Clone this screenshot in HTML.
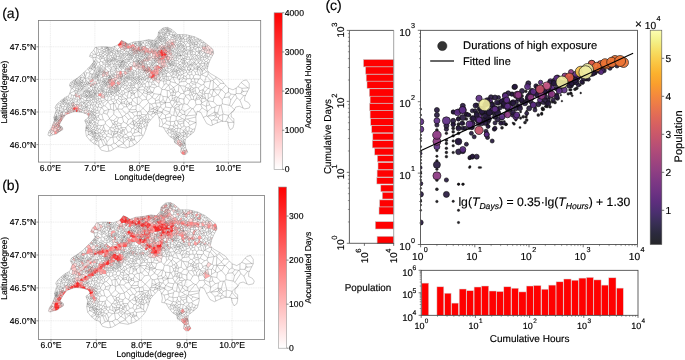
<!DOCTYPE html><html><head><meta charset="utf-8"><style>
html,body{margin:0;padding:0;background:#fff;width:685px;height:360px;overflow:hidden}
svg{display:block;will-change:transform} text{font-family:"Liberation Sans", sans-serif;text-rendering:geometricPrecision;stroke:#000;stroke-width:0.16px}
</style></head><body><svg width="685" height="360" viewBox="0 0 685 360">
<defs><path id="net" d="M118.2 146.8l-.1-.7-2.6-2.6-1.7-.4-3 2 2.8 4.1M118.1 146.1l5.4-2.5 3.7 4.1M110.8 145.1l-2.9 .4 1 5.6M115.5 143.5l3.1-2.9-2.5-3.7 1.4-.8 1.9 1.2 .9 1-.8 2.1-.9 .2M113.8 143.1l-.9-6-2 .4-3.9 4.3-1.6-4.1-2 1.9 2.8 5.5 .5-.1 .3-3.2M107.9 145.5l-1.2-.5M50 130.9l1.6-.8-.8-1.2M50 130.9l-.5-.3M50 130.9l.4 .8 1.7-1.2 1.4 .6-2 2.3-.2 0-1.1-.6 .2-1.1M51.6 130.1l.5 .4M105.4 137.7l0-.1 1.3-1.4 4.2 1.3M103.4 139.6l-2.1 .3 2.4 5.8 2.5-.6M243.7 95.6l1.8-.1M243.7 95.6l-3.7 4.7 3.1 7.8M243.7 95.6l-2.9-1.9-4.7-.2-.6 1 1.4 3.3 3.1 2.5M233.6 122.3l-5.2-5.7-2.7 4.8M233.6 122.3l-5.9 .2M233.6 122.3l.3 .1M228.4 116.6l0-1.2-5.2-1.3-2.1-9.1 1.3-1.1 7.1 1.4 1.7 1.1 3.1 3.3-5.9 5.7M213.1 50.8l-.4 1 .6 .1M212.7 51.8l-.3 .3-1.2-.3 .1 1.5 1.5-.5-.4-.7M123.5 143.6l0-.5 .3-.7 2.9-2.6 1-.3 1.7 1.7 1.1-.4 .2-1.5-2.6-1.1-.4 1.3M93.7 50.2l2.5 4.4-2.9-.5-1.6-1.9M96.2 54.6l.1 .1 .5-1.1-.3-5.8 1.2 .9 1 3.5-1.9 1.4M93.3 54.1l-.9 2 .8 1.4-.3 .4-3.5-1.4 1.4-3.4 2.8-2.8 1.4-2.8 5.6-.7 5.5 0 5.6 .7 5.5-2.1 2.8-2.8 1.4-2.2 3.6 1.5 3 2.2 5.8-2.2 7.3-.7 7.3-1.5 5.8 .7 3.7-4.3 .7-4.4 4.4-3.7 4.4-.7 4.4 2.2 5.8 5.1 8.2 0 8.8 2.2-.1 .3-3.3 .3-.1 0-1.3 0-1.2 .4 .3-1.6 0-.8M97.7 48.7l2.2 .9 1.3 1.3-.3 1.1-1.2 .7-1-.5M96.5 47.8l-.3-.4M100.9 52l1.2 1.5 .5-.2 .5-1.4-.6-1.1-.1-.1-1.2 .2M99.9 49.6l1.1-.7 1.6-.4 .6 1.2-.8 1M99.7 52.7l-.2 1.9-.6 .6-.5 .2-1.7 .2-.4-.9M58 123.5l.1-1.6 2.1 1.2M58 123.5l2 0M58 123.5l-.5 .7-1-.6 .1-1.4 1.5-.4 0 .1M53.5 131.1l.1 0 .4-3.1-2.3-.6M51.5 133.4l1 1.5M50.2 132.8l-1.7 .1M51.3 133.4l-1.8 2.5M53.6 131.1l.8 .5 .3 2.7M54 128l.3-.2 2.7 1 .1 .1-.5 1.6 1.8 .4 .4 .4-.6 .3-1.9-.1-.2-.3 .5-.7M54.4 131.6l1.7-.4M58.8 131.3l.8 .2M58.2 131.6l-.1 .9M58.4 130.9l.3-1.4 .8 0 .5 1.2 0 .6M56.3 131.5l.5 .7 1 .6M60 130.7l1.4-1-.5-.7-.9-.2-.1 .1-.4 .6M58.7 129.5l-1.6-.6M56.8 132.2l-.3 1.6M57 128.8l.7-1.3-1.1-.9-.1-1.1 .2-.3 .8-.5 .5 1.1-.1 1.5-.2 .2M54.3 127.8l.3-.9 0-1-.1-.1-1.9-.7M241.2 82.5l6.7 5.4-5.9 .4-4.1-1.6M247.9 87.9l1.3 .2-1.8 3.6-2.7 5.4 0 3.6 3.6 1.8 1.9 2.8-1 2.7-4.5 .9-5.4-2.7-3.6 .9-1.8 3.6-2.7 2.7 0 3.6 2.7 1.8 0 5.4-.9 3.7-2.7 1.8-1.8-3.6-1-4.6-6.2-.2-5.8 2.2-4.4 2.2-4.4-2.2-2.9-5.1-2.9-5.9-3.7-1.4-1.4 5.8 .4 7.3-1.9 7.3-5.1 4.4-3.7 2.9-.5 3.3 .7 5.9 2.2 4.3-2.2 2.2-2.9 0-2.2-2.2 .7-4.3-2.9-3-3.7-2.2-.7-3.6-4.4-2.9-3.5-4.4-2.8-4.8-4.1-.7 .7-4.2-1.4-6.2-2.1-2.4-4.2 4.5-4.1 4.8-2.1 6.3-2.1 5.5-2.8 4.2-4.2 4.2-4.1 2.7-6.7 2.3-8.3-1.4-7 4.1-4.1 .7-5.6-1.4-3.3-5.1-3.5-1.1-4.4-3.5-3.5-4.4-.9-5.2 .9-6.2-1.7-4.3 2.8-1.8 1.3-2.2-2.5-2.5-3.8-1.3-3.7-.6-3.8-.3-3 .6-6 2.4-3.5 4.4-2 3.5-1.3 2.5 3.3 2.3 .3 2.3-4.3 2.6-1.9 1.6-3.5 .9-3.5 1.3-1.7-.9 .9-3.5 2.6-3.5 3-7.8-.6-2.8 1.2-3.7 1.3-3.8-1.3-2.5 1.3-2.5 3.7-3.7 5-3.8 3.8-1.9 1.2-3.1 1.3-3.7-1.9-3.8 1.2-2.5 5.7-3.7 5-3.8 2.6-2.5 2.8-2.8 4.1-4.1 2.8-3.5-.7-4.2M242 88.3l0 2.2-.7 2.2 2.4-1.3-1.7-.9M249.2 88.1l0-4.5-2.7-3.7-3.6 .9-2.7 2.8-2.7 3.6-4.5 2.7-4.5-1.8-.1 4.1-2.8 1.5-3.9-4 4-4.3M240.8 93.7l.5-1M236.1 93.5l.1-5.5M235.5 94.5l-.7 .1-4 5.4-1.8-3 2.1-3 3.7 .6M236.9 97.8l-5.7 8.6M149.2 88.1l.1-1.1 .1 0 .9-.2 4.2 1-1.6 4.7 0-.1-1.9-1.2-1.8-3.1-1.8 2.8-.9-1.2-1.8-1.4 .2-1 .8-.6 2.1 .2-1.3 2.8M149.3 87l-1.5-.1M149.4 87l-.9-4.9-.9-.4-.7 0-1.8 2.2 .6 2.8M150.3 86.8l1.5-2.6 .1-1.9 1.1-.7 2.5 3.5-3.7-.9M152.9 92.5l1 1.2-1.7 3.5-.1 .3 3.1 1.7 4.1-4.8 1.3-.2-1.5 5.5-3.5 1.1-.4-1.6M152.9 92.4l-.6 .3-2.9 1.4 2.8 3.1M154.5 87.8l2.5-1.3-1.5-1.4M151 91.2l-3.7 1.1-.2-.4-2.9-1.4-.8 2.3 3.8 1 .1-1.4 0-.1M101 48.9l.5-2.1M103.2 49.7l1.8-.1 .1-.2 0-.2-1-2.4M102.6 48.5l0-1.7M105 49.6l.5 .9 1.8-.1 .3-.5-.2-.8-1-.4-1.3 .7M105.1 49.2l.6-1.6 .9 .7-.2 .4M106.6 48.3l0-.1-.1-1.3M105.7 47.6l.3-.8M114.6 46.9l-.1-.5M114.6 46.9l-.6 1.3-.5 .7-1.6-.1 0-1.4M114.6 46.9l2.7 2.6-.3 1.1 3.8 0 .1-1.1-.7-1.6-.6-.3-2.3 1.9M111.9 48.8l-.9 .4-.9-.4-.2-1.5M114 48.2l1.9 2.2-2.4-.8 0-.7M159.6 33.3l-1.1-.8M159.6 33.3l.6-.2-.3-.6-1.4-.1M159.6 33.3l-.3 .9-1-.3M160.2 33.1l.6 .4-.6 1.2-.9-.5M159.9 32.5l.3-.4 2.1 .1-.4-1.2-.8-1-.2-.2M160.2 34.7l.1 1-.9 .2-1.3-1M160.8 33.5l1.3-.6 .2-.7 1 0 1.3-1.8 1.1 1.3-.5 .5-1.4 .2 .5 .9 .5 .5 .9-.1-.5-1.5M161.9 31l2.3-1.3-.1-.2-1.3-.2 .1-1.2M161.1 30l1.7-.7M160.2 32.1l-.4-1.4M162.1 32.9l.4 1.1-.1 1.1 .5 .2 1.2-.6-.5-.6-1.1-.1M58.1 121.8l.1-.4-1.3-.5-.9 .8 .6 .5M57.5 124.2l0 .4 0 .1M56.5 123.6l-1.5 .1-.5-.5-1.9 1.7M54.5 123.2l-.5-1.1-.2-.2M54 122.1l1.6-.5 .4 .1M55 123.7l-.1 .7-.4 1.4M55.6 121.6l.2-1.1-.3-.1-1.3 .7-.2 .2M110.7 119.9l2.8 .7 3.7-3.5-3.5-2.9-4.2 4.1-.2 .7 1.4 .9 2.1 4.2 1.9-2 .4 2-.9 .4-1.3 .1-.1-.5M113.5 120.6l1.4 .9 2.3-.2 1.3-3.5-1.3-.7M113.7 114.2l.3-3.6 2.9-1.4 .7-.2 4.9 7.7-.2 .5-3.8 .6M109.3 119l-3.9 2.7-2.1-1.8-1.4-5.4 1.6-1.3 3.6 1 2.4 4.1M124.5 101.6l2.2-2.3 .5 2-.9 3.7-1.5-1.2-.3-2.2-3.3 .9 .3-2.5-3-1.6-1.2 1.2 3.8 3.3 .1-.4M126.7 99.3l.1-.4 .9-.9-.4-1.2-2.8-2.7-1.2 .3-.5 .4-.3 1.5 3.4 2.5 .9 .1M127.2 101.3l2.2 1.5-1.1 1.1-1.9 1.2-.1-.1M124.8 103.8l-3.9-.4 0 .1 3.5 3.5 2.2-.3-.2-1.6M129.4 102.8l.2 .1 0 1.2-1.3-.2M114 110.6l-.4-.2-2.7-1.2-.9-4.7 3.4-1.1 .1 0 .1 7M116.9 109.2l-2.4-5.6-1-.2M117.6 109l.1 0 4.1 .1 2.6-2.1M122.5 116.7l2.2-1.3 3.6 4.1 3-1.2-3.6-5.2-1.6 .8-1.4 1.5M122.3 117.2l1.3 4.8 3.1 1.7 1.6-4.2M144.9 87.3l-2.7-.8-2.9 1.2-1.1 .7-.5 .8 .1 .5-5 1.1 .1 1.5 1.8 .9 3-2.5 .6 6.3-1.2 .6-1.8 0-1-3.4 .2-.6 .2-.4M144.7 88.3l-.8 1.6-6-.1-.1-.1M147.4 90.9l-.3 1M137.1 97.6l.4 6.8 1.6 .1 3.3-4.5 4.1-.6-.2-1.6-3.9-3.7-2.9 3.2-1.2-.3M135.3 97.6l-3 1.6-2-1.3 .8-2.2 3.2-1.5M137.7 90.7l.2-.5 0-.4M134.5 93.6l-3.5-.2 .1 2.3M129.6 102.9l1.9-.7 .2 2.5-2.1-.1-2.5 2.5-.5-.4M129.6 104.1l0 .5M127.1 107.1l2.2 3-.2 1.3 3 1.3 2.6 3.4-2 2.8-1.4-.6M131.7 104.7l1 1.5-3 3.6-.4 .3M131.5 102.2l1-1.9 4.8 4.2-1.1 1-3.5 .7M84.9 75.9l-.6-3.8M84.9 75.9l-1.4-3M84.9 75.9l.3 1.6 1.6-4.7-1.9-1.3M85.2 77.5l-.1 .7-.2 0-.5-.4-2.7-3.2M86.8 72.8l2.9 .2 .1-.8-1.3-2.5-1.1-.7M206.3 48.7l-2.6 .8-.2-.1 2.1-2.7 .7 2 1.4 1.3-.3 .2-3.1 0-.6-.7M205.6 46.7l.1-.3-3.3 .4-.2-.7 .5-.8 1.7-.2 1.3 1 .1 .1-.1 .2M203.5 49.4l-1-.3-.2-2.1-3 .3 2.3 2.4 .9-.6M159.3 94.4l-5.4-.7M155.6 100.8l-.4 2.2 .4 .2 4.3-.5 .2-.6-1-2.4M164.1 29.5l-.1-1.7M164.2 29.7l.4 .3 0 .4M163.8 32.4l-.5-.2M164.3 33.3l-.7 .8M164.8 33.8l-.4 .9 .2 .4 1.6-.9-.1-.2 1-1.1-.5-.8-.9 1.6 .4 .3M165.7 31.7l.8-.1 .5-.4 .3 0 .4-.1 .1-.2 .1-.4-.4-.7-.7 .8 .2 .6M164.6 30l1-.4 .7 .2 .4-.3 .2-.9-.1-.3-1-.3-.2 1.6M167.7 31.1l1.5 .6-.3-1-1.1 .2M167.9 30.5l.6-.9-.2-.2-.3-.2-.4 .2-.1 .4M167.3 31.2l2.1 2.8-2.3-1.1M166.8 30.6l-.5-.8M166.6 32.1l-.1-.5M178.2 38l-1.2 2-.8-1.8 .3-.4 1.7 .2 .2-.1 1.4 1.1-.1 .3-1.8 1.4 .8 1.1 1.5-.4-.5-2.1M177 40l-.1 .3-1 .6-.3-.5 0-2.1 .6-.1M176.5 37.8l-.3-1.4-.6 .1-.7 1.7 .7 .1M176.2 36.4l.3-.3-.2-.8-1.3-.9-.3 1.1 0 .1-.8 .3-.4-.5 1.2 .1M175.6 36.5l-.7-.1-1 .5-.5 .6 .5 .8 1-.1M148.5 82.1l.4-.2 3 .4M145.1 83.9l-.5-.1-2.3 1.2-.1 1.5M146.9 81.7l-1.5-1.4-.3 0-2.2 1 0 1.3 1.7 1.2M147.6 81.7l.6-3.1 .5-.8 .2-.1 2.1 .3 .1 .2-2.2 3.7M243.7 91.4l4-.3M228.4 92.2l2.7 1.8M225.6 93.7l-1.5 3.8 4.9-.5M228.5 88.1l-3.7-3.6-2.7-3.7-5.4-3.6-7.2-4.2-2.5-3 1.5-6.2 2.2-5.1 2.9-5.1-.8-4.4-4.3-3.7-6.6-5.1-7.3-3.6M221.7 89.7l-.4 .1-.2 .1-3 5.1 4.1 4.7 1.9-2.2M230.8 100l-1.3 5.3M210.9 80.9l-3.9-4.7 1.2-2.4 5.6 5.7-.7 .9-2.2 .5-.3 .1-6 1.1 1.6-5.5 .8-.4M213.1 80.4l.3 1.1 4.6 4.6 2.5-2.8-4.9-5.2 .7-1.1M213.8 79.5l1.8-1.4M208.2 73.8l-.1-1.8-1.6-.2-4.5 2.5-.5 .5 4.7 1.8M210.6 81l-1.7 7.6-.9-.2-3.1-1.9-1.1-2.2 .6-2.1 .2-.1M220.5 83.3l3.5 .2M153 81.6l.3-.6-2.2-2.8M157 86.5l1.8-.1 2.7 2.4 .4 .7-1.3 4.7 2.3 2.1 4.5 .7-.2-6.6-2.6-.8-2.7-.1M152.1 97.5l-4.3 3-1.3-1.1M191.4 131.5l1.1-2.2 2.5-.4M191.4 131.5l2.1 .7M191.4 131.5l-.6 .2-1.8-.9 .4-3.2 3.1 1.7M116.2 128.6l-1-1.8 .2-.3 1.6-.7 .3 .3 1.4 3-2.5-.5-1.8 .8-1.8-1.5-1.7-.3-.9 .3-.1 .8 1 1.8 1.6 .7 2.5 .3 .2-.2-.8-1.9M115.2 126.8l-2.6 1.1M118.7 129.1l.2 .1-1.2 2.3-.1 .8 0 .6-4.4 2.6-.4 .9 .1 .7 3.2-.2M117 125.8l-.1-1.4 1-1.5-.7-1.6M117.3 126.1l3.7-1.1 .3-1.3-3.4-.8M115.4 126.5l-1.2-2M186.3 115.9l-.4 .2-1-1.5-.1-3.2 5.6-3.6 1.8 .8-5.9 7.3 10-1M185.9 116.1l-.5 2.9 1.9 .1 2.8 1.8-1.9 2.1-3.4-3.2 .6-.8M184.9 114.6l-2.1-.2-3.2-2.6 .3-1.3-.5-.3-.5-4.1 1.3-1.3 1.7-.8 1.2 .2-1.5 5.5-1.7 .8M192.2 108.6l1 .2 2.9-4-.9-4.3-1.6-1-2.2-.1-1.6 .9-2.4 4.3-3.3-.9-.2-4.5 1.5-2.9 4.4 4M190.4 107.8l-3-3.2M184.8 111.4l-3.2-1.7M73.7 95.5l-.6 2.7-1.1 .8-1.1-.4 .6-3.8 2.2 .7 1-.2 .2 .2 .7 .9-.5 2.6-2-.8M72 99l.2 .4 2 .8 1.1-1 2.2 1.2-.2 1-.2 .2-3.4 .8 .5-2.2M71.5 94.8l-1.6-1.5 4.8-2.3 .6 2.1 0 .6-.6 1.6M70.9 98.6l-.6 .2-1.8-1.9-1.1 3.5 2-.3 .9-1.3M72.8 102.7l-.6-2.4-2.2 .8 .3 .9 1.7 1 .8-.3 .2 0 .4 1.4 .6 1.5 .2 .2 1.3-1.4-2.1-1.8-.4 .1M72.2 100.3l0-.9M72 103l0 .1-.4 1.2 .3 1.3 .1 .1 .3 .5 1.9 0 0-.4M70.3 102l-1.5 .9-.7-.2-.5 1 .3 1 1-1.7-.1-.1M70 101.1l-.6-1M85.3 81.7l-.9 1.1 .5 1.6 .5 .2 .6-.1 .5-.5-1.2-2.3 .4-1.2 1.1 2.3-.3 1.2 .2 0 1.8-1.7 0-.2-.6-.3-1.1 1M84.9 84.4l-1.2 .2-.4-.1-.8-1.2 0-.4 0-.1 1.9 0-1.7-2.7-.2 1.3 0 1.4M86 84.5l.8 1.2-.9 1.1 1 .3 .7-.2-.1-.6-.7-.6M85.4 84.6l-.4 1.9 .3 .3 .1 1.7-.2 .2-.8-.1-.7-1.3 .1-.2 .9-.6 .3 0M105.5 50.5l-.1 1.2-.1 0-2.8-.9M107.3 50.4l.3 .4 .8 .2 .1-.6-.3-.8 .7-.4-1.1-.5 0-.5 0-.1 .5-.2 .6 1.3 .2 0-.6 1.2M107.4 49.1l.4-.4M107.6 49.9l.6-.3M106.6 48.2l.9-.1-.3-1.2M102.1 53.5l-.3 .7 1.6 1.8 1.5-1.1-1.3-1.4-1-.2M103.1 51.9l1.2 .3-.7 1.3M117 50.6l-.1 .1-.2 .2-.8-.5M119.6 47.6l-.8-1.8-.6-.6-.5-.3M120.8 50.6l0 .4 2.1 .9 1.3-1.3 .5 .1 1.2-2.1-1.8-.3-.3-.6 .9-.8 1.4 1.6-.2 .1M120.2 47.9l1.9-.8 .3-.7-.1-1.5-.8-.4-2.7 1.3M120.9 49.5l2 .2 .3-2.1-1.1-.5M118.2 45.2l2.4-2.1 .2-1.8M111 49.2l.3 .8-.8 1.1-.9-.6 .2-1.4 .3-.3M109.6 50.5l-.8 .8 .1 .7 1.7-.4-.1-.5M109.8 49.1l-.7 .1M111.3 50l.6 .5-.6 1.7 .2 .2 1 .5-.4-2.4-.2 0M120.6 43.1l.9 1 .2-.4 0-3.2M121.7 43.7l1.3-.6-.9-2.4M121.5 44.1l0 .4M123 43.1l.4 .5-.4 .9-.7 .4M122.4 46.4l.5-.2 .7-1.2-.6-.5M123.4 43.6l.9-.1 .1-.4-1.5-2.1M122.9 49.7l1.1 .6 .1-2M123.2 47.6l.6 .1M129.1 51l.3-1 0-.2-.2-1.3-1.9-.3-.2 .1-.5 3.1 .5 .2 1.2-.1 .8-.5 1.3 1.1 .3 0 1.4-1.1 .3-.1 .2-.2-.6-1.1-1.1 .3 1 1.1 .2 0M129.4 50l2.5 1M129.4 49.8l1.5 .1M129.2 48.5l.1-.2 .1 0 1.4 .1 1.3 1-.1 .2M127.3 48.2l-.1-.3-1.9-1.7-.3-.1-.3 .8M127.1 51.6l-.1 2.2-1.9-.6 .6-1.7 .9-.1M128.3 51.5l.1 .3 .9 1.9-.4 .2-.6-.9 .1-1.2M127.1 48.3l-1 .2M127 53.8l.4 1 .9-1.8M125.1 53.2l-.3 .4-1.2-.3-.2 .6 .6 1.5 1-1 1.6 1-.7 .8-2.2-.5 .3-.3M125.7 51.5l-1-.8M124 50.3l.2 .3M55.4 112.7l1.7-.5-.2-2-.7 .1M57.1 112.2l1.4 .1 .7-1.1 1.6 2-.3 .7-1.8-.2-.2-.1 0-1.3M56.9 110.2l.7-.2-.7-2.3-1.6 .5M56.9 107.7l.4-.4-.4-2.9M57.6 110l1.8 .4-.2 .8M54.9 124.4l1.8 .8M54.6 126.9l2-.3M54.6 125.9l1.9-.4M58 125.8l1.8-.1 .2-.1M57.9 127.3l.7 0 .8-.6 .4-1M57.5 124.6l1.8 .2M58.6 127.3l.7 .7 .6 .9M59.4 126.7l.2 .2 .8 0-.3 .4-.1 0-.4-.4M59.3 128l.7-.5 .4 .4-.4 .9M56.9 116l.4 1.1 1.7 .4-.1-1.6-.1 0-1.9 .1-.2-.1-.2-.2-.2-1.4 2.2-.7M57.3 117.1l-.1 .6-.6 0 0-1.8 .1 0M58.8 115.9l-.1-2.2M59 117.5l.1 .3 .9 .2 .1 .1-.2 .8-.3 .8-.7-.6-.5-.6 .7-.7M58.9 115.9l.7-.1 .3-.2 .8-1.3 1 .4 .4 0 .7 0-.2-1-.9-.9-.4-.1-.1-.9-1.4-1.4-.4 0 .2-2.3-.1-.2-2.2-.6M61.6 116.4l.1 .5 2.4-1.5-.6-.2-1.9 1.2 0-.1-.6-.1 0-.3 .5 .1 .1 .3M61.7 116.9l-.1 .2 .5 .9 2.2-2.5-.2-.1M63.5 115.2l-.7-.5M62.1 118l-.1 1 .2 .4M61.6 117.1l-.9-.1-.1-.4 .4-.4M64.3 115.5l.3 0 .5-3.3 .8 .1 1.3 .6-.2 1.3M60 127.5l0-.2M60.4 127.9l.6-.4 .2-.1 .7 .7-1 .9M114.9 121.5l-.2 .6M105.4 121.7l-.2 2 4.8 4.2M103.3 119.9l-2.8 0-2.2-2.9-1.9 .9 .2 1.2 .5 .9 1.4 .4 2-.5M101.9 114.5l-1.8-.6-.9-.9-3.2 .4-.4-.5 .2-2.7 2.2 .3-.5-3.3-.9-.1-1.7 1.9-1.1 .2-.6-.2-.1-1.6 2.8-1.5 .7 1.2M103.5 113.2l.6-2.3 4.8-1.4-4-3.7-1.5 .3-1 .8-.4 .6 2.1 3.4M107.1 114.2l2-4.7 1.8-.3M132.8 90.8l-1.5-.3-1.5 .6-.2 .2 1.2 1.5 2.1-.5M137.9 90.2l4.4 3.5 .1 .4M139.3 87.7l1.5-3.1 1-.4 0-.9-1.6-.7-.5 .7 1.1 1.3M138.2 88.4l-.1-3.7-.7-1-1.3 0-.7-1.2-.4 0-.5 .5 .2 1.5 1.4-.8M143.9 89.9l.3 .6M137.7 89.2l-2.6-1.6-.9-2.1 .5-1M127.7 113.1l1.4-1.7M126.1 113.9l-4.3-4.8M132.1 112.7l4.7-1.5-.8-1.7-6.3 .3M134.7 116.1l2.3-.6 .6-3.7 3-.9 1 3.5-.7 1-1.4 .2-2.3 0-.2-.1M132.7 118.9l.4 1.5-.3 .4 1.8 4.2-.3 .7-.5-.5-1-4.3 0-.1M117.7 109l1.3-4.2-2.2-2.2-2.3 1M142.3 85l-.5-.8M132.3 99.2l.2 1.1M130.3 97.9l-2.6 .1M131 93.4l-.2-.6M135.4 82.5l1.1-.8 .7 .8 .2 .9 0 .3M134.5 83l-1.1-.4-.3 1.7 .9 1.1 .2 .1M135 82.5l-.5-1.4 1.7-.6 .2 .1 1.4-.5 .9 .5 .4 .5 .6 .4-2.3 1.9M138.1 84.7l1.6-1.4M135.1 87.6l-.8 .1-1.5-.1-1.1 .2 0 2.1 2.6-2.2M129.6 91.3l-.2 0-.8 .3-1.3 5.2M131.3 90.5l.4-.6M129.8 91.1l.1-3.2 .4-.4 1.4 .3M89.7 73l.3 .5-1.2 3.2 2.8 .7-.4-3.6 1.3 .2-.2 4-.7-.6M88.5 69.7l1-.9-.2-1-.3-.4M89.8 72.2l2.2-2.8-.2-.4-.5-.8-.5-1.3 1.7-.3 1.3 .5 .2-.4 1.4-.5 .4 1.1-1.9 .2-.1-.4M105.4 137.6l-2.5-.8-1.9 2.8 .3 .3M106.7 136.2l0-1.4 1.4-1.4 3.4 1.3 1.3 1.7M108.1 133.4l.2-2.6-2.8 .4-.8 1.1 .3 1.2 1.7 1.3M111.5 134.7l-.6-4.2M105 133.5l-2.7 1.6-1.4-1.8 2.6-1.3 1.2 .3M108.3 130.8l1.6-2.1M105.5 131.2l-.2-.5-1.7-4.2 .3-1.5 1.3-1.3M61.4 129.7l.7 .3M61.9 128.1l.7 .2M103.7 145.7l-3.9 2.4M207.7 50l1.8-.2 .1-.1-2.5-3.7 .9-.9M207.4 50.2l-1.7 2.9 1.1 .4 .5 2.2-2.1-1.2 .2-1.3 .3-.1M204.3 50.2l.2 2.4-3.5-2.1 .6-.8M202.3 47l.1-.2M199.3 47.3l-.5-.2 1.1-2.3 2.3 1.3M204.5 52.6l.1 .2 .8 .4M201 50.5l-.2 .2 .5 1.8 1.3 1.2 2-.9M208.1 72l.3-.3M206.5 71.8l-2-2.3-.1-.3 .5-1.1 .3-1.1 2.6-.4M202 74.3l.2-2.2-1.1-3 .3 0 1.2 1.6-.4 1.4M201.5 74.8l-.6 .2-.6 .7-.1 2.4 4.2 4.1M167.4 97l.2 0-2.2 5.6-2.2-3.2-2.7 2.5 4.9 .8 0-.1M167.2 90.4l1.9 .1 1.5 2.5 .4 2.1-2.6 2.1-.8-.2M162.9 96.3l.3 3.1M164.6 89.6l4-4.7 .1 0 1.5 4.6-1.1 1M158.8 86.4l.2-2.9 1.2-2.8-.4-.6-3.3-.4-1 1.3 3.5 2.5M161.5 88.8l2.6-3.8 1.9-1.5 .3-2.4-2.2-.1-.7 .2 .7 3.8M168.5 29.6l.8 .2 1.3-.9M168.3 29.4l.9-1.2M167.6 29.4l-.9 .1M169.2 31.7l.4 .4 .1 1.2 2.1-1.2-.4-.9-1.7 .7-.1 .2M168.9 30.7l.4-.7 0-.2M172.5 35.2l.8 2.2-2.1 .3-.1-.3 1.4-2.2 0-.3 .1 0 .9 .5M173.3 37.4l.1 .1M171.1 37.4l-2-2.5-1.3 .9-.3 1.6 .8 1.4 1 .9 .6 .1 .6-.6 .7-1.5M167.5 37.4l-.9 .2-1.8-.1-.3 0-.7-1 0-.4 .9-.6 .5 .3-.4 1.7 .3 1.6 .8-.3 .7-1.2M167.8 35.8l-.3-.2-2.3 .2M169.1 34.9l.3-.5 2.9 .3 .2 .2M169.9 39.8l1.4 2.4 1.6 0 .3-.5 2.6-.6 .2 .8-.6 .9-2.5-.5 0-.1M169.3 39.7l-1.4 1.8-.7 0-.8-.8 0-.7 1.9-1.2M170.5 39.2l2.7 .3 .6-.6 .1-.6M174.9 36.4l-.2-.8M173.9 36.9l0-1M175 49.4l1.4-1.7-.7-.7-1.5 1 .7 1.4 .1 0 1.2 .8 .1 0 .7-1.5 .1-.6-.7-.4M174.9 49.4l-1.4 1.2-1-2.1-1.2 .5-.4 .6 .1 .5 2.3 1.3 .2-.1 .4 .4 .9 .4 .2 .3 2.2-.3 .5-.3 .7 1.3-1.4 .4 .2-1.4M174.2 48l-1.1-.1 0-1.5 .1-.1 1.6-1.4-.2-.3-.6-.4-1.1-1.9M175.7 47l-.2-1.7 1-.4 .3-.4 .4-1.4 1.3-.5 .2-.8M173.8 38.9l1.8 1.5M173.2 39.5l0 2.2M150.5 53.4l-.3 1.3-2.2-.7 0-.7 2.5 .1 .7-.7 .3 0 .9 1.2 0 2.4-1 .7-1.2-1.9 0-.4M148 53.3l-.1-.2-.1-.1-1.1-.9 .5-1.1 1.3-.8 1 .7-1.6 2.2M148 54l-.2 1-1.9-.8 1.9-1.2M159.8 80.1l-.1-.4 .1-.7-1.4-2.9-1.4 1.1 .1 .5 2.6 2M160.2 80.7l.4-.1 2.8 .6M155.5 81l-1.5-.4-.7 .4M156.5 79.7l-.2-.4-1.7-.1 .1-.8 2-.5-.4 1.4M222.2 99.7l.2 4.2M221.3 89.8l-3.3-3.2 0-.5M221.1 89.9l-7.7-.2-.1-.1-.3-.2-2.6 .3-1.3 3.3 2.8 2.4 1.6-5.5-.1-.2M218.1 95l-.7-.1-3.4 1.8-1.7-.5-.4-.8M212.5 125l-1.1-4.6-3.9-4.1-.8-.4-3.4 1.5M211.4 120.4l1.9-.5 3.9 .3 .2 2.6M206.7 115.9l.7-4.5-.1-.2-1.1-4.8-5.1-2.4-.4 .3 1.3 3.5 5.3 3.4M207.5 116.3l.3-.1 6.8-4.1 .3-5.1-3 .9-4.5 3.5M203.8 84.3l-2.3 .8-4.5-2.6-1 .6-.4 1.1 .4 3.1 2.3 .6 3.2-2.8M204.9 86.5l-1.7 3.2 1.5 2.7 3.3-4M208.9 88.6l1.5 1.1M207.1 46l-1.3 .2M209.6 49.7l.1 0 2-1.5M209.7 49.7l1.5 2.1M152.3 92.7l-5-.3M149.4 94.1l-2 .2-1.1 3.5M184.9 154.5l0-.2-.3-.9-1.8-1.8-1.6 1.3M184.9 154.3l2.4-3.2M182.8 151.6l0-.6 1.1-.6 .6 .1 .2 2.3-.1 .6M182.8 151l-1.7-1.7M183.9 150.4l-.4-1.7 1.4-.9-1.5-1.2-1.8 2.1 1.9 0M184.7 152.8l1.9-3M184.5 150.5l2-.9M189.4 127.6l-.4-1 .9-1.4 6-2.7 .2 0M189 126.6l-2.9 .4-2.1-1.1-2.3 1.6-1.8-3.4 3.8-1.3 .3 3.1M189.9 125.2l-1.7-2.2M195.9 122.5l-5.8-1.6M189 130.8l-1.1 .7 .1 1.6 .1 .5 2.7 1M190.8 131.7l.1 2.7M183.9 99.2l-4.9-1 .1 3.6 2.8 2.2M185.4 96.3l0-1.1 3.4-.5 .9 .5 1.7 4.2M184.1 103.7l-1 .5M130.5 140.8l1 0 2.8 4M130.7 139.3l.6-1.2-.2-1.7-2.7 .6 0 .1-.3 1.1M129.4 141.2l-.2 5.8M131.5 140.8l.4-.4-.1-1.5-.5-.8M123.5 143.1l-4-2.7M123.8 142.4l-1-5.3-2.5 1.2M126.7 139.8l-2-1.9 3.7-.8M124.7 137.9l-1.6-1.4-.3 .6M117.5 136.1l.6-1-.5-2.2M119.4 137.3l1.1-1.7 2.6 .9 .8-1.4 1.3-.6 1 0 2.2 2.5M118.1 135.1l1.5-.2 .9 .7M113.2 135.5l.4-1.1 4-2.1M113.6 134.4l.1-.2 1.3-2.7M115.2 131.3l2.5 .2 2.3 1.2 .8-1.3 .5 1.9-.4 .1-.9-.7M112.5 131.2l1.2 3M110.9 127.6l2-3M179.4 110.2l-4.6-2.2 4.1-1.9M180.2 104.8l-3.7-.2 .7-2.5 1.9-.3M174.8 108l-.1 0-1.1-.8 2.9-2.6M182.8 114.4l-3.4 2.1 3 2.1-5.5 2.3-.8-.6 .2-3.9 .9-.6 2.2 .7M179.6 111.8l-2.2 3.5-2.6-6.6-.1-.7M179 98.2l-.8-1.1-.7 0-.9 2.8 .2 2 .4 .2M69.7 85.7l.7-.2 2.2 2.8-.1 .3-1.3 .4M72.5 88.6l2.2 2.3 .4-.2 .8-2.2-.2-.4-2.4-.9-.7 1.1M73.3 87.2l.1-.5-3-1.2 1.2-1.4 0-.1-1.2-1.1M73.4 86.7l.4-.8 1.5 .5 .7 .6-.3 1.1M75.5 104.4l1.4 .1-.3 1.4 1.8 1.7 .7-1.3-.5-1.5-1.6-.4-.1 .1M73.4 102.6l.3-.2M74 105.6l-1.3-.2-.7 .3M73.4 104.1l-.7 1.3M72.3 106.2l-.2 .7-1.2 1-.8-.5 0-.9 1.8-.9M74.2 106.2l.5 1-1 .5-1.6-.8M72 103.1l-2.6 1-.5-1.1M71.6 104.3l-2 1.2-1.4 .7-.6 0-.3-1 .6-.5 1.3 .1 .4 .7 .5 1M93.1 107.4l-.6-2.3-1.5-.2 .1-1.6 1.8-1.2 .5 .2-.3 2.6-.6 .2M93.2 109l-.7 .2-1.2 1.6 1.3 .8 1.2-1.3 .2 1.8-1-.2-.4-.3M95.9 105.9l-.4-1 .8-1.5 2.4 1-.3 2.6-.9 .2M93.8 109.2l0 1.1M94.9 109l.9 1.2M75.6 96.4l1.1 .5 1.1 3.3-.3 .2M75.1 99l.2 .2M74.9 95.5l2-.3 .6-1.4-2.2-.1M75.3 93.1l2.4-.8 .6 1.1 0 .3-.8 .1M69.9 93.3l-.2 0M74.7 91l0-.1M75.9 88.5l2.4-.2 0-.1-.6-1.9-.5-.1-1.2 .8M75.1 90.7l.7 0 1.7 .9 .3 .2 1-.5 0-2.1-.5 .3-.8 2.1M77.3 101.4l2.3 1.7 .8-.2 .6 .1 .7 2.1-2.8-.5 .7-1.5M77.1 101.6l-.1 2.8M63.4 99.4l1.8 .3-.9-1.7M63.4 99.4l-.3-.5M63.4 99.4l0 .5 .1 .2 .1 1.1-.1 .4-.1 0-.7-.3-.1-.8 .8-.6M65.2 99.7l.4 .3 .8-.2-.1-.9-1.8-1M65.6 100l-.5 .5-1.6-.4M66.4 99.8l1 .6-.2 1.2 .9 1.1M66.3 98.9l.4-2.2M68.5 96.9l-.5-.9M60.8 103.7l-2.5-.7M60.8 103.7l.6-1.1-.7-1-.5-.4M60.8 103.7l-.2 1.6-.2 .3-.2 .1-2.8-1.8M61.4 102.6l.4 .3 1.1 1.2 .4 .1 0-2.4-1.5 1.1M60.7 101.6l2-.3M70.1 107.4l-.9 .4-.5 .4-1.1-.6-.4-.7 .4-.7M70.9 107.9l.1 .3-.5 1.6 1.6 .5 .3-.3 .4-1-1.8-.8M85.1 78.2l.4 .2 .3 1.2 2.1 2.2M84.9 78.2l-2.2 1.8 0 .1M84.4 77.8l-3.1-.1-.7 .9-.4-1.2 1 .3 .1 0M87 100.3l1.7 .9 1-1-2.7 .1-.6-.1-.1 .2 1 2.3 1.4-.3 .1-.1-.1-1.1M89.7 100.2l.8-.2 .4 .3-.4 1.1-1.7 .9M80.4 102.9l-1.2-3.4-1.4 .7M81 103l.8-.9 1 0 1.2-2 1.9 .4 .4-.1M78.9 104.6l-.3 .2M81.7 105.1l.2 .3 1.7-1.5 1.1 .3 .8 .5-.1 .3-1.1 1.2-.7 .2-1.7-.7 0-.3M86.4 100.2l.3-1.4-1.1-1.2-.1-.2 .5-1-.4-.9 .3-.8-2.2 .3 .2 1.2-1.4 .2-1 .7-.4 1.6 1.7 .1 1.5-1.7-.3-.8-.1-.1M88.7 102.4l2.2 2.6-.5 .3-2.3-.1-1.1-1 0-.1 .3-1.4M98 110.5l1.1 1.1 .1 1.4M83.7 84.6l0 1.3-.5 0-.5-.7 .6-.7M82.5 83.3l-1.1 1-.9-.7 .2-.4 1.4-.4-.6-.2-.3-.5-.6 .3 .1 .2 .8 0M82.5 82.9l-.4-.1M107.5 48.1l.3 .1M99.5 54.6l1.5 .1 .8-.5M96.7 55.6l-.5 1.5 3.8 2.3-.1-1.8-1.5-2.2M98.9 55.2l1.7 1.3-.7 1.1M100.6 56.5l.1 0 .6-.6 1.1 .3-1 1.1-.7-.8M104.3 52.2l1-.5M105.4 51.7l.3 .6 .4 1.1-.5 1.5-.7 0M113.5 49.6l-.1 1-1.3-.1M108.3 47.9l.7-.7M107.8 48.1l-.1-1.1M141.4 41.1l1.4 1.4 .7 .2 .8-2.2M142.8 42.5l-1.5 .5-.1 .2 .4 1.2-.1 .3 0 .1 0 .2 2 1.3 1.8-.2 .1-.3-.3-1.1-1.5-1.6-2 1.3M143.5 42.7l.1 .4M140 54.7l1 1.9-2.4-.5-.2-.3 1.6-1.1 .7-1 0-.2-2.3 .7-.1 1.5 .1 .1M141 56.6l.1 0-1.5 1.9-.1 0-.3 0-.5-.3-.3-.9 .2-1.2M166.2 34.2l1.3 1.4M164.4 34.7l-.3 0M164.6 35.1l.1 .4M123.6 45l1.2 .5 .1 .3-2 .4M143.5 46.3l-.3 .2-1.7 .3-.7-.6 0-.1 .7-1.1M145.3 46.1l.1 .5 .3 .5 .5 .7 1.9 .8 2-1.2-1.6-1.5-1.9-.4-1.2 .3M145.1 44.7l.8-1.4-.1-3.1M141.5 44.7l-1-1 0 1 1 .1M132.6 50.7l1.2-.3 .2-.4-1.5-1.2 .1-.7 .6-.3 .8 2.2 .6-.4 1 1 .2 0 .2-1.5-.9-.3-1.7-1.1 .2-.8 1.3-1 .8 .2 0 .1-.6 2.6-.5 .8M132.4 50.9l.4 1.2 .9 .1 .2-.2 .1-1.4-.2-.2M130.4 52.1l-.5 1.6-.6 0M130.7 52.1l1.1 1 .1 0 1.1 .5 .3-.4-.6-.9-.9 .8M129.3 48.3l.1-2 1.4-1.2 .6 0-.2 1.4 .2 .8 .5 0 .2-1.4-.5-.8-.2 0M129.4 48.3l1.1-.7 .9-.3M130.8 48.4l1.6-.4-.5-.7M132.1 49.4l.4-.6M60.8 113.2l.5-.5M60.5 113.9l.2 .4M56.3 114.3l-1.2-.9M56.5 115.7l-.2 .1-1.2 .3 .1 1.3 1.1-1.6M55.1 116.1l-.8-.1M55.2 117.4l0 .1-1.1 0-.3-.1M54.1 117.5l.8 1.1 .6-.7-.1-.3-.2-.1M56.6 115.9l-.6 1.4-.6 .3M56.6 117.7l-.1 0-.5-.4M57.2 117.7l.1 .2 .6 .9-.3 .4-.1 0-1.2 .5 .1 .6 .3 .1 .9-1.2 1 1.7 0 .1-.4 .4M55 119.9l.2-.2-1-.5 .7-.4 .5 .3 .1 .4-.3 .2M55 119.9l-.8-.5M55 119.9l0 .2-.8 1M55 120.1l.4 .2 .1-.8 .3 .1 .2 .8-.2 .1M55.4 120.3l.1 .1M56 120.4l.4-.1M55.8 119.6l.2-.1 .3 .2M56.9 120.9l-.2-.5M58.6 121l2.2 .9M115.1 124.1l1.8 .3M139.5 97.3l2.9 2.7M142.3 93.7l1.1-.9M147.8 100.5l.7 2.1-5.5 5.7-.1 0-3.8-3.8M147.4 94.3l-.2-.5M155.2 103l-3.7 1-1.6-.4-1.4-1M159.9 102.7l1 2.2 4.4-1.9 .1-.3 4.8-.3 .3-1.2-2.1-4M160.1 102.1l.4-.2M155.6 103.2l1.6 3.2-3.6 1.6-2.1-4M173.6 107.2l-1.3-.4-.1-.4-2-4M177.4 115.3l-.2 .5M174.8 108.7l-1.1 6.7 2.6 1M136.5 81.7l-.1-1.1M137.2 82.5l1.9-1.4M139.7 81.5l.2 .1 .3 1M137.8 80.1l.1-.9 .7-.6 .7 .4 .9 0-1.3 1.4 .4-1.4M138.7 80.6l.2-.2M141.8 83.3l1.1-.7M139.9 81.6l1.6-1.3 1.4 1M136 109.5l.2-4M136.8 111.2l.8 .6M143 108.3l4.7 4.3 0 .9-1.3 1.3-4.8-.4M142.9 108.3l-2.3 2.6M137.5 104.4l-.2 .1M110.5 100l.6-.6 3.5-.5 1 1-2.2 2.3-2.9-2.2-2.6 1.2-.5-.5 .8-3.4 1-1.3 2 1.4-.1 2M113.4 102.2l0 1.2M114.6 98.9l.1-2.6 1.9-1-2-2-.4 0-.9 2.1 1.4 .9M115.6 99.9l.6 .2 .6 2.5M125.9 98.8l-4 .8-.2-2.7 .8-.6M124.5 94.1l.3-1.2 3.8-1.3-3-2.4 2.2-.7 1.6 2.8M123.3 94.4l-1.6-2.7 .4-.9 1.6-.2 1.1 2.3M122.8 94.8l-1.1-.3-1.3 2.2-1.7-.3-.5-1.1 1.1-1.5 .4-.1 2 .8M121.9 99.6l-.4 .4M121.7 96.9l-1.3-.2M123.7 90.6l1.2-1.6-1.4-1.6-2.5-.5-.4 .6-.1 .9 .1 1.1 1.5 1.3M121.7 91.7l-2 2M134 85.4l-2.6 .3 1.4 1.9M133.1 84.3l-1.4-.5-.7-1.1-.9 3.1 .2 .2 .9-.4 .5-1.8M133.4 82.6l-1.1-1.6 1.1-.2 1.1 .3M131.4 85.7l-.2-.1M130.3 87.5l0-1.5M129.9 87.9l-1.7-.3-.4 .9M107.9 101.2l0 .7 2.1 2.6M107.4 100.7l-.7-.3-3.8 2.8 .5 2.9M111.2 97.4l1.2-2.1 .9 .1M109.2 96l0-1.1 2-.4 .2 0 .3 .1 .7 .7M108.2 97.3l-.8-1.1-2.8 1.1 .1 .9 .6 1.3 1.4 .9M86.7 84l.8 .3 .4 1.5 .9-.3-1-1.2-.3 0M88.5 82.3l.2 .3-.1 1 .7 .1 1.1-.2-1.7-.9M88.5 82.1l1.2-1-1.2-2.5 2.9 .5-.6 1.5-1 .5-.1 0M85.7 80.5l.1-.9M101 139.6l-.2-.1-.7-2.8-.1-.1-.6 .2-.8 1.5 1.6 1.3 .6-.1M102.9 136.8l-.4-.7-.2-1M103.9 125l-2.4 .5-2.1 3.5 2 1.1 1-.8 1.2-2.8M105.3 130.7l-2.3-.2 .5 1.5M103 130.5l-.6-1.2M101.5 125.5l-3.3-.2-.4-1.6-3.1-1.7 .3 1.8 1.6 1.5 .8 .5 .8-.5M99.4 129l-1 .3-.4-.7-.7-2.6-1.3 .8 .3 2.1 1.7-.3M101.4 130.1l-1.5 2.7 .3 .1 .7 .4M61 127.5l-.9-.2M61.2 127.4l0-.6 0-.4M202.7 45.3l.1-2.7 1-.4 .6 2.9M205.7 46.1l-.1-2.8M202.8 42.6l-1.1-.1-1.9 1.8 .1 .5M203.8 42.2l.2-.2M198.8 47.1l-.7 .3 .9 3.2 .6 .1-.4 2.6-.2-.1-.5-2.4 .5-.2M209.5 49.8l-.6 3.7-2.1 0M201.7 57.3l1.3-.6-.9-1.3-.9-.1-1 1.9 1.5 .1-1 1.6-.9-.9-1.5 .1 .1 .4 .8 1.4 1.7-.1-.2-.9M201.2 55.3l-1.3-.4-1 .6 1.3 1.7-.4 .8M202.1 55.4l.5-1.7M198.9 55.5l-1.6 .3 .6 1.8-1.8 1.5-.7-.4 .9-3.4 .2 .1 2.2-2.1-1.6-2-1 .2-.7 .8 0 1.9 .7 1 .2 .1M199.9 54.9l0-1 1.4-1.4M207.3 55.7l.6 1.3-3-1.4 .7 2 1.5 .7 .7-.2 .2-.9-.1-.2M205.2 54.5l-.3 1.1-1.9 1.1 .3 .9 .1 2-1.4 .7-.1 1.1 2.8 1.5 .6-1.2-1-1.7-.9-.4M208.9 53.5l1 1.3-.9 1.7 2.3 1.2M175.9 40.9l-.1 .2M176.9 40.3l1 .4M182.5 36.9l.2-1.3 2.5 .7-1.5 1.5-1.2-.9-.9 .3-.3 .3-.5 1 3-.1-.1-.6M182.7 35.6l-.1-1M185.2 36.3l1.1-.6 .2-.9M181.6 37.2l-.6-.6-1.2 .3-.3-.1 .3-1.9 .1-.3M181.3 37.5l-1.5-.6M180.8 38.5l0 .1-.1 .1 1.2 .8 .2 1.9-1-.1-.5-2.5 .1-.1M183.8 38.4l.1 .5 .6 .6-.5 2.3-.3 .3-.6 .1-1-.8M197 82.5l1.9-3.5 1.3-.9M196 83.1l-.8-.7-3.9-1.1-.6 1.1 2.8 1.7 2.1 .1M198.3 87.9l1.3 2.9-.2 1 2.9 1.8 .7-3.9-3.4 1.1M196 87.3l-1 .5-1.4 .3-2.2-1.2-.4-.4 2.5-2.4M200.8 50.7l-.2 0-1.3 2.6 .6 .6M196.1 51.5l-.3-1.5 .3-1-2.4-1.4-.2 1.3 2.3 1.1M195.4 52.3l-2.3-.9-.7 .3-.1 .2-.1 2.4 2.3 .1 .9-.2M197.1 51.3l1.4-.5M196.5 55.4l.8 .4M198.7 53.3l.3-.1M196.1 55.2l-2.8 2.7-.5-1.8 1.7-1.7M197.9 57.6l.4 .5M196.1 59.1l.4 .9-1.3 .9-1.2-1.8-1.1-.3-1 .4 2.7 3.8 .2 .1 .4-2.2M195.4 58.7l-1.4 .4M193.3 57.9l-.4 .9M192.8 56.1l-.7-.1-.9 3.3-1 .2-.1-.2-.7-1.6 1.6-3 1.2-.4M205.2 67l-.9-1.3-1.6 .6 0 .1 .5 2.3 1.2 .5M204.9 68.1l2.5 .2M204.5 69.5l-1.9 1.2M204.3 65.7l.2-.6-.1-1.4 .1-.2 2.5 .5-.1 1.2-2.4-.1M202.7 66.3l-1.8-1.4-.3-1.1 .6-.4 .7-2M203.2 68.7l-1.8 .4M202.7 66.4l-2.3 2 .1 .6 .6 .1M173 61.5l-1.8-.3 .2 1.3 1.6-1 .3 0 1-1 .3 2.6 .1 .1-.9 1.6-.9-1.8 .1-.1 1.6 .2M171.2 61.2l-.5-1.1-.1 0-1.1-.8 .1-1.8 2.4 .3-.7 2.1-.6 .2M171.4 62.5l-.1 .3 .7 .4 .9-.2M174.7 71.5l0-.4 1.6-.7 .2 .8-1.8 .3 0 .2 2.3 1.4 .1 0 .7 0 2.1-1.1 1.8 2.8-.4 .3-1.4-.1-1.5-.7-.6-1.2M174.7 71.1l-.8-1.8-.1-.1 .7-.4 .3-1.5 .9-.4 2.2 .2 0 .1 .2 .5-1.8 1.6-1.8-.5M176.3 70.4l.1-.8-.1-.3M174.8 67.3l-1.2-1.8 .1-.1 2.3-.4 .1-.1 1.8 2.2M175.7 66.9l.3-1.9M178.1 67.7l.2 .2 .2 2.5-.6 .1-1.5-.9M177.9 67.2l1.3-2.7 .2 0 1.1 2.5-1.5 1-.7-.1M173.8 69.2l-.1 0-1.6-2.2 1.5-1.5-.3-.2-2.9 .5-.2 .4 1.1 .9-.4 1.9-3-.6 0-.1 0-1-3-.5-.4 .6 .1 1.4 .8 .3 2.5-.8M173.9 69.3l-.6 2.9 .4 .4-.1 1.5-.8 .8-.9-3 .3-.2 .3-.1 .8 .6M176.1 64.9l.6-1 1.9-.3 .6 .9M173.7 65.4l.1-.6M165.3 103l.4 4.1 5.4 .7 1.2-1M160.9 104.9l-.3 2.1 2.4 2.4 2.7-2.3M170.5 101.2l1.2-.7 .6-1.9-.2-3.2 .3 .1 2.7 .1 .8 1-.5 .7-3.1 1.3M171 95.1l1.1 .3M170.6 93l2.6-1-1.5-3.2 1.9-1.4 .1 0 .5 1.4-.9 3.2-.1 0M165.8 28l-.3-.4M166.8 28.3l1.1-.7M166.9 28.6l1.1 .6 .1-1.5M176.5 36.1l.6 0 1-1.5M176.3 35.3l.8-1.1M175 34.4l0-.1 .2-1.8M177.1 36.1l.8 .4 1.9-1.6 1.2 1.7M176.2 50.2l-1.4 1.9M176.3 50.2l1.6 1 .4-.2 .1-.6-1.4-1.7M177.1 48.1l.3-.1 .3-.2 1-.1 1 1.5-.8 .4-1.5-1.6M177.9 51.2l-.2 .6M178.3 51l1.5 .5-.3 2.1 1.2 1.6 .4-3.2-1.3-.5 1.1-1.8-.1-.5 .5-1.1-1.7-1-.9 .6M178.4 50.4l.5-.8M148.5 45.9l1.4-1.3 .5 .8 .2 .6 .1 .3-.4 1.1-.2 0M148.1 48.6l.4 1.6M146.6 45.5l2.3-2-2.3-.6 1.2-1.3 .7 .3 .4 1.5 0 .1M146.2 47.8l-.3 1.8-1.2 1.6 1.8 .9 .2 0M145.7 47.1l-1.8 3.1 .2 .7 .3 .3 .3 0M145.4 46.6l-2.4 2.4-.8-1 1-1.5M138.3 55.7l-1.4-.2-.7 1.7-.8 .2 .5-2.2 .7 .1 .3 .2M138.4 54.2l-.1-.2-1.5-.2 0 .1-1.7-.4 .3-.7-1.3-.7-.2-.1M140.7 53.5l0-.1 0-1-2.4 1.1 0 .5M140.7 53.7l.8 1.3 .1 1.6 .3 .2 .4-.1 .4-2.2-1.2 .5M151.4 57l0 .2 .8 1.3 0 .2-.3 2.3-2.1-.8 .5-2.4 0-.1 1.1-.5M152.4 56.3l2.5-.2-.6 2.3 1.3 .3-.2-2.9-.5 .3M150.2 55.1l-2.2 .4-.2-.3 0-.2M152.4 53.9l1.8-.1-.8-2-1.9 .9M151.2 52.7l-.6-1.5-.1-.2-1-.1M154.2 53.8l1.3 .4 .2 1.4 .5 .3 2.1-.7 .2-.5 .8-.3 .3-.7-.3-.5-.6-.5-.3 1.5 .1 .5-2.2-1.6 .3-.4 1.8 1.5M153.4 51.8l.4-.4 .4 .2 1.6 1.9-.3 .7M159.6 53.7l1.3-.3-.9-.6-.7 .4M159.3 54.4l.1 0 .4 1-1.3 0-.2-.2M158.7 52.7l-.1-.1 .8-.7 .6 .9M156.6 52.7l.1-.1-.4-1-1.5-.2 1-1.1 .4 .1 .1 1.2M156.3 53.1l-.5 .4M156.3 65.7l-.4 3.5 1 .3 .2-.1 1.3-1.3-.9-2.6-.4 0-.8 .2-.4 0-.8 .3-1.3 1-1.1-.8 .9-1.6 1.5 1.4M155.9 69.2l-1.5 .4-.8-1.7-3.6-.9 .5-.9 .4-.2 1.4 .1 .4 .2M156.9 69.5l.2 2.3 1 .2 1.1-1-.5-.5-1.6-1.1M157.1 65.5l-1.6-2.9 1.3-.3 1.1 .4 1.1 1.4-1.2 1.2-.3 .2M158.7 70.5l-.3-2.4 1.3 .4 .4-.5 .2-.7-2.5-2M159 64.1l.3-.1-.2-3.5-1.4-.2 .2 2.4M155.5 62.6l-.2 0-.1-1 1.2-.3 .4 1M159.3 64l1.2-.1 .4-.4-.5-3.5-.4 0-.9 .5M155.7 55.6l-.3 .2M156.2 55.9l1 1.5 1.8-.6-.3 1.2-.9 0-.5-.2-.1-.4M154.3 58.4l-.2 .2 .4 1.5 1-.6 .1-.8 1.3-.2 .4-.7M159.2 71l.1 0 .8-1.7-.4-.8M158.1 72l.5 1.5 .1 .6-3.8-.3-.5 .8 .4 .7 1.1 .6 2.9-1.4 0-.2-.1-.2M157.1 71.8l-1.8 .6-.4 1.4M154 80.6l.6-1.4M213.4 81.5l-.4 7.9M218 86.6l-4.7 3M195.2 100.5l.2-.2 .5-1.4 1.7-4.4 .6 .6 1.4 1.8-3.7 2M196.1 104.8l4.6-.5M193.6 99.5l-.1-2.6-1.4-2-2.4 .3M193.2 108.8l3.2 5.8M217.2 120.2l1.4-1.2 4 2.2 .1 .1M222.6 121.2l.1-6.6-2.9 .8-1.4 2.3 .2 1.3M213.3 119.9l2.4-2.4 1.2-.4-1-1.9-.8-.2-1.2 .5 1.8 2M222.7 114.6l.5-.5M219.8 115.4l-1.8-1.4-.3-1 2.2-7.7 1.2-.3M218.4 117.7l-1.5-.6M203.2 89.7l-.2 0M204.7 92.4l.1 1 3.4 .3 0 4.8 4.1-2.3M209 56.5l-1 .7M209.9 54.8l.8-.1 1.9 .6M210.7 54.7l.6-1.4M176.1 125.5l-1.5-2.2-1.6 2.7 .5 .5 2.6-1 1.3 .3 .9-2.2-.4-1.7 6.2-1 .6-1.1-2.3-1.2M174.6 123.3l.1-2 1.4-1M173.5 126.5l.2 .4 2 1.6 2.3-.2 .2-.2-.8-2.3M173 126l-2.6-.6 0-3.7 4.3-.4M179.6 146.3l1.2-1.3 .6 .5-1.1 1.5M180.8 145l0-.6-.1-.1-1.7 .5-.1 .7M181.4 145.5l1.3-.3 .3 .4 0 .2-2.1 1.7M185.3 139.8l-1.1-.1-1.2-2.5 .3-.9 3.8 .8 .2 .3M184.2 139.7l-.6 .5-1.5-.2-.8 .9-1.5-1 1.3-1.5 .4 0 .6 1.6M187.1 137.1l-.1-1.5 .3-1 .8-1M183.3 136.3l-.1-.2-1.1-.3-1.6 .5-.7-.7 1.1-1.4 1.2 1.6M183 137.2l-1.5 1.2M183 145.8l.4 .8M182.7 145.2l0-.4 1.1-.7 0-.8 1.4 .4M183 145.6l2.4-.4M184.8 119.8l-.1 0M187.3 119.1l8.5-2.1M193.5 96.9l2.7-3.2 .1 0 1.1 .2 .2 .6M192.1 94.9l.1-.2-1.3-2.8 1.9 .1 .1 .1 .8 1.1-1.5 1.5M131.1 136.4l1.6-1.2 1.6 1.1 .3 3 .1 .5-2.8 .6M131.8 138.9l2.8 .4M134.7 139.8l2.4 3.1M126.7 123.7l1.1 1.3 2.2-1.4 3.8 1.6M123.6 122l-2.3 1.7M121 125l.2 2.5 4.8 .1 1.8-2.6 4 3.6 1.5-.4 1.8 1.1-1.1 3.8-1.4 1-1.7-2.3 .9-3.2M119.6 134.9l1.3-1.5M126.2 134.5l1.6-2.2-1.9-3.9-1.4 1.4-.6 1.1 1.3 3.6M123.9 135.1l-2-1.7 .4-2.2-1.4-.7-1.6-1.4 1.7-1.4 1.4 1.6 .2 1.7-.3 .2M134.3 125.7l.1 .4-1.1 2.1M134.6 125l1.6-2.8-1.9-1.3-1.2-.5M132.8 120.9l-2.8 2.7M132.7 135.2l-.1-1.1M134.3 136.3l8-1.1 .8 .7M134.3 120.9l3.8-2.9-.9-2.4M140.1 123.6l-3.1-.3-.8-1.1 2.1-1.3 1.7 2 .1 .7 .1 .1 .9 0 1.2-.4 .2-1.4-.5-.8-1.3-.2-.7 2M137 123.3l.3 1.8-.8 .8-2.1 .2M138.3 120.9l.9-1.1 1.5 1.1M172.4 95.5l1.1-3.4 2.1 .8-.5 2.7M175.9 96.6l1.6 .5M175.4 97.3l-1.2 2.5-.7 .4 1.2 2.3 1.3-.7-1-1.4-.8-.6M171.7 100.5l1.8-.3M178.2 97.1l2.8-3.4-2.7-2.2-2.3 .7-.4 .7M176.8 101.9l-.8-.1M176.6 99.9l-1.6 .5M176.9 120.9l1 1M184.1 120.9l-.4 1.9M173.7 115.4l-2-.2-1.9-2-.1-1.1 1.4-4.3M178.3 123.6l1.6 .5M92.4 56.1l-2.5-.9M93.2 57.5l2.8-.2-.1 1.9-1.8 1.9 .2 .3 3-.3-1.4-1.9M78.3 88.3l.5 .8 1.5-.6 .4-1.3-1-.4-.3-.7 .5-.4 1.6 .5 0 .4-.8 .6M78.3 88.2l1.4-1.4M77.7 86.3l.3-.4 1.4 .2M77.2 86.2l-1-1.1-.9 1.3M76.7 96.9l1.5-.4 1.8 2.5 .3 0-.4-3.8-1.1-.2-.2 .3-.4 1.2M79.2 99.5l.8-.5M79.1 106.3l2.6-.3-.2 1.1-1.3 1.7-1.8-.8 0-.4M76.6 105.9l-1.7 1.4-.2-.1M73.7 107.7l-.9 1.3 1.2 .7 .5 .2-.7 1.9-.5-1 .7-1.1M74.9 107.3l.2 .2 2.6 .8-.8 1-1.6-.1-.2-1.7M95.6 112.9l-1.2-.3-.4-.5M96 113.4l-.7 2-.5 0-1.8 .9 .2 1.1 .5 .3 2-.9 0-.4-.4-1M99.1 111.6l2.4-3.9-3.1-.7M93 111.9l-1.1 1.1-.1-.2-.7-1.9 .2-.1M92.5 109.2l-2.2-1.5-.8 .6-1.5-.3-1 1 1.4 1.8-1.2 .6-1.2-1.6 .7-.8 .3 0M94.4 112.6l-1.1 .8-1 .2-.4-.6M91.1 110.9l-.7 .1-1.1-.3-.5 .1-.2 2.3 .6 .4 .8-.4 .4-2.1M91.8 112.8l-1.3 .5-.5-.2M76.9 95.2l1.7 .1M77.7 92.3l.1-.5M78.3 93.4l1.6-1.4 .5 0-.2 1.4-1.8 .4-.1-.1M67.6 103.7l-1.4 .1 .5-1.8-1.6 .2-.5 .1-1.1-.7M67.2 101.6l-.5 .4M69.4 104.1l-.2 .7M60.6 105.3l2.3-1.2M60.4 105.6l.7 .4 .6 2.1 2.1 .6 .2-1.8-2.9-.9M60.2 105.7l-.7 2.2M59.6 108.1l2.1 0M59.8 110.4l4.2-.8 .2 .3 0 .5 .1 .4-1.1 1.4-1.3 .4 .3-1 2-1.2M61.2 111.8l1-.2M68.2 106.2l1 1.6M67.3 105.2l-1.8-.5-1 .6-.1 1.1 2.3 .5 .5 0M67.6 107.6l-1.5 1.6 .6-2.3M68.7 108.2l-.1 .6-2.7 .6 .2-.2M63.3 104.2l.5 .3 .8-2.2M63.3 101.8l.1-.2M81.2 82.1l.1-.1 1.2-.6M80.6 82.4l-.4-.4-.7 .2-.4-.2 .2-1.2 1.2 .4 0 .1-.3 .7M80.7 82.6l0 .6M81.4 84.3l0 .6 .3 .6 1-.3M80.5 83.6l-.5 .1 0 .7-.3 .7-.6-.3-.1-.9 .6-.3 .4 .1M81.3 82l-.8-.7M85.5 78.4l2.2-.4 1.1-1.3M82.7 80l-1.2 .1-1 1.1M76.3 82l1-.9-.4-2.7M76.3 82l-.5-1.6 .7-1.7M76.3 82l0 .1 .1 .2 1.6 1.4 .2 0 0-.9-1.8-.5 .1 1.7-.1 .1-.4 .4 .2 .6M77.3 81.1l.4 .1 1.4-.8 0-.1-2-2.1M75.8 80.4l-.3 .1-.2 1.6-.2 0-.1 0-.7-1 .7-.5 .5-.1M77.7 81.2l.8 .9 .6-.1M79.1 80.3l1.3-.8 0-.1-2.2-2M79.1 80.4l.2 .4M80.4 79.5l1.1 .6M80.4 79.4l.2-.8M86 109.8l-1.9 1-.2 .2-1.4-.6-.8 .7-.2 1.2M86.7 109l-.9-1 1.4-1-1.1-.1-.5 1 .2 .1M87.2 111.4l-1.1 1.3 1.6 .6 .9-.2M88.4 110.8l.4 0M82.5 96.4l-.7-1.8 .5-.4 .7-.1 .7 .9M84 96.3l1.6-.8M84.3 97.1l1.2 .3M82.8 98.8l1.2 1.3M81.5 97.1l-.2-2.2 .5-.3M81.1 98.7l-.7 .3 1.4 3.1M83 94.1l.3-.4 2.2-.3 .6 1-.2 .3 .7 1.2-.4 .4-.2 .1M82.3 94.2l-1.6-2.4-.3 .2M85.6 97.6l1.4-1.1-.8-.2M86.7 98.8l.4-.2 1-.6 .9 0 .7 .4 .4-.4 1.4-.4-.1-.6-.6-.4-.4 .7-.3 .7M85.9 100.5l-1.1 1.8 .1 .2 2.1 1.6M81.3 94.9l-.5-.1-.6-1.4M80.4 99l-.1 0M101.5 107.7l.5-.2M90.5 100l-.8-1.6M90.9 100.3l1-.2 .5-.5 .7 .1 .9-1.9-1.2-.3-.4 .6 0 1.5M90.5 101.4l.6 1.9M89.3 110.7l.2-2.4M89.2 113.5l.1 1.1-1.5-.1-.3 .5M88 108l-.3-1 .2-1.4 .2-.4M90.3 107.7l.1-2.4M87.7 113.3l.1 1.2M86.1 112.7l-1.7 .5-.5-2.2M90.5 113.3l.5 1.2 .7 .4 .6-1.3M88.1 91.2l-.1-.3-.1-.4 1.4 .3-.7 .8-.5-.4-.8 1.3 0-.9 .7-.7M87.9 90.5l-.1-.2-.9 .4-.8-.2 0-.4 .8-.8 1 .1-.1 .9M88.6 91.6l.4 1.4 0 .3 .1 .2 .4 .2 .2 0 .9-.1 1.5-1.2-.3-.6-2.6 .9-.2 .3M89.3 90.8l.2 0 0 .8 1.7-.6-1.8 1.5 .1-.9M86.1 94.4l.3 0 1.4-1.3-.5-.4-1.4-.4-.4 1.1M83.3 93.7l0-.4-.4-1.2-.5-1-.5 .1-.9 .1-.3 .5M86.9 90.7l-.1 .6 .5 .3M87.9 89.4l1.3-1.2-.4-.2-2.4 .2 .5-1.1M86.1 90.5l-.3 .3-1-.2-.3 .9 0 .1 .1 .2 1.2 .5 .1-.3-.1-1.2M86.1 90.1l-.9-.7-.5 .9 .1 .3M86.9 89.3l-.9-.8 .4-.3M81.4 84.9l-.8 0-.8 .5 .1 .3M81.7 85.5l-.2 .7M78.4 93.8l.4 1.2M79.9 92l-1.1-.7M80.8 94.8l-.9 .4M83.3 93.3l1.3-1.5M82.9 92.1l1.6-.5M82.4 91.1l.3-.3 1.8 .7M81.9 91.2l-.3-1.7-.5-.2-.2 1.8 .1 .2M81.6 89.5l1-.1-.1-1.2 1.6 .6-.7 1.2-.4 .1-.4-.7M81.1 89.3l-.3-.5-.5-.3M80.9 91.1l-2.1-1.9 0-.1M81.5 86.6l.2 .1 1.4-.3 .1-.5M78 85.9l.1 0 1-1.1M80.6 84.9l-.6-.5M79.8 85.4l-.1-.3M94.1 61.1l-.7-.1M94.3 61.4l0 .1 1.8 1.5-1.6 .7-.1 0-.7-.5 .6-1.7M97.3 61.1l1 1.2 1.2-.1 1-.8-.1-1.5-.4-.5M96 57.3l.2-.2M98.3 62.3l-1.5 .8-.4 1.9-.7 .3-.7-.2-.5-1.4M100.5 61.4l1.6 .4 2.6-1.5-.4-1.5-2.2-.4 1.4-2 1 1.7-.2 .7M99.5 62.2l.3 2.2-1.8 2.2 0 .5 .8 .1 1.6-.5 .3-1.3-.9-1M100.4 59.9l1-1.3 .7-.2M96.1 63l.7 .1M93.7 63.2l-.7 .2 .4 1.7-1.1 .3-.1 0 .2-1.9M94.4 63.7l-.9 1.4 .1 .1 1.4-.1M95.7 65.3l-.3 .9M96.4 65l1.6 1.6M93.5 65.1l-.1 0M93.6 65.2l.4 1.5M101 54.7l.3 1.2M105.6 54.9l1.1 1 0 .1 .2 .2 0 .8-2.4 1.1M105.7 52.3l1.6-.6 1.2 1.3-2.4 .4M139.2 58.5l-.2 1.9 .6 .2 1 .6-.3 1-.7 .6-.9-2.2 .3-.2M139.5 58.5l.6 1.2 .3 0 .5-.9-1.3-.3M138.7 58.2l-1 .7-.8-.2-.5 .2-.2 1.1 1.4-.3 .1-.8M138.4 57.3l-1.6 .3 .1 1.1M141.1 56.6l.5 0M144.6 58.4l-.9 .5-.4 .6 .3 .6 1.8 .4 .1-1.1-.9-1 0-.1 1.7-.4 .1 .1 1-.1 .4 .1-.1 .1-1.1 .6-.2-.7M143.7 58.9l-1.4-2.2 .6-.1 1.7 1.5 .2-.6-1.3-1.4-.6 .5M145.5 59.4l1.1-.5 1.2 1.3 .2 .8-1 .5-1.2-.4-.4-.6M143.6 60.1l-.1 .4-1.9 .4 1.1 .5 .7-.1 .1-.1 0-.7M143.3 59.5l-1.3-.2-.3-.4-.8-.1M137.2 61.6l-1.5-.6-.2 0-.6 .3 2.5 1.2 .2-.5-.4-.4 .7-1-2.2 .4M137.6 62l.2-.1 .2-1.3-.1 0M137.4 62.5l.1 .6-.4 .3-1.3-.2-1.8-1.6 .9-.3M135.5 61l.7-1M137.8 61.9l.2 0 .5-.4 .9 1.5-1.4-1.1M138 60.6l0-.1-.4-.8M134 61.6l-.4-.1-.1-.2 .2-1.4 1.1-2 1.6 1M135.8 63.2l.1 1.8-2.2 1.4-1-.3-.5 .4-1.7 0-1-.3-.7-.5-.3-1.4 1.3-.9 2.9 2.3 .5-3.6-2.6 .1-.8 1.2M137.5 63.1l1.6 .5 .2-.2 .5 .2 1.8 1.1 0 .1-2.5-1.1 0-.1M137.1 63.4l0 1.4-.7 .2-.5 0M136.8 57.6l-.6-.4M138 60.5l.6 .1-.1 .9M123.6 80.9l-.3 .8-2.1-1.4 .2-.6 .8-.4 1.6 .9-.2 .7 1.2 .1-.7 1.2-.1 .1-.7-.4 0-.2M121.2 80.3l-.3 .4-1.4 .4-.7 .4 1.7 1.9 .7-.7-.3-2M121.4 79.7l-.2-.3-.7-.4 0-1.8 .7 .1 0 1.8 0 .3M122.2 79.3l.9-1.1 1.2 .1 .1 1.7-.6 .2M133.7 59.9l-1-1.5-.2-1.1 .9-.8 1 .6 .4 .6 0 .2M133.5 61.3l-2-1.5-.1-1.5 1.3 .1M133.6 61.5l-.4 .6M108.8 51.3l-.4-.3M110.6 51.6l.6 .5 .1 .1M108.9 52l-.2 .9 .2 .2 .5 .9-.9 .6-.7-.4 .7-1.2 .2-.1M107.3 51.7l.3-.9M166.4 40l-.3-.1-1.3 .1 .9 1.1 .7-.4M167.9 41.5l.3 1 2.1 .6-.9 1.3-.8-.1-.6-1.3 .2-.5M167.2 41.5l-1.7 1.5 .1-1.6 .1-.3M162.4 35.1l-1.2 1 .2 .3 1.7 .4 .7-.3M162.9 35.3l.9 .8M164.5 37.5l-.6 .5-.2 .2-.2 .5 .9 1.4 .3-.2 .3-.6-1.1-1.3M161.2 36.1l-.4-.1-1.1 1.7 1.2 .5 .5-.2 .2-.3-.2-1.3M163.1 36.8l-.1 1-1.4-.1M163 37.8l.7 .4M165.6 41.4l-1.7-.6 0-.1-1.6-.8-.3 0-.4 .9 0 .6 2.1 .3 .2-.9M165.9 38.8l.2 1.1M165.1 39.1l-.1 .2M164.8 40l-.1-.1M140.8 46.1l-.4-.5-.7-.4 .1 1 .2 .3 .8-.3M141.5 46.8l-.4 1.1 .4 .3 0 .5-.4 .5-.8 .4-.3-.5 .4-1.3 .7 .1M141.3 43l-.7-.6-.4 .3-1.3-.6 1.8-.3-.1 .6M141.2 43.2l-.7 .4 0 .1M133.6 46.9l-1.5-1M133.4 47.7l-.2 .1M134.9 45.9l-.4-.5-.6-.6-1.3-.7 0-1.7M135.7 46.1l.9-.7 1.1-.1 .4-.5 1.6 .2 0 .2M135.7 46.2l1.8 2.2 .2-.2 .6-.8-.2-1.5-.4-.6M132.6 44.1l-1 1M133.9 44.8l.6-.9 .1-.9-1.5-.8M134.6 43l1 0 .3-.1 .1 .1-.7 1-.1 .1-.2-.3 .6-.8M134.5 43.9l.5-.1M140 46.5l-.2 .8-.2 .1-1.3 0M139.8 46.2l-1.7-.3M140.4 45.6l-.3-.9 .4 0M138.1 44.8l.3-1.3 1.3 .1 .4 1.1-.4 .3M140.5 43.6l-.7-.1-.1 .1M128.9 53.9l-1 1.2 .9-.1 .7 .2 .4 .6-1.4 1.3-.1 0-.9-1.8-.9 .1M129.9 53.7l.3 .5 .2 .1 .4 .1 .9-.9 .5 1.2-1 .4-.4-.7M127.4 54.8l.1 .5 .4-.2M131.2 46.5l-.7 1.1M132.4 48l.2 .1M134.5 45.4l.7-1.3M129.4 46.3l-1.5-1.1 .5-1 2.1 .5-.5-1.4M130.8 45.1l-.3-.4M132.8 52.1l-.1 .2M134 50.6l1.1 .6 .1 .4-1.1 .5M133.7 52.2l.1 .6-.5 .4M131.9 53.1l-.2 .4M133 53.6l.6 1.2 1.1-.4 .2-.6-1.1-1M133.6 54.8l-.2 .4-1.2-.5M134.7 54.4l1 .7-1.3 2M134.9 53.8l.2-.3M131.2 55.1l0 .1 2.1 .6 0 .2-1.5 .1-.6-.8 0-.1M133.4 55.2l-.1 .6M130.4 54.3l-.3 .6 .2 .8 .3 .2 .6-.6M130.2 54.2l-1.4 .8M128.4 44.2l0-.2M127.9 45.2l-.1 .1-1-.5-.1 0-.5 1.3 1 .2 .6-1M124.9 45.8l.1 .3M124.8 45.5l.4-.6-.3-.9-.6-.5M124.4 43.1l.9-1M62.6 113.7l.6-1.5M61.7 112.8l.2-.2M62.1 114.7l-.6 1.3M61.7 114.7l-.7 1-1.1-.1M56.5 117.7l-.3 .4-.7-.2 .2 .7-.2 .3-.1 .2M54.9 118.8l0-.2M56.2 118.1l.1 .2-.2 .2 0 .5 .1 .1 .8-.1-.6-.6-.1-.1M109.1 109.5l-.2 0M107.9 101.9l-3 3.9M102.4 106.9l-2.1-2.9 1.4-2-.1-.8-.2-.2-2.2 .6-.3 .4 .9 1.9 .5 .1M100.1 113.9l-1.3 1.6-3.1 .9M102.9 103.2l-1.2-1.2M170.4 121.7l-.4-.3-3.3-.5-1.1-2.6 .1-.3 5.1-1.1-.8 4.5M170.4 125.4l-.4 .5-5.4-2.5 2.1-2.5M140.2 79l.6-.2 .5 .1 .2 .6 0 .8M137.9 79.2l-.7-.9-.8 .3-.6 1 .4 .9M138.6 78.6l.4-1.2 .4-.1 1.4 1.5M132.3 81l-.3-.1-1.1 1.7 .1 .1M133.4 80.8l1-1.3 1-.2 .4 .3M125.6 89.2l-.6-.2 2-2.8 1.2 1.4M139.5 115.6l1 2.9-1.3 .7-1.1-1.2M140.9 115.4l.8 1.6-.8 1.3 1.4 1.3 .9-.7-.3-1.7-1.2-.2M116.2 100.1l1.1-.5M119 104.8l1.9-1.3M120.9 103.4l.2-.5M116.6 83.2l.7 1.6 1.3 0-2-1.6-.1-.2 1-1.3 .4 0 .9-.2M117.3 84.8l-.6 .4 .9 .6 .4 0 .7-1 .7-.2 .4 0 1.2 2.1 .6-.7 .5-1.8-1.9-.1-.4 .5M118.6 84.8l.1 0M118.7 96.4l-.2 2M118.2 95.3l-1-.2-.6 .2M119.3 93.8l-.5-1.2 .5-2 .4-.5 .9-.6M119.3 90.6l-.1 0-1.8-.5 .6-.8 1.7 .8M118.8 92.6l-1.5-.9-1.2 1.1 1.1 2.3M120.5 83.4l-.3 .7M119.5 81.1l-.9-2.8-.3-.2 .4-.6-.2-2.9-1.9 .1-.3 .2 .5 2.5 .6 .8 .9-.1M121.2 82.7l.8 .2 1.3-1M122 82.9l.5 1-.4 .3M124.8 81l.7-.6-1.1-.4M124.1 82.2l3.2-.9 0-.3-1.1-.6-.7 0M124 82.3l.4 1.3 .7-.1 2 2.1-.1 .3-2.7-.5-.4-.9 0-.2 .5-.7M130.1 85.8l-2-1.1 .2-1.6 2.6-.5M132 80.9l-.1-.3-.5-.5-2.2-.1-1.2 .1-.1-1.3-.2-.5 0-.1-1.2 .1-.7 1 .4 1.1M128.3 83.1l-.8-1.1-.2-.7M128.1 84.7l-1 .9M96.8 101l-.5-1.8 2.2-.8 .3 .3-.3 1.1-1.7 1.2-.5 1.4 2.6-.4M96.3 99.2l-.2-.1 .1-2.4-1.3 .4-.2 .6 .2 1.5 1.2-.1M98.5 99.8l.7 1.8M98.5 98.4l-.7-2.2-.9 0-.7 .5M98.8 98.7l1.5 .1 1.1 2.2M107.4 96.2l-.1-1.2 1.3-.5 .6 .4M105.3 99.5l-3.7 1.7M104.7 98.2l-3.6-.3-.8 .9M104.6 97.3l-.1-.9-3.3-.6-.3 .4 .2 1.7M91.8 91.8l-.3-1-.3 .2M92.1 92.4l.8 .5-.1 .9-.1 .8 .7 .4 .9-.1-.1-1.6-.4-.5-.1-.1-.1 0-.7 .2M89.2 92.7l.2-.2M89 93.3l-1.2-.2M89.1 93.5l-.4 .7 .5 1.4 .8-.2 .4 .5 .3 .1 .1 .6M89.5 93.7l.5 1.7M89.7 93.7l1 1.3 .5-.7 .5 .6-.8 1-.2 .1M90.6 93.6l.5 .5 .1 .2M85.9 86.8l-.6 0M87.5 86.3l.4-.5M87.6 86.9l1.2 1.1M89.2 88.2l.3 0 1 1.5-1 1.1M86 88.5l-.6 0M89.5 68.8l2.3 .2 .7-2.4-.2-1.2M89.3 67.8l2 .4M95.8 67.3l.7 .8-.5 .5-2.2-.9 .1-.2M93 63.4l-.3-.1M92.2 65.4l-1.1-.2M99.9 132.8l-1.2-.2-.9-1.5 .6-1.8M100.2 132.9l-.4 2.5 .2 1.2M102.5 136.1l-2.4 .6M97.3 126l.1-.2M96 126.8l-1.6 .4-.1 2.4 .9 .9 .8 0 .3-1.6M95.2 130.5l-.5 .9 1.7 1.8-.2 0-1.3-.6 .1 .8 1.2-.2M94.4 127.2l-.7-.4-.3-1.6 .6-.3 1-1.1M96 130.5l1.8 .6M98.7 132.6l-.3 .3-.4 .2-1.8 2.5 .9 1.1 1.2-.6 .1-.2 0-3M60.4 126.9l.8-.1M94.9 132.6l-.4-.7-.1-.2 .3-.3M95 133.4l-.4 .5-.7 .1 .6-2.1M94.4 131.7l-1.5 .3 0-.1-.3-.9 1.7-1.4-1.9-.3-.3 1.3 .5 .4M99.4 136.8l-1.1-.7M98.6 138.3l-1.5-.1 0-1.5M100.2 139.6l-1.5 1.5 .4 5.9M99.8 135.4l-1.4 .5M98.7 141.1l-.6-.3-.8-1.4-.4-1 .2-.2M96.2 135.6l-.3 0-.6-1.2 1.1-1.2 1.6-.1M201.7 42.5l-.2-.2-1-2.5-1 .7-.5 1 2.5 .8M199.8 44.3l-2.1-1.1-.2-.6-.4-.3-.8-.4-1.7 .5-.2 .4 .1 1 2.3 .5 .5-.5 .4-.6M202 60.3l-.8-.4-3 3-.2-1.3-.9-1.4-.6-.2M204.7 62.9l-.2 .6M205.3 61.7l1.5-.1 .5 .7 1.9-.1M204.3 60l2.8-1.7M207.3 62.3l.1 1.2 1.1 .4M206.8 61.6l1.5-2.3 1.7 1M208.3 59.3l-.5-1.2M207.4 63.5l-.4 .5M177.9 45.5l-.6-.1 .6 1.7 .6-.9-.6-.7 1.2-.6-.2-.6 .3-.9 1.1 .1 0 1.3-.4 .8-.1 0-.7-.7M177.3 45.4l-.8-.5M178.5 46.2l1 0 .3-.6M177.9 47.1l-.2 .7M180.2 41.4l.1 0 .3 1.9-.3 .2M178.4 37.9l0-.1-.5-1.3M179.8 39l.8-.2M176 41.9l1.2 1.2M175.4 42.8l-.8 1.8M178.5 42.6l.7 .8M171.3 42.2l-.3 .5-.7 .4M174 44.2l-1.7 .7-.6 .1-.7-2.3M176.8 44.5l2.1-.2M175.5 45.3l-.7-.4M192.3 51.9l-1.8 .6-.1 1.6 .6 .6 1.1 1.3M193.1 51.4l-.5-1.5 .9-1M192.4 51.7l-1.4-.9 .3-.5-.7-.4-.3 .8 .2 .2 .5-.1M190.5 52.5l-.3-.4-1.3-.3-1.4 .8-.2 .8 .2 .6 2.9 .1M180.3 44.8l1.6-.3-.1-1-1.2-.2M179.9 45.6l1.9 .5 .2 1.3-.1 .3-.6 .4M180.3 41.4l.8-.1M181.8 43.5l1.3-1.3M181.9 44.5l.2 .6-.2 .7 2.1 .2-.8-1.1-1.1 .2M179.5 46.2l.1 .9M181.9 39.5l2-.6M183.7 42.1l.9 1.5-1.4 1.3M184 41.8l2.9-.3 .5 .5 .2 .8 1.3 .6 .3 .3 .7 2 1.2-2.5-.5-.3-1.4 .8M184.5 39.5l1.9-.4 .8-1.1-.9-2.3M180.8 38.6l-1.3-1.8-1.1 1M191.2 59.3l.7-.1M190.2 59.5l-.1 .6-.8 1.2-1.9 1.4-.4-.1-1.5-1.9 .6-1.2 4-.2M189.4 57.7l-1.1-.8-.7-.8-.1-2.1-3.6 1.6 1 1.2-.1 1.1 1.1 1.1 .7-.9-.7-1.5-1 .2M187.6 56.1l-1.7 .5M188.3 56.9l-1.7 1.2M190.1 60.1l1.8 2.6 2.4 .4 .3-.1M189.3 61.3l1.3 3.5-.2 0-.4 .4-1.6-.1-1-.8 .1-1 2.9 1.5M186.1 59.5l-.2-.5M185.5 60.7l-1.1 .2-1.2-.3-1.1 2 .1 .2 2.1-.9 .1-1-.1-2.6 .5-.4M187 62.6l-1.1 .5-.9 .8-1-.6 .4-1.1 1.5 .9M187.4 62.7l.1 .6M191.4 86.9l-.6 1.1-.9 2.2-.6-1.2-.9-1.1-.4 .2-.3 2.2 2.2 .6 .1-.2-.1-.5M193.6 88.1l-.5 .9-.3 3M195 87.8l.3 2.7 1 3.2M191 86.5l-.7-.5-1-2.1 1.4-1.5M190.3 86l-1.9 1.9M189.3 83.9l-1.8-.3-2.2 2.7 .5 1-1.1 4.4-.6 .7-4-6.8 5.2 .7M195.2 82.4l-.9-3.7 4.6 .3M191.3 81.3l0-2.1 1.9-1.1 .5-2.3-1.8-1.4-2.2 .6 .3 3.5 1.3 .7M194.3 78.7l-1.1-.6M195.9 46.4l.6-1.7-1.9-.2-.3 1.7 0 .1 1.6 .1 1.1 1.1-.9 1.5M196.5 44.7l.3-.4M194.6 44.5l-.1-.3-2.3 .3-.1 .2 2.2 1.5M194.3 46.3l-.7 1-3.5-.2-.4-.6 .2-.6 2.2-1.2M194.5 44.2l0-.4M192.2 44.5l.2-.7-.5-.8-.8 .2M200.6 50.7l-1 0M199.3 53.3l-.1 0M194.8 63.1l.8 .7 .5 .2 .2 0 1.9-1 0-.1M198 61.6l1.2-1.7M197.1 60.2l1.3-1.7M198.2 63l1.7 .6 .7 .2M196.3 64l1 2 .2 .2 1.3 .1 1.1-2.7M196.1 64l-2.1 3.9-1.5-2-1.1-.2-.7-.9 .3-.3 1.7-.3 0 1.4-.2 .3M195.6 63.8l-2.9 1.8M201.2 63.4l3.2 .3M201.2 59.9l-.3-.1M206.9 65.2l.9 1.3M200.9 64.9l-.9 1.8-1.2-.4M178.4 53.1l.1 .1-1 1.1-.6-.7 .1-.1M175 52.4l.2 1.5 1.7-.3M178.5 53.2l1 .4M177.5 54.3l0 .2 3.3 .9 .1 .1-4.2 0 .8-1M175.2 53.9l-.2 .6-2.2-.6 1.1-2.2M172.8 53.9l-.9 .2-.3-1.3 .4-.7 1.3-.7M175 54.5l.1 .6-1 .7-2.5-1-.6 .4 1.6 2.3 .5 0 .6-.7 .4-1M169.5 59.3l-1.3 .6-1.6-2.3-.7-1.6-.1-.1-.2-.5 1.3-1.3 .6 .7 .6 1.7-.1 0-2.1-.5M169.6 57.5l-.3-.6-1.2-.4M170.6 60.1l-.8 1.6-1.3-.5-.3-1.3-.3 .1-.4 1.6 .9 0 .1-.4M171.3 59.9l2.7 .1 .3 .4 0 .1M172 57.8l.6-.3M173.5 51.3l0-.2-2.6-1.5-.5 .1-1.2-.6-.5 .9 1.2 .1 .5-.4M171.9 54.1l-.3 .7M171.6 52.8l-1.4 0-.4 1.3-.3 0-1.5-2.3 1.2-.1 .2 .1 .8 1M172 52.1l-1.1-.9 .1-1.1M177.9 70.5l-.1 0-.8 1.9-.5-1.2 1.3-.7M178.5 70.4l1.1 .9 .3 .6 2-1-.2-1-1.1-.4-.7 .4-.3 1.4M185 63.9l0 .2-1.7 1.2-.6-1.6 1.3-.4M184.4 62.2l-.1-.3M183.3 65.3l0 1.3-1 0-1.8-2 1.8-1.2 .4 .3M185 64.1l1.1 2 1.3-1.8M182.3 66.6l-.8 .5-1-.1M183.3 66.6l.3 .3-1.1 1.9-.6 .2-.7-.6 .3-1.3M180.5 64.6l-1.1-.1M182.3 63.4l-.1-.6M176.4 74.9l-3.4 2.4 4.5 .7 0-.7-1.1-2.4-.1-.9 .7-.9M173 77.3l-.2 0 2.8 5.7-5.2-1.4-.6 2.6-1.1 .7M177.5 77.3l.7-1.5 .2-1.5M177.5 78l1.5 1.7 4.3-2.6 0 1.1-2.4 3.7-1.4 .5-.5-2.7 2.3-4.6M179 68l.2 .1 1.6 .5 .4-.2M179.9 72l0-.1M181.7 74.8l1-.1 .6-1-.2-2.4-.4-.3 .3-1.6-.5-.6M179.9 75l-1.7 .8M176.3 74l-2.7 .1M177.1 73.1l-.1-.7M174.7 71.7l-1 .9M178.6 63.6l.3-1.4 1.6-.6 1.6 1M176.7 63.9l-.6-.5-1.4-.2M172.2 106.4l2.5-3.9M169.8 113.2l-4.4 1.9-3-1.9-.2-.8-4.6 1.1-.4 1M171.7 115.2l-.9 1.7M169.7 112.1l-6.7-2.6 0-.1M163 109.5l-.8 2.6 0 .3M160.6 107l-.9 .1-2.3-.4-.2-.3M181 93.7l2.9-.4 1.5 1.9M178.3 91.5l.7-6.5 1.1 .6M176 92.2l-1.8-3.4M173.5 92.1l-.2-.1M168.6 84.9l-2.6-1.4M170.2 89.5l1.5-.7M179.7 49.2l1.1 0M169.4 44.4l.3 .9 .1 0 .5 1.3 .5 .2 .4-.1 .5-.8-.1-.7-1.8 .1M168 43l-1.1 .5-1.4-.5-.2 .2-.2-.1-2.7 1.5-.6-.2 .2-.8 1.8-1.6 1.3 1.1M168.6 44.3l-.6 .3-.5 .3-.1 .1 .2 1.1 1.3-.3-.9-1.2M147.2 51l-1.3-1.4M146.5 52.1l-.9 1.3-1.3-2 .1-.2M145.9 54.2l-.4 0-.3 .5 1.9 .7 .7-.2M150.6 51.2l2.9-.7 .2 .3 1.4-.8-.2-.9-.8-.2-.9 .8 .3 .8M150.5 51l.8-2-.8-1.4-.2-.2M143.9 50.2l-.8-.8-.8 1.3-.1 0-.2-.9 .3-.5 .7-.1 .1 .2M144.1 50.9l-1.8-.2M148 55.5l0 .9-1.6 .6-.9-.6-.1-.2 1.7-.8M158.5 55.4l.8 1.2-.3 .2M159.4 54.4l1.7 .4 .4-.6-.6-.8 .3-1.6-.3-.4 .1-1.5 .8-.1 1 1.5-.8 .6-.8-.1M159.8 55.4l.2 .1 1.1-.6 .3 1.6 0 .1-1.7-.2 .3-.9M158.7 58l.6 .2 .7-.2 .1 0-.9 1.3-.4-.3 .5-.8M157.8 58l.7 1.1-.8 1.2-.5-.2-.3-1.6M157.2 60.1l-.3 .1-1.4-.7M158.5 59.1l.3-.1M160.1 58l.9 .3 0 1 2 .1-.5 1.7-1.5-1.6 0-.2M159.2 59.3l.8 .7M160 58l-.7-1.4 .4-.2M160.3 35.7l.2 .1 .3 .2M159.4 35.9l-.2 .1-.2 1.6 .1 0 1.4-1.8M162.3 39.9l.8-1 .4-.2M163.9 40.7l.5-.6M162 39.9l-.3-.3-.2-1.5 1.6 .8M161.6 40.8l-1.4-.7 .5 1.6 .7-.1 .2-.2M163.7 41.7l.1 .3M162.4 44.6l.8 1.1 .9 0 1.1-.4 .7 1.2-.6 1.1 0 .1-.3 .3 0 1 1.2 1.3-1 .3-1.1-.3 .4-1.2 .5-.1M161.8 44.4l-.3 .1-1.2 1.3-.4 0-.6-.2-.7-.4-.6 .1-.7-.2-.3-1.3 .5-.3 1.2 .1-.1 1.6M162 43.6l-.6-2M146.6 58.9l0-.2M145.8 61.1l-1 .5-1.3-.4M147 61.5l-.6 1.8-2 .1 .1 1.2 2.2-.7-.3-.6M147.8 60.2l.1-.1-.2-2M148 61l.2 .1 1 1.4 0 1.4-2.1 .9 .4 1.1 .2 .4 2.2 .8 0 .4-1.8 .6-.5-.2-.3-1.1 .4-.5M162.5 61.1l.3 .6 1.6-2.2 .2 .1 .5 .9 .5 1.2-.2 .9-1.4 .2-1.2-.3 0-.8M163 59.4l1-.6 .4 .7M161 59.5l-.6 .5M161 58.3l.6-.8 1.3 .2 .2-2 .5-.6 .7 .6 0 .3-.7 2 .4 .5 1.8-.9-.3-.5-1.2-1.1M160.9 63.5l1.9-1M160.5 63.9l.5 .9-.5 2.1-.2 .4M165.6 61.7l1.5-1.5-.6-.6-1.4 .9M165.4 62.6l.6 .4 .7-.1 1.1 .1 .4 1.1-.8 1.6-1.2-1.2-.2-1.5M164 62.8l0 2.8-1.4 .2-.8-.3-.8-.7M164.6 59.6l1.5-.4 .4 .4M164 58.8l0-.3M160.5 66.9l.5 .3 0 .7-.9 .1M156.9 60.2l-.2 .2-.3 .9M167.1 60.2l.8-.2M166.1 59.2l.4-1.5 .1-.1 1.4-1.1M165.6 55.4l-1.3 .3M166.9 54.1l-.1-.2 .2-1.2 .6-1-.2-.6 1.3-1.1M165.8 55.9l-.3 1.2M167.5 54.8l2-.7M169.3 56.9l1.5-1.6 .2-.1M161.1 54.8l0 .1M161.5 54.2l1.2-.1 .8 .5 .1 .5M138.6 71.9l.4 1.3 1.1-.4 .6-.7-.1-.8-1.2-1.6-.7-.4-.1 2.6-2.4 0 .8 2.1 .8 0 1.2-.8M140.1 72.8l.8 2.2 1.2 0-.1 2.2-2.2-.9-.1-.5 1.2-.8M138.7 69.3l-.8-.6-1.1 .4-.9 1.5 0 .5 .3 .8M139.4 69.7l1.5-.6 1.3 1.2-1.6 1M140.7 72.1l2.2 .9 .4-.4-.5-2.5 1.7 .8 0 1.1-1.2 .6M140.9 69.1l1.5-.7 .6 .8-.2 .9-.6 .2M144.5 72l.7 .2 .2 1.3 1 .4 .1 1.6 .1 0 2 1.4 .2-.8-.1-1.6 .5-.7 .8 2-1.2 .3M142.9 73l.2 1.3 .7 .4 1.6-1.2M142.4 68.4l-.1-.6 2.4-1-.7 2.1-.4 .2-.6 .1M148.1 69.4l-.3-.6-1-.1 .3 .8 1-.1 .4 .3-.7 1 .1 .2-.1 .8-.3 .8-1.3-.6 0-.8 0-.1 1.6-.4 0 .1M147.8 68.8l.3-.7M147.1 69.5l-.1 .6-.9 .1-.2-.5 .4-1.3 .3 .1 .2 .2M149.9 67.5l.1 .6-.3 .8 1 1.8 .7-1.6 0-.2-1.4-.8M149.9 67.1l.1-.1M147.6 67.9l-1 .6M147.3 66.8l-1.4 .9-.8-.8 2.4-1M145.9 67.7l0 .2-1.2 1-.7 0M145.1 66.9l-.3-.3-.1 .2M148.7 77.8l-1.7-.3-1.4-1.4-.6 .1-.1 .3 .7 2.7 .9-.5 .5-1.2M148.9 77.7l-.3-.8M148.2 78.6l-1.7 .1M156.7 77.9l.4-.2M154.7 78.4l-.3-.4-2.7 0 2.8-1.7-.1 1.7M151.7 78l-.7 0 .2-1 1.5-2.5-2.2-1.4-1.2 .5-.1 .2M154.5 76.3l.3-1M173.7 69.2l-1.1 .6-1.3-.2-.4-.6M172.1 67l-.8 .1M167.9 67.3l.1-.3 1.4-.7 .8-.1M165.4 69.1l.1 1.2 2.5 .6-.1-2.5M164.9 66.8l-.2-.8-.7-.4M164.5 67.4l-1.3 0-.9 1.1-.5-.7-.1-.2 1.1-.9 .4 .7M164.6 68.8l-.6 .4 .2 1-.2 1-1-.5-.7 .4-.5 1.3 .3 .5 1.9-1.7 .6 .4 .7-.8 .2-.5-1.3-.1M180.7 55.2l.1 .2M181.1 52l.8-.4 .1-.2 0-.8-1.1-.9M181.9 51.6l.9 1.5-.5 2-.9 .4-.5 0-.1 .2-.7 2.9 1.1 1.2 .2 0 .3 0 1.3-1.6-.5-.5-1.1 2.1M182 50.6l1.6-.6 .9 1.2 1.4-.7-1.3-2 1.9-.9 .3 2.3-.2 .3-.7 .3-1.8-1.8-.4 .2-.1 1.1M182 51.4l2.2 .2-.5 .8 1.2 1.3 1-.6-1.4-1.8-.3 .3M181.8 46.1l.1-.3M181.9 47.7l1.8 1.2M182 47.4l1.9-.7 .5-.5-.4-.2M209.1 93l-.9 .7M213.5 89.9l3.9 5M208.2 98.5l-.9 1.6-.4 0-5.1 2.8-.7 1.1M204.8 93.4l-.4 .4-1.4 .3-.8 1.2-.1 .5 3.5 2.6 .3 .7-2.9-.8-.9-2.4 0-.1M214 96.7l-.6 5 3.7 3.7 2.8-.1M198.2 95.1l4 .2M199.6 96.9l.6 .7 1.9-1.7M206.2 106.4l.1-.3 1.2-5.7 .9 .5 1.2 4-3.3 1.2M202 107.8l-3.1 3.9M234.3 109.7l.1 0M213.4 101.7l-5-.8M217.1 105.4l-2.2 1.6M207.8 116.2l6.1-.7M214.6 112.1l.1 .1 2.3 .7-1.8 1.3-.5-2M211.9 107.9l-2.3-3M207.5 100.4l-.2-.3M201.8 102.9l-.2-.6-2.2-3.4 .8-1.3 1.5 .9-.1 3.8M206.9 100.1l-1-1M218 114l-2.1 1.2M217.7 113l-.7-.1M215.1 115l.1-.8M205.6 98.4l-1.2-4.6M203 98.3l-1.3 .2M203 94.1l-.7-.5M199.4 91.8l-2 2.1M195.3 90.5l-2.4 1.6M195.4 100.3l4-1.4M196.2 93.7l-2.5-.5M212.8 52.8l.7 .4M179 144.8l-.5-1.8 .9-.5 1.2 .1 .1 1.7M180.8 144.4l1.7 .1-.2-.8 1-.9 .5 .5 1.3-.6M184.9 147.8l.8 0M181.6 148.7l-.4 .2M187 135.6l-2-1.2 .3-1.1 2 1.3M187.9 131.5l-.5-.1-2.4 1.1-1.2-.5 2.4-2.1 1.2 1.5M188 133.1l-2.7 .1 0 .1M188.8 94.7l1.4-2.9 .7 .1M183.9 93.3l.2-.9M118.9 129.2l.4-.1M121.2 127.5l-.2 .2M126 127.6l-.1 .8M127.8 132.3l3.1-.5M123.9 130.9l-1.3 .1M124.5 129.8l-2.1-.5M135.1 129.3l.9 .1 1.1-1.6-.6-1.9M134 133.1l4.4-1.3-2.4-2.4M139.2 119.8l0-.6M140.5 118.5l.4-.2M180.5 136.3l-.7 1-1 .1-.4 1.3 0 .3 .2 .6 .7 .3 .5 0M179.8 135.6l-.5-.1-.5-1.4 .7-1.2 .2 0 .7 .3 .5 1M181.7 127.5l-.8 .9-.5 .2-2.2-.5M186.1 127l-.3 1.6-2.7 2.1-2.2-2.3M180.4 128.6l-.7 4.3M71.5 81.9l.8 1-.7 1.1M72.3 82.9l.4-.2 .5-1.9M71.6 84.1l2.2 1.3 0 .5M72.7 82.7l.6 .2 1.7-.8M73.8 85.4l.2-.2-.1-1.5 .8-.5 .1 1.6-.8 .4M77.7 108.3l.6-.2 .1-.1M76.9 109.3l0 .1-1.1 1.4 .3 .9M75.3 109.2l-.2 .5 .7 1.1M78.3 108.1l-.1 1.8 .2 .3 1.1 .8 0 .9-.1 .1M67.2 112.9l.3-.1 .2-1.2 1 0 .9 1.6M65.9 112.3l1.5-.9 0-1-1.8-.8-1.4 .3M65.1 112.2l-.8-1.4M64.6 115.5l.4 .3M62 119l-1.9-.9M77 111.8l.1-.4 .2-1.1-.4-.9M77.1 111.4l1.3-1.2M77.3 110.3l.9-.4M79.5 111l.8-1.9-.1-.3M79.5 111.9l2.2-.8M75.1 109.7l-.6 .2M93.3 113.4l.2 .6 1.1 1.3-1.4-.4 .3-.9M91.7 114.9l.1 .2 1.4-.2M91 114.5l-1.7 .2-.1 1.3-.9 1.4-.2 0M86.8 91.3l-.9 .7M85.9 92.3l-.1 0M86.4 94.4l1.3 1 1-1.2M87.3 92.7l0-.2M62.6 100.5l-.8-.6M63.6 101.2l1.5-.7 0 1.7 .8 2 .3-.4M63.8 104.5l.7 .8M64 109.6l-.2-.9M65.5 104.7l.4-.5M64.4 106.4l-.4 .5M68.6 108.8l0 .1 1 1.1 .6 .1 .3-.3M65.9 109.4l-.3 .2M72.1 110.3l-.4 2M72.4 110l.9 .8M69.6 110l-.9 .8 0 .4 1.7-.2 .6 1.6M70.2 110.1l.2 .9M68.6 108.9l-.9 1.4 1 .5M79.5 82.2l.1 1.4M78.5 82.1l-.3 .7M80.2 77.4l-1.1-.7M81.2 77.7l-.5-2.2M91.4 97l.9-.7-1.4-.4-.2-.9M91.5 97.6l.9 .5M90.4 97.3l-.9-.9 .9-.5M99.8 103.9l-1.1 .5M96.3 103.4l0-1-1.1-.6-1-2 .7-.6M95.5 104.9l-2.4 0M94.7 97.7l-.7 .1M94.9 97.1l-.6-.6-1.1 0-.3 .2-.6-.4-.1-1.4-.5 0M95.2 101.8l-1.8 .5M94.2 99.8l-1.1-.1M92.8 97.5l.1-.8M91.9 100.1l1 2M91.5 90.8l0-.4-1-.7M84.7 90.3l-1.3-.3M85.2 89.4l0-.7M82.7 90.8l.3-.7M78.3 89.5l-2.5 1.2M80.8 88.8l1.7-.6 0-.3-.8-1.2M79 83.9l-.7-.2-.4 1.3 .2 .9M103.5 56.4l-.1-.4-1 .2M102.1 61.8l.5 .7 2.6 .6 .3 2-.1 .2-2.2-1.1-.6-1.7M104.7 60.3l.4 .2 .4-.2 .8-1 .9-1.4 .3 1.8-1.2-.4M101.4 58.6l0-1.3M106.7 55.9l1.1-1.7M106.9 56.2l3.1-.4-1 2.7-1.7-.8-.4-.7M106.7 56l1.8-1.4M111.5 52.4l-1.9 1.7-.2-.1M112.5 52.9l.1 .1 1.2-1.4-.4-1M111.2 52.1l-2.3 1M152.4 40.2l0 .2-1.7 2-.3-.5 1.3-1.8M152.4 40.4l.3 .7-1.6 1.5 1.7 .3 .5-1-.6-.8M150.4 41.9l-.3-.3-1.5 .2 .9-2M150.7 42.4l0 .3 0 .1-1 .9 .1 .2 .1 .7M145.9 43.3l.7-.4M150.1 41.6l.1-1.7M148.6 41.8l-.1 .1M146.1 40.2l.8 .5 2.2-.9M146.9 40.7l.9 .9M151.3 49l.7 0 1.2 .7M150.5 47.6l2-.7-.2-.9-1.6 .3M138.6 60.6l.1 0M140.4 59.7l.9 .9 .7-1.3M140.1 59.7l-.5 .9M141.7 58.9l.2-2.1M141.3 60.6l0 .2 .2 .1 .1 0M135.4 52.8l.6-.5-.8-.7M136.6 45.4l-.1-.5-.2-1.7 1.9-.3 .2 .6M137.7 48.2l1.5 .6 .4-1.4M137.5 48.4l-.3 .6 .2 .5 .2 .1 1.4-.2 .4-.4-.2-.2M135.1 51.2l.5-.6M136 52.3l.3-.1 .6 .5-.1 1.1M136.8 53.9l-.2 1.4M136.3 52.2l.1-.4-.5-1.2-.1 0M136.9 52.7l.8-.1 .6 .9M133.4 56.5l-.1-.5M132.5 57.3l-1.4 .1-.3-.2-1.7 .2 .6 2 0 .1 1.4-1.8 0-.3M134.8 57.7l.6-.3M131.8 56.1l-.9 1.1-.3-1.3M135.7 55.1l.2 .1M130.6 62.2l-1.2-.8-.9 .1-1.3 .6-.4 .5 .1 .2 1.6 1.5M132.7 65.7l0 .4M114.3 74.1l-1.8 .2 1-1.4 .4 .4 .4 .8 .2 .5-1.8 .8 1.4 1.3 1-1.8-.6-.3M112.5 74.3l-.9 .3-1-2.2-.2-1.5 .1-.1 1.3 .4 1.7 1.7M113.9 73.3l1.6-1.2 0-.3-1.1-1-2.6 .4M110.5 70.8l.2-1-3.5-3 .7-.6 1.3 0 .5-1.6-1.1 0-.3 .3-.4 1.3M110.4 70.9l-1.8 .6-.2 .7 0 3.4 .8 .2 .3-.1 1.1-3.3M111.6 74.6l.1 .6 .3 .4 .7-.2M125.1 70.8l.1 .1 1.5 2.2 .2 .6-.8 .8-1.1 .3-.8-1.2-.1-2.2 1-.6 0-1.3 2.8-.1 0 .1-.3 1.2 .7 .5 .1 0 .4-1-.3-.5-.6-.2M125.2 70.9l1.8-.1 .5 1.3-.8 1M124.1 71.4l-2.6 0 .3 1.5-.6 1.3-.1 .2-1.3 .4-.6-.4 .6-3.1 1.1-.2 .6 .3M124.2 73.6l-1.5 .3-.1 .6 .1 1.5-1.6-1.6M125 74.8l-.5 .7 1 1.7 .1 0 2.1 1M126.9 73.7l.5 0 .6-.2 .7-2-.3-.3M126.1 74.5l.7 1.4 0 .1-.8 1-.4 .2M129.5 66.2l-1.5 2.2 .1 .1 1.1 .4 1-1.7-.3 2.5-.6-.5-.1-.3M130.5 66.5l-.3 .7M132.2 66.5l-.2 2.9-.9 1-1.1-.6-.1-.1M128.8 65.7l-1.4 .5-1 0-.8 2 .1 .3 1.6-.4 .1-1.9M114.6 93.3l1.2-.6 .3 .1 0-1.6 1.1 .3 .1 .2M114.2 93.3l-.1-.2-.1-.9 1-.7 .8 1.2M109.2 66.2l2.1 1.8-.4 1.4-.2 .4M108.3 64.9l-1.6-.6-1.2 .8M109.7 64.6l.6-.2 1.1 3.5-.1 .1M108.6 64.6l-.4-1.3 1.2-.7 .7 .3 .4 1.2-.2 .3M107.2 66.8l-1.6 .1-.4 .5-2.5-.5-1.2 1.2 .6 .8 .9 .4 2.2-1.2 0-.7M110.9 69.4l4.9-.7-.5 1 .9 1.5 .7-.2-.8-2.6-.3 .3M111.4 67.9l1.6-1.3 .5-2.3-.7-.4-2.3 .2M116.9 50.7l.6 .5 .2 .1 2.6 .5 .5-.8M116.7 50.9l-1 .9-1.9-.2M160.9 51.4l-1.5 .4-.5-1 0-.2 .3-.5 1.6-.4-.2-1.1-1.5-.5-1.1 .2 1.2 1.8M161 49.9l-.2-.2M162 51.9l.4 .4 1.3-.1-1 1.7-.3-1.6M162.8 51.3l.6-.1 .2-.8 .5-.1M161.8 49.8l.8-.2 .7 .4 .3 .4M165.2 50.6l-.7 1.6 0 .1-.6-.2-.5-.9M164.5 49.1l-.4-.1-.8 1M170.9 51.2l-1.5 .6M172.3 44.9l.9 1.4M171.7 45l-.1 .2M173.1 47.9l-.5 .4-1.4-1.6M173.1 46.4l-1.4-.5M166.9 43.5l.6 1.4M165.3 43.2l0 1.9-.1 .2M161.7 39.6l-.6 0-.7-.7 .1-.4 .4-.3M161.5 38.1l-.1-.1M161.1 39.6l-1.1 .4 .2 .1M160.4 38.9l-.7 .7-.9-.6-.2 0-.3 .7 .5 1.2 .7-.5 .3-.5-.1-.3M160.5 38.5l-1.3-.2 0-.4 .5-.2M142.2 48l-.7 .2M143 49l0 .2M139.8 47.3l.6 .5M137.4 49.5l-.3 .6 .3 1.1-.7 .3 .2-1.2 .2-.2M137.6 49.6l.6 .8-.6 .8 .1 1.4 1.1-.7 1.2-.5-.8-.5-.8-.4-.2-.1M137.2 49l-1.2 .1M139.4 49l.6 .1M136.5 44.9l-1.2-.9M136.3 43.2l-.3-.2M138.2 42.9l.1-1 0-.4M139.8 43.5l.4-.8M136.4 51.8l.3-.3M135.9 50.6l1-.3M135.9 42.9l0-1.2M138.3 41.9l.6 .2M125.2 44.9l.7-.2 .8 .1M124.9 44l.5-.4 .2-.8 .6 .7-.1 0-.7 .1M127.2 47.9l0-1.6M125.3 46.2l.9-.1M126.8 44.8l.1-1.5-.7 .2M125.9 44.7l.2-1.2M61 115.7l0 .2M59.6 115.8l1 .8M55.5 118.9l.6 .1M55.7 118.6l.4-.1M149.9 103.6l-.3 4.1-.3 2.6 4.2-1.5-3.9-1.1M153.6 108l0 .8-.1 0M159.7 107.1l-2.2 3.5-.6-2.6 .5-1.3M146.4 114.8l-.3 .7-3.2 1.7M147.7 112.6l.6-.6 1-1.7M162.4 113.2l-3 4.5-.5 .2M159.4 117.7l2.1 1.4 1.5 5.3 1.6-1M157.6 113.5l-.5-1.1 .4-1.6 4.7 1.3M165.4 115.1l.3 2.9M165.6 118.3l-4.1 .8M170 125.9l-.9 1.8-.9 .8-.1 .1-4.5-1M163 124.4l-1.4 2.4M137 74l-.2 .1-.8 2.3 1.2 .9 .2-.1 .8-1.2 .4 1.4-1.2-.2M137.8 74l.9 1 1 .8M143.6 69.1l1 .9 0 .7 .4-.1 .2-1 0-.1-.6 .5M142.3 67.8l-.4-.5 .3-1.6-.6-.5-.9 .1-1.4 1.9 2.6 .1M135.9 71.1l-1.5 1.1-.6 1.6 .1 .4 2.9-.1M135.9 70.6l-2.3-.4-1.6-.8M136.8 69.1l-2.6-2.3-.5-.4M137.9 68.7l.3-.6-1.4-2.2-2.6 .9M142.2 65.7l.9-.2 1.4 .2 .2 .2 .1 .7M139.3 67.2l-.6 .3-.5 .6M141.6 65.2l0-.4M140.7 65.3l-1.6-1.4-1.7 .9 1.2 2.3 .5-3.2 0-.2M127.5 72.1l.8-.9M127 70.8l.6-.1M127 86.2l0-.3M125 89l-.1 0M120.5 88.4l-2.4 .4-.1 .5M120.6 87.5l-1.9-.4-.6 1.6 0 .1M121 86.9l0-.2M123.5 87.4l.8-2M119.2 90.6l-2 .6 .1-1.1 .1 0M117.2 91.2l0 .3M117.3 90.1l-.3-.1-.8 .1-.5 .9 .4 .2M118.7 87.1l-.3-.1-.4-1.2M118.1 88.7l-1.1-.8-.4 .6-.1 .1-2.3-.8 2.2-.4 .5 .4 .1 .1M121.6 86l2.3-1.5M122.5 83.9l1.4 .4M118.4 87l-1.1 .5-.1-1.3 .4-.4M119.4 84.6l-1.5-2.9M100.9 96.2l-2.6-.4-.5 .4M101.2 95.8l.3-2 .7-.1 2.4 1.5 .3-1.9-2-.8-.7 1.2M104.5 96.4l.2-.9-.1-.3M104.9 93.3l.7-1.2-.7-.3-1.7 .1 .3-1.9 .3-.2 1.1 2M102.9 92.5l.1-.4 .2-.2M104.7 95.5l.8-.3 1.3-3.1 0-.1-.3-.2-.1-2.4-2.1-.4-.3-.6 .4-1.6 1-.3 1.9 1 .4 .6-.8 .8-.5 .5M101.5 93.8l-.9-.5-1.9 .4-.4 2.1M89.5 96.4l-.2 0-.3 1.6M92.2 94.9l.5-.3M91.1 94.1l1.7-.3M91.5 90.4l.8-.4 .8 .3 .5 .1 1.2-.5 .1-.4 1.9 1-.2 1-1.2-.5-.6-1.1M89.5 88.2l1.1-1.6 .2 0 .5 .1 1.2 .7-.1 2.5 2.7-2-.2 1.6M90.8 66.9l-.5-.8M93.8 67.7l-1.1 1.7-.7 0M92.7 69.4l1.3 1 1.7-1.3 .3-.5M94.6 133.9l.7 .5M93.9 134l-.8 .4-.7-.1-.3-1.4 .8-.4 .2 1.9 .1 .7-.4 1.3 2.3 .2 .4-.8-2.3-.7M95.9 135.6l-.4 .2M92.4 129.3l-.8-.9 .9-1.2 1.2-.4M92.1 130.6l-.4 .1-.7-.6-.3 1 .6 .2-.4 .5 .5 .8 .5-.5-.6-.8 .4-.6M94 139l.1-1.1-1.4-.7-3 2.9M94 139l-3.5 1.8M94 139l1.2 1 1.2-1.4 .2-.1-1.6-1.8-.8 1.2 2.2 .7M94.1 137.9l.1 0M92.7 137.2l0-.6-4.4-2.1-.1 0 .1-2.6 2.6-.1M96.6 138.5l.3-.1M95 136.7l.1-.1M95.2 140l0 .5 1.3 .2 .6 .4-2 3.1M98.1 140.8l-1 .3M97.3 139.4l-.8 1.3M95.2 140.5l-1.5 2.9M200.5 39.8l.1-.1M199.5 40.5l-1.4-.8-1 2.6M199 41.5l-1.5 1.1M203.3 57.6l2.3 0M193.7 47.6l-.1-.3M189.7 46.5l-2.9 .3-.8-.9-1.6 .3M189.9 45.9l0-.2M190.1 47.1l.1 .5 .4 .6 2 1.7-1.3 .4M197 47.5l.9-.1 .2 0M184.6 43.6l1.1 .9 .3 1.4M183.9 46.7l.3 2 .4-.2M185.7 44.5l1.9-1.7M183.9 55.6l-.5-.3-1.1-.2M176.7 55.5l-.5 .3 .2 .3 .1 2.1-.1 .2-1.2-.6 0-.1 .9-1.9 .1 0M181.4 55.5l1.1 2.2M182.8 53.1l.9-.7M194.3 63.1l-1.6 1.1M191.9 62.7l-.9 1.8M185.8 87.3l2.2 .8M184.7 91.7l3-1.4M179 85l-.5-.7-.5 .1-4.3 3M200.9 75l-1.2-5.2-2-.1-.3 1 1.2 4.3-2.8-.6-.7-2.1 2.3-1.6M200.3 75.7l-1.7-.7M190.6 42.9l.3-1-.3-.3-1 .4-.7 1.4M186.8 46.8l-.3 .8M186.9 41.5l-.4-2.4-.1 0M187.4 42l1.1-1.2 0-.2 .4-.9 .6 0 1.1 .8-.1 .1-1.7 .4-.3-.2M197.9 47.4l-.6-3.6M173.7 56.8l1.5 .9M173.1 57.5l.8 1.8 .1 .7M175.1 55.1l1 .7M170.8 55.3l-1-1.2M181.7 59.8l1.3 .5 .7-1.8-.7-.3M180.8 55.7l-2.8 1.2 0 1 .9 1.1 1.2-.4M181.2 59.8l-.7 1.8M183 60.3l.2 .3M183.7 58.5l.6-.2M183.4 55.3l1.5-1.6M178.9 62.2l-1.1-1.6-1.5-.3-.3 .1 .1 3M188.4 65.1l-.4 2 .9 .1 1.1-2M190.6 64.8l.1 0M186.1 66.1l-.1 .4 1.6 .7 .4-.1M188.9 67.2l1.8 1.6 .7-3.1M183.6 66.9l1.2 .3 1.2-.7M181.9 69l-.2 .9M179.2 68.1l.7 1.8M180.8 68.6l-.2 .9M173 62.9l.3-1.4M174.3 60.4l1.7 0M173.9 59.3l1.3-1.5M173.6 87.4l-3.8-3.2M178.5 84.3l1-1.9M178 84.4l-2.4-1.4M170.4 81.6l-.4-1 2.1-3.6 .7 .3M166.3 81.1l.7-.7 2.4 .1 .6 .1M164.1 81l-.1-2.6-1-.1-2.4 2.3M163 78.3l-.4-2.1 2.5 .5-.7 1.6-.4 .1M175 34.3l-2.4 .6M169.3 30l.7 1.1 1.1-.8 .3-1M171.1 30.3l.3 .9M170 31.1l-.3 .8M170.3 46.6l-.8 .5 0 .5 1 .4 .3-1.2M169.7 45.3l-.7 .5 .2 1.1 .3 .2M172.6 48.3l-.1 .2M169.5 47.6l-.5 .8-.7-1.3-.8-.3-.1-.1-1.5-.2M170.5 48l.2 .4-1.7 .2 .2 .5M145.6 53.4l-.2 .5-1-.7-.4-1.2 .2-.4-2.7-.2-.8 .7 0 .2 2.1 .4 1.2-.7M144.3 51.4l-.1 .2M141.5 51.4l.7-.7M140.7 52.1l-.6-.6 .2-.9 1.4-.8 .3 0M140.7 52.3l0 .1M142.8 52.7l.3 1.3 .7-.2 1.3 1-.3 .6-.8 .2-1-1.3 .1-.3M140.7 53.4l2.3 .9-.3 .2M148 56.4l.3 .5-.5 1.1 .7 .7-.6 1.4M145.4 56.2l-.6-.8M146.4 57l0 .2-.1 .7M145.5 56.4l-.7 1.1M147.4 57.9l-1-.7M144.6 58.3l0-.2M148.3 56.9l2 .8M148.5 58.7l1.8-.9M156.3 41l.2-.1 .1 0 2 .4 .6 1.2-2.1-.2-.7-.5-.3-.5 .2-.3-1.2-1.7M156.5 40.9l.6-2.1-.7-.9M156.6 40.9l1.7-1.2M158.6 41.3l.2-.4M156.1 41.3l-.2 .1-1.6-1.1M156.4 41.8l0 1.1 .3 .8 .3 .1M157.1 42.3l.4 1.2M159.2 42.5l.1 .2-.6 .9M154.7 45.3l-.3-.6 .9-.7-.6 1.3 .3 .7 .2-.1 .3-1.8 .5 .1 .3-.3-.5-.5-.6 .1-.1 .1 .2 .4 .2 .1M154.4 44.7l-.5-.5-1.1-.7-.4 1.5 .3 .4 .6-.2 .6-1 .7-.7-.6-1.5-.7-.1M155.9 41.4l-.2 .1-.5 .1-1.2-1.2M157.3 45.1l-1 .3-.3-1.2M158 45.3l-.7 1.9 .2 1 .1 0 1.7-2.6M156.4 42.9l-.6 .5M156.7 43.7l-.4 .2M160.3 45.8l.9 1.5-.3 .9-.3 .4M161.5 44.5l-2.2-1.8 1-.8 .4-.2M159.9 45.8l-.8 2.3M160.3 41.9l-.8-1.5M160 40l-.2-.1M153.8 51.4l-.1-.6M154.2 51.6l.6-.2M153.8 67l-.2 .9-2.2 1M153.6 64.6l-.3-.2-.6 .5-.4 1.1M161.8 65.5l-.1 1.8-.7-.1M162.6 65.8l.2 .9M168 67l-.6-1.3M169.4 66.3l-.3-1.9-.9-.3M169.2 64.4l-.2-.9 1 .1-.3 .4-.5 .4-.1 0M169 63.5l-.7-.7-.5 .2M169.7 64l.8 1.6-.1 .2M170 63.6l.1 0 .6 1.7 .4-.4 0-.1-.3-1.8-.4 .1-.3 .5M166.7 62.9l.8-1.3M166.2 64.5l-1.5 1.5M168.3 62.8l.2-.1-.1-1.1M166.5 57.7l-.7-.1M169.8 61.7l-.1 .8-1.2 .2M169.7 62.5l.7 .6M163.6 58l-.7-.3M163.1 55.7l-1.7 .8M161.6 57.5l-.2-.9M163.5 54.6l.8-.8 1.6 .1-1.5-1.5-.1 1.4M162.7 54.1l0-.2M163.7 52.2l.2-.1M164.5 52.2l2.5 .5M164.5 52.3l-.1 .1M148.7 74.5l-2.1 1M150 75.8l1.2 1.2M149.3 73.6l-1.8-1.1-1.1 1.4M150.5 73.1l.2-1.2-.9-.7-2 .5M152.7 74.5l.2 0 1.5 .1M144.7 68.9l.5 .6M145.9 67.9l.4 .5M147 70.1l.8 .5M146.1 70.2l0 .1 .1 .7M145.9 69.7l-.7-.1M144.7 65.9l2.4-1.2 0 .1M147.1 64.7l-.4-.8M143.1 65.5l0-2.3-.8-.1 0-.4-.8-1.8M144.5 65.7l0-1.1M147.9 70.9l1.7 0 .2 .3M146.2 71.9l-1 .3M146.2 71.1l-1.7-.2 .1-.2M146.1 70.3l-1.1 .3M148.5 69.7l.6-.2 .5 1.4M146.5 75.5l-.9 .6M149.1 69.5l.6-.6M150.7 71.9l.2-.2-.2-1M150.5 66.1l-.8-1.8 1.5-.7 .2 .8 .6-.4 0 .5-.5 .4-.1-.5M150.9 65.9l.6-1M155.9 65.7l-1.3-2.2-1.3 .4 0 .5M154.4 69.6l-.1 .1 .2 1.3 .8 1.4M158.4 76.1l.7-1.3 1.3 2.7-.6 1.5M157 77.2l-1.1-1.3M160.4 77.5l1.9-1.6 0-1-3.2-.1-.3-.3M158.8 74.3l1.7-1-.4-.6-.3 0-1.2 .8M152.9 74.5l0-2.7 1.6-.8M159.8 72.7l.1-1.4 .9 .4 .1 .1-.8 .9M160.5 73.3l1.6-.3 .3 .7 .1 .7-.1 .2-.1 .3M143.8 74.7l1.2 1.5M143.1 74.3l-1 .7M141.3 78.9l.8-1.3 1.7 1.3 .1 .4-2.4 .2M145.4 80.3l.2-1.1M145.1 80.3l-1.2-1M142.1 77.6l.1-.1 2.1-.6-.5 2M142.2 77.5l-.2-.3M144.3 76.9l.6-.4M172.6 69.8l-.1 1.8M171.3 69.6l-.7 .9-1.8 1.9 .8 .6 2.1 3.1-3.9 .3-1.3-.2-.1-.1-.1-.7 .4-2 1.5-1 .2-.1 .4 .1M188.9 51.8l.1-1.6-.1-.2-2.1-.1M187.5 52.6l-.9-2.4M190.2 52.1l.3-1.2M187.3 53.4l-1.4-.3M184.2 48.7l-.1 0M193.1 89l-3.1 1.7M190.2 91.8l-.3-.9M180.4 133.2l2.8-.9 .1 3.7-.1 .1M179.5 132.9l-2-.8-.5-.8 1-3M179.3 135.5l-.7 1.1-1-1.9 1.2-.6M178.5 143l-1.2-.3-.8 1.2M180.6 142.6l.1 0 .7-1.1 1.5 .3-1.1 1.4-1.1-.6M179.4 142.5l-.1-2.6M142.3 135.2l-.9-1.7-2.7-1.5-.3-3.9 2.8 .6 .6 .3-.4 4.5M167.6 133.8l.8-1-.4-3.1-2 2M168.4 132.8l2.4 .2 .9 1.5-1 2.5M168 129.7l.1-1.1M181.3 140.9l.1 .6M181.1 138.4l-1.3-1.1M183.6 140.2l-.3 1.6 .1 .2 1.6 .2M178.4 139l-1.5-.1-.4-1.2-.3-.4-.4 1.5 .1 .1 .4 .4 .6-.4M178.6 139.6l-1.6 1.5-.7-.8-.6 0-1.3 .9M178.4 138.7l-1.9-1M178.8 137.4l-.1-.1-2.5 0 0-.1-.6-.6-.4 .3-.6 1.1 .2 .6 1 .2M185.8 128.6l.4 1.3M183.1 130.7l.4 1.2-.3 .4M185 134.4l-1.7 1.6M185.3 133.2l-.3-.7M183.5 131.9l.3 .1M189.3 89l1.5-1M187.5 83.6l-1.8-2.4 .7-1.9 .4-.6 3.2-.2M142.3 123.3l1.5 1.3 1.5-2.1-.3-1.2-2.5 .6M141.1 123.7l.5 3.3-2.2-1.5 .8-1.8M142 121.1l.3-.7 2.8-.5 0-.5-1.9-.5M137.3 125.1l1.4 .7-.1 1-.6 .8-.9 .2M138.4 131.8l.3 .2M142.3 119.6l0 .8M145.1 119.4l.3-.3 .6-2 .1-1.6M145.1 119.9l.1 1-.2 .4M76 84.5l-.3 0-.7-1.5 .1-.9M77.9 85l-1.5-.9M78.3 83.7l-.1 0M68.7 111.2l0 .4M67.7 110.3l-.3 .1M67.4 111.4l.3 .2M94.6 115.3l.2 .1M91.8 115.1l0 .5-.1 .2-2.5 .2M85.2 121.5l.9-1.5 1.4 .7-.5 1-1.7 .1M86.1 120l-.3-.4M87 121.7l.1 .2 2.3 .3 .1-1-.2-.6-.6-.6 .2-1.5 2.9 .7 .8 .9 0 .1-3.3 .4M87.5 120.7l1.2-.7M89.3 114.7l0-.1M88.3 117.4l.5 .8 2.5-1 .4-1.4M91.8 115.6l1.2 .7M88.8 118.2l.1 .3M91.3 117.2l.7 .7-.2 1.3M102.7 66.9l-.6-1.1 1.1-1.6M101.5 68.1l-.3 .1-.1 0-.6 1.1 .1 1 1.1-.2 .4-1.2M105.2 68.1l.2 .5 .4 .6-1.1 2.1 1.3 1 2.5-.9-2.7-2.2M103 69.3l.1 1.5 .4 .1 1.9-2.3M96.5 68.1l1.1-.3 .4 .8 .9 .4 .1 .2 1.5 .1M95.7 69.1l1.1 1.3 .9-.5 .3-1.3M101.7 70.1l.8 .8-1.3 1-.4-.6-.3-.9 .1-.1M101.2 68.2l-.8-1.5M101.1 68.2l-1-.1-1.2 .9M99 69.2l.2 1 .3 .3 1-.1M100.1 68.1l-1.3-.9M84.7 102.3l-1.9-.2 .7 1.5 1.2-1.3 .1 0M83.5 103.6l.1 .3M84.9 102.5l-.2 1.7M82.5 110.4l-.3-.3 .6-1.8-.5-.4-.6 1.9 .5 .3M84.1 110.8l.1-2.3-.3-.4-1.1 .2M81.7 106l.2-.3M81.5 107.1l.8 .8M80.3 109.1l1.4 .7M90.9 105l.1-.1M87 104.2l-1.5 .5M94.3 96.5l.3-1.4 1.9 .6 .4 .5M93.2 96.5l.2-1.5M83.1 86.4l.7 .7M83.7 85.9l1 .6M110 55.8l.5-.4 .8 .2 .2 1.7-1 1.5-.5 .2-.6 0-.4-.5M107.3 57.7l-.1 .2M109.4 59l-.3 .8 .7 1.3-.9 .8 .5 .7M110 59l.6 1.4 0 1 .1 .3 .6-1.1-.1-.1-.6-.1M110.5 55.4l-.9-1.3M111.3 55.6l1-.5 .4-1.5-.1-.6M111.5 57.3l.4 .2 1.9-.6 .2 .3 0 .7-1.7-.1-.4-.3M110.5 58.8l.6 .3 .3 1.2 1.5 .3 .1-.3-.2-.7 0-.1-1.7-.4M113.5 64.3l.6-.2 1.4 2.1-2.2 .5-.3-.1M112.8 63.9l-.7-2.1-1.3 0-.7 1.1M105.2 63.1l.7-.9 1.3 .6 .3-.6-.2-.8 1.1-.6 0-.5-.7 0-.5 .1 .1 1-1.7-.2 .3 1M105.4 65.3l.2 1.6M102.1 65.8l-1.4-.4M106.7 64.3l.6-1.3 .9 .3M98 67.1l-.4 .7M150.4 45.4l.8-.7 .5 .4 .3-.1-.5-.9-.3 .1 0 .5M150.6 46l1.1-.9M148.9 43.4l.8 .3M149.8 43.9l1.4 .3M152.3 46l.3-.5 .1-.1M152.5 46.9l.5 .2 .4-.9 1.2-.2 .3 0-.1 .5-1.4 1.1-1.4 1.4M142.7 61.4l-.4 1.3M143.4 61.3l0 1.8-.3 .1M141.3 60.8l-.7 .4M142.3 63.1l-.1 .1-1.9-1M143.4 63.1l.8 .1 .6-1.6M144.2 63.2l.2 .2M139.6 62.8l-.2 .2-.1 .4M142.2 63.2l-.3 .5-2.1-.1M137.4 51.2l.2 0 1.2 .7M129.3 69.2l-.8 .5M128 68.4l-.7-.3M128.1 68.5l-.2 .9M131.1 70.4l-.2 .8-.5 .5-1.7-.2M130 69.8l-1.2 .4M127.3 81l.7-.9M127.2 62.1l-.1-2.6-.2-.5-1.3 .5 .2 2.9 1 .2M126.9 62.8l-1 2.7-.1 .2-1.7 .4-.3-.5 1.1-1.2 1 1.1M129.4 61.4l.5-1.7 1.6 .1M128.5 61.5l-.1-1.8-1.3-.2M125.6 59.5l-.8-.2-.8-1.3 .1-.2-.8-1.7 .4-.4M126.9 59l.1-.4 .5-.5 1.6 1.4-.7 .2M125.8 62.4l-.7 0-.9 .3-1 2.5 .3 .2 1.4-2.1 .2-.9-.4-.6-.6-1.3 .7-1.2M114.4 70.8l.9-1.1M115.5 72.1l1.1 1.1 0 1.5M115.5 71.8l.7-.6M116.3 74.9l-1.2 0M116.8 77.4l-2.5 .3-.2-.9 0-.1M118.7 77.5l.9-.5 .7 .1 .5-.7-1-.1-.2 .7M118.5 74.6l.7-.2M117.4 78.2l-.8 1.8 .9 1.7M112 75.6l.1 .9 2 .3M111.7 75.2l-1.1 .4-1 .1 .9 1.3 .4 .1-.3-1.5M116.6 73.2l1.3-1.6-1-.6M112.1 76.5l-.4 1.2-.8-.6M114.3 77.7l-.4 .6-2.2 .2 0-.8M127.7 78.3l.2-.5-.1-.5-1.8-.3M127.9 78.8l1.7-.7 .1 .2-.5 1.7M125.8 79.3l-.8-1.2-.7 .2-.2-2.6-1.4 .3-.1 .3 .5 1.9M126.5 78.3l-1.2-.6-.3 .4M118.3 68.9l1.3-1.2 0-.3-.5-.9 0-.1-2 2 1.2 .5 1.3 2.3-1.7 .4M119.6 67.7l1.6 1.3 .2 .4-.5 1.7M117.1 68.4l-.8-.2-.2 .2-2.8-1.7M119.1 66.5l1.7-.3 .3 .6-1.5 .6M119.1 66.4l-.1 0 1.5-.8 .1 .1 .2 .5M125.8 65.7l.6 .5M124.9 64.4l0-1.1M123.8 65.6l-.3-.2M124.1 66.1l0 .1 1.5 2M115 91.5l0-.2 .7-.3M114 92.2l-1.4-.7 1.8-1.2 .6 1M114.1 93.1l-1.8-.2-.6 1.7M115.5 66.2l1 .8-.7-2.8 2.4 .5 0 .6-1.7 1.8 0-.1M114.1 64.1l.3-.2-.3-2.2 1.1-.7 1.5 .9-1.6 1.9-.7 .1M115.7 51.8l0 .6 1.5 1.6-.7 1.8-1.1-.6 0-1.9 .3-.9M112.7 53.6l1.3 .2 1.3 1.4-2 .4-1-.5M158 48.3l-.4-.1M157.3 47.2l-.1-.1-1.1-1.5 .2-.2M157.5 48.2l-.2 .1-.1 0-1.3-1.7 1.3 .5M155.8 50.3l-.7-.3M156.2 50.4l.3-.3 .6-.7 .9 1-.3 .7-1.2-1M156.7 52.6l.7-.3 .3-.8 1-.6-.8 1.5-.5-.1M159.4 51.9l0-.1M158.6 52.6l-.7-.2M158.9 50.6l-.9-.2M158.9 50.8l-.2 .1M164.1 49l-.4-.7-.9 .5-.1-.2-.2-.6 .5-.4 .3 .1 .5 .5 0 .1-.1 0M162.6 49.6l.2-.8M169.9 50.1l-.7 1.6M168 51.8l-.4-.1M167.4 51.1l-.5-.7-.7-.1-.3-2.3-.6-.4M166.8 53.9l-.9 0M173.5 51.1l0-.5M171.3 49l-.6-.6M169 48.6l-.1-.1-1.3 .2-.1-1.9-1.2 1.2-.4 0M165 48l-1.2 .3M165.3 47.7l-.8-.6-.4-1.4M166.9 50.4l.6-1.5-1.2-.9M164.5 47.1l-.6 .2-.3-.2-.5-1 .1-.4M165.3 45.1l2.1-.1M142.3 49.3l-.8-.6M140.1 51.5l-.1-.1M140.3 50.6l0-1M141.7 49.8l-.6-.6M140.7 41.8l.1-.6M125.6 42.8l-.1-.6M60.7 117l-.7 1M57.5 119.2l-.5-.2M58.6 120.9l.1-.1 .9-.9 1.7 .4 .4 .1M56 119.5l.2-.4M56.4 118.4l.9-.5M57.9 118.8l.5-.3M58.7 120.8l.2-1.7M61.3 120.3l-1.4-1.4M59.6 119.9l0-.2M148.3 112l5.1-.7-1.6 2.9-1.1 .8-3-1.5 1.6 6-.7 .3-.4 .4-.6 1.1 .4 1.3 .2 .2M153.6 108.8l.4 .5 1.2 .3 1.2 .9-1.7 2.3-1.2-1.5 .5-2M156.9 108l-1.7 1.6M157.5 110.6l0 .2-1.1-.3M157.1 112.4l-2.4 .4 0 .2 .7 1.7M153.4 111.3l.1 0M150.7 115l2.1 2.4M151.8 114.2l2.9-1.2M145.4 119.1l2.8 1.1M146 117.1l2.6 2.7M145.2 120.9l2.4 .4M143.8 124.6l.6 1.6 2.7-.3M145.3 122.5l.3 .2 1.6 3M144.4 126.2l-.1 .2-2 1.4-.7-.8M145.6 122.7l2.4-.1M139 77.4l-.4 0M139.4 77.3l.4-1M133.6 70.2l-.8 1.8-1.1-.2 .4 1.6 .8-.1 0-1.2-.1-.1M141.6 64.7l.3-1M136.8 65.9l-.4-.9M138.7 67.5l-.1-.4M137.1 64.8l.3 0M131.9 80.6l1.4-1.8 .5-.3 .3-.6-.1-.1-1.2 .3 .5 .7M127.5 82l-2.4 1.5M131.4 80.1l0-.6-1.7-1.2M134.4 79.5l-.6-1M135.4 79.3l-.6-1.7 .4-.5 1.2 1.5M137.2 78.3l0-1M134.8 77.6l-.7 .3M135.2 77.1l.2-.4 .6-.3M117 90l-.4-1.5M116.2 90.1l-.1-.1-1.7-.1-.2-.6 .2-.5 1.3 .2 .4 1M100.6 93.3l.1-1.2-.6-.9-2.2 1 0 .1-1.2-.5-.1-.3M98.7 93.7l-.2-.2-.6-1.2M98.5 91l-.6-1.5 1.1 1.1-.5 .4-.6 1.2M97.9 89.5l-.5-.8-.6 1.8M99 90.6l.9-.4 .2 1M89.3 96.4l-.3-.3 .2-.5M88.8 85.5l1 .1-.9-1.3-.5-.3-.6 .3M95.4 91l-1.2 .5-.6-1.1M93.1 90.3l.5 2.4M92.3 90l.1-.1M95.1 87.9l0-.1-.2-.3-.2-.1-2.2 0M94.2 91.5l-.5 1.2M96.7 91.8l-.4 .4-.1 .3 .1 .9-.3 .9 .2 .2 .5-.6-.4-.5M97.4 88.7l.1-.6 .6-.3 1.6 .8 .4 1.1-.2 .5M91.9 132.1l1-.2M91.4 132.6l-.1 .1-.8 1.2-2.2 .6M92.9 132l0 .5M88.2 134.5l-1.5 1.8M88.3 131.9l0-.1 2.4-.7M91.3 132.7l.8 .2M90.5 133.9l1.9 .4M92.7 136.6l.1-.2M91 130.1l-.3-.3 .7-1.4 .2 0M88.3 131.8l-.1-.4 .6-1 1.9-.6M188.9 36.2l.8 .7-.1-1.4M189.7 36.9l.1 .5M188.6 37.8l-.1 .1-.6 .2-.7-.1M194 67.9l-.1 1.1 .2 0 2.8-2.2 .4-.8M193.7 75.8l2.1-1.4M189.7 75l-2-1-1.7 2.4 .8 2.3M191.9 74.4l-.2-2.8 1-1.6 .4-.1 2 2.4M199.7 69.8l.8-.8M197.7 69.7l-.1-.1 .9-2.1-.5-.4-.9 2.1 0 .1 .5 .3M200.4 68.4l-.4-.7 0-1M191.9 43l0-.9-1-.2M192.4 43.8l1.8-1 .2 0M191.1 37.4l.2 .9-1.3 .6-.1 0-1.4-1M191.2 37.4l.1-1.4M187.9 38.1l1 1.6M186.5 39.1l2 1.5M193.1 69.9l.8-.9M192.7 70l-1.8-1-.1-.1-.1-.1-2.5 1-.8 .1-1.1 .9 .4 1.3 .9 1.2 1.6-1 0-1.1-.2-.3-.8-1.1M191.7 71.6l-2.5 .7M187.6 67.2l-.2 2.7M184.8 67.2l.3 2.1-2.1 .1M185.1 69.3l.4 1-2.4 1M182.7 71l-.8-.1M185.5 70.3l.8 .5M183.3 73.7l3.4-1.6M182.7 74.7l1.2 1.1-.6 1.3M176.3 60.3l.1-1.9M177.8 60.6l1.1-1.6M178 56.9l-1.6-.8M178 57.9l-1.5 .3M162.1 73l0-.1M162.4 73.7l2.7-1.2-.5-.9M162.5 74.4l4.2-1-1.6-.9M162.4 74.6l3.9 .8M162.3 75.9l.3 .3M164.4 78.3l2.6 2 0 .1M165.1 76.7l1.3-.6M172.1 77l-.3-.8-.1-.1M168 70.9l.4 1.4M174.3 31.7l-1.1 .6-.9 2.4M173.2 32.3l-1.4-.2M169.4 34.4l0-.4 .3-.7M169 45.8l-.1 0M169.2 46.9l-.9 .2M144.4 53.2l-.6 .6M145.4 53.9l.1 .3M145.2 54.7l-.1 .1M143.5 56.1l.5-.5M159.2 38.3l-.4 .7M159.2 37.9l-.1-.3M159.2 36l-1.7 .8-.2 0M159 37.6l-1.2-.5 .6 1.8-1.3-.1M158.6 39l-.2-.1M152.8 43.5l0-.1 0-.5M152.4 45l-.4 0M153.3 45.2l1.3 .8M150.7 42.7l.4-.1M150.7 42.8l1.2 .9 .9-.3M151.9 43.7l-.4 .4M155.2 41.6l-1.2 .4M155.7 41.5l-.5 2M154.6 43.5l.5 .1M156.1 45.6l-.9 .3 .7 .7M157.3 48.3l-.2 1.1M157.2 48.3l-1.5-.1-.4-.6-1.4 .6-.5-.6-.4-.5M155 46l-.1 0M154.1 48.9l-.2-.7M154.9 49.1l.8-.9M155.3 47.6l-.5-1.1M152.7 64.9l-.7-.4M154.6 63.5l.2-.6 .5-.3M153.3 63.9l-1-1.1-.3 1.2M156.7 60.4l-2.1 .4 .6 .8M160.1 69.3l.4 .1 1.9-.7 .4 .5-.1 .1-.9 1-.5 .1-.8-1M159.3 71l.6 .3M160.9 71.8l.9 .6M160.8 71.7l.5-1.3M162.4 68.7l-.1-.2M162.8 69.2l1.2 0M162.7 69.3l.3 1.4M161.8 70.3l.5 .8M161 67.9l.8-.1M161.7 67.3l0 .3M151.4 69.1l.5 .6 1.5 .3-1.5 1.3-.5 .1 .5-1.7M150.9 71.7l.5-.3M152.9 71.8l-1-.5M154.3 69.7l-.9 .3M138.7 75l-.5 1M170.5 65.6l.2-.3M173.3 65.3l-.6-.4-.7-1.3 0-.4M171.3 62.8l-.5 .2M172.7 64.9l-1.6 0M172 63.6l-.9 1.2M165.3 70.8l2.9 1.6M184.5 51.2l0 .1M177.6 134.7l-.6 .1-.8 .4-.4 .1 .6-2.2 .6-.3 0 2M176.3 139.3l0 1M175.9 138.9l-.9 .8-.7-.2 .5-.9M178.7 137.3l0-.1-.1-.6-1.6-.7 .4 .6 1.3 .7M177.3 142.7l-.4-.8 .1-.8M170.8 133l.4-1.1 1.9-.6 .1 .2 0 2.6-1.5 .4M176.2 137.2l1.2-.7M175.6 136.6l.1-1.3-1-.8-1.5 2.2-2.4 .4M174.6 138l-.6 .1-.4-1.3 1.6 .1M174 138.1l-1.1 .3M173.6 136.8l-.4-.1M173.7 126.9l-.7 1.6 .9 1.3-.7 .8-1.1-.7-.2-1 1.1-.4M175.7 128.5l-1 1.2 .8 1.8 1.5-.2M174.7 129.7l-.8 .1M175.5 131.5l-.5 .5 0 .8-.5 1.5-1.3-.2M177.5 132.1l-.5 .7M183.3 141.8l-.4 0M183.4 142l-.1 .8M181.8 143.2l.5 .5M120.9 130.5l-.1 .9M121.9 133.4l-.6-.1M138 127.6l.4 .5M138.6 126.8l2.6 1.9M138.7 125.8l.7-.3M144.3 126.4l1.6 3.1M142.3 127.8l-.5 1.2M78 83.7l-1.5 .3M76.3 82.1l-1 0M74.3 81.1l-.8-.5M75 80.6l.2-1.1M73.3 82.9l.6 .8M75.7 84.5l-.9 .3M75 83l-.3 .2M67.5 112.8l2 .4M92.7 120.2l.5 .4 1.9-1.5-.7-.4-.7-.2-1 1.7-.1-.1M93.2 120.6l.9 1.2-1.7 1.9 0 .3 1 1.2M93.7 118.5l0-.8M94.4 118.7l1.4-1.6-.1-.3M95.1 119.1l1.5 0M96.6 125.3l-2.6-.4M94.7 122l0-.1-.6-.1M97.8 123.7l.7-3.3M92.4 123.7l-.9-.6-.2-.4-1.9-.5-.1 .3 1.5 .8 .7-.2M92.4 124l-1.7 1.5 1.8 1.7M94.7 121.9l2.4-1.9M92.6 120.2l-1.3 1.4-1.8-.4M92 117.9l1.2-.5M87.1 121.9l.1 .8 1.6 .9 .5-1.1M91.3 121.6l0 1.1M95.8 117.1l.6 .8M98.8 115.5l-.5 1.5M104 88.4l-.6-.1-1.2 .1-.3 .2 0 .3 1 1.2 .6-.1M104.4 86.8l-.4-.4 .3-1.5-1.9 0 1.1-1.2-.1-.5-1-1-.4 .5-.2 1.9 .6 .3 .4 1 1.2 .5M104.3 89l-.5 .8M107.3 87.5l0-1.9-1.8 .2-.1 .7M107.7 88.1l.9-.1 .4 .5 .3 .8 0 1-.9 .3-.4 1.7 .3 .2 1.2-1.8-.2-.4M106.9 88.9l1.5 1.7M84.3 106.2l.7 .7 .5 1-1.3 .6M83.6 106.4l.3 1.7M85.4 105l.5 1.5-.9 .4M85.5 107.9l.1 0M85.9 106.5l.2 .1 1.8-1M96.5 95.7l-.3-1.2M84.1 88.8l.3-.2M82.5 87.9l1.2-.6M107.5 59.7l.2 .6M152.6 45.5l.8 .7M139.2 50.9l-.2-1.5-.6 1.1M125.3 77.7l.2-.5M127 58.6l-1.5-1.3-1.4 .5M127.5 58.1l.9-1M129.1 59.5l.6-.1M125 54.4l-.2-.8M125.9 56.2l-.4 1.1M123.6 53.3l-.7-.5 0-.9M123.4 53.9l-.7 1.1-.8-1.5 1-.7M123.3 56.1l-.5-.1-.1-1M120.3 77.1l.2 .1M119.8 76.3l.1-1.4 1.3 1.1-.4 .4M119.9 74.9l-.1-.1M121.2 76l1.3 .3 .1 0M116.3 68.2l.2-1.1M119.6 71.2l.2 .1M121.2 74.2l1.4 .3M121.8 72.9l.9 1M109.6 75.7l-.1 0M110.5 77l-.7 .2 0 .1 1.9 1.2-.1 .2 1.8 2.5 1.6-1.3-1.1-1.6M127.9 77.8l2-.6-.3 .9M127.8 77.3l0-.1-1-1.2M121.4 69.4l1.9-1.1 1.8 1.2 .6-1M121.2 69l.2-2.1-.3-.1M123.3 68.3l0-.1 .6-1.6-2.1 .2 1.5 1.4M124.1 66.2l-.2 .4M112.3 92.9l-.1-.7 0-.7-.5 .1-.9 .9 .2 .3 1.2-.6M118.6 78.3l1.9 .7M116.6 80l-1.1 0-.4 3.3-.3-.4 .5-2.9 .2 0M116.5 83l-1.2 .6-.4 .7 .4 .8 .3 0 1.1 .1M114.4 90.3l0-.4M112.6 91.5l-.4 0-.1-1.1-.9-.5-.1-1.1 1-.3 .5 1.1-.5 .8M111.4 94.5l-.4-1.7M111.2 94.5l-1.2-1.9-.2-.1 .7-1.1 1.2 .2M109.8 77.2l-.6-1.4-.1 1.2-.8 .6 .1 .1 0 .1 .9-.4-.2-.4M109.8 77.3l-.2 .3 0 .6-.7 .1-.4 .7-.2 .6 2.6-.5-1.3-.9M124 58l-.7 .4-1 .7 0 .1-.8 .7-1.4 .3-.2-1.3-.9-1.1-1.1 1.5 .9 .9-.3 .3-1.6 .6-.1-1.6 .1-.2 1 0M117.5 51.2l.4 2.5 .4 0 .7-.6-1.3-1.8M120.3 51.8l0 1-1.3 .3M157.7 51.1l0 .4M160.9 48.2l1.8 .4M161.2 47.3l.2 0 1.3-.7 .4-.5M162.7 46.6l.3 1M161.4 47.3l1.1 .7M167.5 48.9l.1-.2M167.4 46.7l.2-.6M149.3 119.5l1.4 .3M131.4 79.5l.1-1.7-1.6-.6-.1-.2-.7-.6-.8 .1-.2-.9 .2-.5 1 .1-.2 1.2M127.4 73.7l.9 1.4M128 73.5l1.2 0 1-.8 .2-1M129.2 73.5l.5 1.5 .6 .1 .7-1.2-.8-1.2M130.9 71.2l.8 .6M135.4 76.7l-1.7-1.1-.8 1.6 1.1 .6M96 94.3l-.3-.3-.2-.5-1.2-.1 1 .8 .4-.2M96.7 93.9l1.8-.4M96.3 92.2l-2.5 .6M96.2 92.5l-.7 1M100.7 92.1l1-.8 0-.7 .6-.3 .1-.1 .2 1.6-.9-.5M97.5 88.1l-1.8-.4-.6 .1M99.7 88.6l.7-.3 1.5 .3M100.1 89.7l.5 .2 1.1-.5 .2-.5M98.1 87.8l.3-.9-1.7-3.1-1 3.9M105.6 92.1l.9-.3M103 92.1l-.4-.3M102.2 88.4l-.5-1.5 .6-.1 1.1 1.5M102.9 90.1l-.5 .1M100.4 88.3l.5-.8-1.1-1.9-1.4 1.3M100.6 89.9l1.1 .7M101.7 89.4l.6 .9M87.1 98.6l-.1-2.1 .2-.1 .9 1 0-1.4-.4-.5-.5 .9M88.1 98l0-.6M89 96.1l-.9-.1M87.7 95.4l0 .1-1.1 .4M90.8 86.6l1.6-2.1 1 .8-2.1 1.4M93.4 85.3l.1 0 1.2 2.1M92.4 84.5l-.1-.3-.9 .3-.8 2.1-.7-1-.1 0M93.5 85.3l1-1.3 .9 .1-.5 3.4M88.4 84l.2-.4M88.9 84.3l.2-.2 1.2-.5-.4 2M92.3 84.2l0-.5-.2-.4-1.5 .1 .8 1.1M92.1 83.3l.3-.7-.4-.7 0-.4 .3-.2 1.7 .4-.2 .7-1.4 .2M90.6 83.4l-.1 0-.1 .1-.1 .1M92.3 83.7l2.1 .2 .1 .1M89.1 84.1l.2-.4M88.5 78.6l-.8-.6M89.8 81.1l.8 1.1-.1 1.2M90.8 80.6l.9 .5 1.2-2.2-.3-.4-1.2 .6M92.5 74l.2 0 .2-.2 1.1-2 0-1.4 2.7 .9 .1-.9M92.3 78l.3 .3 0 .2M91.2 73.8l-1.2-.3M190.2 47.6l-1.3 2.4M190.6 48.2l0 1.7M189 50.2l1.3 .5M187.7 74l-.1-.7M186 76.4l-2.1-.6M185.7 81.2l-4.8 .7M186.4 79.3l-3.1-1.1M194.6 42.4l-1-1.4 .9-.9 1.7 1.4 .1 .4M194.2 42.8l-2.2-.8-.1 .1M198.1 39.7l-.1-.2 .8-.6M196.2 41.5l0-1.9-1.5-.6-.2 1.1M193.6 41l-.9-.4-.7 1.4M169.4 80.5l-1.6-4.1M167 80.3l-.5-4.1M157.8 37.1l-.3-.3M154.5 60.1l-.1 .4-2.2-1.8M154.1 58.6l-1.9-.1M154.6 60.8l-.2-.2-.4 1.9-1.8 .2 0-.1-.2-.6 0-.8 2.3-.6 .1 0M154.8 62.9l-.8-.4M174.3 139.5l-.2 .2M175 139.7l.7 .6M177 135.9l-.8-.7M173.2 131.5l1.8 .5M171.2 131.9l-.4-.9 1.1-1-3-.9 1.9 1.9M173.1 131.3l.1-.7M174.7 134.5l-.2-.2M175.7 135.3l.1 0M175 132.8l1.4 .3M183.8 144.1l1.5 .2M182.7 144.8l-.2-.3M90.7 125.5l-.1 0-1.6-.6 0-.6-.2-.7M90.8 123.3l-1.8 1M87.2 122.7l-1.1 1.1M89 124.9l-.1 .1-1.4 .2-1.1-.3M90.6 125.5l-.4 2.3 1.2 .6M95.4 84.1l1.2-.4 .1 .1M94.4 83.9l-.6-1.5M92.6 78.3l.6-.6 .8-1.9-1.3-1.8M105.5 85.8l0-.4 1.3-.8-2.1-.1 0 .1 .8 .8M107.3 85.6l.2-.9-.4-.3-.3 .2M104.7 71.3l-.8 .1-.4-.5M106 72.3l-.2 .2-1.9 0 .2 .9 1.3 0 .4-.9M108.5 71.4l.1 .1M108.4 75.6l-1.2 .6-.4 0-.5-1.4-.7-.5-1.1 .5-.4 1.5-1.5 .8-.7-2.4 .3-.5 1.5-.2 .8 .8M108.4 72.2l-2.1 2.6M99.2 70.2l-.9 .3-.6-.6M99.5 70.5l-.2 .5 .4 .6-.1 0-1.1 .4-.4-.1 .1-.2 1.1-.7M102.5 70.9l.4 0 .2-.1M101.2 71.9l0 .1 .3 .3 .7 1.5 1-1.2-.5-.4-1.2 .1M100.8 71.3l-1.1 .3M98.3 70.5l-.1 1.2M96.7 71.3l.3 .8 .6 .1 .5-.3M86.1 106.6l0 .3M87.7 107l-.5 0M94.3 94.9l.3 .2 .7-.9M94.2 93.3l.1 .1M112.1 61.8l.3-.6 .5-.5 1.2 1M110.8 61.8l-.1-.1M105.1 60.5l.5 .7M105.5 60.3l1.7 .1M124.1 75.7l.4-.2M122.5 76.3l-.3 .2-1 .8M131.4 58.3l-.3-.6M129.9 59.7l-.2-.2M121.2 79.1l1-2.6M127.8 77.2l.5-.7M126.8 75.9l1.3-.3M121.4 66.9l.4-.1 .4-.9 1-.7-.9-1 1-1.4 .9-.1M110.8 92.5l-.8 .1M109.8 92.5l-1.4 .1 .2 1.9M110.5 91.4l-.3-.5-.7-.2M115.3 83.6l-.2-.3M114.9 84.3l-.7 .1-2.4-2.1-.6 .2-.3-.5-.2-1.5 .2-1 .1-.4 .6-.4M115.3 85.1l0 .1 1 1.5 .8-.5-1.5-1.1M115.3 85.2l-1.1 2.5 0 .1 .2 1M116.3 86.7l.1 .7M117.1 86.2l.1 0M117.3 87.5l-.4 .3M115 79.9l.3 .1M116.5 88.6l-.8 .4M114.2 87.7l-.6-.2-1.3 .6-.9-.8 1.2-.6 .5 .1 .5 .7M114.2 89.3l-1.6 .3M108.4 92.6l-.1-.1M105.5 95.2l1.2-.3 .1-2.8M106.8 92l1.2 .3M106.7 94.9l.6 .1M115.2 61l0-.6-1.5-.2-.7 .1M116.7 61.9l.2-.8M116.7 61.9l1.1-.1 .7-1.3M116.7 61.9l1.7 2.2-.1 .5-.1 .1M115.1 63.8l.7 .4M112.9 60.7l0-.1M112.4 61.2l-1.1-.6M118.8 60.2l.9 .3 .3-.2 .1-.1M116.8 59.5l-1.3 .2-.1-.1 .1-1.6 .9-.5 .5 1.8M111.4 60.3l-.2 .2M112.8 59.5l-.5-1.7M112.8 59.6l.7-.7 1.1 .6 .3-.2-.5-1.1-.4-.2-.5 .9M115.2 60.4l.3-.7M113.7 60.2l.9-.7M113.3 55.6l.5 1.3M114 53.8l1.4-.5M115.3 55.2l.1 0M117.9 53.7l-.7 .3M118.3 53.7l.9 1.5 1.4-1.7-.3-.7M163.9 47.3l-.1 .9M163.6 47.1l-.3 .6M169 48.4l-.1 .1M129.7 75l-.4 .2M131 73.9l.7 0 .4-.5M130.3 75.1l.3 .4-.8 1.5M134.4 72.2l-1.5-.1M133.8 73.8l-.9-.5M133.9 74.2l-.3 .5 .1 .9-2 .4-.2-.2 .6-1.3 1.5 .2M131.5 77.8l.2-.2 .1-.2 1.1-.2M132.8 78.1l-1.1-.5M131.8 77.4l-.1-1.4M96.6 83.7l.1 0 1.9-.4 .8 0 .9 1.6 1.5-.3M100.9 87.5l.7-.6-1.3-2-.5 .7M102 82.7l-2.6 .4 0 .2M102.4 82.2l.1-.7 1.5-.7 .4-.4 .1 0 .2-.3 1.5 .1 .4-.8-.3-.7-.1-.1-1.4 .1-.1 1.4M103.5 83.7l1.2 .3 0 .5M103.4 83.2l.3-.2 .5-.9 .2 .1 .3 .7-1 .1M99.4 83.1l.3-.8-1.4-1.9 2.5 .3 .1 .2-1.2 1.4M98.6 83.3l-1-3.1-1.4 1.5 .5 2M101.6 86.9l.1 0M102.3 86.8l.5-.9M90.6 82.2l1.4-.3M197.5 66.2l.5 .9M200 67.7l-1.5-.2M194.1 69l3 .3M196.9 66.8l.2 2.4M189.6 42l-.8-1M190.6 41.6l-.1-1M192.7 40.6l-.5-1-.1-.1-1.4 .9-.7-1.5M189.9 38.9l-.4 .8M191.3 38.3l.8 1.2M190.7 40.4l-.1 .1M192.2 39.6l2-1.2 .3-1.3M194.2 38.4l.5 .6M196.2 39.6l.7-.7 0-.9M190.9 69l-1.7 2.2M190.8 68.9l-1.8 2M169.6 73l2.3-1.1M171.8 76.2l1-1.3M170.6 70.5l1.6 1.2M152.3 62.8l-.1-.1M176.9 141.9l-1.3 0-1.2-.5M175.6 141.9l-.6 1.1M169.1 127.7l2.8 1.2M168.2 128.5l.7 .6M172.1 129.9l-.2 .1M88.9 125l-.3 2.4 .7 .6 .9-.2M87.5 125.2l-.4 1.8-.7-.1-.3-.2M88.6 127.4l-.3 0-.6 1-.3 .1-.5 .2-.1-.5 0-.1 .5-.9 1 .2M89.3 128l-.4 1.3-.1 .4 0 .7M88.2 131.4l-1.1-.7-1.6-.2M87.1 130.7l-.2-1.9-1.1-.1M86.9 128.8l0-.1M87.1 127l.2 .2M86.4 126.9l-.1 .6-.4 .2M91.7 81.1l.3 .4M92.9 78.9l.1 0 .4 1.2-1.1 1.2M94 81.7l.3-.4-.9-1.2M93 78.9l1.9 0 .4 .6-.1 1.7-.9 .1M95.2 81.2l1 .5M97.6 80.2l.2-.3 .5 .5M94 71.8l2.4 .8 .6-.5M92.9 73.8l1.6 .1 .7-.1 .7-.6 .5-.6 .5 1.4-.5 .6-.5-1.4M104.7 84.6l-.4 .3M107.5 84.7l1.9-.4-.4 3.3 1.9-.7 .2-.8-.5-1.9-.2-.2-.9 .2-.1 .1M107.1 84.4l-.2-.2-.2-.1-1.3-.6-.2 0-.1-.2 .6-2 .1 0 .7 .6 .1 .2-.2 .4-1 1M103.9 71.4l-.1 1-.6 .2M102.9 70.9l-.2 1.3M102.2 73.8l0 .4M101.2 72l-1.2 .9-.1-.1-1.4-.8M103.8 72.4l.1 .1M103.7 74l.4-.6M101.9 74.7l-1-.2-.5-.3-.5-.9 .1-.4M102.6 77.1l0 .1 .5 1 1.7 .5M104.1 76.3l2.4 .2 .3-.3M106.5 76.5l-.3 2.1M105.6 74.3l-.2-.9M107.2 76.2l1.1 1.4M106.2 80.2l-.4 1.1M106.6 79.4l1.4 .6 .3-.4M106.3 78.7l1.5-.5 .7 .8M102.6 77.2l-1.3 .4-1 1.5 .5 1.6M103.1 78.2l-.1 1.1 1.4 1.1M104.5 80.4l.8 .9 .4 0M103 79.3l-.8 1.7 .3 .5 1 .2 .7 .4M104 80.8l.1 .1 .2 .4-.3 .1 .1-.5M102.2 81l-1.3-.1M99.6 71.6l.3 1.2M97.6 72.2l.7 1.5-.6 .5-.8-.2M107.3 63l-.1-.2M110.6 61.4l-.8-.3M108.9 61.9l-.4-.3-.1-.8M109.1 59.8l-.7 .5M108.5 61.6l-1 .6M130.1 54.9l-.6 .3M130.3 55.7l-.4 .1M130.9 57.2l-.1 0M129.1 57.4l-.6-.3M122.2 65.9l-.7-.6-.1-.7 .4-.4 .2-.1 .3 .1M123.3 62.8l-.2-.2-.3-.5-.2-.8 .2 0 1.9 .5M124.1 60.5l-.2-.1-1.1 .9M123.9 60.4l-.6-.2-.8 1-.1 0 .6-1.3 .3 .3M123.1 62.6l-1.5 0-.2 .1 .3-1.3 .3-.3 .1 .8-.5 .7M122.8 62.1l-.7-.2M122.6 61.3l-.1-.1M111 79.1l-.1 0M110.9 79.5l-2.3 .9-.6-.4-.5 1.5-1 .4M110.7 80.5l-1.9 .2-.2-.3M111.8 82.3l1.6-1.1 1.4 1.7M111.2 82.5l-.8 1.5M110.9 82l-1.6-.4-.3-.2-.5 .3 0 .6 .3 .3 .5-1M114.2 84.4l-1 .6-.1 .4 0 1.4M112.3 88.1l-.2 .4M111.4 87.3l-.2-.1-.3 1.5-1.9-.2M112.6 86.7l-.8-.6 1.3-.7M113.2 85l-2.6-.8M111.8 86.1l-.7 0M110.2 90.9l.6-.9-1.5-.7M108.6 88l.4-.4M110.8 90l.4-.1M108.9 78.3l-.5-.5M109.6 77.6l-.3-.2M107.8 78.2l.6-.5M108.8 80.7l.2 .7M119.9 58.9l.5-.4 1.1-.5 .8 1.1M120 60.3l1.2 1.1-.6 1.2 .8 .1 .6 1.4M119.7 60.5l-.1 1.8-1.8-.5M119 57.8l-.1-1.3-2.2-.2-.3 1.2M122.3 59.2l.7 .7M121.5 59.9l.5 1.2 .4 .1M121.5 58l-.2-1.2 .2-.2 .6-.5-.9-1.1-2 .7-.2 .8 1.3 .2 1 .1M120.4 58.5l-.1-1.8M115.4 59.6l-.5-.3M115.5 58l-1.1 .2M118.9 56.5l.1 0M116.5 55.8l.2 .5-2.7 .9M119.2 55.2l0 .5M120.6 53.5l.4 .1 .9-.1M130.6 75.5l.9 .3M131.7 73.9l.4 .6M97.8 79.9l0-.1-2.5-.3M104.7 84l.5-.5M196.9 38.9l1.1 .6M151.2 63.6l1-1M149.7 64.3l-.5-.4M148.2 61.1l1.6-.9M149.2 62.5l2.8-.5M151.9 61l.1 .2M154.4 60.5l-.1 .1M88.9 129.3l-1.2-.9M88.8 129.7l-1.4-1.2M86.3 127.5l.5 .6M93.2 77.7l1.6-.4 .3-1.2-1.1-.3M100.9 74.5l-1.4 1.6-.4-.4 .1-.9 1.2-.6M99.9 73.3l-1.6 .4 .2 .4 .7 .7M105.1 83.3l-.4-.4M106.4 82.5l.3 1.6M106.6 82.1l.7 .8-.4 1.3M107.3 82.9l.5-.2 1.7 1.5-.7-1.6M107.5 81.5l.1 .1 .3 .8-.1 .3M104.4 82.2l.9-.9-1 0M103.5 81.7l.5-.3M121.5 65.3l-.9 .4M121.8 64.2l-1.3-.5-.1 .5 .6 .5 .4-.1M119 66.4l-.8-1.1M120.5 65.6l-.1-.2-1.1-.6 1-.4 .2 .8-.1 .2M119.6 62.3l.1 .2-1.3 1.6M121.7 61.4l-.5 0M120.6 62.6l-.6 .1 .5 1M123.3 58.4l-1.8-1.8M111.1 88.8l-.2-.1M111.2 87.2l-.3-.3M107.9 82.4l.6-.1M107.6 81.6l.9 .1M114 58l0-.1M121 53.6l.2 1.4M122.8 56l-.7 .1M86.8 128.2l-.9-.2M97.8 79.8l.1-.3 .3-.3 2.1-.1M94.9 78.9l.2-.2 0-.8-.3-.6M101.3 77.6l-1.5-.8-.3-.7M121 64.7l-.5 .5M120.4 64.2l-.1 .2M120 62.7l-.3-.2M118.3 64.6l1 .2M95.1 76.1l.2 0 .3-.5-1.1-1.7M95.1 78.7l1.5-.5-.7-1.1-.8 .8M97.9 79.5l-1.1-1.3 .1-.4 1.3-.6 .5 .3-.5 1.7M99.1 75.7l-.1 0-.6-1.1 .1-.5M99.8 76.8l-1.1 .7M96.4 74.6l-.1 .4-.2 0-.9-1.2M96.1 75l-.5 .6M95.3 76.1l.6 .5 0 .5M96.3 75l1 .5 .4-1.3M99 75.7l-1.1 0 .5-1.1M97.9 75.7l-.3 .1 .5 1.2 .1 .2M97.3 75.5l.2 .2 .1 .1M98.1 77l-.9 .1 .3-1.3-.9 .7 .4 .7 .2-.1M97.5 75.7l0 .1M95.9 76.6l.7-.1M96.6 78.2l.2 0M96.9 77.8l.1-.6" fill="none"/></defs>
<line x1="50.40" y1="20.40" x2="50.40" y2="162.10" stroke="#e3e3e3" stroke-width="0.6" stroke-dasharray="1.2 0.6"/>
<line x1="94.90" y1="20.40" x2="94.90" y2="162.10" stroke="#e3e3e3" stroke-width="0.6" stroke-dasharray="1.2 0.6"/>
<line x1="139.40" y1="20.40" x2="139.40" y2="162.10" stroke="#e3e3e3" stroke-width="0.6" stroke-dasharray="1.2 0.6"/>
<line x1="183.90" y1="20.40" x2="183.90" y2="162.10" stroke="#e3e3e3" stroke-width="0.6" stroke-dasharray="1.2 0.6"/>
<line x1="228.40" y1="20.40" x2="228.40" y2="162.10" stroke="#e3e3e3" stroke-width="0.6" stroke-dasharray="1.2 0.6"/>
<line x1="38.40" y1="144.60" x2="260.70" y2="144.60" stroke="#e3e3e3" stroke-width="0.6" stroke-dasharray="1.2 0.6"/>
<line x1="38.40" y1="112.00" x2="260.70" y2="112.00" stroke="#e3e3e3" stroke-width="0.6" stroke-dasharray="1.2 0.6"/>
<line x1="38.40" y1="79.40" x2="260.70" y2="79.40" stroke="#e3e3e3" stroke-width="0.6" stroke-dasharray="1.2 0.6"/>
<line x1="38.40" y1="46.80" x2="260.70" y2="46.80" stroke="#e3e3e3" stroke-width="0.6" stroke-dasharray="1.2 0.6"/>
<g transform="translate(0 0)">
<path fill="#fff0f0" d="M50 130.9l1.6-.8-.8-1.2-1.3 1.7zM134.1 52.1l-.2-.1-.2 .2 .1 .6 1.1 1 .2-.3 .3-.7zM173.1 57.5l-.5 0-.6 .3-.7 2.1 2.7 .1-.1-.7zM89.2 113.5l.8-.4 .4-2.1-1.1-.3-.5 .1-.2 2.3zM58.4 118.5l-.5 .3-.3 .4 1 1.7 .1-.1 .2-1.7zM100.7 92.1l-.1 1.2 .9 .5 .7-.1 .7-1.2 .1-.4-.4-.3-.9-.5zM62.1 114.7l.7 0-.2-1-.9-.9-.4-.1-.5 .5-.3 .7 .2 .4 1 .4zM86.1 112.7l1.1-1.3-1.2-1.6-1.9 1-.2 .2 .5 2.2zM59.6 119.7l.3-.8 .2-.8-.1-.1-.9-.2-.7 .7 .5 .6zM54.4 131.6l-.8-.5-.1 0-2 2.3 1 1.5 .6-.2 1.6-.4zM141.9 63.7l-2.1-.1 1.8 1.1zM144.5 70.9l0 1.1 .7 .2 1-.3 0-.8zM61.7 112.8l.9 .9 .6-1.5-1.3 .4zM112.7 75.4l1.4 1.3 1-1.8-.6-.3zM205.7 46.1l.1 .1 1.3-.2 .9-.9-2.4-1.8zM149.8 60.2l2.1 .8 .3-2.3 0-.2-.8-1.3-1.1 .5 0 .1zM89.7 81.1l.1 0 1-.5 .6-1.5-2.9-.5zM141.5 51.4l2.7 .2 .1-.2 .1-.2-.3-.3-1.8-.2-.1 0zM168.3 47.1l-.8-.3 .1 1.9 1.3-.2 .1-.1zM163 47.6l-.3-1-1.3 .7 1.1 .7zM158.9 50.8l0-.2-.9-.2-.3 .7 0 .4 1-.6zM163.3 47.7l-.3-.1-.5 .4 .2 .6 .1 .2 .9-.5 .1 0 0-.1zM153.8 67l-1.1-.8-.4-.2-1.4-.1-.4 .2-.5 .9 3.6 .9 0 0zM170.3 43.1l-2.1-.6-.2 .5 .6 1.3 .8 .1zM175.8 41.1l.1-.2-.3-.5-1.8-1.5-.6 .6 0 2.2zM159.3 71l-.1 0-1.1 1 .5 1.5 1.2-.8 .1-1.4zM119.8 76.3l-.2 .7 .7 .1 .5-.7zM89.3 83.7l-.2 .4 1.2-.5 .1-.1zM168.9 45.8l-.9-1.2-.5 .3-.1 .1 .2 1.1zM60 118l.7-1-.1-.4-1-.8-.7 .1 .1 1.6 .1 .3zM144.5 64.6l0 1.1 .2 .2 2.4-1.2-.4-.8zM117.3 87.5l-.1-1.3-.1 0-.8 .5 .1 .7 .5 .4zM213.5 53.2l-.2-1.3-.6-.1-.3 .3 .4 .7zM71 108.2l-.1-.3-.8-.5-.9 .4-.5 .4-.1 .6 0 .1 1 1.1 .6 .1 .3-.3zM166.9 43.5l-1.4-.5-.2 .2 0 1.9 2.1-.1 .1-.1zM123.8 47.7l-.6-.1-.3 2.1 1.1 .6 .1-2zM92.3 81.3l-.3 .2 0 .4 .4 .7 1.4-.2 .2-.7zM115.6 85.1l-.3 0 0 .1 1 1.5 .8-.5zM91 114.5l-.5-1.2-.5-.2-.8 .4 .1 1.1 0 .1zM155.9 75.9l1.1 1.3 1.4-1.1 .7-1.3 0 0-.3-.3zM116.8 77.4l-.5-2.5-1.2 0-1 1.8 0 .1 .2 .9zM102.7 72.2l-1.2 .1 .7 1.5 1-1.2zM110.9 77.1l-.3-1.5-1 .1 .9 1.3z"/><path fill="#ffeded" d="M212.4 52.1l-1.2-.3 .1 1.5 1.5-.5zM173.2 41.7l0-2.2-2.7-.3-.6 .6 1.4 2.4 1.6 0zM111.4 87.3l.9 .8 1.3-.6-.5-.7-.5-.1zM201 50.5l3.5 2.1-.2-2.4-.6-.7-.2-.1-1-.3-.9 .6zM56.7 125.2l-1.8-.8-.4 1.4 .1 .1 1.9-.4zM81.9 105.4l-.2-.3-2.8-.5-.3 .2 .5 1.5 2.6-.3 .2-.3zM169.8 61.7l.8-1.6-1.1-.8-1.3 .6 0 0 .3 1.3zM70.4 111l-.2-.9-.6-.1-.9 .8 0 .4zM134 50l-.2 .4 .2 .2 1.1 .6 .5-.6-1-1zM146.6 68.5l.2 .2 1 .1 .3-.7-.5-.2zM58.2 131.6l.6-.3-.4-.4-1.8-.4-.5 .7 .2 .3zM137.1 64.8l0-1.4-1.3-.2 .1 1.8 .5 0zM172.6 48.3l.5-.4 0-1.5-1.4-.5-.5 .8zM52.1 130.5l-.5-.4-1.6 .8 .4 .8zM212.8 52.8l-1.5 .5-.6 1.4 1.9 .6 1-1.7-.1-.4zM205.7 53.1l1.7-2.9-3.1 0 .2 2.4 .1 .2 .8 .4zM86 109.8l1.2 1.6 1.2-.6-1.4-1.8-.3 0zM160.1 58l-.1 0-.7 .2-.5 .8 .4 .3zM159 83.5l1.2-2.8-.4-.6-3.3-.4-1 1.3zM143.6 60.1l-.3-.6-1.3-.2-.7 1.3 0 .2 .2 .1 .1 0 1.9-.4zM159.8 72.7l.3 0 .8-.9-.1-.1-.9-.4zM158.9 50.6l.3-.5-1.2-1.8-.4-.1-.1 0-.2 .1-.2 1.1 .9 1zM140 49.1l.3 .5 .8-.4 .4-.5 0-.5-.4-.3-.7-.1zM161 64.8l-.5-.9-1.2 .1-.3 .1-1.2 1.2 2.5 2 .2-.4zM109 87.6l-.4 .4 .4 .5 1.9 .2 .3-1.5-.3-.3zM172.6 48.3l-1.4-1.6-.4 .1-.3 1.2 .2 .4 .6 .6 1.2-.5zM127 70.8l-1.8 .1 1.5 2.2 .8-1zM171 55.2l-.2 .1-1.5 1.6 .3 .6 2.4 .3 .6-.3zM108.3 77.6l.1 .1 0 .1 .9-.4-.2-.4zM138.6 60.6l-.6-.1 0 .1-.2 1.3 .2 0 .5-.4zM126.9 43.3l-1.4-1.1 .1 .6 .6 .7zM150.5 53.4l-2.5-.1 0 .7 2.2 .7zM212.7 51.8l.6 .1-.2-1.1zM143.3 72.6l1.2-.6 0-1.1 0 0-1.7-.8zM106.3 74.8l-.7-.5-1.1 .5-.4 1.5 2.4 .2 .3-.3zM165.1 60.5l.5 1.2 1.5-1.5-.6-.6zM170.7 48.4l-1.7 .2 .2 .5 1.2 .6 .5-.1 0 0 .4-.6zM175.4 42.8l.6-.9-.2-.8-2.6 .6-.3 .5 0 .1zM173.7 56.8l.4-1-2.5-1-.6 .4 1.6 2.3 .5 0zM174 44.2l.6 .4 .8-1.8-2.5-.5zM146.3 68.4l.3 .1 1-.6-.3-1.1-1.4 .9 0 .2zM156.9 58.5l.3 1.6 .5 .2 0 0 .8-1.2-.7-1.1-.5-.2zM144.4 63.4l-.2-.2-.8-.1-.3 .1 0 2.3 1.4 .2 0-1.1z"/><path fill="#ffeaea" d="M103.9 71.4l.8-.1 1.1-2.1-.4-.6-1.9 2.3zM148.7 74.5l-2.1 1 2 1.4 .2-.8zM147.9 60.1l.6-1.4-.7-.7 0 0-.1 .1zM53.5 131.1l-1.4-.6-1.7 1.2-.2 1.1 1.1 .6 .2 0zM167.6 48.7l-.1 .2-.6 1.5 .5 .7 1.3-1.1 .5-.9-.2-.5-.1-.1zM92.4 84.5l-1.6 2.1 .5 .1 2.1-1.4zM154 80.6l1.5 .4 1-1.3-.2-.4-1.7-.1zM87.8 114.5l-.1-1.2-1.6-.6-1.7 .5 0 0 1.9 .6 1.2 1.2zM169.6 57.5l-.1 1.8 1.1 .8 .1 0 .6-.2 .7-2.1zM180.8 144.4l0 .6 .6 .5 1.3-.3 0-.4-.2-.3zM59.6 126.9l-.2-.2-.8 .6 .7 .7 .7-.5 0-.2zM113.6 87.5l.6 .2 1.1-2.5 0-.1-.4-.8-.7 .1-1 .6-.1 .4 0 1.4zM159.2 50.1l1.6-.4-.2-1.1-1.5-.5-1.1 .2zM162.3 71.1l-.5-.8-.5 .1-.5 1.3 .1 .1 .9 .6zM139.8 46.2l.2 .3 .8-.3 0-.1-.4-.5-.7-.4zM137.7 48.2l.6-.8-.2-1.5-.4-.6-1.1 .1-.9 .7 0 .1 1.8 2.2zM129.9 69.7l.3-2.5-1 1.7 .1 .3zM78.4 93.8l-.1-.1-.8 .1-.6 1.4 1.7 .1 .2-.3zM144.1 50.9l-.2-.7-.8-.8-.8 1.3zM90.3 83.6l-1.2 .5-.2 .2 .9 1.3 .1 0zM127.2 46.3l.6-1-1-.5-.1 0-.5 1.3zM161.8 70.3l.9-1 .1-.1-.4-.5-1.9 .7 .8 1zM128 73.5l.7-2-.3-.3-.1 0-.8 .9-.8 1 .2 .6 .5 0zM164.6 59.6l.5 .9 1.4-.9-.4-.4zM156.4 61.3l.4 1 1.1 .4-.2-2.4-.5-.2-.3 .1-.2 .2zM170.4 49.7l-1.2-.6-.5 .9 1.2 .1zM80.3 109.1l-.8 1.9 0 .9 2.2-.8 .8-.7-.3-.3-.5-.3zM117.9 81.7l.9-.2 .7-.4-.9-2.8-.3-.2-.9 .1-.8 1.8 .9 1.7zM142.4 68.4l-1.5 .7 1.3 1.2 .6-.2 .2-.9zM105.8 72.5l-1.9 0 .2 .9 1.3 0zM54 122.1l.5 1.1 .5 .5 1.5-.1 .1-1.4-.6-.5-.4-.1zM167.9 60l-.8 .2-1.5 1.5-.2 .9 .6 .4 .7-.1 .8-1.3zM72.8 109l-1.8-.8-.5 1.6 1.6 .5 .3-.3zM158 50.4l-.9-1-.6 .7 1.2 1zM72.1 110.3l-1.6-.5-.3 .3 .2 .9 .6 1.6 .7-.3zM137.6 51.2l1.2 .7 1.2-.5-.8-.5-.8-.4-.2-.1zM133.9 52l.1-1.4-.2-.2-1.2 .3-.2 .2 .4 1.2 .9 .1zM168.5 61.2l-.3-1.3-.3 .1-.4 1.6 .9 0zM54.5 123.2l-.5-1.1-.2-.2-1.2 3z"/><path fill="#ffe7e7" d="M162.7 46.6l.4-.5 .1-.4-.8-1.1-.6-.2-.3 .1-1.2 1.3 .9 1.5 .2 0zM120.5 77.2l-.2-.1-.7-.1-.9 .5-.4 .6 .3 .2 1.9 .7zM173.1 46.4l.1-.1-.9-1.4-.6 .1-.1 .2 .1 .7zM61 127.5l-.6 .4-.4 .9 .9 .2 1-.9-.7-.7zM110.9 86.9l.3 .3 .2 .1 1.2-.6-.8-.6-.7 0zM139.3 63.4l.1-.4-1.4-1.1-.2 0-.2 .1-.2 .5 .1 .6 1.6 .5zM153.9 48.2l-.5-.6-1.4 1.4 1.2 .7 .9-.8zM107.5 84.7l-.2 .9 0 1.9 .4 .6 .9-.1 .4-.4 .4-3.3zM106.4 82.5l.3 1.6 .2 .1 .4-1.3-.7-.8zM170.2 52.8l1.4 0 .4-.7-1.1-.9-1.5 .6zM130.9 49.9l-1.5-.1 0 .2 2.5 1zM61.2 126.8l0-.4-1.2-.8-.2 .1-.4 1 .2 .2 .8 0zM61.6 116.3l0 .1 1.9-1.2-.7-.5-.7 0-.6 1.3zM116.6 83.2l.7 1.6 1.3 0zM119.6 71.2l-1.7 .4-1.3 1.6 0 1.5 1.9-.1 .7-.2 .6-3.1zM92.4 82.6l-.3 .7 .2 .4 2.1 .2-.6-1.5zM157.7 51.5l0-.4-1.2-1-.3 .3 .1 1.2 .4 1 .7-.3zM121.2 74.2l1.4 .3 .1-.6-.9-1zM169.5 54.1l-2 .7 .6 1.7 1.2 .4 1.5-1.6-1-1.2zM153.4 70l-1.5-.3-.5 1.7 .5-.1zM135.1 51.2l.1 .4 .8 .7 .3-.1 .1-.4-.5-1.2-.1 0-.2 0zM160.4 77.5l-1.3-2.7-.7 1.3 1.4 2.9zM103.9 72.5l-.1-.1-.6 .2-1 1.2 0 .4 1.5-.2 .4-.6zM170.3 43.1l.7-.4 .3-.5-1.4-2.4-.6-.1-1.4 1.8 .3 1zM167.4 45l-2.1 .1-.1 .2 .7 1.2 1.5 .2 .2-.6zM160.1 69.3l-.4-.8-1.3-.4 .3 2.4 .5 .5 .1 0zM139.2 50.9l-.2-1.5 0 0-.6 1.1zM92.9 78.9l-.3-.4-1.2 .6-.6 1.5 .9 .5zM130.5 44.7l-.5-1.4-1.6 .7 0 .2zM108.8 80.7l-.2-.3-.6-.4-.5 1.5 .1 .1 .9 .1 .5-.3zM160.5 73.3l-.4-.6-.3 0-1.2 .8 .1 .6 .1 .2zM207.1 46l2.5 3.7 .1 0 2-1.5-3.2-2.7-.5-.4zM167.5 61.6l-.8 1.3 1.1 .1 .5-.2 .2-.1-.1-1.1zM168.5 62.7l1.2-.2 .1-.8-1.3-.5-.1 .4zM72.7 105.4l-.7 .3 .3 .5 1.9 0 0-.4-.2-.2zM160 58l-.7-1.4 0 0-.3 .2-.3 1.2 .6 .2zM164 58.8l.4 .7 .2 .1 1.5-.4 .4-1.5-.7-.1-1.8 .9zM112.6 89.6l1.6-.3 .2-.5-.2-1 0 0 0-.1-.6-.2-1.3 .6-.2 .4zM167.5 46.8l0 0-1.2 1.2 1.2 .9 .1-.2z"/><path fill="#ffe4e4" d="M146.4 58l-.1-.1-1.7 .4 0 .1 .9 1 1.1-.5 0-.2zM168 44.6l.6-.3-.6-1.3-1.1 .5 .6 1.4zM157.1 49.4l.2-1.1-.1 0-1.5-.1-.8 .9 .2 .9 .7 .3 .4 .1 .3-.3zM147.8 58l.5-1.1-.3-.5-1.6 .6 0 .2 1 .7 .4 .1zM111.7 77.7l-.8-.6-.4-.1-.7 .2 0 .1 1.9 1.2zM145.9 69.7l.4-1.3-.4-.5-1.2 1 .5 .6 0 .1zM122.7 76l-1.6-1.6-1.3 .4 .1 .1 1.3 1.1 1.3 .3 .1 0 .1-.3zM166.2 64.5l-1.5 1.5 .2 .8 3 .5 .1-.3-.6-1.3zM76.6 105.9l.3-1.4-1.4-.1-1.3 1.4 0 .4 .5 1 .2 .1zM138.2 68.1l-.3 .6 .8 .6 .7 .4 1.5-.6 1.5-.7-.1-.6-.4-.5-2.6-.1-.6 .3zM132.4 48l-1.6 .4 1.3 1 .4-.6 .1-.7zM138.6 60.6l-.1 .9 .9 1.5 .2-.2-.9-2.2zM94.3 81.3l-.3 .4-.2 .7 .6 1.5 .1 .1 .9 .1 1.2-.4 .1 0-.5-2-1-.5zM62.1 114.7l-.4 0-.7 1 0 .2 .5 .1zM173.1 47.9l1.1 .1 1.5-1-.2-1.7-.7-.4-1.6 1.4-.1 .1zM156.9 60.2l.3-.1-.3-1.6-1.3 .2 0 0-.1 .8zM212.7 51.8l.4-1-.3-1.6-1.1-1-2 1.5 1.5 2.1 1.2 .3zM90.4 83.5l-1.7-.9-.1 1 .7 .1 1.1-.2zM178.5 143l.5 1.8 1.7-.5-.1-1.7-1.2-.1zM61 127.5l.2-.1 0-.6-.8 .1-.3 .4zM139.8 47.3l-.2 .1-.4 1.4 .2 .2 .6 .1 .4-1.3zM104.1 73.4l-.4 .6 .8 .8 1.1-.5-.2-.9zM133.8 52.8l-.1-.6-.9-.1-.1 .2 .6 .9zM134.2 66.8l2.6 2.3 1.1-.4 .3-.6-1.4-2.2zM56.9 120.9l1.3 .5 .4-.4 0-.1-1-1.7 0 0-.9 1.2zM205.7 46.4l-.1 .3 .7 2 1.4 1.3 1.8-.2 .1-.1-2.5-3.7-1.3 .2zM117.2 86.2l.4-.4-.9-.6-1.1-.1 1.5 1.1zM154.9 49.1l-.8-.2-.9 .8 .3 .8 .2 .3 1.4-.8zM130.2 67.2l.3-.7-1-.3-1.5 2.2 .1 .1 1.1 .4zM158.7 50.9l-1 .6-.3 .8 .5 .1zM61.4 129.7l-1.4 1 0 .6 2.1-1.3zM143 54.3l1 1.3 .8-.2 .3-.6-1.3-1-.7 .2-.1 .3z"/><path fill="#ffe1e1" d="M136 52.3l-.6 .5-.3 .7 1.7 .4 0-.1 .1-1.1-.6-.5zM101.5 93.8l-.3 2 3.3 .6 .2-.9-.1-.3-2.4-1.5zM118.5 74.6l.2 2.9 .9-.5 .2-.7 .1-1.4-.1-.1-.6-.4zM206.8 53.5l2.1 0 .6-3.7-1.8 .2-.3 .2-1.7 2.9zM60 130.7l-.5-1.2-.8 0-.3 1.4 .4 .4 .8 .2 .4-.2zM151.4 57.2l0-.2-1.2-1.9-2.2 .4 0 .9 .3 .5 2 .8zM116.3 86.7l-1-1.5-1.1 2.5 0 .1 2.2-.4zM124.7 46.9l-.9 .8 .3 .6 1.8 .3 .2-.1zM121.2 82.7l-.3-2-1.4 .4-.7 .4 1.7 1.9zM160.5 69.4l-.4-.1-.8 1.7 .6 .3 .9 .4 .5-1.3zM75.8 110.8l-.7-1.1-.6 .2-.7 1.9 1.2-.2 1.1 .1zM61.7 116.9l-.1 .2 .5 .9 2.2-2.5-.2-.1zM115.5 71.8l0 .3 1.1 1.1 1.3-1.6-1-.6-.7 .2zM73 102.7l.4 1.4 .6 1.5 .2 .2 1.3-1.4-2.1-1.8zM160.9 63.5l-.5-3.5-.4 0-.9 .5 .2 3.5 1.2-.1zM149.2 73.8l-.5 .7 .1 1.6 1.2-.3zM76.9 104.5l-.3 1.4 1.8 1.7 .7-1.3-.5-1.5-1.6-.4zM121.2 77.3l-.7-.1 0 1.8 .7 .4 0-.3zM167.4 46.7l-1.5-.2-.6 1.1 .6 .4 .4 0 1.2-1.2zM138.6 67.1l.1 .4 .6-.3 1.4-1.9-1.6-1.4zM169 45.8l.7-.5-.3-.9-.8-.1-.6 .3 .9 1.2zM133.2 47.8l.2-.1 .2-.8-1.5-1-.2 1.4 .5 .7 .2 .1zM145.2 69.6l0-.1-.6 .5 0 .7 .4-.1zM149.8 71.2l-2 .5-.3 .8 1.8 1.1 1.2-.5 .2-1.2zM123.2 47.6l-1.1-.5-1.9 .8 .7 1.6 2 .2zM72.7 105.4l1.3 .2-.6-1.5zM211.2 51.8l-1.5-2.1-.1 0-.1 .1-.6 3.7 1 1.3 .8-.1 .6-1.4zM90.6 86.6l.2 0 1.6-2.1-.1-.3-.9 .3-.8 2.1zM182.8 151.6l0-.6-1.7-1.7-.5 3 .6 .6zM137.4 49.5l-.2-.5-1.2 .1-.2 1.5 .1 0 1-.3 .2-.2zM72.8 102.7l-.8 .3 0 .1-.4 1.2 .3 1.3 .1 .1 .7-.3 .7-1.3-.4-1.4z"/><path fill="#ffdede" d="M145.2 72.2l.2 1.3 1 .4 1.1-1.4-1.3-.6zM68.7 111.6l-1 0-.2 1.2 2 .4 .1 0zM148.5 69.7l-.4-.3-1 .1-.1 .6 .8 .5 0 .1zM76.9 109.3l-1.6-.1-.2 .5 .7 1.1 1.1-1.4zM154.1 58.6l.2-.2 .6-2.3-2.5 .2-1 .7 0 .2 .8 1.3zM158 48.3l1.1-.2 .8-2.3-.6-.2-1.7 2.6zM139.1 63.7l0-.1-1.6-.5-.4 .3 0 1.4 .3 0 1.7-.9zM60 127.3l0 .2 .4 .4 .6-.4-.9-.2zM61.9 128.1l-1 .9 .5 .7 .7 .3 .7-.4-.2-1.3zM168 51.8l-.4-.1-.6 1-.2 1.2 .1 .2 .6 .7 2-.7zM166.9 43.5l1.1-.5 .2-.5-.3-1-.7 0-1.7 1.5 0 0zM150.1 47.4l-2 1.2 .4 1.6 1 .7 1 .1 .8-2-.8-1.4-.2-.2zM207.4 50.2l.3-.2-1.4-1.3-2.6 .8 .6 .7zM144.7 68.9l-.7 0-.4 .2 1 .9 .6-.5zM154.5 60.1l1-.6 .1-.8-1.3-.3-.2 .2zM157.8 58l.9 0 .3-1.2-1.8 .6 .1 .4zM161.1 54.9l-1.1 .6-.3 .9 1.7 .2 0-.1zM181.4 141.5l-.1-.6-1.5-1-.5 0 .1 2.6 1.2 .1 .1 0zM184.5 150.5l.2 2.3 1.9-3-.1-.2zM125.1 69.5l0 0 2.8-.1 .2-.9-.1-.1-.7-.3-1.6 .4zM138.5 61.5l-.5 .4 1.4 1.1 0 0zM136.9 52.7l-.1 1.1 1.5 .2 0-.5-.6-.9 0 0zM169.5 47.1l.8-.5-.5-1.3-.1 0-.7 .5 .2 1.1z"/><path fill="#ffdbdb" d="M108.4 75.6l0-3.4-2.1 2.6 .5 1.4 .4 0zM59.6 119.9l1.7 .4-1.4-1.4-.3 .8zM131.1 70.4l-1.1-.6-1.2 .4-.4 1 .3 .3 1.7 .2 .5-.5zM150.3 57.7l-2-.8-.5 1.1 .7 .7 1.8-.9zM165.9 48l-.6-.4 0 .1-.3 .3 0 1 1.2 1.3 0 0zM142.8 52.7l1.2-.7 .2-.4-2.7-.2-.8 .7 0 .2zM107.9 82.4l-.1 .3 1.7 1.5-.7-1.6-.3-.3zM123 44.5l-.7 .4 .1 1.5 .5-.2 .7-1.2zM94.3 81.3l-.9-1.2-1.1 1.2 1.7 .4zM55 123.7l-.5-.5-1.9 1.7 0 .2 1.9 .7 .4-1.4zM124.4 43.1l.9-1-.3-.2-2.1-.9zM60 128.8l-.1 .1-.4 .6 .5 1.2 1.4-1-.5-.7zM135.8 63.2l-1.8-1.6-.4-.1-.4 .6-.5 3.6 0 .4 1 .3 2.2-1.4zM128.8 70.2l1.2-.4-.1-.1-.6-.5-.8 .5zM139.1 63.9l-1.7 .9 1.2 2.3 .5-3.2zM74.2 106.2l-1.9 0-.2 .7 1.6 .8 1-.5zM72.4 110l-.3 .3-.4 2 .3-.1 1.8-.4-.5-1zM162.6 65.8l-.8-.3-.1 1.8 0 .3 1.1-.9zM136.9 50.3l-.2 1.2 .7-.3-.3-1.1zM143.6 60.1l1.8 .4 .1-1.1-.9-1-.9 .5-.4 .6zM161.8 65.5l-.8-.7-.5 2.1 .5 .3 .7 .1zM143.5 61.2l0-.7-1.9 .4 1.1 .5 .7-.1zM67.7 111.6l-.3-.2-1.5 .9 1.3 .6 .3-.1z"/><path fill="#ffd8d8" d="M129.3 69.2l-.1-.3-1.1-.4-.2 .9 0 .1 .6 .2zM151.4 68.9l-1.4-.8-.3 .8 1 1.8 .7-1.6zM141.6 64.8l0-.1-1.8-1.1-.5-.2-.2 .2 0 .1zM108.5 81.7l-.9-.1 .3 .8 .6-.1zM165.8 57.6l.7 .1 .1-.1 0 0-.7-1.6-.1-.1-.3 1.2zM109.4 84.3l-.4 3.3 1.9-.7 .2-.8-.5-1.9-.2-.2-.9 .2zM68.7 111.6l0-.4 0-.4-1-.5-.3 .1 0 1 .3 .2zM141.9 67.3l.3-1.6-.6-.5-.9 .1-1.4 1.9zM171.7 45l-.7-2.3-.7 .4-.9 1.3 .3 .9 .1 0 1.8-.1zM115.1 83.3l.4-3.3-.2 0-.5 2.9zM64.6 115.5l-.3 0-2.2 2.5-.1 1 .2 .4 .3-.4 2.5-3.2zM171.7 45.9l-.1-.7-1.8 .1 .5 1.3 .5 .2 .4-.1zM56.8 132.2l1 .6 .3-.3 .1-.9-1.9-.1zM61 115.7l.7-1-1-.4-.8 1.3zM166 63l-.6-.4-1.4 .2 0 2.8 .7 .4 1.5-1.5zM156.2 50.4l-.4-.1-1 1.1 1.5 .2zM160.3 45.8l-.4 0-.8 2.3 1.5 .5 .3-.4 .3-.9zM155.2 61.6l1.2-.3 .3-.9-2.1 .4zM57.7 127.5l-.7 1.3 .1 .1 1.6 .6 .8 0 .4-.6-.6-.9-.7-.7-.7 0zM169.4 51.8l1.5-.6 .1-1.1-.1-.5-.5 .1-.5 .4-.7 1.6zM79.5 111.9l0-.9-1.1-.8-1.3 1.2-.1 .4 1.8 .1 .6 .1zM103.8 72.4l.1-1-.4-.5-.4-.1-.2 .1-.2 1.3 .5 .4zM147.1 69.5l1-.1-.3-.6-1-.1z"/><path fill="#ffd5d5" d="M142.7 61.4l-.4 1.3 0 .4 .8 .1 .3-.1 0-1.8zM155.7 55.6l-.2-1.4-1.3-.4-1.8 .1 0 2.4 2.5-.2 .5-.3zM70.4 111l-1.7 .2 0 .4 .9 1.6 1.4-.6zM158.6 52.6l.1 .1 .6 .5 .7-.4-.6-.9zM157.2 57.4l-1-1.5-.5-.3-.3 .2 .2 2.9 1.3-.2 .4-.7zM137.4 64.8l-.3 0-.7 .2 .4 .9 1.4 2.2 .5-.6-.1-.4zM129.4 46.3l1.4-1.2-.3-.4-2.1-.5-.5 1zM166.3 48l-.4 0 .3 2.3 .7 .1 .6-1.5zM145.2 54.7l.3-.5-.1-.3-1-.7-.6 .6 1.3 1zM140 46.5l-.2-.3-1.7-.3 .2 1.5 1.3 0 .2-.1zM115.5 80l1.1 0 .8-1.8-.6-.8-2.5 .3-.4 .6 1.1 1.6 .3 .1zM174.8 44.9l-.2-.3-.6-.4-1.7 .7 .9 1.4zM133 53.6l.6 1.2 1.1-.4 .2-.6-1.1-1-.5 .4zM56.6 130.5l.5-1.6-.1-.1-2.7-1-.3 .2-.4 3.1 .8 .5 1.7-.4zM164.1 45.7l.4 1.4 .8 .6 0-.1 .6-1.1-.7-1.2zM136.7 51.5l-.3 .3-.1 .4 .6 .5 .8-.1-.1-1.4-.2 0zM140.3 50.6l-.2 .9 .6 .6 .8-.7 .7-.7-.2-.9-.3 0zM109.3 81.6l1.6 .4-.2-1.5-1.9 .2 .2 .7zM142.2 63.2l.1-.1 0-.4-.8-1.8-.2-.1-.7 .4-.3 1zM61 115.9l0 .3 .6 .1-.1-.3zM115 79.9l-1.1-1.6-2.2 .2-.1 .2 1.8 2.5z"/><path fill="#ffd2d2" d="M159.7 56.4l-.4 .2 .7 1.4 .1 0 .9 .3 .6-.8-.2-.9zM100.9 96.2l.2 1.7 3.6 .3-.1-.9-.1-.9-3.3-.6zM122.9 46.2l-.5 .2-.3 .7 1.1 .5 .6 .1 .9-.8 .3-.8-.1-.3zM148.5 58.7l-.6 1.4-.1 .1 .2 .8 .2 .1 1.6-.9 .5-2.4zM58.7 120.8l.9-.9 0-.2-.7-.6zM75.3 93.7l-.6 1.6 .2 .2 2-.3 .6-1.4zM58 125.8l-.5-1.1-.8 .5-.2 .3 .1 1.1 1.1 .9 .2-.2zM141.6 64.8l0 .4 .6 .5 .9-.2 0-2.3-.8-.1-.1 .1-.3 .5-.3 1zM151.7 78l-.7 0 .1 .2 2.2 2.8 .7-.4 .6-1.4 .1-.8-.3-.4zM164.4 59.5l-.4-.7-1 .6-.5 1.7 .3 .6zM56.5 123.6l1 .6 .5-.7 .1-1.6 0-.1-1.5 .4zM177.3 142.7l1.2 .3 .9-.5-.1-2.6-.7-.3-1.6 1.5-.1 .8zM108.8 82.6l.5-1-.3-.2-.5 .3 0 .6zM169.5 47.6l0-.5-.3-.2-.9 .2 .7 1.3z"/><path fill="#ffcfcf" d="M148 61l-.2-.8-1.2-1.3-1.1 .5-.1 1.1 .4 .6 1.2 .4zM61 116.2l-.4 .4 .1 .4 .9 .1 .1-.2-.1-.5 0-.1zM117.6 85.8l.4 0 .7-1-.1 0-1.3 0-.6 .4zM67.2 112.9l-1.3-.6-.8-.1-.5 3.3 .4 .3 1-1.2 1-.4zM59.3 128l.6 .9 .1-.1 .4-.9-.4-.4zM142.3 49.3l.7-.1 0-.2-.8-1-.7 .2 0 .5zM105.6 74.3l.7 .5 2.1-2.6 .2-.7-.1-.1-2.5 .9-.2 .2-.4 .9zM72.8 109l.9-1.3-1.6-.8-1.2 1 .1 .3 1.8 .8zM168.9 48.5l.1 .1 1.7-.2-.2-.4-1-.4-.5 .8zM125.9 44.7l.8 .1 .1 0 .1-1.5 0 0-.7 .2-.1 0zM160 55.5l-.2-.1-1.3 0 .8 1.2 0 0 .4-.2zM162.8 48.8l-.2 .8 .7 .4 .8-1-.4-.7zM103.7 74l-1.5 .2-.3 .5 .7 2.4 1.5-.8 .4-1.5zM124.1 48.3l-.1 2 .2 .3 .5 .1 1.2-2.1z"/><path fill="#ffcccc" d="M144.6 70.7l-.1 .2 0 0 1.7 .2 0-.1-.1-.7-1.1 .3zM154.5 76.3l-.1 1.7 .3 .4 2-.5 .4-.2-.1-.5-1.1-1.3-1.1-.6zM162.6 65.8l1.4-.2 0-2.8-1.2-.3-1.9 1-.4 .4 .5 .9 .8 .7zM116.3 74.9l.5 2.5 .6 .8 .9-.1 .4-.6-.2-2.9-1.9 .1zM169.9 50.1l-1.2-.1-1.3 1.1 .2 .6 .4 .1 1.2-.1zM163.2 67.4l1.3 0 .4-.6-.2-.8-.7-.4-1.4 .2 .2 .9zM109.5 84.2l0 0 .9-.2 .8-1.5-.3-.5-1.6-.4-.5 1zM157.7 60.3l0 0 .2 2.4 1.1 1.4 .3-.1-.2-3.5zM136 49.1l1.2-.1 .3-.6-1.8-2.2-.6 2.6 0 0zM94.4 83.9l-2.1-.2 0 .5 .1 .3 1 .8 .1 0 1-1.3zM74 109.7l-1.2-.7 0 0-.4 1 .9 .8zM179 144.8l-.5-1.8-1.2-.3-.8 1.2 1.9 1.1 .5 .5zM180.8 145l0-.6-.1-.1-1.7 .5-.1 .7 .7 .8zM58.6 121l-.4 .4-.1 .4 0 .1 2.1 1.2 .3-.6 .3-.6zM144.4 51.2l.3 0 1.2-1.6 .3-1.8-.5-.7-1.8 3.1 .2 .7zM78.4 108l-.1 .1-.1 1.8 .2 .3 1.1 .8 .8-1.9-.1-.3zM147.8 58l-.4-.1-1 .1 .2 .7 1.1-.6zM180.8 145l-1.2 1.3 .7 .7 1.1-1.5zM146.1 70.3l0-.1-.2-.5-.7-.1-.2 1zM146.2 71.9l1.3 .6 0 0 .3-.8 .1-.8-.1-.2 0-.1-1.6 .4 0 .1zM77.1 111.4l1.3-1.2-.2-.3-.9 .4zM202.4 46.8l-.1 .2 .2 2.1 1 .3 2.1-2.7 .1-.3z"/><path fill="#ffc9c9" d="M151.9 69.7l-.5-.6-.7 1.6 .2 1 .5-.3zM145.4 46.6l-.1-.5-1.8 .2-.3 .2-1 1.5 .8 1zM135.2 51.6l-1.1 .5 1.3 .7 .6-.5zM162.5 48l-1.1-.7-.2 0-.3 .9 1.8 .4zM135.1 51.2l-1.1-.6-.1 1.4 .2 .1 1.1-.5zM78.6 95.3l-.4 1.2 1.8 2.5 .3 0-.4-3.8-1.1-.2zM51.6 130.1l.5 .4 1.4 .6 .1 0 .4-3.1-2.3-.6-.3 .7-.6 .8zM60.4 126.9l-.8 0 .4 .4 .1 0zM203.5 49.4l.2 .1 2.6-.8-.7-2zM170.8 55.3l.2-.1 .6-.4 .3-.7-.3-1.3-1.4 0-.4 1.3zM137.6 49.6l-.2-.1-.3 .6 .3 1.1 .2 0 0 0 .6-.8zM76.9 95.2l-2 .3 .7 .9 1.1 .5 1.5-.4 .4-1.2zM161.7 67.6l.1 .2 .5 .7 .9-1.1-.4-.7zM158.8 59l-.3 .1-.8 1.2 1.4 .2 .9-.5-.8-.7zM106 72.3l-1.3-1-.8 .1-.1 1 .1 .1 1.9 0zM163.3 50l.3 .4 .5-.1 .4-1.2-.4-.1zM62 119l.1-1-.5-.9-.9-.1-.7 1 .1 .1z"/><path fill="#ffc6c6" d="M58.1 132.5l.4-.3 1.1-.7-.8-.2-.6 .3zM124.3 43.5l-.9 .1-.4 .9 .6 .5 1.2 .5 .4-.6-.3-.9zM160.9 48.2l-.3 .4 .2 1.1 .2 .2 .8-.1 .8-.2 .2-.8-.1-.2zM122.2 76.5l.3-.2-1.3-.3-.4 .4-.5 .7 .2 .1 .7 .1zM144.8 61.6l1-.5-.4-.6-1.8-.4-.1 .4 0 .7zM162.8 61.7l-.3-.6-1.5-1.6-.6 .5 .5 3.5 1.9-1z"/><path fill="#ffc3c3" d="M166.6 57.6l0 0 1.6 2.3 1.3-.6 .1-1.8-.3-.6-1.2-.4-.1 0zM115.3 80l-.3-.1-1.6 1.3 0 0 1.4 1.7zM110.7 80.5l.2-1-2.3 .9 .2 .3zM182.3 143.7l-.5-.5-1.1-.6-.1 0 .1 1.7 .1 .1 1.7 .1zM155.9 69.2l.4-3.5-.4 0-.8 .3-1.3 1-.2 .9 .8 1.7zM57.5 124.7l0-.1 0-.4-1-.6-1.5 .1-.1 .7 1.8 .8zM74.5 109.9l-.5-.2-.7 1.1 .5 1 0 0zM135.9 65l-2.2 1.4 .5 .4 2.6-.9-.4-.9zM54 128l.3-.2 .3-.9 0-1-.1-.1-1.9-.7-.9 2.3zM126.1 74.5l.8-.8-.2-.6-1.5-2.2-.1-.1-1 .6 .1 2.2 .8 1.2zM63.5 115.2l-1.9 1.2 .1 .5 2.4-1.5zM56.8 132.2l-.3 1.6 .1 0 1.2-1zM168.3 47.1l.9-.2-.2-1.1-.1 0-1.3 .3-.2 .6 .1 .1 0 0zM161 59.5l1.5 1.6 .5-1.7-2-.1zM170.2 52.8l-.8-1-.2-.1-1.2 .1 1.5 2.3 .3 0zM144.6 70l-1-.9-.6 .1-.2 .9 0 0 1.7 .8 .1-.2zM58 123.5l-.5 .7 0 .4 1.8 .2 .7-1.3z"/><path fill="#ffc0c0" d="M163.7 48.3l.4 .7 .4 .1 .5-.1 0-1-1.2 .3zM152 49l-.7 0-.8 2 .1 .2 2.9-.7-.3-.8zM120.5 83.4l-1.7-1.9-.9 .2 1.5 2.9 .4 0 .4-.5zM142.3 67.8l.1 .6 .6 .8 .6-.1 .4-.2 .7-2.1zM147.6 67.9l.5 .2 1.8-.6 0-.4-2.2-.8-.4 .5zM153.8 51.4l-.4 .4 .8 2 1.3 .4 .3-.7-1.6-1.9zM163.8 48.3l1.2-.3 .3-.3-.8-.6-.6 .2-.1 .9zM132.5 48.8l1.5 1.2-.8-2.2-.6 .3zM165.9 53.9l.9 0 .2-1.2-2.5-.5 0 .1-.1 .1zM56.6 126.6l-2 .3-.3 .9 2.7 1 .7-1.3z"/><path fill="#ffbdbd" d="M135.7 46.1l-.8-.2-1.3 1-.2 .8 1.7 1.1 .6-2.6zM89.2 116l.1-1.3 0-.1-1.5-.1-.3 .5 1.3 1.3-.7 1.1 .2 0zM148.5 69.7l-.7 1 .1 .2 1.7 0-.5-1.4zM131.4 47.3l-.9 .3-1.1 .7 1.4 .1 1.6-.4-.5-.7zM113.1 86.8l0-1.4-1.3 .7 .8 .6zM159.4 54.4l-.1 0-.8 .3 0 0-.2 .5 .2 .2 1.3 0zM122.7 76l-.1-1.5-1.4-.3-.1 .2zM170.3 46.6l-.8 .5 0 .5 1 .4 .3-1.2zM161.8 67.8l-.8 .1-.9 .1-.4 .5 .4 .8 .4 .1 1.9-.7-.1-.2zM127.9 45.2l.5-1 0-.2-.4 .1-1.1-.8-.1 1.5 1 .5zM184.7 152.8l-.1 .6 .3 .9 2.4-3.2-.7-1.3zM124.4 43.1l-.1 .4 .6 .5 .5-.4 .2-.8-.1-.6-.2-.1zM147.9 53.1l.1 .2 2.5 .1 .7-.7-.6-1.5-.1-.2-1-.1z"/><path fill="#ffbaba" d="M91.4 84.5l.9-.3 0-.5-.2-.4-1.5 .1zM148.8 76.1l-.2 .8 .3 .8 2.1 .3 .2-1-1.2-1.2zM158.8 74.3l-.1-.2-3.8-.3-.5 .8 .4 .7 1.1 .6 2.9-1.4zM145.6 53.4l-1.3-2-.1 .2-.2 .4 .4 1.2 1 .7zM151.2 77l1.5-2.5-2.2-1.4-1.2 .5-.1 .2 .8 2zM154.6 79.2l1.7 .1 .4-1.4-2 .5zM154.9 56.1l-.6 2.3 1.3 .3 0 0-.2-2.9zM125 46.1l-.3 .8 1.4 1.6 1-.2 .2-.1-.1-.3-1.9-1.7zM168.1 56.5l-.6-1.7-.6-.7-1.3 1.3 .2 .5 .1 .1 2.1 .5zM145.9 67.7l-.8-.8-.3-.3-.1 .2-.7 2.1 .7 0 1.2-1z"/><path fill="#ffb7b7" d="M164 62.8l1.4-.2 .2-.9-.5-1.2-.5-.9-.2-.1-1.6 2.2 0 .8zM56.5 125.5l-1.9 .4 0 1 2-.3zM151.5 52.7l.9 1.2 1.8-.1-.8-2zM111.2 82.5l.6-.2 1.6-1.1 0 0-1.8-2.5-.6 .4-.1 .4-.2 1 .2 1.5zM110.9 79.5l.1-.4-.1 0-2.6 .5-.3 .4 0 0 .6 .4zM148.1 48.6l-1.9-.8-.3 1.8 1.3 1.4 1.3-.8zM168.2 59.9l0 0-1.6-2.3-.1 .1-.4 1.5 .4 .4 .6 .6 .8-.2zM90.3 83.6l-.4 2 .7 1 .8-2.1-.8-1.1-.1 0-.1 .1 0 0z"/><path fill="#ffb4b4" d="M123 43.1l.4 .5 .9-.1 .1-.4-1.5-2.1-.8-.3zM135.1 48.8l-1.7-1.1-.2 .1 .8 2.2 0 0 .6-.4 .5-.8zM58.6 127.3l.8-.6 .4-1-1.8 .1-.1 1.5zM160.5 66.9l-.2 .4-.2 .7 .9-.1 0-.7zM154.5 76.3l-2.8 1.7 2.7 0zM183.9 150.4l-1.1 .6 0 .6 1.8 1.8 .1-.6-.2-2.3z"/><path fill="#ffb1b1" d="M150 68.1l-.1-.6-1.8 .6-.3 .7 .3 .6 .4 .3 .6-.2 .6-.6zM125.3 46.2l1.9 1.7 0-1.6-1-.2z"/><path fill="#ffaeae" d="M135.9 50.6l.5 1.2 .3-.3 .2-1.2zM161.8 49.8l1 1.5 .6-.1 .2-.8-.3-.4-.7-.4zM141.5 48.2l.7-.2 1-1.5-1.7 .3-.4 1.1zM153.7 50.8l.1 .6 .4 .2 .6-.2 1-1.1-.7-.3zM146.5 52.1l-1.8-.9-.3 0-.1 .2 1.3 2zM132.1 49.4l-.1 .2 .6 1.1 1.2-.3 .2-.4 0 0-1.5-1.2zM153.5 50.5l-2.9 .7 .6 1.5 .3 0 1.9-.9 .4-.4-.1-.6zM130 69.8l1.1 .6 .9-1 .2-2.9-1.7 0-.3 .7-.3 2.5z"/><path fill="#ffabab" d="M126.7 44.8l-.8-.1-.7 .2-.4 .6 .1 .3 .1 .3 .3 .1 .9-.1zM161.7 67.6l0-.3-.7-.1 0 .7 .8-.1zM159.3 58.2l-.6-.2-.9 0 .7 1.1 .3-.1zM123.4 43.6l-.4-.5-1.3 .6-.2 .4 0 .4 .8 .4 .7-.4zM61.3 120.3l-1.7-.4-.9 .9-.1 .1 0 .1 2.2 .9 .9-1.5zM157.4 52.3l-.7 .3-.1 .1 1.8 1.5 .3-1.5-.1-.1-.7-.2zM62 119l-1.9-.9-.2 .8 1.4 1.4 .4 .1 .5-1zM141.1 49.2l.6 .6 .3 0 .3-.5-.8-.6z"/><path fill="#ffa8a8" d="M159 56.8l.3-.2-.8-1.2-.2-.2-2.1 .7 1 1.5zM154.5 71l.8 1.4 1.8-.6-.2-2.3-1-.3-1.5 .4-.1 .1zM147.8 70.6l-.8-.5-.9 .1 0 .1 .1 .7zM172.3 44.9l1.7-.7-1.1-1.9 0-.1-1.6 0-.3 .5 .7 2.3zM140.3 50.6l1.4-.8-.6-.6-.8 .4zM58 123.5l2 0 .2-.4-2.1-1.2z"/><path fill="#ffa5a5" d="M124.8 45.5l-1.2-.5-.7 1.2 2-.4zM149.6 70.9l-1.7 0-.1 .8 2-.5zM161.4 56.6l.2 .9 1.3 .2 .2-2-1.7 .8z"/><path fill="#ffa2a2" d="M140 49.1l-.6-.1-.4 .4 .2 1.5 .8 .5 .1 .1 .2-.9 0-1zM163.9 47.3l-.3-.2-.3 .6 .5 .5zM165.8 55.9l-.2-.5-1.3 .3 0 .3 1.2 1.1zM157.5 65.5l-.4 0-.8 .2-.4 3.5 1 .3 .2-.1 1.3-1.3zM160.9 51.4l.1-1.5-.2-.2-1.6 .4-.3 .5 0 .2 .5 1zM158.4 54.2l-1.8-1.5-.3 .4 2.2 1.6 0 0zM147.2 51l-.5 1.1 1.1 .9 .1 .1 1.6-2.2-1-.7z"/><path fill="#ff9f9f" d="M166.2 50.3l-1 .3-.7 1.6 2.5 .5 .6-1-.2-.6-.5-.7-.7-.1z"/><path fill="#ff9c9c" d="M58.4 130.9l.3-1.4-1.6-.6-.5 1.6zM59.8 125.7l.2-.1-.8-.6 .1-.2-1.8-.2 0 .1 .5 1.1zM143.1 65.5l-.9 .2-.3 1.6 .4 .5 2.4-1 .1-.2-.1-.7-.2-.2zM165.9 56l.7 1.6 1.4-1.1z"/><path fill="#ff9999" d="M152.9 71.8l0 2.7 1.5 .1 .5-.8 .4-1.4-.8-1.4zM161 58.3l-.9-.3-.9 1.3 .8 .7 .4 0 .6-.5 0-.2z"/>
<use href="#net" stroke="#000" stroke-width="0.2"/>
<g fill-opacity="0.8"><path fill="#ff9696" d="M91.7 81.1l-.9-.5-1 .5 .8 1.1 1.4-.3 0-.4zM137.7 48.2l-.2 .2-.3 .6 .2 .5 .2 .1 1.4-.2 0 0 .4-.4-.2-.2zM130.8 45.1l-1.4 1.2-.1 2 .1 0 1.1-.7 .7-1.1 .2-1.4z"/><path fill="#ff9393" d="M119.9 74.9l-.1 1.4 1 .1 .4-.4z"/><path fill="#ff9090" d="M116.6 83.2l2 1.6 .1 0 .7-.2-1.5-2.9-.4 0-1 1.3zM89.2 113.5l-.6-.4-.9 .2 .1 1.2 1.5 .1zM158.1 72l1.1-1-.5-.5-1.6-1.1-.2 .1 .2 2.3zM156.3 51.6l-1.5-.2-.6 .2 1.6 1.9 .5-.4 .3-.4 .1-.1zM78.4 108l0-.4-1.8-1.7-1.7 1.4 .2 .2 2.6 .8 .6-.2z"/><path fill="#ff8d8d" d="M93.4 80.1l-.4-1.2-.1 0-1.2 2.2 .3 .4 .3-.2zM145.9 49.6l-1.2 1.6 1.8 .9 .2 0 .5-1.1zM122.3 44.9l-.8-.4-2.7 1.3 .8 1.8 .6 .3 1.9-.8 .3-.7z"/><path fill="#ff8a8a" d="M159.3 54.4l.3-.7-.3-.5-.6-.5-.3 1.5 .1 .5zM145.9 69.7l.2 .5 .9-.1 .1-.6-.3-.8-.2-.2-.3-.1zM134.6 49.6l1 1 .2 0 .2-1.5-.9-.3z"/><path fill="#ff8787" d="M156.2 55.9l2.1-.7 .2-.5-2.2-1.6-.5 .4-.3 .7 .2 1.4zM158.7 74.1l-.1-.6-.5-1.5-1-.2-1.8 .6-.4 1.4zM164.5 52.3l0-.1 .7-1.6-1.1-.3-.5 .1-.2 .8 .5 .9zM143.1 49.4l.8 .8 1.8-3.1-.3-.5-2.4 2.4 0 .2z"/><path fill="#ff8484" d="M78.2 109.9l.1-1.8-.6 .2-.8 1 0 .1 .4 .9zM152.9 71.8l1.6-.8-.2-1.3-.9 .3-1.5 1.3zM158.4 68.1l-1.3 1.3 1.6 1.1-.3-2.4zM163.6 47.1l-.5-1-.4 .5 .3 1 .3 .1z"/><path fill="#ff8181" d="M160 52.8l-.7 .4 .3 .5 1.3-.3z"/><path fill="#ff7e7e" d="M132.1 45.9l1.5 1 1.3-1-.4-.5-.6-.6-1.3-.7-1 1z"/><path fill="#ff7b7b" d="M98.3 95.8l2.6 .4 .3-.4 .3-2-.9-.5-1.9 .4zM56.8 132.2l-.5-.7-.2-.3-1.7 .4 .3 2.7 1.8-.5zM113.4 81.2l-1.6 1.1 2.4 2.1 .7-.1 .4-.7-.2-.3-.3-.4zM119.8 71.3l-.6 3.1 .6 .4 1.3-.4 .1-.2 .6-1.3-.3-1.5-.6-.3z"/><path fill="#ff7878" d="M131.2 46.5l.2 .8 .5 0 .2-1.4-.5-.8-.2 0zM111.1 86.1l.7 0 1.3-.7 .1-.4-2.6-.8z"/><path fill="#ff7575" d="M121.7 43.7l1.3-.6-.9-2.4-.4-.2zM110.6 84.2l2.6 .8 1-.6-2.4-2.1-.6 .2-.8 1.5z"/><path fill="#ff6f6f" d="M67.2 112.9l-.2 1.3 2.5-1-2-.4z"/><path fill="#ff6c6c" d="M127.2 47.9l.1 .3 1.9 .3 .1-.2 .1-2-1.5-1.1-.1 .1-.6 1zM164.5 49.1l-.4 1.2 1.1 .3 1-.3-1.2-1.3z"/><path fill="#ff6969" d="M164 58.5l1.8-.9-.3-.5-1.2-1.1-.7 2zM164.3 56l0-.3-.7-.6-.5 .6-.2 2 .7 .3z"/><path fill="#ff6666" d="M149.7 68.9l-.6 .6 .5 1.4 .2 .3 .9 .7 .2-.2-.2-1zM160.9 53.4l0 0-1.3 .3-.3 .7 .1 0 1.7 .4 .4-.6z"/><path fill="#ff6060" d="M160.3 67.3l-2.5-2-.3 .2 .9 2.6 0 0 1.3 .4 .4-.5zM138.4 50.5l.6-1.1-1.4 .2 .6 .8zM182.8 151.6l-1.6 1.3 1.6 1.6 2.1 0 0-.2-.3-.9z"/><path fill="#ff5d5d" d="M158.6 52.6l.8-.7 0-.1-.5-1-.2 .1-.8 1.5z"/><path fill="#ff5757" d="M162.9 57.7l-1.3-.2-.6 .8 0 1 2 .1 1-.6 0-.3-.4-.5zM142.3 50.7l.8-1.3-.1-.2-.7 .1-.3 .5 .2 .9z"/><path fill="#ff5454" d="M151.4 71.4l-.5 .3-.2 .2-.2 1.2 2.2 1.4 .2 0 0-2.7-1-.5z"/><path fill="#ff5151" d="M164.5 52.3l-.6-.2-.2 .1-1 1.7 0 .2 .8 .5 .8-.8 .1-1.4zM125.4 43.6l-.5 .4 .3 .9 .7-.2 .2-1.2z"/><path fill="#ff4e4e" d="M163.4 51.2l-.6 .1-.8 .6 .4 .4 1.3-.1 .2-.1z"/><path fill="#ff4b4b" d="M139.6 47.4l-1.3 0-.6 .8 1.5 .6zM120.6 43.1l.9 1 .2-.4 0-3.2-.3-.1-.6 .9z"/><path fill="#ff4545" d="M76.9 109.3l.8-1-2.6-.8 .2 1.7z"/><path fill="#ff2a2a" d="M126.2 43.5l-.6-.7-.2 .8 .7-.1z"/><path fill="#ff2727" d="M130.5 47.6l.9-.3-.2-.8z"/><path fill="#ff2121" d="M161.1 54.9l0-.1-1.7-.4 .4 1 .2 .1z"/><path fill="#ff1b1b" d="M152.9 74.5l-.2 0-1.5 2.5-.2 1 0 0 .7 0 2.8-1.7 .3-1-.4-.7zM74.5 109.9l.6-.2 .2-.5-.2-1.7-.2-.2-.2-.1-1 .5-.9 1.3 1.2 .7z"/><path fill="#ff1818" d="M159.4 51.9l.6 .9 .9 .6 0 0 .3-1.6-.3-.4-1.5 .4z"/><path fill="#ff1212" d="M160.9 51.4l.3 .4 .8 .1 .8-.6-1-1.5-.8 .1z"/><path fill="#ff0f0f" d="M118.2 45.2l2.4-2.1 .2-1.8-.8 1.3-2.3 2.3z"/><path fill="#ff0c0c" d="M162.4 52.3l.3 1.6 1-1.7z"/><path fill="#ff0909" d="M77.1 111.4l.2-1.1-.4-.9-1.1 1.4 .3 .9 .9 .1z"/><path fill="#ff0000" d="M163.5 54.6l.1 .5 .7 .6 1.3-.3 1.3-1.3-.1-.2-.9 0-1.6-.1zM120.6 43.1l-2.4 2.1 .6 .6 2.7-1.3 0-.4zM161.5 54.2l-.4 .6 0 .1 .3 1.6 1.7-.8 .5-.6-.1-.5-.8-.5zM164.3 53.8l1.6 .1-1.5-1.5zM162.7 53.9l-.3-1.6-.4-.4-.8-.1-.3 1.6 .6 .8 1.2-.1z"/></g>
<path d="M77.5 95.2L84 89.6L90 84.6L96.2 79.6" stroke="#fff" stroke-width="1.8" stroke-opacity="0.55" fill="none" stroke-linecap="round"/>
</g>
<rect x="38.40" y="20.40" width="222.30" height="141.70" fill="none" stroke="#7a7a7a" stroke-width="0.8"/>
<line x1="50.40" y1="162.10" x2="50.40" y2="164.10" stroke="#555" stroke-width="0.6"/>
<text x="50.40" y="171.40" font-size="8.6" text-anchor="middle" fill="#000">6.0°E</text>
<line x1="94.90" y1="162.10" x2="94.90" y2="164.10" stroke="#555" stroke-width="0.6"/>
<text x="94.90" y="171.40" font-size="8.6" text-anchor="middle" fill="#000">7.0°E</text>
<line x1="139.40" y1="162.10" x2="139.40" y2="164.10" stroke="#555" stroke-width="0.6"/>
<text x="139.40" y="171.40" font-size="8.6" text-anchor="middle" fill="#000">8.0°E</text>
<line x1="183.90" y1="162.10" x2="183.90" y2="164.10" stroke="#555" stroke-width="0.6"/>
<text x="183.90" y="171.40" font-size="8.6" text-anchor="middle" fill="#000">9.0°E</text>
<line x1="228.40" y1="162.10" x2="228.40" y2="164.10" stroke="#555" stroke-width="0.6"/>
<text x="228.40" y="171.40" font-size="8.6" text-anchor="middle" fill="#000">10.0°E</text>
<line x1="36.40" y1="144.60" x2="38.40" y2="144.60" stroke="#555" stroke-width="0.6"/>
<text x="36.10" y="147.60" font-size="8.6" text-anchor="end" fill="#000">46.0°N</text>
<line x1="36.40" y1="112.00" x2="38.40" y2="112.00" stroke="#555" stroke-width="0.6"/>
<text x="36.10" y="115.00" font-size="8.6" text-anchor="end" fill="#000">46.5°N</text>
<line x1="36.40" y1="79.40" x2="38.40" y2="79.40" stroke="#555" stroke-width="0.6"/>
<text x="36.10" y="82.40" font-size="8.6" text-anchor="end" fill="#000">47.0°N</text>
<line x1="36.40" y1="46.80" x2="38.40" y2="46.80" stroke="#555" stroke-width="0.6"/>
<text x="36.10" y="49.80" font-size="8.6" text-anchor="end" fill="#000">47.5°N</text>
<text x="149.55" y="180.40" font-size="8.6" text-anchor="middle" fill="#000">Longitude(degree)</text>
<text x="6.60" y="92.05" font-size="8.6" text-anchor="middle" transform="rotate(-90 6.60 92.05)" fill="#000">Latitude(degree)</text>
<text x="2.20" y="17.70" font-size="14" fill="#000">(a)</text>
<line x1="51.00" y1="195.60" x2="51.00" y2="339.40" stroke="#e3e3e3" stroke-width="0.6" stroke-dasharray="1.2 0.6"/>
<line x1="96.27" y1="195.60" x2="96.27" y2="339.40" stroke="#e3e3e3" stroke-width="0.6" stroke-dasharray="1.2 0.6"/>
<line x1="141.54" y1="195.60" x2="141.54" y2="339.40" stroke="#e3e3e3" stroke-width="0.6" stroke-dasharray="1.2 0.6"/>
<line x1="186.81" y1="195.60" x2="186.81" y2="339.40" stroke="#e3e3e3" stroke-width="0.6" stroke-dasharray="1.2 0.6"/>
<line x1="232.08" y1="195.60" x2="232.08" y2="339.40" stroke="#e3e3e3" stroke-width="0.6" stroke-dasharray="1.2 0.6"/>
<line x1="38.40" y1="320.80" x2="264.60" y2="320.80" stroke="#e3e3e3" stroke-width="0.6" stroke-dasharray="1.2 0.6"/>
<line x1="38.40" y1="287.90" x2="264.60" y2="287.90" stroke="#e3e3e3" stroke-width="0.6" stroke-dasharray="1.2 0.6"/>
<line x1="38.40" y1="255.00" x2="264.60" y2="255.00" stroke="#e3e3e3" stroke-width="0.6" stroke-dasharray="1.2 0.6"/>
<line x1="38.40" y1="222.10" x2="264.60" y2="222.10" stroke="#e3e3e3" stroke-width="0.6" stroke-dasharray="1.2 0.6"/>
<g transform="matrix(1.01730 0 0 1.00920 -0.272 174.869)">
<path fill="#fff0f0" d="M152.5 46.9l-2 .7 .8 1.4 .7 0 1.4-1.4 0 0-.4-.5zM135.2 51.6l-1.1 .5 1.3 .7 .6-.5zM118.5 74.6l.2 2.9 .9-.5 .2-.7 .1-1.4-.1-.1-.6-.4zM110.9 86.9l.3 .3 .2 .1 1.2-.6-.8-.6-.7 0zM89.2 88.2l-1.3 1.2-.1 .9 .1 .2 1.4 .3 .2 0 1-1.1-1-1.5zM108.4 77.8l.5 .5 .7-.1 0-.6-.3-.2zM61.9 112.6l1.3-.4 1.1-1.4-.1-.4-2 1.2zM96.1 99.1l.1-2.4-1.3 .4-.2 .6 .2 1.5zM89.7 81.1l.1 0 1-.5 .6-1.5-2.9-.5zM113.6 87.5l.6 .2 1.1-2.5 0-.1-.4-.8-.7 .1-1 .6-.1 .4 0 1.4zM168.2 64.1l-.4-1.1-1.1-.1-.7 .1 .2 1.5 1.2 1.2zM120.5 88.4l.1-.9-1.9-.4-.6 1.6 0 .1zM93.2 114.9l1.4 .4-1.1-1.3zM183 60.3l-1.3-.5-.3 0-.2 0-.7 1.8 1.6 1 1.1-2zM88 90.9l-.1-.4-.1-.2-.9 .4-.1 .6 .5 .3zM119.8 76.3l-.2 .7 .7 .1 .5-.7zM153.3 81l-.3 .6 2.5 3.5 1.5 1.4 1.8-.1 .2-2.9-3.5-2.5-1.5-.4zM56.3 119.7l-.3-.2-.2 .1 .2 .8 .4-.1zM140.7 53.5l-2.3 .7-.1 1.5 .1 .1 1.6-1.1 .7-1zM117.3 87.5l-.1-1.3-.1 0-.8 .5 .1 .7 .5 .4zM194.6 63l-2.7-3.8-.7 .1-1 .2-.1 .6 1.8 2.6 2.4 .4zM132.5 57.3l.9-.8-.1-.5-1.5 .1-.9 1.1-.1 0 .3 .2zM109 87.6l-.4 .4 .4 .5 1.9 .2 .3-1.5-.3-.3zM160.4 77.5l-1.3-2.7-.7 1.3 1.4 2.9zM114.1 76.7l-1.4-1.3-.7 .2 .1 .9 2 .3zM194.5 37.1l-.3 1.3 .5 .6 1.5 .6 .7-.7 0-.9-2.3-1.2zM173 61.5l-1.8-.3 .2 1.3zM185.5 60.7l.6-1.2-.2-.5-1.1-1.1-.5 .4 .1 2.6 0 0zM155.2 61.6l1.2-.3 .3-.9-2.1 .4zM152.2 62.7l.1 .1 1 1.1 1.3-.4 .2-.6-.8-.4zM103.2 91.9l1.7-.1-1.1-2-.3 .2zM79.1 80.3l1.3-.8 0-.1-2.2-2-1.1 .8zM133.8 52.8l-.1-.6-.9-.1-.1 .2 .6 .9zM105.8 72.5l-1.9 0 .2 .9 1.3 0zM109.2 75.8l.6 1.4 .7-.2-.9-1.3-.1 0-.3 .1zM179 144.8l-.5-1.8-1.2-.3-.8 1.2 1.9 1.1 .5 .5zM94.4 63.7l-.9 1.4 .1 .1 1.4-.1-.5-1.4zM92.3 78l.2-4-1.3-.2 .4 3.6zM104.2 82.1l-.5 .9 1-.1-.3-.7zM85.5 107.9l-1.3 .6-.1 2.3 1.9-1 .7-.8-.9-1-.2-.1zM72.7 105.4l1.3 .2-.6-1.5zM104.6 95.2l.3-1.9-2-.8-.7 1.2zM90.5 101.4l-1.7 .9-.1 .1 2.2 2.6 .1-.1 .1-1.6zM177 40l1.2-2-1.7-.2-.3 .4zM178.4 37.8l0 .1 1.4 1.1 .8-.2 .1-.1 .1-.1-1.3-1.8 0 0zM72.8 102.7l-.8 .3 0 .1-.4 1.2 .3 1.3 .1 .1 .7-.3 .7-1.3-.4-1.4z"/><path fill="#ffeded" d="M194.3 46.3l0-.1-2.2-1.5-2.2 1.2-.2 .6 .4 .6 3.5 .2zM169.4 34l-2.3-1.1-1 1.1 .1 .2 1.3 1.4 .3 .2 1.3-.9 .3-.5 0-.4zM173.5 50.6l-1-2.1-1.2 .5-.4 .6 2.6 1.5zM109.3 77.4l.3 .2 .2-.3 0-.1-.6-1.4-.1 1.2zM122.7 76l-1.6-1.6-1.3 .4 .1 .1 1.3 1.1 1.3 .3 .1 0 .1-.3zM130.9 49.9l-1.5-.1 0 .2 2.5 1zM88.1 97.4l0 .6 .9 0 .3-1.6-.3-.3-.9-.1zM137.6 51.2l.1 1.4 0 0 1.1-.7-1.2-.7zM151.2 63.6l.2 .8 .6-.4 .3-1.2-.1-.1 0-.1zM201.6 49.7l.9-.6-.2-2.1-3 .3zM171.3 59.9l-.6 .2 .5 1.1 1.8 .3 .3 0 1-1 0-.1-.3-.4zM61 115.7l-1.1-.1-.3 .2 1 .8 .4-.4 0-.3zM121.2 74.2l1.4 .3 .1-.6-.9-1zM107.5 81.5l-1 .4 .1 .2 .7 .8 .5-.2 .1-.3-.3-.8zM96.2 54.6l.1 .1 .5-1.1-.3-5.8-.3-.4-1.2 .1-1.3 2.7zM87.6 86.9l-.7 .2-.5 1.1 2.4-.2zM83.8 87.1l-.1 .2 .7 1.3 .8 .1 .2-.2-.1-1.7-.3-.3-.3 0zM73 102.7l.4 1.4 .6 1.5 .2 .2 1.3-1.4-2.1-1.8zM88.4 84l-.6 .3 1 1.2 1 .1-.9-1.3zM112.8 59.6l.2 .7 .7-.1 .9-.7-1.1-.6zM100.3 84.9l-.5 .7 1.1 1.9 .7-.6zM150.1 41.6l.3 .3 1.3-1.8-1.5-.2zM166.9 43.5l1.1-.5 .2-.5-.3-1-.7 0-1.7 1.5 0 0zM55 123.7l-.5-.5-1.9 1.7 0 .2 1.9 .7 .4-1.4zM184.2 139.7l-.6 .5-.3 1.6 .1 .2 1.6 .2 0-.1 .3-2.3zM165.7 33.7l-.5-1.5-1.4 .2 .5 .9 .5 .5zM199 50.6l-.9-3.2-.2 0-.9 .1-.9 1.5-.3 1 .3 1.5 1-.2 1.4-.5zM77.1 101.6l.2-.2 .2-1-2.2-1.2-1.1 1-.5 2.2zM166.9 43.5l-1.4-.5-.2 .2 0 1.9 2.1-.1 .1-.1zM96.9 96.2l-.7 .5-.1 2.4 .2 .1 2.2-.8-.7-2.2zM128.4 51.8l-.1-.3-1.2 .1-.1 2.2 .4 1 .9-1.8zM131.9 51l-2.5-1-.3 1 1.3 1.1 .3 0 1.4-1.1zM133.4 56.5l1 .6 1.3-2-1-.7-1.1 .4-.2 .4-.1 .6 0 .2zM163.3 32.2l.5 .2 1.4-.2 .5-.5-1.1-1.3zM80.3 99l.1 0 .7-.3 .4-1.6-.2-2.2-.5-.1-.9 .4zM183.2 44.9l-1.1 .2-.2 .7 2.1 .2zM90.5 83.4l.1-1.2-.8-1.1-.1 0-1.2 1 0 .2 .2 .3 1.7 .9zM90.9 95.9l.8-1-.5-.6-.5 .7zM110.6 61.4l-.8-.3-.9 .8 .5 .7 .7 .3 .7-1.1-.1-.1zM72.7 105.4l-.7 .3 .3 .5 1.9 0 0-.4-.2-.2zM136.6 55.3l.2-1.4-1.7-.4-.2 .3-.2 .6 1 .7 .2 .1zM204.9 68.1l-.5 1.1 .1 .3 2 2.3 1.6 .2 .3-.3-1.4-1.7 .4-1.7z"/><path fill="#ffeaea" d="M136 52.3l-.6 .5-.3 .7 1.7 .4 0-.1 .1-1.1-.6-.5zM160.2 32.1l2.1 .1-.4-1.2-.8-1-.2-.2-1.1 .9zM86.1 112.7l1.1-1.3-1.2-1.6-1.9 1-.2 .2 .5 2.2zM151.5 64.9l.5-.4 0-.5-.6 .4zM97.7 74.2l-.8-.2-.5 .6-.1 .4 1 .5zM112.1 88.5l.2-.4-.9-.8-.2-.1-.3 1.5 .2 .1zM129.9 55.8l.4-.1-.2-.8-.6 .3zM78.6 95.3l-.4 1.2 1.8 2.5 .3 0-.4-3.8-1.1-.2zM61.7 112.8l.9 .9 .6-1.5-1.3 .4zM161.7 39.6l.3 .3 .3 0 .8-1-1.6-.8zM196.1 59.1l1.8-1.5-.6-1.8-.8-.4-.2-.1-.9 3.4zM60 127.3l0 .2 .4 .4 .6-.4-.9-.2zM84.6 91.8l-1.3 1.5 0 .4 2.2-.3 .4-1.1-.1 0zM183.7 58.5l.6-.2 .5-.4 .1-1.1-1-1.2-.5-.3-1.1-.2-.9 .4 1.1 2.2 .5 .5zM77.8 100.2l-.3 .2-.2 1 2.3 1.7 .8-.2-1.2-3.4zM156.9 60.2l.3-.1-.3-1.6-1.3 .2 0 0-.1 .8zM174.9 49.4l-.7-1.4-1.1-.1-.5 .4-.1 .2 1 2.1zM189.3 61.3l.8-1.2 .1-.6-.1-.2-4 .2-.6 1.2 1.5 1.9 .4 .1zM156.1 45.6l.2-.2-.3-1.2-.5-.1-.3 1.8zM95.2 81.2l1 .5 1.4-1.5 .2-.3 0-.1-2.5-.3zM201.7 57.3l-1.5-.1-.4 .8 .9 .9zM199.6 50.7l-.6-.1-.5 .2 .5 2.4 .2 .1zM120.8 66.2l-1.7 .3 .5 .9 1.5-.6zM182.1 45.1l-.2-.6-1.6 .3-.4 .8 1.9 .5 .1-.3zM187.6 56.1l-.1-2.1 0 0-3.6 1.6 1 1.2 1-.2zM86.2 96.3l-.2 .1-.5 1 .1 .2 1.4-1.1zM75.3 82.1l1 0 0-.1-.5-1.6-.3 .1zM154 62.5l.8 .4 .5-.3-.1-1-.6-.8-.2-.2zM96.3 75l.1-.4-.5-1.4-.7 .6 .9 1.2zM103 92.1l-.1 .4 2 .8 .7-1.2-.7-.3-1.7 .1zM176.9 40.3l.1-.3-.8-1.8-.6 .1 0 2.1 .3 .5zM125 78.1l.8 1.2 .7-1-1.2-.6zM172.5 34.9l0 .3 .8 2.2 .1 .1 .5-.6 0-1-.4-.5-.9-.5zM93.3 113.4l1.1-.8-.4-.5-1-.2-1.1 1.1 .4 .6zM146.4 63.3l-2 .1 .1 1.2 2.2-.7zM151.5 44.1l.4-.4-1.2-.9-1 .9 .1 .2 1.4 .3zM151.9 61l-2.1-.8-1.6 .9 1 1.4 2.8-.5 0-.8zM161.8 67.8l-.8 .1-.9 .1-.4 .5 .4 .8 .4 .1 1.9-.7-.1-.2zM120.4 64.2l.6 .5 .4-.1 .4-.4-1.3-.5zM115.4 53.3l0 1.9 1.1 .6 .7-1.8-1.5-1.6zM69.7 85.7l1.6 3.1-.1 .2 1.3-.4 .1-.3-2.2-2.8zM87.2 96.4l.9 1 0-1.4-.4-.5 0 0zM93.5 85.3l1.2 2.1 .2 .1 .5-3.4-.9-.1zM51.3 133.4l-1.1-.6-1.7 .1-.6 2.2 1.6 .8zM125.1 69.5l0 0 2.8-.1 .2-.9-.1-.1-.7-.3-1.6 .4zM90.6 86.6l-1.1 1.6 1 1.5 1 .7 .8-.4 .1-.1 .1-2.5-1.2-.7-.5-.1zM173.9 36.9l1-.5-.2-.8-.8 .3zM118.8 45.8l-.6-.6-.5-.3-.5 .5-2.7 1 .1 .5 2.7 2.6 2.3-1.9z"/><path fill="#ffe7e7" d="M161.5 38.1l1.6 .8 .4-.2 .2-.5-.7-.4-1.4-.1-.2 .3zM79.2 99.5l1.2 3.4 .6 .1 .8-.9-1.4-3.1-.1 0-.3 0zM149.9 44.6l-1.4 1.3 1.6 1.5 .2 0 .4-1.1-.1-.3-.2-.6zM53.5 131.1l-1.4-.6-1.7 1.2-.2 1.1 1.1 .6 .2 0zM84 100.1l1.9 .4 .4-.1 .1-.2 .3-1.4-1.1-1.2-.1-.2-1.2-.3-1.5 1.7zM200.2 97.6l-.8 1.3 2.2 3.4 .1-3.8zM103.5 81.7l.7 .4 .2 .1 .9-.9 0 0-1 0-.3 .1zM184.2 51.6l-2.2-.2-.1 .2 .9 1.5 .9-.7zM165 39.3l-1.1-1.3-.2 .2-.2 .5 .9 1.4 .3-.2zM90.5 113.3l1.3-.5-.7-1.9-.7 .1-.4 2.1zM196.3 55.3l.2 .1 2.2-2.1-1.6-2-1 .2-.7 .8 0 1.9 .7 1zM51.6 130.1l.5 .4 1.4 .6 .1 0 .4-3.1-2.3-.6-.3 .7-.6 .8zM108.7 52.9l.2-.9-.1-.7-.4-.3-.8-.2-.3 .9 1.2 1.3 0 0zM176.4 56.1l1.6 .8 2.8-1.2 .1-.2 0 0-4.2 0-.5 .3zM145.4 80.3l1.5 1.4 .7 0 .6-3.1-1.7 .1-.9 .5zM116.3 86.7l-1-1.5-1.1 2.5 0 .1 2.2-.4zM61.9 128.1l-1 .9 .5 .7 .7 .3 .7-.4-.2-1.3zM139 77.4l-.4 1.2 .7 .4 .9 0 .6-.2-1.4-1.5zM178 57.9l0-1-1.6-.8 .1 2.1zM160.4 38.9l.1-.4-1.3-.2-.4 .7 .9 .6zM159 83.5l1.2-2.8-.4-.6-3.3-.4-1 1.3zM135.5 61l-.6 .3 2.5 1.2 .2-.5-.4-.4-1.5-.6zM93.4 80.1l-.4-1.2-.1 0-1.2 2.2 .3 .4 .3-.2zM148.9 77.7l-.2 .1-.5 .8-.6 3.1 .9 .4 .4-.2 2.2-3.7-.1-.2 0 0zM122.9 51.9l1.3-1.3-.2-.3-1.1-.6-2-.2-.1 1.1 0 .4zM129.5 55.2l.6-.3 .3-.6-.2-.1-1.4 .8zM177.4 48l-.3 .1-.1 .6 1.4 1.7 .5-.8zM183.3 141.8l.3-1.6-1.5-.2-.8 .9 .1 .6 1.5 .3zM171.1 64.8l.9-1.2 0-.4-.7-.4-.5 .2zM158.7 43.6l.6-.9 0 0-.1-.2-2.1-.2 .4 1.2zM142.4 68.4l-1.5 .7 1.3 1.2 .6-.2 .2-.9zM91.8 115.6l-.1 .2-.4 1.4 .7 .7 1.2-.5-.2-1.1zM71 108.2l-.1-.3-.8-.5-.9 .4-.5 .4-.1 .6 0 .1 1 1.1 .6 .1 .3-.3zM169 45.8l.7-.5-.3-.9-.8-.1-.6 .3 .9 1.2zM60.7 114.3l-.2-.4-1.8-.2 .1 2.2 .1 0 .7-.1 .3-.2zM83.3 84.5l-.8-1.2-1.1 1 0 .6 .3 .6 1-.3zM162.4 74.6l.1-.2-.1-.7-.3-.7-1.6 .3-1.7 1 0 .2 .3 .3 3.2 .1zM103.7 83l-.3 .2 .1 .5 1.2 .3 .5-.5-.1-.2-.4-.4zM161.8 44.4l.6 .2 2.7-1.5-1.3-1.1-1.8 1.6zM116.8 77.4l-.5-2.5-1.2 0-1 1.8 0 .1 .2 .9zM136.9 52.7l-.1 1.1 1.5 .2 0-.5-.6-.9 0 0zM174 44.2l.6 .4 .8-1.8-2.5-.5zM156.3 41l.2-.1 .6-2.1-.7-.9-1.3 1.4z"/><path fill="#ffe4e4" d="M68.7 111.6l-1 0-.2 1.2 2 .4 .1 0zM170.4 63.1l-.3 .5 .6 1.7 .4-.4 0-.1-.3-1.8zM192.7 64.2l1.6-1.1-2.4-.4-.9 1.8zM127.9 69.4l-2.8 .1 0 1.3 .1 .1 1.8-.1 .6-.1 .3-1.2zM107.6 50.8l-.3-.4-1.8 .1-.1 1.2 .3 .6 1.6-.6zM161.7 67.6l0-.3-.7-.1 0 .7 .8-.1zM83.4 90l.7-1.2-1.6-.6 0 0 .1 1.2 .4 .7zM99.5 54.6l.2-1.9-1-.5-1.9 1.4-.5 1.1 .4 .9 1.7-.2 .5-.2zM146.9 40.7l2.2-.9-.7-.1-2.3 .5zM148.9 43.5l-2.3 2 1.9 .4 1.4-1.3-.1-.7-.1-.2-.8-.3zM169.7 62.5l-1.2 .2-.2 .1 .7 .7 1 .1 .1 0 .3-.5zM122.1 56.1l.7-.1-.1-1-.8-1.5-.9 .1 .2 1.4zM154.4 60.5l-2.2-1.8-.3 2.3 .1 .2 2.3-.6zM160 40l1.1-.4-.7-.7-.7 .7 .1 .3zM86 109.8l1.2 1.6 1.2-.6-1.4-1.8-.3 0zM96.1 63l.7 .1 1.5-.8-1-1.2-3 .3 0 .1zM155.2 45.9l.3-1.8-.2-.1 0 0-.6 1.3 .3 .7 .2-.1zM125.9 65.5l-1-1.1-1.1 1.2 .3 .5 1.7-.4zM59.8 125.7l.2-.1-.8-.6 .1-.2-1.8-.2 0 .1 .5 1.1zM164.3 33.3l-.5-.9-.5-.2-1 0-.2 .7 .4 1.1 1.1 .1zM132.7 58.4l1 1.5 1.1-2 0-.2-.4-.6-1-.6-.9 .8zM91.3 121.6l-1.8-.4-.1 1 0 0 1.9 .5zM117.6 85.8l.4 0 .7-1-.1 0-1.3 0-.6 .4zM135.4 57.4l.8-.2 .7-1.7-.3-.2-.7-.1zM154.3 60.6l-2.3 .6 0 .8 .2 .6 0 .1 1.8-.2 .4-1.9zM145.9 67.7l1.4-.9 .4-.5-.2-.4-2.4 1zM154.6 46l-1.3-.8-.6 .2-.1 .1 .8 .7zM131.8 56.1l-.6-.8-.6 .6 .3 1.3zM95.4 84.1l-.5 3.4 .2 .3 .6-.1 1-3.9-.1-.1zM204.4 93.8l-1.4 .3-.8 1.2-.1 .5 3.5 2.6zM123.5 65.4l.3 .2 1.1-1.2 0-1.1zM142.8 70.1l-.6 .2-1.6 1 .1 .8 2.2 .9 .4-.4-.5-2.5zM93.4 65.1l.1 0 .9-1.4-.7-.5-.7 .2zM155 46l-.3-.7-.3-.6-.5-.5 0 0-.6 1 1.3 .8 .3 0zM137.7 52.6l.6 .9 2.4-1.1 0-.1 0-.2-.6-.6-.1-.1-1.2 .5zM130.2 67.2l.3-.7-1-.3-1.5 2.2 .1 .1 1.1 .4zM202.4 46.8l-.1 .2 .2 2.1 1 .3 2.1-2.7 .1-.3zM103.5 81.7l-1-.2-.1 .7 1 1 .3-.2 .5-.9zM131.8 77.4l1.1-.2 .8-1.6 0 0-2 .4zM86.6 95.9l-.7-1.2 0 0-.3 .8 .4 .9 .2-.1z"/><path fill="#ffe1e1" d="M94 71.8l0-1.4 0 0-1.3-1-.7 0-2.2 2.8-.1 .8 .3 .5 1.2 .3 1.3 .2 .2 0 .2-.2zM181.9 45.8l-.1 .3 .2 1.3 1.9-.7 .5-.5-.4-.2zM100.7 92.1l-.1 1.2 .9 .5 .7-.1 .7-1.2 .1-.4-.4-.3-.9-.5zM61 127.5l-.6 .4-.4 .9 .9 .2 1-.9-.7-.7zM184 63.3l1 .6 .9-.8-1.5-.9zM130.5 44.7l.3 .4 .6 0 .2 0 1-1 0-1.7-2.6 .9zM136.9 55.5l1.4 .2 .1-1.5-.1-.2-1.5-.2 0 .1-.2 1.4zM184.2 48.7l-.3-2-1.9 .7-.1 .3 1.8 1.2 .4-.2zM148.5 58.7l-.6 1.4-.1 .1 .2 .8 .2 .1 1.6-.9 .5-2.4zM140.5 43.7l1 1 .1-.3-.4-1.2-.7 .4zM148.6 41.8l1.5-.2 .1-1.7-.7-.1zM92.5 127.2l1.2-.4-.3-1.6-1-1.2-1.7 1.5zM149.8 60.2l2.1 .8 .3-2.3 0-.2-.8-1.3-1.1 .5 0 .1zM98.4 86.9l-.3 .9 1.6 .8 .7-.3 .5-.8-1.1-1.9zM104.3 84.9l.4-.3 0-.1 0-.5-1.2-.3-1.1 1.2 0 0zM138.6 60.6l-.1 .9 .9 1.5 .2-.2-.9-2.2zM124.4 83.6l-.4-1.3-.7-.4-1.3 1 .5 1 1.4 .4zM141.6 60.9l-.1 0 .8 1.8 .4-1.3zM178.5 46.2l-.6-.7-.6-.1 .6 1.7zM142.3 67.8l.1 .6 .6 .8 .6-.1 .4-.2 .7-2.1zM86.1 90.1l0 .4 .8 .2 .9-.4 .1-.9-1-.1zM151.2 44.7l-.8 .7 .2 .6 1.1-.9zM98.1 77l-.5-1.2-.1-.1 0 .1-.3 1.3zM93 78.9l.4 1.2 .9 1.2 .9-.1 .1-1.7-.4-.6zM207.3 62.3l.1 1.2 1.1 .4 0-.1 .7-1.6zM117 87.9l1.1 .8 .6-1.6-.3-.1-1.1 .5-.4 .3zM103.9 72.5l-.1-.1-.6 .2-1 1.2 0 .4 1.5-.2 .4-.6zM50 130.9l-.5-.3-.7 1-.3 1.3 1.7-.1 .2-1.1zM192 42l2.2 .8 .2 0 .2-.4-1-1.4-.9-.4zM169 63.5l.2 .9 .5-.4 .3-.4zM141.1 56.6l-1.5 1.9 1.3 .3 .8 .1 .2-2.1-.3-.2zM74.2 106.2l-1.9 0-.2 .7 1.6 .8 1-.5zM119.8 84.6l1.2 2.1 .6-.7 .5-1.8-1.9-.1zM199.9 44.8l-1.1 2.3 .5 .2 3-.3 .1-.2-.2-.7zM154.5 60.1l1-.6 .1-.8-1.3-.3-.2 .2zM121.8 72.9l.9 1 1.5-.3-.1-2.2-2.6 0zM127.1 59.5l.1 2.6 1.3-.6-.1-1.8zM157.1 38.8l-.6 2.1 .1 0 1.7-1.2 .3-.7-.2-.1zM92.4 56.1l.9-2-1.6-1.9-.9 .9-.9 2.1zM152.7 64.9l-.4 1.1 .4 .2 .9-1.6-.3-.2zM164.4 34.7l.4-.9-.5-.5-.7 .8 .5 .6zM167.1 32.9l-.5-.8-.9 1.6 .4 .3zM154 42l-.7-.1-.5 1 0 .5 0 .1 1.1 .7 0 0 .7-.7zM182.8 151.6l0-.6-1.7-1.7-.5 3 .6 .6z"/><path fill="#ffdede" d="M120.3 64.4l.1-.2 .1-.5-.5-1-.3-.2-1.3 1.6-.1 .5 1 .2zM79.9 92l-1.6 1.4 0 .3 .1 .1 1.8-.4 .2-1.4zM110.9 69.4l-.2 .4-.2 1 1.3 .4 2.6-.4 .9-1.1 .5-1zM185.2 143.7l-.1-1-1.3 .6zM106.4 82.5l.3 1.6 .2 .1 .4-1.3-.7-.8zM93.8 92.8l2.5-.6 .4-.4-.1-.3-1.2-.5-1.2 .5-.5 1.2zM85.9 92.3l1.4 .4 0-.2 0-.9-.5-.3-.9 .7-.1 .3zM160.5 66.9l-.2 .4-.2 .7 .9-.1 0-.7zM94.6 115.3l-1.4-.4-1.4 .2 0 .5 1.2 .7 1.8-.9zM100.8 80.7l.1 .2 1.3 .1 .8-1.7 .1-1.1-.5-1-1.3 .4-1 1.5zM61 127.5l.2-.1 0-.6-.8 .1-.3 .4zM94.4 83.9l-2.1-.2 0 .5 .1 .3 1 .8 .1 0 1-1.3zM127.2 62.1l-.4 .5 .1 .2 1.6 1.5 1.3-.9 .8-1.2-1.2-.8-.9 .1zM183 145.6l0 .2 .4 .8 1.5 1.2 .8 0-.3-2.6zM119.8 71.3l-.6 3.1 .6 .4 1.3-.4 .1-.2 .6-1.3-.3-1.5-.6-.3zM110.9 79.5l.1-.4-.1 0-2.6 .5-.3 .4 0 0 .6 .4zM202.1 95.8l0 .1 .9 2.4 2.9 .8-.3-.7zM170.3 43.1l.7-.4 .3-.5-1.4-2.4-.6-.1-1.4 1.8 .3 1zM119.4 84.6l-.7 .2-.7 1 .4 1.2 .3 .1 1.9 .4 .4-.6 0-.2-1.2-2.1zM164.8 37.5l1.8 .1 .9-.2 .3-1.6-.3-.2-2.3 .2zM182.2 62.8l.1 .6 .4 .3 1.3-.4 .4-1.1-.1-.3zM80.4 92l-.2 1.4 .6 1.4 .5 .1 .5-.3 .5-.4-1.6-2.4zM160.5 73.3l-.4-.6-.3 0-1.2 .8 .1 .6 .1 .2zM149.8 43.9l.1 .7 .5 .8 .8-.7 0-.5zM128.9 53.9l.4-.2-.9-1.9-.1 1.2zM202.6 53.7l2-.9-.1-.2-3.5-2.1-.2 .2 .5 1.8zM152 64.5l.7 .4 .6-.5 0-.5-1-1.1-.3 1.2z"/><path fill="#ffdbdb" d="M89.2 95.6l.8-.2-.5-1.7-.4-.2-.4 .7zM75.1 90.7l.8-2.2-.2-.4-2.4-.9-.7 1.1-.1 .3 2.2 2.3zM89.2 113.5l.8-.4 .4-2.1-1.1-.3-.5 .1-.2 2.3zM72.3 82.9l.4-.2 .5-1.9-1.7 1.1zM204.7 92.4l3.3-4-3.1-1.9-1.7 3.2zM149.7 68.9l-.6 .6 .5 1.4 .2 .3 .9 .7 .2-.2-.2-1zM155.7 48.2l-.4-.6-1.4 .6 .2 .7 .8 .2zM59.6 126.9l-.2-.2-.8 .6 .7 .7 .7-.5 0-.2zM168.9 30.7l-1.1 .2-.1 .2 1.5 .6zM143.8 53.8l.6-.6-.4-1.2-1.2 .7 .3 1.3zM102.8 85.9l1.2 .5 .3-1.5-1.9 0zM91.2 94.3l-.1-.2-.5-.5-.9 .1 1 1.3zM187.6 42.8l-1.9 1.7 .3 1.4 .8 .9 2.9-.3 .2-.6 0-.2-.7-2-.3-.3zM160.7 41.7l.7-.1 .2-.2 0-.6-1.4-.7zM84.4 88.6l-.3 .2-.7 1.2 1.3 .3 .5-.9 0-.7zM137.4 77.2l-.2 .1 0 1 .7 .9 .7-.6 .4-1.2-.4 0zM153.3 45.2l.6-1-1.1-.7-.4 1.5 .3 .4zM186.3 35.7l.9 2.3 .7 .1 .6-.2 .1-.1 .3-1.6 0-.8-2.4-.6zM148.2 78.6l.5-.8-1.7-.3-.5 1.2zM51.5 133.4l-.2 0-1.8 2.5 .1 .1 2.9-1.1zM165.3 70.8l-.7 .8 .5 .9 1.6 .9 1.5-1zM175 34.3l0 .1 1.3 .9 .8-1.1-1.9-1.7zM75.6 96.4l-.5 2.6 .2 .2 2.2 1.2 .3-.2-1.1-3.3zM164.3 56l0-.3-.7-.6-.5 .6-.2 2 .7 .3zM104.9 91.8l.7 .3 .9-.3-.1-2.4-2.1-.4-.5 .8zM108.3 77.6l.1 .1 0 .1 .9-.4-.2-.4zM105.6 74.3l.7 .5 2.1-2.6 .2-.7-.1-.1-2.5 .9-.2 .2-.4 .9zM86.4 88.2l-.4 .3 .9 .8 1 .1 1.3-1.2-.4-.2zM187.3 53.4l.2-.8-.9-2.4-.7 .3 0 0-1.4 .7 0 .1 1.4 1.8zM128.7 71.5l-.7 2 1.2 0 1-.8 .2-1zM92.9 78.9l-.3-.4-1.2 .6-.6 1.5 .9 .5zM190.9 41.9l-.3 1 .5 .3 .8-.2 0-.9zM95.6 75.6l-1.1-1.7-1.6-.1-.2 .2 1.3 1.8 1.1 .3 .2 0zM62 119l.1-1-.5-.9-.9-.1-.7 1 .1 .1zM110.9 77.1l-.3-1.5-1 .1 .9 1.3zM184.3 58.3l-.6 .2-.7 1.8 .2 .3 1.2 .3zM146.3 68.4l.3 .1 1-.6-.3-1.1-1.4 .9 0 .2z"/><path fill="#ffd8d8" d="M159 56.8l.3-.2-.8-1.2-.2-.2-2.1 .7 1 1.5zM148.7 74.5l-2.1 1 2 1.4 .2-.8zM98.4 74.6l.6 1.1 .1 0 .1-.9-.7-.7zM163.9 38l.6-.5-.7-1-.7 .3-.1 1 .7 .4zM148.7 77.8l.2-.1-.3-.8-2-1.4-.1 0-.9 .6 1.4 1.4zM164 62.8l1.4-.2 .2-.9-.5-1.2-.5-.9-.2-.1-1.6 2.2 0 .8zM92.1 92.4l-1.5 1.2 .5 .5 1.7-.3 .1-.9zM166.2 50.3l-1 .3-.7 1.6 2.5 .5 .6-1-.2-.6-.5-.7-.7-.1zM82.5 110.4l1.4 .6 .2-.2 .1-2.3-.3-.4-1.1 .2-.6 1.8zM155.1 43.6l.2 .4 .2 .1 .5 .1 .3-.3-.5-.5-.6 .1zM157.2 57.4l-1-1.5-.5-.3-.3 .2 .2 2.9 1.3-.2 .4-.7zM75.3 93.7l-.6 1.6 .2 .2 2-.3 .6-1.4zM170.3 43.1l-2.1-.6-.2 .5 .6 1.3 .8 .1zM96.6 78.2l-1.5 .5-.2 .2 .4 .6 2.5 .3 .1-.3-1.1-1.3zM184.5 51.2l-.9-1.2-1.6 .6 0 .8 2.2 .2 .3-.3zM192.4 51.7l.7-.3-.5-1.5-1.3 .4-.3 .5zM213.5 53.2l-.2-1.3-.6-.1-.3 .3 .4 .7zM110.5 64.1l-.2 .3 1.1 3.5 1.6-1.3 .5-2.3-.7-.4zM169.1 64.4l.1 0-.2-.9-.7-.7-.5 .2 .4 1.1zM164.7 35.5l-.1-.4-.2-.4-.3 0-1.2 .6 .9 .8zM169.1 34.9l2 2.5 1.4-2.2 0-.3-.2-.2-2.9-.3zM189 50.2l-.1 1.6 1.3 .3 .3-1.2-.2-.2zM130.5 44.7l-.5-1.4-1.6 .7 0 .2zM122.1 84.2l.4-.3-.5-1-.8-.2-.7 .7-.3 .7zM80.4 99l1.4 3.1 1 0 1.2-2-1.2-1.3-1.7-.1zM146.4 73.9l.1 1.6 .1 0 2.1-1 .5-.7 .1-.2-1.8-1.1 0 0zM91 114.5l-.5-1.2-.5-.2-.8 .4 .1 1.1 0 .1zM68.7 110.8l.9-.8-1-1.1-.9 1.4zM141.1 47.9l.4-1.1-.7-.6-.8 .3-.2 .8 .6 .5zM92 117.9l-.2 1.3 .8 .9 .1 .1 1-1.7 0-.8-.5-.3zM161.8 65.5l-.8-.7-.5 2.1 .5 .3 .7 .1zM198.5 67.5l1.5 .2 0-1-1.2-.4-1.3-.1 .5 .9zM89.3 120.6l.2 .6 1.8 .4 1.3-1.4zM122.4 61.2l-.4-.1 0 0 .1 .8 .7 .2-.2-.8-.1-.1z"/><path fill="#ffd5d5" d="M144.6 70.7l-.1 .2 0 0 1.7 .2 0-.1-.1-.7-1.1 .3zM86.8 91.3l.1-.6-.8-.2-.3 .3 .1 1.2zM173.2 32.3l1.1-.6-2.5-2.2-.4-.2-.3 1 .3 .9 .4 .9zM142.7 61.4l-.4 1.3 0 .4 .8 .1 .3-.1 0-1.8zM147.1 64.8l.4 1.1 .2 .4 2.2 .8 .1-.1 .5-.9-.8-1.8-.5-.4zM82.9 92.1l.4 1.2 1.3-1.5-.1-.2zM121.9 53.5l1-.7 0-.9-2.1-.9-.5 .8 0 1 .3 .7 .4 .1zM156 44.2l.3 1.2 1-.3-.3-1.3-.3-.1-.4 .2zM58.1 132.5l.4-.3 1.1-.7-.8-.2-.6 .3zM81 91.3l.9-.1-.3-1.7-.5-.2-.2 1.8zM201 50.5l3.5 2.1-.2-2.4-.6-.7-.2-.1-1-.3-.9 .6zM142.8 42.5l.7 .2 .8-2.2-2.9 .6zM132.4 48l-1.6 .4 1.3 1 .4-.6 .1-.7zM170.8 55.3l.2-.1 .6-.4 .3-.7-.3-1.3-1.4 0-.4 1.3zM154.9 56.1l-.6 2.3 1.3 .3 0 0-.2-2.9zM144.8 66.6l.3 .3 2.4-1-.4-1.1 0-.1-2.4 1.2zM105.2 83.5l-.5 .5 0 .5 2.1 .1 .3-.2-.2-.2-.2-.1-1.3-.6zM115.5 80l1.1 0 .8-1.8-.6-.8-2.5 .3-.4 .6 1.1 1.6 .3 .1zM86.6 95.9l-.4 .4 .8 .2 0 0 .2-.1 .5-.9zM120.5 65.2l-.2-.8-1 .4 1.1 .6zM76.9 104.5l-.3 1.4 1.8 1.7 .7-1.3-.5-1.5-1.6-.4zM110.6 84.2l2.6 .8 1-.6-2.4-2.1-.6 .2-.8 1.5zM180.9 49.7l-.1-.5-1.1 0-.8 .4-.5 .8-.1 .6 1.5 .5zM164.1 45.7l.4 1.4 .8 .6 0-.1 .6-1.1-.7-1.2zM136.3 43.2l1.9-.3 .1-1 0-.4-2.4 .2 0 1.2 .1 .1zM205.7 46.4l-.1 .3 .7 2 1.4 1.3 1.8-.2 .1-.1-2.5-3.7-1.3 .2zM111.7 77.7l.4-1.2-.1-.9-.3-.4-1.1 .4 .3 1.5zM179.1 44.9l-1.2 .6 .6 .7 1 0 .3-.6zM148.6 41.8l.9-2-.4 0-2.2 .9 .9 .9 .7 .3zM156.7 77.9l-.4 1.4 .2 .4 3.3 .4-.1-.4-2.6-2zM177.7 51.8l.2-.6-1.6-1-.1 0-1.4 1.9 .2 .3 2.2-.3zM90.3 83.6l-.4 2 .7 1 .8-2.1-.8-1.1-.1 0-.1 .1 0 0z"/><path fill="#ffd2d2" d="M151.4 68.9l-1.4-.8-.3 .8 1 1.8 .7-1.6zM168 44.6l.6-.3-.6-1.3-1.1 .5 .6 1.4zM190.2 52.1l.3 .4 1.8-.6 .1-.2-1.4-.9-.5 .1zM206.8 53.5l2.1 0 .6-3.7-1.8 .2-.3 .2-1.7 2.9zM75.8 90.7l1.7 .9 .8-2.1zM170.2 52.8l1.4 0 .4-.7-1.1-.9-1.5 .6zM61.2 126.8l0-.4-1.2-.8-.2 .1-.4 1 .2 .2 .8 0zM178.9 44.3l-2.1 .2-.3 .4 .8 .5 .6 .1 1.2-.6zM61.6 116.3l0 .1 1.9-1.2-.7-.5-.7 0-.6 1.3zM60.4 126.9l-.8 0 .4 .4 .1 0zM138.2 68.1l-.3 .6 .8 .6 .7 .4 1.5-.6 1.5-.7-.1-.6-.4-.5-2.6-.1-.6 .3zM150.3 57.7l-2-.8-.5 1.1 .7 .7 1.8-.9zM157.1 77.7l2.6 2 .1-.7-1.4-2.9-1.4 1.1zM107.9 82.4l-.1 .3 1.7 1.5-.7-1.6-.3-.3zM135.7 55.1l-1.3 2 .4 .6 .6-.3 .5-2.2zM135.5 61l.2 0 2.2-.4 .1 0 0-.1-.4-.8-1.4 .3zM90.4 83.5l-1.7-.9-.1 1 .7 .1 1.1-.2zM171 55.2l-.2 .1-1.5 1.6 .3 .6 2.4 .3 .6-.3zM175.2 57.8l-1.3 1.5 .1 .7 .3 .4 1.7 0 .3-.1 .1-1.9zM184.7 152.8l-.1 .6 .3 .9 2.4-3.2-.7-1.3zM181.4 55.5l-.5 0-.1 .2-.7 2.9 1.1 1.2 .2 0 1.1-2.1zM72 99l1.1-.8 .6-2.7-2.2-.7-.6 3.8zM170.9 51.2l1.1 .9 1.3-.7-2.3-1.3zM163.3 50l.3 .4 .5-.1 .4-1.2-.4-.1zM174.6 63.1l-.3-2.6-1 1-.3 1.4zM87 96.5l.1 2.1 1-.6 0-.6-.9-1z"/><path fill="#ffcfcf" d="M50 130.9l1.6-.8-.8-1.2-1.3 1.7zM147.9 60.1l.6-1.4-.7-.7 0 0-.1 .1zM56.7 125.2l-1.8-.8-.4 1.4 .1 .1 1.9-.4zM81.9 105.4l-.2-.3-2.8-.5-.3 .2 .5 1.5 2.6-.3 .2-.3zM134.4 79.5l1-.2-.6-1.7-.7 .3-.3 .6zM152 45l-.5-.9-.3 .1 0 .5 .5 .4zM162.3 71.1l-.5-.8-.5 .1-.5 1.3 .1 .1 .9 .6zM164.5 37.5l.3 0 0 0 .4-1.7-.5-.3-.9 .6 0 .4zM150.4 41.9l.3 .5 1.7-2 0-.2-.7-.1zM134.6 43l1 0 .3-.1 0-1.2-2.1 .2-.7 .3zM96.4 74.6l.5-.6-.5-1.4 0 0-.5 .6zM153.4 46.2l-.8-.7-.3 .5 .2 .9 .5 .2zM144.6 58.1l0 .2 1.7-.4 .1-.7 0-.2-.9-.6-.7 1.1zM98.5 74.1l.7 .7 1.2-.6-.5-.9-1.6 .4zM123.7 55.7l-.4 .4 .8 1.7 1.4-.5 .4-1.1zM104.7 84.6l.8 .8 1.3-.8-2.1-.1zM54 122.1l.5 1.1 .5 .5 1.5-.1 .1-1.4-.6-.5-.4-.1zM78.6 104.8l.3-.2 .7-1.5-2.3-1.7-.2 .2-.1 2.8zM72.8 109l-1.8-.8-.5 1.6 1.6 .5 .3-.3zM141.5 46.8l1.7-.3 .3-.2-2-1.3-.7 1.1 0 .1zM154.7 45.3l.6-1.3-.9 .7zM129.6 78.1l.1 .2 1.7 1.2 .1-1.7-1.6-.6z"/><path fill="#ffcccc" d="M77.1 101.6l-3.4 .8-.3 .2 2.1 1.8 1.4 .1 .1-.1zM192.8 56.1l1.7-1.7-2.3-.1-1.2 .4 0 0 1.1 1.3zM92.4 84.5l-1.6 2.1 .5 .1 2.1-1.4zM130.6 75.5l-.8 1.5 .1 .2 0 0 1.6 .6 .2-.2 .1-.2-.1-1.4-.2-.2zM135.1 51.2l-1.1-.6-.1 1.4 .2 .1 1.1-.5zM158.6 41.3l-2-.4-.1 0-.2 .1-.2 .3 .3 .5 .7 .5 2.1 .2zM146.2 47.8l1.9 .8 2-1.2-1.6-1.5-1.9-.4-1.2 .3-.1 .3 .1 .5 .3 .5zM100.9 52l.3-1.1-1.3-1.3-2.2-.9 1 3.5 1 .5zM78.4 93.8l-.1-.1-.8 .1-.6 1.4 1.7 .1 .2-.3zM181.7 59.8l1.3 .5 .7-1.8-.7-.3zM156.4 61.3l.4 1 1.1 .4-.2-2.4-.5-.2-.3 .1-.2 .2zM87.5 86.3l-.7-.6-.9 1.1 1 .3 .7-.2zM137.5 63.1l-.1-.6-2.5-1.2-.9 .3 1.8 1.6 1.3 .2zM134.8 57.7l0 .2 1.6 1 .5-.2-.1-1.1-.6-.4-.8 .2zM60 128.8l-.1 .1-.4 .6 .5 1.2 1.4-1-.5-.7zM87.5 84.3l.4 1.5 .9-.3-1-1.2zM123.3 81.9l0-.2-2.1-1.4-.3 .4 .3 2 .8 .2zM164.1 34.7l-.5-.6-1.1-.1-.1 1.1 .5 .2zM140.4 45.6l.4 .5 .7-1.1 0-.2-1-.1-.4 0zM92.6 78.3l-.3-.3-.7-.6-2.8-.7-1.1 1.3 .8 .6 2.9 .5 1.2-.6zM145.5 54.2l.4 0 1.9-1.2-1.1-.9-.2 0-.9 1.3-.2 .5zM176.1 55.8l-.9 1.9 0 .1 1.2 .6 .1-.2-.1-2.1-.2-.3zM161.1 39.6l.6 0-.2-1.5-.1-.1-.5 .2-.4 .3-.1 .4zM118.4 87l-.4-1.2-.4 0-.4 .4 .1 1.3zM141 56.6l-1-1.9-1.6 1.1 .2 .3z"/><path fill="#ffc9c9" d="M107.5 81.5l.5-1.5 0 0-1.4-.6-.4 .8-.4 1.1 .7 .6zM101.6 86.9l-.7 .6-.5 .8 1.5 .3 .3-.2-.5-1.5zM92.7 74l-.2 0-.2 4 .3 .3 .6-.6 .8-1.9zM88.8 110.8l-.4 0-1.2 .6-1.1 1.3 1.6 .6 .9-.2zM97.6 75.8l.3-.1 .5-1.1 .1-.5-.2-.4 0 0-.6 .5-.4 1.3 .2 .2zM135.9 50.6l.5 1.2 .3-.3 .2-1.2zM180.9 55.5l-.1-.1-3.3-.9-.8 1zM155.5 62.6l1.6 2.9 .4 0 .3-.2 1.2-1.2-1.1-1.4-1.1-.4zM169.3 39.7l-1-.9-1.9 1.2 0 .7 .8 .8 .7 0zM134 50l-.2 .4 .2 .2 1.1 .6 .5-.6-1-1zM165.6 41.4l-.1 1.6 1.7-1.5-.8-.8-.7 .4zM131.4 58.3l1.3 .1-.2-1.1-1.4 .1 0 .3zM203.5 49.4l.2 .1 2.6-.8-.7-2zM155.9 41.4l-1.6-1.1-.1 .1-.2 0 1.2 1.2 .5-.1zM85.3 86.8l.6 0 .9-1.1-.8-1.2-.6 .1-.4 1.9zM139.8 46.2l.2 .3 .8-.3 0-.1-.4-.5-.7-.4zM117.2 54l.7-.3-.4-2.5-.6-.5-.2 .2-1 .9 0 .6zM74.7 95.3l-1 .2-.6 2.7 2 .8 .5-2.6-.7-.9zM73.9 83.7l-.6-.8-.6-.2-.4 .2-.7 1.1 0 .1 2.2 1.3 .2-.2zM63.5 115.2l-1.9 1.2 .1 .5 2.4-1.5zM150.9 65.9l1.4 .1 .4-1.1-.7-.4-.5 .4zM174.8 44.9l-.2-.3-.6-.4-1.7 .7 .9 1.4zM135.1 51.2l.1 .4 .8 .7 .3-.1 .1-.4-.5-1.2-.1 0-.2 0zM141.3 43l1.5-.5-1.4-1.4-.3 .1-.3 0-.1 .6-.1 .6zM170.3 46.6l-.8 .5 0 .5 1 .4 .3-1.2zM182.9 141.8l-1.5-.3-.7 1.1 1.1 .6zM152 62l-2.8 .5 0 1.4 .5 .4 1.5-.7 1-1zM142.3 56.7l1.4 2.2 .9-.5 0-.1 0-.2-1.7-1.5zM69.9 93.3l1.6 1.5 2.2 .7 1-.2 .6-1.6 0-.6-.6-2.1zM83.6 106.4l.7-.2 1.1-1.2 .1-.3-.8-.5-1.1-.3-1.7 1.5 0 .3zM140.7 41.8l-1.8 .3 1.3 .6 .4-.3zM123.8 47.7l-.6-.1-.3 2.1 1.1 .6 .1-2zM187.4 69.9l.2-2.7-1.6-.7-1.2 .7 .3 2.1 .4 1 .8 .5zM184.3 61.9l.1 .3 1.5 .9 1.1-.5-1.5-1.9-1.1 .2zM92.1 92.4l-.3-.6-2.6 .9-.2 .3 0 .3 .1 .2 .4 .2 .2 0 .9-.1zM120.2 47.9l-.6-.3-2.3 1.9-.3 1.1 3.8 0 .1-1.1zM106.5 81.9l-.7-.6-.1 0-.6 2 .1 .2 .2 0 1-1 .2-.4zM151.1 78.2l-2.2 3.7 3 .4 1.1-.7 .3-.6zM61.4 129.7l-1.4 1 0 .6 2.1-1.3zM173.7 56.8l.4-1-2.5-1-.6 .4 1.6 2.3 .5 0z"/><path fill="#ffc6c6" d="M89.3 96.4l.2 0 .9-.5-.4-.5-.8 .2-.2 .5zM95.7 94l-.2-.5-1.2-.1 1 .8zM189.9 38.9l-1.4-1-.6 .2 1 1.6 .6 0zM126.4 66.2l-.6-.5-1.7 .4 0 .1 1.5 2zM163.5 54.6l.1 .5 .7 .6 1.3-.3 1.3-1.3-.1-.2-.9 0-1.6-.1zM182.3 143.7l-.5-.5-1.1-.6-.1 0 .1 1.7 .1 .1 1.7 .1zM196.1 49l.9-1.5-1.1-1.1-1.6-.1-.7 1 .1 .3zM139.4 77.3l1.4 1.5 .5 .1 .8-1.3 .1-.1-.2-.3-2.2-.9zM89.3 83.7l-.2 .4 1.2-.5 .1-.1zM149.2 73.8l-.5 .7 .1 1.6 1.2-.3zM181.6 148.7l1.8-2.1-.4-.8-2.1 1.7 .4 .5-.1 .9zM136.2 57.2l.6 .4 1.6-.3 .2-1.2-.2-.3-.1-.1-1.4-.2zM124.9 63.3l0 1.1 1 1.1 1-2.7-.1-.2-1-.2-.7 0zM77.7 92.3l.6 1.1 1.6-1.4-1.1-.7-1 .5zM136.7 51.5l-.3 .3-.1 .4 .6 .5 .8-.1-.1-1.4-.2 0zM200.5 69l.6 .1 .3 0 1.8-.4-.5-2.3-2.3 2zM125.9 44.7l.8 .1 .1 0 .1-1.5 0 0-.7 .2-.1 0zM149.2 62.5l-1-1.4-.2-.1-1 .5-.6 1.8 .3 .6 .4 .8 0 .1 2.1-.9zM191.9 62.7l-1.8-2.6-.8 1.2 1.3 3.5 .1 0 .3-.3zM90.3 66.1l-1.3 1.3 .3 .4 2 .4-.5-1.3zM144.6 70l-1-.9-.6 .1-.2 .9 0 0 1.7 .8 .1-.2zM67.7 111.6l-.3-.2-1.5 .9 1.3 .6 .3-.1zM137.4 49.5l-.2-.5-1.2 .1-.2 1.5 .1 0 1-.3 .2-.2zM153.6 67.9l-3.6-.9-.1 .1 0 .4 .1 .6 1.4 .8z"/><path fill="#ffc3c3" d="M145.2 72.2l.2 1.3 1 .4 1.1-1.4-1.3-.6zM135.7 46.1l-.8-.2-1.3 1-.2 .8 1.7 1.1 .6-2.6zM140.8 41.2l-2.5 .3 0 .4 .6 .2 1.8-.3zM65.6 109.6l-1.4 .3 0 .5 .1 .4 .8 1.4 .8 .1 1.5-.9 0-1zM111.7 77.7l-.8-.6-.4-.1-.7 .2 0 .1 1.9 1.2zM62.1 114.7l-.4 0-.7 1 0 .2 .5 .1zM153.4 47.6l1.4-1.1 .1-.5-.3 0-1.2 .2-.4 .9zM155.9 69.2l.4-3.5-.4 0-.8 .3-1.3 1-.2 .9 .8 1.7zM171.7 45.9l-.1-.7-1.8 .1 .5 1.3 .5 .2 .4-.1zM92.8 97.5l-.4 .6 0 1.5 .7 .1 .9-1.9zM85.4 88.5l.6 0 .4-.3 .5-1.1-1-.3-.6 0zM128.3 75.1l-.2 .5 .2 .9 .8-.1 .2-1.2zM76.9 95.2l-2 .3 .7 .9 1.1 .5 1.5-.4 .4-1.2zM54 128l.3-.2 .3-.9 0-1-.1-.1-1.9-.7-.9 2.3zM107.8 54.2l.7 .4 .9-.6-.5-.9-.2-.2-.2 .1zM61.3 120.3l-1.7-.4-.9 .9-.1 .1 0 .1 2.2 .9 .9-1.5zM160.9 63.5l-.5-3.5-.4 0-.9 .5 .2 3.5 1.2-.1zM89.2 92.7l2.6-.9-.3-1-.3 .2-1.8 1.5zM105.8 81.3l.4-1.1-1.5-.1-.2 .3 .8 .9 0 0 .4 0zM166 63l-.6-.4-1.4 .2 0 2.8 .7 .4 1.5-1.5zM104.1 80.9l-.1-.1-1.5 .7 0 0 1 .2 .5-.3zM167.4 46.7l-1.5-.2-.6 1.1 .6 .4 .4 0 1.2-1.2zM169.4 34l-2.1-2.8-.3 0-.5 .4 .1 .5 .5 .8zM162.8 61.7l-.3-.6-1.5-1.6-.6 .5 .5 3.5 1.9-1zM163.9 47.3l.6-.2-.4-1.4-.9 0-.1 .4 .5 1zM108.8 80.7l-.2-.3-.6-.4-.5 1.5 .1 .1 .9 .1 .5-.3zM179.5 53.6l1.2 1.6 .4-3.2-1.3-.5zM163 37.8l.1-1-1.7-.4 .2 1.3zM184.5 150.5l.2 2.3 1.9-3-.1-.2zM147.1 69.5l1-.1-.3-.6-1-.1zM155.7 41.5l-.5 .1-1.2 .4 .6 1.5 .5 .1 .1-.1zM107.5 48.1l.3 .1 0-.1-.1-1.1-.5-.1z"/><path fill="#ffc0c0" d="M134.1 52.1l-.2-.1-.2 .2 .1 .6 1.1 1 .2-.3 .3-.7zM165.1 39.1l-.3-1.6-.3 0-.6 .5 1.1 1.3zM59.6 119.7l.3-.8 .2-.8-.1-.1-.9-.2-.7 .7 .5 .6zM90.4 97.3l.4-.7-.1-.6-.3-.1-.9 .5zM122.3 59.2l-.8 .7 .5 1.2 .4 .1 .6-1.3zM176.4 47.7l-1.4 1.7 1.2 .8 .1 0 .7-1.5 .1-.6zM182.1 41.4l1 .8 .6-.1 .3-.3 .5-2.3-.6-.6-2 .6zM57.5 124.7l0-.1 0-.4-1-.6-1.5 .1-.1 .7 1.8 .8zM142.8 52.7l1.2-.7 .2-.4-2.7-.2-.8 .7 0 .2zM144.5 64.6l0 1.1 .2 .2 2.4-1.2-.4-.8zM150.5 66.1l.4-.2 .6-1-.1-.5-.2-.8-1.5 .7zM88.7 102.4l.1-.1-.1-1.1-1.7-.9-.6-.1-.1 .2 1 2.3zM167.9 60l-.8 .2-1.5 1.5-.2 .9 .6 .4 .7-.1 .8-1.3zM109.3 89.3l-.3-.8-.4-.5-.9 .1-.8 .8 1.5 1.7 .9-.3zM93.2 57.5l-.8-1.4-2.5-.9-.5 1.3 3.5 1.4zM211.2 51.8l-1.5-2.1-.1 0-.1 .1-.6 3.7 1 1.3 .8-.1 .6-1.4zM143.1 54l-.3-1.3-2.1-.4 0 .1 0 1 2.3 .9zM182.7 145.2l.3 .4 2.4-.4-.1-.9-1.5-.2-1.1 .7zM161 59.5l1.5 1.6 .5-1.7-2-.1zM120.8 51l0-.4-3.8 0-.1 .1 .6 .5 .2 .1 2.6 .5zM137.8 61.9l.2-1.3-.1 0-.7 1 .4 .4zM163.6 47.1l-.5-1-.4 .5 .3 1 .3 .1z"/><path fill="#ffbdbd" d="M105.7 47.6l.9 .7 0-.1-.1-1.3-.4-.1-.1 0zM140.9 69.1l-1.5 .6 1.2 1.6 1.6-1zM173.1 57.5l-.5 0-.6 .3-.7 2.1 2.7 .1-.1-.7zM161.8 72.4l-.9-.6-.8 .9 .4 .6 1.6-.3 0-.1zM76.6 105.9l.3-1.4-1.4-.1-1.3 1.4 0 .4 .5 1 .2 .1zM58.7 120.8l.9-.9 0-.2-.7-.6zM68.7 111.6l0-.4 0-.4-1-.5-.3 .1 0 1 .3 .2zM121.1 66.8l-1.5 .6 0 .3 1.6 1.3 .2-2.1zM171.7 45l-.7-2.3-.7 .4-.9 1.3 .3 .9 .1 0 1.8-.1zM56 121.7l.6 .5 1.5-.4 .1-.4-1.3-.5zM156.1 41.3l.2-.3-1.2-1.7-.8 1 1.6 1.1zM163.8 36.1l-.9-.8-.5-.2-1.2 1 .2 .3 1.7 .4 .7-.3zM135.2 44.1l-.7 1.3 .4 .5 .8 .2 .9-.7-.1-.5-1.2-.9zM96.8 70.4l-1.1-1.3-1.7 1.3 0 0 2.7 .9zM140.5 44.7l1 .1 0-.1-1-1zM125.6 59.5l1.3-.5 .1-.4-1.5-1.3-1.4 .5-.1 .2 .8 1.3zM134.6 49.6l1 1 .2 0 .2-1.5-.9-.3zM167.4 45l-2.1 .1-.1 .2 .7 1.2 1.5 .2 .2-.6zM138.1 44.8l-.4 .5 .4 .6 1.7 .3-.1-1 0-.2zM165.2 35.8l2.3-.2-1.3-1.4-1.6 .9 .1 .4zM103.5 70.9l1.9-2.3-.2-.5-2.2 1.2 .1 1.5zM162.8 29.3l-1.7 .7 .8 1 2.3-1.3-.1-.2zM154.6 43.5l-.7 .7 .5 .5 .9-.7 0 0-.2-.4zM142.2 63.2l.1-.1 0-.4-.8-1.8-.2-.1-.7 .4-.3 1z"/><path fill="#ffbaba" d="M88.1 96l.9 .1 .2-.5-.5-1.4-1 1.2 0 .1zM187.2 38l-.9-2.3-1.1 .6-1.5 1.5 .1 .6 .1 .5 .6 .6 1.9-.4zM163.9 47.3l-.3-.2-.3 .6 .5 .5zM152.3 46l-1.6 .3-.4 1.1 .2 .2 2-.7zM114.3 74.1l-1.8 .2-.9 .3 .1 .6 .3 .4 .7-.2 1.8-.8zM165.9 48l-.6-.4 0 .1-.3 .3 0 1 1.2 1.3 0 0zM189.2 43.7l.7 2 1.2-2.5-.5-.3zM89.7 100.2l-2.7 .1 1.7 .9zM113.9 78.3l.4-.6-.2-.9-2-.3-.4 1.2 0 .8 0 0zM90.3 83.6l-1.2 .5-.2 .2 .9 1.3 .1 0zM72.5 88.6l-1.3 .4-1.2 3.5-.3 .8 .2 0 4.8-2.3 0-.1zM82.3 107.9l-.8-.8-1.3 1.7 .1 .3 1.4 .7zM140.7 53.4l0 .1 0 .2 .8 1.3 1.2-.5 .3-.2 0 0zM183.4 142l-.1 .8 .5 .5 0 0 1.3-.6-.1-.5zM59.3 128l.6 .9 .1-.1 .4-.9-.4-.4zM128.5 57.1l.6 .3 1.7-.2 .1 0-.3-1.3-.3-.2-.4 .1zM183.9 150.4l-1.1 .6 0 .6 1.8 1.8 .1-.6-.2-2.3zM56.9 120.9l1.3 .5 .4-.4 0-.1-1-1.7 0 0-.9 1.2zM168.3 47.1l.9-.2-.2-1.1-.1 0-1.3 .3-.2 .6 .1 .1 0 0zM165.5 43l0 0 .1-1.6-1.7-.6-.2 .9 .1 .3 1.3 1.1 .2 .1zM98.5 91l.5-.4-1.1-1.1zM61 115.9l0 .3 .6 .1-.1-.3zM188.9 50l-2.1-.1-.2 .3 .9 2.4 1.4-.8 .1-1.6zM109.5 84.2l-1.7-1.5-.5 .2-.4 1.3 .2 .2 .4 .3 1.9-.4 .1-.1z"/><path fill="#ffb7b7" d="M80.7 91.8l1.6 2.4 .7-.1 .3-.4 0-.4-.4-1.2-.5-1-.5 .1-.9 .1zM178.9 59l1.2-.4 .7-2.9-2.8 1.2 0 1zM128.4 57.1l.1 0 1.4-1.3-.4-.6-.7-.2-.9 .1-.4 .2zM97.8 96.2l.7 2.2 .3 .3 1.5 .1 .8-.9-.2-1.7-2.6-.4zM169.6 57.5l-.1 1.8 1.1 .8 .1 0 .6-.2 .7-2.1zM152.7 41.1l-.3-.7-1.7 2 0 .3 .4-.1zM184.4 60.9l-1.2-.3-1.1 2 .1 .2 2.1-.9 .1-1zM94.7 121.9l-.6-.1-1.7 1.9 0 .3 1 1.2 .6-.3 1-1.1-.3-1.8zM86.1 90.5l0-.4-.9-.7-.5 .9 .1 .3 1 .2zM61 115.7l.7-1-1-.4-.8 1.3zM159.8 72.7l.3 0 .8-.9-.1-.1-.9-.4zM178.5 53.2l-.1-.1-1.4 .4-.1 .1 .6 .7zM60 118l.7-1-.1-.4-1-.8-.7 .1 .1 1.6 .1 .3zM125.4 43.6l-.5 .4 .3 .9 .7-.2 .2-1.2zM203 98.3l-.9-2.4-1.9 1.7 0 0 1.5 .9zM112.5 74.3l1.8-.2-.4-.8-.4-.4zM82.2 110.1l.6-1.8-.5-.4-.6 1.9zM128 68.4l1.5-2.2-.7-.5-1.4 .5-.1 1.9zM136.9 50.3l-.2 1.2 .7-.3-.3-1.1zM107.8 78.2l-1.5 .5 .3 .7 1.4 .6 .3-.4 .2-.6zM139.7 45l0 .2 .7 .4-.3-.9 0 0zM151.1 42.6l-.4 .1 0 .1 1.2 .9 .9-.3 0-.5zM182.5 57.7l-1.1 2.1 .3 0 1.3-1.6zM164.6 35.1l1.6-.9-.1-.2-.4-.3 0 0-.9 .1-.4 .9z"/><path fill="#ffb4b4" d="M151.9 69.7l-.5-.6-.7 1.6 .2 1 .5-.3zM184.9 147.8l-1.5-1.2-1.8 2.1 1.9 0zM144 55.6l-.5 .5 1.3 1.4 .7-1.1-.1-.2-.6-.8zM178.7 137.3l.1 .1 1-.1 .7-1-.7-.7-.5-.1-.7 1.1 0 0 .1 .6zM91.7 114.9l.6-1.3-.4-.6-.1-.2-1.3 .5 .5 1.2zM121 64.7l-.6-.5-.1 .2 .2 .8zM166.6 37.6l-1.8-.1 0 0 .3 1.6 .8-.3zM159.9 32.5l.3 .6 .6 .4 1.3-.6 .2-.7 0 0-2.1-.1zM107.8 78.2l.7 .8 .4-.7-.5-.5 0-.1zM87.4 69l-.7 .7-1.8 1.8 1.9 1.3 2.9 .2 .1-.8-1.3-2.5zM161.6 40.8l.4-.9-.3-.3-.6 0-1.1 .4 .2 .1zM192.6 49.9l.5 1.5 2.3 .9 .7-.8-.3-1.5-2.3-1.1-.9 1zM196.2 39.6l0 1.9 .1 .4 .8 .4 1-2.6-.1-.2-1.1-.6z"/><path fill="#ffb1b1" d="M138.3 53.5l0 .5 .1 .2 2.3-.7 0-.1 0-1zM141.9 63.7l-2.1-.1 1.8 1.1zM91.1 94.1l.1 .2 .5 .6 .5 0 .5-.3 .1-.8zM163.5 38.7l-.4 .2-.8 1 1.6 .8 .5-.6zM157 43.8l.3 1.3 .7 .2 .6-.1 .1-1.6-1.2-.1zM159.4 35.9l.9-.2-.1-1-.9-.5-1-.3-.2 1zM150.1 47.4l-2 1.2 .4 1.6 1 .7 1 .1 .8-2-.8-1.4-.2-.2zM140.2 42.7l-.4 .8 .7 .1 .7-.4 .1-.2-.7-.6zM187.5 63.3l-.1-.6-.4-.1-1.1 .5-.9 .8 0 .2 1.1 2 1.3-1.8zM139.6 58.5l1.5-1.9-.1 0-2.4-.5-.2 1.2 .3 .9 .5 .3 .3 0zM82.6 89.4l-1 .1 .3 1.7 .5-.1 .3-.3 .3-.7zM175.2 53.9l-.2-1.5-.2-.3-.9-.4-1.1 2.2 2.2 .6zM168 29.2l0 0 .3 .2 .9-1.2-1.1-.5zM141.5 45l2 1.3 1.8-.2 .1-.3-.3-1.1-1.5-1.6-2 1.3-.1 .3 0 .1z"/><path fill="#ffaeae" d="M212.4 52.1l-1.2-.3 .1 1.5 1.5-.5zM183.3 142.8l.1-.8-.1-.2-.4 0-1.1 1.4 .5 .5zM78 83.7l.2 0 0-.9-1.8-.5 0 0zM177.7 47.8l.2-.7-.6-1.7-.8-.5-1 .4 .2 1.7 .7 .7 .7 .4 .3-.1zM139.3 63.4l.1-.4-1.4-1.1-.2 0-.2 .1-.2 .5 .1 .6 1.6 .5zM154 80.6l1.5 .4 1-1.3-.2-.4-1.7-.1zM89.4 92.5l1.8-1.5-1.7 .6zM188.6 37.8l1.2-.4-.1-.5-.8-.7zM159.8 39.9l-.1-.3-.9-.6-.2 0-.3 .7 .5 1.2 .7-.5zM191 54.7l-1.6 3 .7 1.6 .1 .2 1-.2 .9-3.3zM132.1 49.4l-.1 .2 .6 1.1 1.2-.3 .2-.4 0 0-1.5-1.2zM85.6 95.5l.3-.8-2.2 .3 .2 1.2 .1 .1zM159.3 71l-.1 0-1.1 1 .5 1.5 1.2-.8 .1-1.4zM145.2 54.7l.3-.5-.1-.3-1-.7-.6 .6 1.3 1zM164.4 59.5l-.4-.7-1 .6-.5 1.7 .3 .6zM79.9 85.7l-.5 .4 .3 .7 1 .4 .8-.6 0-.4zM160.3 41.9l.4-.2-.5-1.6-.2-.1-.2-.1-.3 .5zM185.3 144.3l-.1-.6-1.4-.4 0 0 0 .8z"/><path fill="#ffabab" d="M110 59l-.6 0-.3 .8 .7 1.3 .8 .3 0-1zM54.4 131.6l-.8-.5-.1 0-2 2.3 1 1.5 .6-.2 1.6-.4zM113.1 86.8l0-1.4-1.3 .7 .8 .6zM163.7 41.7l.2-.9 0-.1-1.6-.8-.3 0-.4 .9 0 .6zM159.3 58.2l-.6-.2-.9 0 .7 1.1 .3-.1zM52.1 130.5l-.5-.4-1.6 .8 .4 .8zM163.2 67.4l1.3 0 .4-.6-.2-.8-.7-.4-1.4 .2 .2 .9zM153.8 67l-1.1-.8-.4-.2-1.4-.1-.4 .2-.5 .9 3.6 .9 0 0zM108.3 79.6l2.6-.5-1.3-.9-.7 .1-.4 .7zM107.2 76.2l-.4 0-.3 .3-.3 2.1 .1 .1 1.5-.5 .6-.5-.1-.1zM166.8 30.6l.2 .6 .3 0 .4-.1 .1-.2 .1-.4-.4-.7zM186.5 47.6l.3-.8-.8-.9-1.6 .3-.5 .5 .3 2 .4-.2zM175.1 55.1l-.1-.6-2.2-.6-.9 .2-.3 .7 2.5 1zM153.4 47.6l.5 .6 1.4-.6-.5-1.1-1.4 1.1zM197.3 66l-1-2-.2 0-2.1 3.9-.1 1.1 .2 0 2.8-2.2zM163.8 48.3l1.2-.3 .3-.3-.8-.6-.6 .2-.1 .9zM150.7 42.4l-.3-.5-.3-.3-1.5 .2-.1 .1 .4 1.5 .8 .3 1-.9 0-.1zM156.3 43.9l.4-.2-.3-.8-.6 .5zM123.3 68.2l.6-1.6-2.1 .2 0 0z"/><path fill="#ffa8a8" d="M93.7 50.2l-.1 .1-1.9 1.9 1.6 1.9 2.9 .5zM108.5 81.7l-.9-.1 .3 .8 .6-.1zM173.1 47.9l1.1 .1 1.5-1-.2-1.7-.7-.4-1.6 1.4-.1 .1zM159.9 45.8l.4 0 1.2-1.3-2.2-1.8-.6 .9-.1 1.6 .7 .4zM212.8 52.8l-1.5 .5-.6 1.4 1.9 .6 1-1.7-.1-.4zM154.4 60.5l.1-.4-.4-1.5-1.9-.1 0 .2zM143.6 60.1l-.3-.6-1.3-.2-.7 1.3 0 .2 .2 .1 .1 0 1.9-.4zM144.8 61.6l1-.5-.4-.6-1.8-.4-.1 .4 0 .7zM80.6 78.6l-.2 .8 0 .1 1.1 .6 1.2-.1 2.2-1.8-.5-.4-3.1-.1zM115.5 66.2l-2.2 .5 2.8 1.7 .2-.2 .2-1.1 0-.1zM99.3 71l.2-.5-.3-.3-.9 .3-.1 1.2zM124.1 48.3l-.1 2 .2 .3 .5 .1 1.2-2.1zM176.9 53.6l.1-.1 .2-1.4-2.2 .3 .2 1.5z"/><path fill="#ffa5a5" d="M182.7 144.8l1.1-.7 0-.8-.5-.5-1 .9 .2 .8zM162.7 46.6l.4-.5 .1-.4-.8-1.1-.6-.2-.3 .1-1.2 1.3 .9 1.5 .2 0zM191.3 50.3l1.3-.4 0 0-2-1.7 0 1.7zM110.7 80.5l.2-1-2.3 .9 .2 .3zM190.5 50.9l.5-.1 .3-.5-.7-.4-.3 .8zM148.5 41.9l-.7-.3-1.2 1.3 2.3 .6 0-.1zM152.9 71.8l1.6-.8-.2-1.3-.9 .3-1.5 1.3zM180.5 136.3l1.6-.5-1.2-1.6-1.1 1.4zM197.3 43.8l.4-.6-.2-.6-.4-.3-.8-.4-1.7 .5-.2 .4 .1 1 2.3 .5zM159.6 33.3l.6-.2-.3-.6-1.4-.1 0 .1zM143.5 42.7l.1 .4 1.5 1.6 .8-1.4-.1-3.1-1.5 .3zM100.9 74.5l1 .2 .3-.5 0-.4-.7-1.5-.3-.3-1.2 .9-.1 .4 .5 .9zM160 55.5l-.2-.1-1.3 0 .8 1.2 0 0 .4-.2zM182.3 66.6l-1.8-2-1.1-.1 1.1 2.5 1 .1zM86.7 84l-.2 0 0 0-.5 .5 .8 1.2 .7 .6 .4-.5-.4-1.5z"/><path fill="#ffa2a2" d="M114.1 61.7l-1.2-1-.5 .5-.3 .6 .7 2.1 .7 .4 .6-.2 .3-.2zM107.5 84.7l-.2 .9 0 1.9 .4 .6 .9-.1 .4-.4 .4-3.3zM136.3 43.2l.2 1.7 .1 .5 1.1-.1 .4-.5 .3-1.3-.2-.6zM79.9 95.2l.9-.4-.6-1.4-1.8 .4 .4 1.2zM141.5 51.4l2.7 .2 .1-.2 .1-.2-.3-.3-1.8-.2-.1 0zM165.5 70.3l-.1-1.2-.8-.3-.6 .4 .2 1 1.3 .1zM89.7 93.7l-.2 0 .5 1.7 .4 .5 .3 .1 .2-.1 0 0-.2-.9zM95.3 76.1l-.2 0-.3 1.2 .3 .6 .8-.8 0-.5zM157.8 58l.9 0 .3-1.2-1.8 .6 .1 .4zM117.2 86.2l.4-.4-.9-.6-1.1-.1 1.5 1.1z"/><path fill="#ff9f9f" d="M88.7 94.2l.4-.7-.1-.2-1.2-.2-1.4 1.3 1.3 1zM162 43.6l1.8-1.6-.1-.3-2.1-.3-.2 .2zM153.9 48.2l-.5-.6-1.4 1.4 1.2 .7 .9-.8zM148 61l-.2-.8-1.2-1.3-1.1 .5-.1 1.1 .4 .6 1.2 .4zM119.6 71.2l-1.7 .4-1.3 1.6 0 1.5 1.9-.1 .7-.2 .6-3.1zM135.9 65l-2.2 1.4 .5 .4 2.6-.9-.4-.9zM168.1 56.5l-.6-1.7-.6-.7-1.3 1.3 .2 .5 .1 .1 2.1 .5zM161 64.8l-.5-.9-1.2 .1-.3 .1-1.2 1.2 2.5 2 .2-.4zM125.7 68.5l1.6-.4 .1-1.9-1 0-.8 2zM182.1 62.6l-1.6-1-1.6 .6-.3 1.4 .6 .9 .2 0 1.1 .1 1.8-1.2-.1-.6zM181.9 39.5l2-.6-.1-.5-3 .1 0 .1-.1 .1zM76.7 96.9l1.1 3.3 1.4-.7 .8-.5-1.8-2.5zM164.2 29.7l-2.3 1.3 .4 1.2 0 0 1 0 1.3-1.8 0-.4zM108.8 82.6l.5-1-.3-.2-.5 .3 0 .6zM115.6 85.1l-.3 0 0 .1 1 1.5 .8-.5zM157.1 42.3l-.7-.5 0 1.1 .3 .8 .3 .1 .5-.3zM144.8 55.4l.6 .8 1.7-.8-1.9-.7-.1 .1zM119.6 67.4l-.5-.9 0-.1-2 2 1.2 .5 1.3-1.2z"/><path fill="#ff9c9c" d="M133.6 61.5l.4 .1 .9-.3 .6-.3 .7-1 .2-1.1-1.6-1-1.1 2-.2 1.4zM91.6 77.4l-.4-3.6-1.2-.3-1.2 3.2zM163 47.6l-.3-1-1.3 .7 1.1 .7zM137.6 49.6l-.2-.1-.3 .6 .3 1.1 .2 0 0 0 .6-.8zM181.9 47.7l-.6 .4-.5 1.1 .1 .5 1.1 .9 1.6-.6 .1-1.1zM150.5 53.4l-2.5-.1 0 .7 2.2 .7zM180.8 145l-1.2 1.3 .7 .7 1.1-1.5zM124.4 43.1l-.1 .4 .6 .5 .5-.4 .2-.8-.1-.6-.2-.1z"/><path fill="#ff9999" d="M141.5 48.2l.7-.2 1-1.5-1.7 .3-.4 1.1zM105.8 69.2l-1.1 2.1 1.3 1 2.5-.9zM166.3 48l-.4 0 .3 2.3 .7 .1 .6-1.5zM61 116.2l-.4 .4 .1 .4 .9 .1 .1-.2-.1-.5 0-.1zM170.4 49.7l-1.2-.6-.5 .9 1.2 .1zM190.4 64.8l.2 0-1.3-3.5-1.9 1.4 .1 .6zM175.2 57.7l-1.5-.9-.6 .7 .8 1.8 1.3-1.5zM58 123.5l2 0 .2-.4-2.1-1.2z"/>
<use href="#net" stroke="#000" stroke-width="0.2"/>
<g fill-opacity="0.8"><path fill="#ff9696" d="M164.8 40l.9 1.1 .7-.4 0-.7-.3-.1zM201.6 102.3l.2 .6 5.1-2.8-1-1-2.9-.8-1.3 .2zM175.1 55.1l-1 .7-.4 1 1.5 .9 .9-1.9zM129.4 46.3l1.4-1.2-.3-.4-2.1-.5-.5 1zM120.5 79l-1.9-.7 .9 2.8 1.4-.4 .3-.4 .2-.6-.2-.3zM113.3 55.6l-1-.5-1 .5 .2 1.7 .4 .2 1.9-.6zM91.3 86.7l1.2 .7 2.2 0-1.2-2.1-.1 0zM166.1 39.9l.3 .1 1.9-1.2-.8-1.4-.9 .2-.7 1.2zM180.8 145l0-.6-.1-.1-1.7 .5-.1 .7 .7 .8zM172.3 44.9l1.7-.7-1.1-1.9 0-.1-1.6 0-.3 .5 .7 2.3zM168.5 62.7l1.2-.2 .1-.8-1.3-.5-.1 .4z"/><path fill="#ff9393" d="M153.3 41.9l-.6-.8-1.6 1.5 1.7 .3zM182 47.4l-.2-1.3-1.9-.5-.1 0-.3 .6 .1 .9 1.7 1 .6-.4zM157.5 65.5l-.4 0-.8 .2-.4 3.5 1 .3 .2-.1 1.3-1.3zM140 46.5l-.2-.3-1.7-.3 .2 1.5 1.3 0 .2-.1zM155.8 43.4l.6-.5 0-1.1-.3-.5-.2 .1-.2 .1-.5 2zM94 75.8l-.8 1.9 1.6-.4 .3-1.2z"/><path fill="#ff9090" d="M181.3 37.5l.3-.3-.6-.6-1.2 .3zM175.6 40.4l0-2.1-.7-.1-1 .1-.1 .6zM186.6 50.2l.2-.3-.3-2.3-1.9 .9 1.3 2zM154.3 69.7l.1-.1-.8-1.7 0 0-2.2 1 0 .2 .5 .6 1.5 .3zM179.2 43.4l-.7-.8-1.3 .5-.4 1.4 2.1-.2zM126.9 43.3l-1.4-1.1 .1 .6 .6 .7zM161 58.3l-.9-.3-.9 1.3 .8 .7 .4 0 .6-.5 0-.2zM182.8 151.6l-1.6 1.3 1.6 1.6 2.1 0 0-.2-.3-.9zM179.3 135.5l-.5-1.4-1.2 .6 1 1.9zM145.9 54.2l1.9 .8 .2-1 0-.7-.1-.2-.1-.1z"/><path fill="#ff8d8d" d="M164.8 40l1.3-.1-.2-1.1-.8 .3-.1 .2-.3 .6zM142.9 56.6l1.7 1.5 .2-.6-1.3-1.4zM110.9 88.7l-1.9-.2 .3 .8 1.5 .7 .4-.1-.1-1.1zM150 68.1l-.1-.6-1.8 .6-.3 .7 .3 .6 .4 .3 .6-.2 .6-.6zM70.4 111l-.2-.9-.6-.1-.9 .8 0 .4zM119.6 67.7l-1.3 1.2 1.3 2.3 .2 .1 1.1-.2 .5-1.7-.2-.4zM200.6 50.7l.2 0 .2-.2 .6-.8-2.3-2.4-.5-.2-.7 .3 .9 3.2 .6 .1zM57.7 127.5l-.7 1.3 .1 .1 1.6 .6 .8 0 .4-.6-.6-.9-.7-.7-.7 0zM110.5 58.8l1-1.5-.2-1.7-.8-.2-.5 .4-1 2.7 .4 .5 .6 0zM95.9 77.1l-.8 .8 0 .8 1.5-.5zM137.6 51.2l1.2 .7 1.2-.5-.8-.5-.8-.4-.2-.1zM170.5 65.6l-.8-1.6-.5 .4-.1 0 .3 1.9 .8-.1 .2-.4zM155.9 75.9l1.1 1.3 1.4-1.1 .7-1.3 0 0-.3-.3zM82.5 87.9l-.8-1.2-.2-.1-.8 .6-.4 1.3 .5 .3 1.7-.6 0 0zM138.5 61.5l-.5 .4 1.4 1.1 0 0zM92 117.9l-.7-.7-2.5 1 .1 .3 2.9 .7zM62 119l-1.9-.9-.2 .8 1.4 1.4 .4 .1 .5-1z"/><path fill="#ff8a8a" d="M60 130.7l-.5-1.2-.8 0-.3 1.4 .4 .4 .8 .2 .4-.2zM146.4 57.2l-.1 .7 .1 .1 1-.1zM169.8 61.7l.8-1.6-1.1-.8-1.3 .6 0 0 .3 1.3zM135 43.8l-.5 .1-.6 .9 .6 .6 .7-1.3zM151.4 57.2l0-.2-1.2-1.9-2.2 .4 0 .9 .3 .5 2 .8zM172.6 48.3l.5-.4 0-1.5-1.4-.5-.5 .8zM195.6 63.8l.5 .2 .2 0 1.9-1 0-.1-.2-1.3-.9-1.4-.6-.2-1.3 .9-.4 2.2zM190.9 69l1.8 1 .4-.1 .8-.9 .1-1.1-1.5-2-1.1-.2-.7 3.1 0 0 .1 .1zM67.2 112.9l-1.3-.6-.8-.1-.5 3.3 .4 .3 1-1.2 1-.4zM160.3 45.8l-.4 0-.8 2.3 1.5 .5 .3-.4 .3-.9zM111.8 71.2l-1.3-.4-.1 .1 .2 1.5 1 2.2 .9-.3 1-1.4zM207.4 50.2l.3-.2-1.4-1.3-2.6 .8 .6 .7zM155.5 62.6l1.3-.3-.4-1-1.2 .3 .1 1zM85.9 92l-.1-1.2-1-.2-.3 .9 0 .1 .1 .2 1.2 .5zM129.4 48.3l-.1 0-.1 .2 .2 1.3 1.5 .1 1.1-.3 .1-.2-1.3-1zM104.8 78.7l-.1 1.4 1.5 .1 .4-.8-.3-.7-.1-.1z"/><path fill="#ff8787" d="M58.4 118.5l-.5 .3-.3 .4 1 1.7 .1-.1 .2-1.7zM102.3 86.8l1.1 1.5 .6 .1 .4-1.6-.4-.4-1.2-.5zM158 48.3l1.1-.2 .8-2.3-.6-.2-1.7 2.6zM146.6 68.5l.2 .2 1 .1 .3-.7-.5-.2zM81.5 107.1l.2-1.1-2.6 .3-.7 1.3 0 .4 1.8 .8zM168.9 45.8l-.9-1.2-.5 .3-.1 .1 .2 1.1zM90.9 100.3l-.4-.3-.8 .2-1 1 .1 1.1 1.7-.9zM190.6 49.9l0-1.7-.4-.6-1.3 2.4 .1 .2 1.3 .5zM176.3 60.3l1.5 .3 1.1-1.6-.9-1.1-1.5 .3-.1 .2zM114.4 70.8l1.1 1 .7-.6-.9-1.5zM168.5 61.2l-.3-1.3-.3 .1-.4 1.6 .9 0zM110.6 75.6l1.1-.4-.1-.6-1-2.2-1.1 3.3 .1 0z"/><path fill="#ff8484" d="M104 86.4l.4 .4 1-.3 .1-.7 0-.4-.8-.8-.4 .3zM98.3 95.8l2.6 .4 .3-.4 .3-2-.9-.5-1.9 .4zM97.5 75.8l0-.1-.2-.2-1-.5-.2 0-.5 .6-.3 .5 .6 .5 .7-.1zM139.6 60.6l.5-.9-.6-1.2-.3 0-.2 1.9zM122.7 76l-.1-1.5-1.4-.3-.1 .2zM92.3 96.3l-1.4-.4-.2 .1 .1 .6 .6 .4 .9-.7zM132.7 65.7l.5-3.6-2.6 .1-.8 1.2zM140.6 61.2l.7-.4 0-.2-.9-.9-.3 0-.5 .9zM102.6 91.8l-.2-1.6-.1 .1-.6 .3 0 .7zM178.5 143l.5 1.8 1.7-.5-.1-1.7-1.2-.1zM151.2 52.7l-.7 .7-.3 1.3 0 .4 1.2 1.9 1-.7 0-2.4-.9-1.2zM129.7 59.5l.2 .2 1.6 .1-.1-1.5-.3-.6zM143.3 72.6l1.2-.6 0-1.1 0 0-1.7-.8z"/><path fill="#ff8181" d="M140.7 53.7l-.7 1 1 1.9 .1 0 .5 0-.1-1.6zM138.9 42.1l-.6-.2-.1 1 .2 .6 1.3 .1 .1-.1 .4-.8zM175.7 47l-1.5 1 .7 1.4 .1 0 1.4-1.7zM167.5 61.6l-.8 1.3 1.1 .1 .5-.2 .2-.1-.1-1.1zM165.1 60.5l.5 1.2 1.5-1.5-.6-.6zM170.9 49.6l0 0 .1 .5 2.3 1.3 .2-.1 0-.2zM194.2 38.4l-2 1.2 .5 1 .9 .4 .9-.9 .2-1.1zM143 54.3l1 1.3 .8-.2 .3-.6-1.3-1-.7 .2-.1 .3z"/><path fill="#ff7e7e" d="M127.5 58.1l-.5 .5-.1 .4 .2 .5 1.3 .2 .7-.2zM99.5 76.1l1.4-1.6-.5-.3-1.2 .6-.1 .9zM157.1 49.4l.2-1.1-.1 0-1.5-.1-.8 .9 .2 .9 .7 .3 .4 .1 .3-.3zM96.9 77.8l1.3-.6-.1-.2-.9 .1-.2 .1zM153.4 70l-1.5-.3-.5 1.7 .5-.1zM192.6 49.9l.9-1 .2-1.3-.1-.3-3.5-.2 .1 .5 .4 .6zM147.2 51l-.5 1.1 1.1 .9 .1 .1 1.6-2.2-1-.7zM154.9 49.1l-.8-.2-.9 .8 .3 .8 .2 .3 1.4-.8zM139.2 58.5l-.5-.3-1 .7-.1 .8 .4 .8 .6 .1 .1 0 .3-.2zM96.6 91.5l.1 .3 1.2 .5 0-.1 .6-1.2-.6-1.5-.5-.8-.6 1.8z"/><path fill="#ff7b7b" d="M167.6 48.7l-.1 .2-.6 1.5 .5 .7 1.3-1.1 .5-.9-.2-.5-.1-.1zM100.9 96.2l.2 1.7 3.6 .3-.1-.9-.1-.9-3.3-.6zM91.8 119.2l-2.9-.7-.2 1.5 .6 .6 3.3-.4 0-.1zM137.1 64.8l0-1.4-1.3-.2 .1 1.8 .5 0zM96.5 95.7l.4 .5 .9 0 .5-.4 .4-2.1-.2-.2-1.8 .4-.5 .6zM115.5 71.8l0 .3 1.1 1.1 1.3-1.6-1-.6-.7 .2zM104.1 73.4l-.4 .6 .8 .8 1.1-.5-.2-.9zM135.6 43l-1 0-.1 .9 .5-.1zM85.2 88.7l0 .7 .9 .7 .8-.8-.9-.8-.6 0zM156.9 58.5l.3 1.6 .5 .2 0 0 .8-1.2-.7-1.1-.5-.2z"/><path fill="#ff7878" d="M101.5 93.8l-.3 2 3.3 .6 .2-.9-.1-.3-2.4-1.5zM162.5 48l-1.1-.7-.2 0-.3 .9 1.8 .4zM121.2 82.7l-.3-2-1.4 .4-.7 .4 1.7 1.9zM157.7 60.3l0 0 .2 2.4 1.1 1.4 .3-.1-.2-3.5zM138.4 50.5l.6-1.1-1.4 .2 .6 .8zM79.5 111.9l0-.9-1.1-.8-1.3 1.2-.1 .4 1.8 .1 .6 .1zM167.5 46.8l0 0-1.2 1.2 1.2 .9 .1-.2z"/><path fill="#ff7575" d="M173.1 46.4l.1-.1-.9-1.4-.6 .1-.1 .2 .1 .7zM183 145.8l0-.2-.3-.4-1.3 .3-1.1 1.5 .6 .5zM160.9 51.4l.3 .4 .8 .1 .8-.6-1-1.5-.8 .1zM95.5 93.5l.7-1 .1-.3-2.5 .6 .4 .5 .1 .1zM90.9 95.9l1.4 .4-.1-1.4-.5 0-.8 1zM143.1 49.4l.8 .8 1.8-3.1-.3-.5-2.4 2.4 0 .2zM134.6 43l-1.5-.8-.5 .2 0 1.7 1.3 .7 .6-.9zM137.2 61.6l.7-1-2.2 .4zM88.8 76.7l1.2-3.2-.3-.5-2.9-.2-1.6 4.7-.1 .7 .4 .2 2.2-.4zM145.9 67.7l-.8-.8-.3-.3-.1 .2-.7 2.1 .7 0 1.2-1z"/><path fill="#ff7272" d="M115.3 69.7l.9 1.5 .7-.2-.8-2.6-.3 .3zM104.3 81.3l-.2-.4-.1 .5zM161.5 54.2l-.4 .6 0 .1 .3 1.6 1.7-.8 .5-.6-.1-.5-.8-.5zM58 125.8l-.5-1.1-.8 .5-.2 .3 .1 1.1 1.1 .9 .2-.2zM205.7 53.1l1.7-2.9-3.1 0 .2 2.4 .1 .2 .8 .4zM179.7 49.2l-1-1.5-1 .1-.3 .2 1.5 1.6zM178.8 134.1l.5 1.4 .5 .1 1.1-1.4-.5-1-.7-.3-.2 0z"/><path fill="#ff6f6f" d="M190.2 47.6l-.1-.5-.4-.6-2.9 .3-.3 .8 .3 2.3 2.1 .1zM148.5 69.7l-.7 1 .1 .2 1.7 0-.5-1.4zM84.9 102.5l2.1 1.6 .3-1.4-1-2.3-.4 .1-1.1 1.8zM56.5 125.5l-1.9 .4 0 1 2-.3zM136.2 60l1.4-.3 .1-.8-.8-.2-.5 .2zM74.5 109.9l.6-.2 .2-.5-.2-1.7-.2-.2-.2-.1-1 .5-.9 1.3 1.2 .7zM93.6 92.7l-.7 .2-.1 .9-.1 .8 .7 .4 .9-.1-.1-1.6-.4-.5-.1-.1zM162.8 48.8l-.2 .8 .7 .4 .8-1-.4-.7zM172 52.1l-.4 .7 .3 1.3 .9-.2 1.1-2.2-.4-.4-.2 .1zM143.5 61.2l0-.7-1.9 .4 1.1 .5 .7-.1z"/><path fill="#ff6c6c" d="M133.5 61.3l.2-1.4-1-1.5-1.3-.1 .1 1.5zM108.4 75.6l0-3.4-2.1 2.6 .5 1.4 .4 0zM109.4 84.3l-.4 3.3 1.9-.7 .2-.8-.5-1.9-.2-.2-.9 .2zM160.3 41.9l-1 .8 0 0 2.2 1.8 .3-.1 .2-.8-.6-2-.7 .1zM61.7 116.9l-.1 .2 .5 .9 2.2-2.5-.2-.1zM58.6 127.3l.8-.6 .4-1-1.8 .1-.1 1.5zM83.6 103.9l-.1-.3-.7-1.5 0 0-1 0-.8 .9 .7 2.1 .2 .3zM126.2 43.5l-.6-.7-.2 .8 .7-.1zM145.5 56.4l.9 .6 1.6-.6 0-.9-.2-.3-.7 .2-1.7 .8zM147.9 53.1l.1 .2 2.5 .1 .7-.7-.6-1.5-.1-.2-1-.1zM158.8 40.9l-.2 .4 .6 1.2 .1 .2 1-.8-.8-1.5zM127.4 66.2l1.4-.5-.3-1.4-1.6-1.5-1 2.7-.1 .2 .6 .5z"/><path fill="#ff6969" d="M98.2 79.2l2.1-.1 1-1.5-1.5-.8-1.1 .7zM139.6 47.4l-1.3 0-.6 .8 1.5 .6zM151.7 78l-.7 0 .1 .2 2.2 2.8 .7-.4 .6-1.4 .1-.8-.3-.4zM138.6 67.1l.1 .4 .6-.3 1.4-1.9-1.6-1.4zM158.3 39.7l-1.7 1.2 2 .4 .2-.4zM87 104.2l0-.1-2.1-1.6-.2 1.7 .8 .5zM92.4 123.7l1.7-1.9-.9-1.2-.5-.4-.1-.1 0 .1-1.3 1.4 0 1.1 .2 .4zM160.1 69.3l-.4-.8-1.3-.4 .3 2.4 .5 .5 .1 0zM109.3 81.6l1.6 .4-.2-1.5-1.9 .2 .2 .7zM177.8 60.6l1.1 1.6 1.6-.6 .7-1.8-1.1-1.2-1.2 .4zM99.7 88.6l-1.6-.8-.6 .3-.1 .6 .5 .8 1.1 1.1 .9-.4 .2-.5zM103.7 74l-1.5 .2-.3 .5 .7 2.4 1.5-.8 .4-1.5zM152.4 40.4l.3 .7 .6 .8 .7 .1 1.2-.4-1.2-1.2-1.6-.2z"/><path fill="#ff6666" d="M144.5 70.9l0 1.1 .7 .2 1-.3 0-.8zM166.6 57.6l0 0 1.6 2.3 1.3-.6 .1-1.8-.3-.6-1.2-.4-.1 0zM153.7 50.8l.1 .6 .4 .2 .6-.2 1-1.1-.7-.3zM212.7 51.8l.4-1-.3-1.6-1.1-1-2 1.5 1.5 2.1 1.2 .3zM146.6 58.7l0 .2 1.2 1.3 .1-.1-.2-2zM123.4 43.6l-.4-.5-1.3 .6-.2 .4 0 .4 .8 .4 .7-.4zM123.3 68.3l1.8 1.2 .6-1-.1-.3-1.5-2-.2 .4-.6 1.6zM157.4 52.3l-.7 .3-.1 .1 1.8 1.5 .3-1.5-.1-.1-.7-.2zM179.6 47.1l-.1-.9-1 0-.6 .9-.2 .7 1-.1zM91.8 115.6l0-.5-.1-.2-.7-.4-1.7 .2-.1 1.3 2.5-.2zM152.4 45l.4-1.5 0-.1-.9 .3-.4 .4 .5 .9z"/><path fill="#ff6363" d="M152.9 71.8l0 2.7 1.5 .1 .5-.8 .4-1.4-.8-1.4zM108.4 72.2l0 3.4 .8 .2 .3-.1 1.1-3.3-.2-1.5-1.8 .6zM104.8 78.7l1.4-.1 .3-2.1-2.4-.2-1.5 .8 0 .1 .5 1zM168.3 47.1l-.8-.3 .1 1.9 1.3-.2 .1-.1zM89.8 85.6l-1-.1-.9 .3-.4 .5 .1 .6 1.2 1.1 .4 .2 .3 0 1.1-1.6 0 0-.7-1zM124.7 46.9l-.9 .8 .3 .6 1.8 .3 .2-.1zM131.2 46.5l.2 .8 .5 0 .2-1.4-.5-.8-.2 0zM98.5 93.5l-.6-1.2-1.2-.5-.4 .4-.1 .3 .1 .9 .4 .5z"/><path fill="#ff6060" d="M154.5 76.3l-.1 1.7 .3 .4 2-.5 .4-.2-.1-.5-1.1-1.3-1.1-.6zM162.9 57.7l-1.3-.2-.6 .8 0 1 2 .1 1-.6 0-.3-.4-.5zM145.6 53.4l-1.3-2-.1 .2-.2 .4 .4 1.2 1 .7zM104.3 81.3l1 0-.8-.9-.1 0-.4 .4 .1 .1zM172.6 48.3l-1.4-1.6-.4 .1-.3 1.2 .2 .4 .6 .6 1.2-.5zM135.8 63.2l-1.8-1.6-.4-.1-.4 .6-.5 3.6 0 .4 1 .3 2.2-1.4zM132.1 45.9l1.5 1 1.3-1-.4-.5-.6-.6-1.3-.7-1 1z"/><path fill="#ff5d5d" d="M185.9 50.5l0 0-1.3-2-.4 .2-.1 0zM103 92.1l.2-.2 .3-1.9-.6 .1-.5 .1 .2 1.6zM145.9 69.7l.2 .5 .9-.1 .1-.6-.3-.8-.2-.2-.3-.1zM94.6 95.1l-.3 1.4 .6 .6 1.3-.4 .7-.5-.4-.5-1.9-.6zM146.6 42.9l-.7 .4-.8 1.4 .3 1.1 1.2-.3 2.3-2zM102.9 90.1l-1-1.2-.2 .5 .6 .9 .1-.1zM143.1 65.5l-.9 .2-.3 1.6 .4 .5 2.4-1 .1-.2-.1-.7-.2-.2zM134.2 66.8l2.6 2.3 1.1-.4 .3-.6-1.4-2.2zM169.5 47.6l0-.5-.3-.2-.9 .2 .7 1.3z"/><path fill="#ff5a5a" d="M138.7 60.6l.9 2.2 .7-.6 .3-1-1-.6-.6-.2zM163.7 48.3l.4 .7 .4 .1 .5-.1 0-1-1.2 .3zM125.3 46.2l1.9 1.7 0-1.6-1-.2zM155.9 46.6l1.3 .5-1.1-1.5-.9 .3 0 0zM120.6 43.1l.9 1 .2-.4 0-3.2-.3-.1-.6 .9zM140.7 65.3l.9-.1 0-.4-2.5-1.1 0 .2 0 0zM169.5 47.1l.8-.5-.5-1.3-.1 0-.7 .5 .2 1.1z"/><path fill="#ff5757" d="M152 49l-.7 0-.8 2 .1 .2 2.9-.7-.3-.8zM121.4 66.9l-.2 2.1 .2 .4 1.9-1.1 0-.1-1.5-1.4zM157.3 47.2l.7-1.9-.7-.2-1 .3-.2 .2 1.1 1.5zM183.7 48.9l-.1 1.1 .9 1.2 1.4-.7-1.8-1.8zM92.9 96.7l-.6-.4-.9 .7 .1 .6 .9 .5 .4-.6zM111.1 86.1l.7 0 1.3-.7 .1-.4-2.6-.8zM138.4 43.5l-.3 1.3 1.6 .2 .4-.3-.4-1.1zM149.8 71.2l-2 .5-.3 .8 1.8 1.1 1.2-.5 .2-1.2z"/><path fill="#ff5454" d="M164.4 40.1l-.5 .6 0 .1 1.7 .6 .1-.3-.9-1.1-.1-.1zM158.9 50.6l.3-.5-1.2-1.8-.4-.1-.1 0-.2 .1-.2 1.1 .9 1zM89.7 98.4l.4-.4 .3-.7-.9-.9-.2 0-.3 1.6zM164 58.8l.4 .7 .2 .1 1.5-.4 .4-1.5-.7-.1-1.8 .9z"/><path fill="#ff5151" d="M142.7 54.5l-.4 2.2 0 0 .6-.1 .6-.5 .5-.5-1-1.3zM158.8 74.3l-.1-.2-3.8-.3-.5 .8 .4 .7 1.1 .6 2.9-1.4zM141.5 55l.1 1.6 .3 .2 .4-.1 .4-2.2zM115.1 74.9l1.2 0 .3-.2 0-1.5-1.1-1.1-1.6 1.2 .4 .8 .2 .5zM212.7 51.8l.6 .1-.2-1.1zM72.4 110l-.3 .3-.4 2 .3-.1 1.8-.4-.5-1zM170.7 48.4l-1.7 .2 .2 .5 1.2 .6 .5-.1 0 0 .4-.6z"/><path fill="#ff4e4e" d="M141.6 64.8l0-.1-1.8-1.1-.5-.2-.2 .2 0 .1zM82.7 90.8l-.3 .3 .5 1 1.6-.5 0-.1zM142 59.3l-.3-.4-.8-.1-.5 .9 .9 .9zM180.8 144.4l0 .6 .6 .5 1.3-.3 0-.4-.2-.3zM97.9 79.5l.3-.3 .5-1.7-.5-.3-1.3 .6-.1 .4zM129.5 66.2l1 .3 1.7 0 .5-.4 0-.4-2.9-2.3-1.3 .9 .3 1.4zM80.3 109.1l-.8 1.9 0 .9 2.2-.8 .8-.7-.3-.3-.5-.3zM117.9 81.7l.9-.2 .7-.4-.9-2.8-.3-.2-.9 .1-.8 1.8 .9 1.7z"/><path fill="#ff4b4b" d="M143.4 63.1l.8 .1 .6-1.6-1.3-.4-.1 .1zM128.4 57.1l-.9 1 1.6 1.4 .6-.1-.6-2-.6-.3zM104.4 80.4l.1 0 .2-.3 .1-1.4-1.7-.5-.1 1.1zM120.5 83.4l-1.7-1.9-.9 .2 1.5 2.9 .4 0 .4-.5zM127.1 51.6l1.2-.1 .8-.5 .3-1 0-.2-.2-1.3-1.9-.3-.2 .1-.5 3.1zM84.9 102.5l-.1-.2-.1 0-1.2 1.3 .1 .3 1.1 .3zM168 51.8l-.4-.1-.6 1-.2 1.2 .1 .2 .6 .7 2-.7zM96.7 93.9l-.4-.5-.3 .9 .2 .2zM147.8 58l-.4-.1-1 .1 .2 .7 1.1-.6zM96 94.3l.3-.9-.1-.9-.7 1 .2 .5z"/><path fill="#ff4848" d="M184.9 154.3l0 .2 .8 0 2.2-2.2-.6-1.2zM180.8 49.2l.5-1.1-1.7-1-.9 .6 1 1.5zM82.7 90.8l1.8 .7 .3-.9-.1-.3-1.3-.3-.4 .1zM160 58l-.7-1.4 0 0-.3 .2-.3 1.2 .6 .2z"/><path fill="#ff4545" d="M145.2 54.7l1.9 .7 .7-.2 0-.2-1.9-.8-.4 0zM102.5 81.5l1.5-.7 .4-.4-1.4-1.1-.8 1.7zM145.9 69.7l.4-1.3-.4-.5-1.2 1 .5 .6 0 .1zM159.4 54.4l-.1 0-.8 .3 0 0-.2 .5 .2 .2 1.3 0zM160 52.8l-.7 .4 .3 .5 1.3-.3zM109.5 84.2l0 0 .9-.2 .8-1.5-.3-.5-1.6-.4-.5 1zM157.2 48.3l.1 0 .2-.1-.2-1-.1-.1-1.3-.5zM193.5 48.9l2.3 1.1 .3-1-2.4-1.4z"/><path fill="#ff4242" d="M82.8 102.1l.7 1.5 1.2-1.3zM158.7 74.1l-.1-.6-.5-1.5-1-.2-1.8 .6-.4 1.4zM168.2 59.9l0 0-1.6-2.3-.1 .1-.4 1.5 .4 .4 .6 .6 .8-.2z"/><path fill="#ff3f3f" d="M115.3 80l-.3-.1-1.6 1.3 0 0 1.4 1.7zM137.7 48.2l-.2 .2-.3 .6 .2 .5 .2 .1 1.4-.2 0 0 .4-.4-.2-.2zM148 55.5l2.2-.4 0-.4-2.2-.7-.2 1 0 .2z"/><path fill="#ff3c3c" d="M87.8 114.5l-.1-1.2-1.6-.6-1.7 .5 0 0 1.9 .6 1.2 1.2zM137.4 64.8l-.3 0-.7 .2 .4 .9 1.4 2.2 .5-.6-.1-.4zM87.1 98.6l-.4 .2-.3 1.4 .6 .1 2.7-.1 .8-.2-.8-1.6-.7-.4-.9 0zM138.6 60.6l-.6-.1 0 .1-.2 1.3 .2 0 .5-.4z"/><path fill="#ff3939" d="M160.3 67.3l-2.5-2-.3 .2 .9 2.6 0 0 1.3 .4 .4-.5zM147 61.5l-1.2-.4-1 .5-.6 1.6 .2 .2 2-.1zM143.6 60.1l1.8 .4 .1-1.1-.9-1-.9 .5-.4 .6z"/><path fill="#ff3636" d="M141.6 44.4l2-1.3-.1-.4-.7-.2-1.5 .5-.1 .2zM123.3 68.3l-1.9 1.1-.5 1.7 .6 .3 2.6 0 1-.6 0-1.3 0 0zM139.8 47.3l-.2 .1-.4 1.4 .2 .2 .6 .1 .4-1.3z"/><path fill="#ff3333" d="M148.8 76.1l-.2 .8 .3 .8 2.1 .3 .2-1-1.2-1.2zM157.7 51.5l0-.4-1.2-1-.3 .3 .1 1.2 .4 1 .7-.3zM127.2 47.9l.1 .3 1.9 .3 .1-.2 .1-2-1.5-1.1-.1 .1-.6 1zM116.9 71l1 .6 1.7-.4-1.3-2.3-1.2-.5-.8-.2-.2 .2 0 0zM133.2 47.8l.2-.1 .2-.8-1.5-1-.2 1.4 .5 .7 .2 .1zM99 75.7l-.6-1.1-.5 1.1zM144.4 63.4l-.2-.2-.8-.1-.3 .1 0 2.3 1.4 .2 0-1.1z"/><path fill="#ff3030" d="M97.9 92.2l0 .1 .6 1.2 .2 .2 1.9-.4 .1-1.2-.6-.9zM121.7 43.7l1.3-.6-.9-2.4-.4-.2zM151.2 77l1.5-2.5-2.2-1.4-1.2 .5-.1 .2 .8 2zM163.3 47.7l-.3-.1-.5 .4 .2 .6 .1 .2 .9-.5 .1 0 0-.1zM92.7 94.6l-.5 .3 .1 1.4 0 0 .6 .4 .3-.2 .2-1.5zM142.3 50.7l.8-1.3-.1-.2-.7 .1-.3 .5 .2 .9zM56.8 132.2l-.3 1.6 .1 0 1.2-1zM159.3 45.6l-.7-.4-.6 .1-.7 1.9 .2 1 .1 0zM101.7 90.6l-1.1-.7-.5-.2-.2 .5 .2 1 .6 .9 1-.8z"/><path fill="#ff2d2d" d="M145.4 46.6l-.1-.5-1.8 .2-.3 .2-1 1.5 .8 1zM70.4 111l-1.7 .2 0 .4 .9 1.6 1.4-.6zM94.3 93.4l-.1-.1 .1 1.6 .3 .2 0 0 .7-.9zM102.9 90.1l.6-.1 .3-.2 .5-.8-.3-.6-.6-.1-1.2 .1-.3 .2 0 .3z"/><path fill="#ff2a2a" d="M146.4 58l-.1-.1-1.7 .4 0 .1 .9 1 1.1-.5 0-.2zM89.2 113.5l-.6-.4-.9 .2 .1 1.2 1.5 .1zM78.4 108l-.1 .1-.1 1.8 .2 .3 1.1 .8 .8-1.9-.1-.3z"/><path fill="#ff2727" d="M101.9 88.9l0-.3-1.5-.3-.7 .3 .4 1.1 .5 .2 1.1-.5zM168.9 48.5l.1 .1 1.7-.2-.2-.4-1-.4-.5 .8zM163.4 51.2l-.6 .1-.8 .6 .4 .4 1.3-.1 .2-.1z"/><path fill="#ff2424" d="M64.6 115.5l-.3 0-2.2 2.5-.1 1 .2 .4 .3-.4 2.5-3.2zM56.5 123.6l1 .6 .5-.7 .1-1.6 0-.1-1.5 .4zM164.5 49.1l-.4 1.2 1.1 .3 1-.3-1.2-1.3zM141.9 56.8l-.2 2.1 .3 .4 1.3 .2 .4-.6-1.4-2.2 0 0zM130.5 47.6l.9-.3-.2-.8z"/><path fill="#ff2121" d="M147.8 58l.5-1.1-.3-.5-1.6 .6 0 .2 1 .7 .4 .1zM136 43l-.1-.1-.3 .1-.6 .8 .2 .3 .1-.1zM160.9 48.2l-.3 .4 .2 1.1 .2 .2 .8-.1 .8-.2 .2-.8-.1-.2zM131.1 57.4l-.3-.2-1.7 .2 .6 2 0 .1 1.4-1.8z"/><path fill="#ff1e1e" d="M93.4 95l-.2 1.5 1.1 0 .3-1.4-.3-.2zM161.8 49.8l1 1.5 .6-.1 .2-.8-.3-.4-.7-.4zM160.9 53.4l0 0-1.3 .3-.3 .7 .1 0 1.7 .4 .4-.6zM136.5 44.9l-.2-1.7-.3-.2-.7 1zM98.1 77l.1 .2 .5 .3 1.1-.7-.3-.7-.4-.4-.1 0-1.1 0-.3 .1zM145.9 49.6l-1.2 1.6 1.8 .9 .2 0 .5-1.1zM106.3 74.8l-.7-.5-1.1 .5-.4 1.5 2.4 .2 .3-.3zM158.7 50.9l-1 .6-.3 .8 .5 .1z"/><path fill="#ff1b1b" d="M145.4 73.5l-.2-1.3-.7-.2-1.2 .6-.4 .4 .2 1.3 .7 .4zM102.2 88.4l1.2-.1-1.1-1.5-.6 .1zM146.9 40.7l-.8-.5-.3 0 .1 3.1 .7-.4 1.2-1.3zM161.4 56.6l.2 .9 1.3 .2 .2-2-1.7 .8z"/><path fill="#ff1818" d="M169.9 50.1l-1.2-.1-1.3 1.1 .2 .6 .4 .1 1.2-.1zM105.5 85.4l0 .4 1.8-.2 .2-.9-.4-.3-.3 .2zM140.4 59.7l.5-.9-1.3-.3-.1 0 .6 1.2z"/><path fill="#ff1515" d="M126.7 44.8l-.8-.1-.7 .2-.4 .6 .1 .3 .1 .3 .3 .1 .9-.1zM116.6 83.2l2 1.6 .1 0 .7-.2-1.5-2.9-.4 0-1 1.3zM125 46.1l-.3 .8 1.4 1.6 1-.2 .2-.1-.1-.3-1.9-1.7zM101.7 89.4l-1.1 .5 1.1 .7 .6-.3zM101.3 77.6l1.3-.4 0-.1-.7-2.4-1-.2-1.4 1.6 .3 .7zM140.3 50.6l-.2 .9 .6 .6 .8-.7 .7-.7-.2-.9-.3 0z"/><path fill="#ff1212" d="M78.2 109.9l.1-1.8-.6 .2-.8 1 0 .1 .4 .9zM91.5 97.6l-1.4 .4-.4 .4 .8 1.6 .4 .3 1-.2 .5-.5 0-1.5zM160.9 51.4l.1-1.5-.2-.2-1.6 .4-.3 .5 0 .2 .5 1zM122.3 44.9l-.8-.4-2.7 1.3 .8 1.8 .6 .3 1.9-.8 .3-.7z"/><path fill="#ff0f0f" d="M139.7 43.6l.4 1.1 0 0 .4 0 0-1 0-.1-.7-.1zM123 43.1l.4 .5 .9-.1 .1-.4-1.5-2.1-.8-.3zM58.4 130.9l.3-1.4-1.6-.6-.5 1.6zM111.2 82.5l.6-.2 1.6-1.1 0 0-1.8-2.5-.6 .4-.1 .4-.2 1 .2 1.5z"/><path fill="#ff0c0c" d="M162.7 53.9l-.3-1.6-.4-.4-.8-.1-.3 1.6 .6 .8 1.2-.1zM81.7 111.1l-2.2 .8-.1 .1 2.1 .3zM129.4 61.4l1.2 .8 2.6-.1 .4-.6-.1-.2-2-1.5-1.6-.1z"/><path fill="#ff0909" d="M147.8 70.6l-.8-.5-.9 .1 0 .1 .1 .7zM116.7 85.2l.6-.4-.7-1.6-.1-.2-1.2 .6-.4 .7 .4 .8 .3 0z"/><path fill="#ff0606" d="M92.9 96.7l-.1 .8 1.2 .3 .7-.1 .2-.6-.6-.6-1.1 0zM165.8 57.6l.7 .1 .1-.1 0 0-.7-1.6-.1-.1-.3 1.2zM160.1 58l-.1 0-.7 .2-.5 .8 .4 .3zM118.2 45.2l2.4-2.1 .2-1.8-.8 1.3-2.3 2.3zM142.3 49.3l.7-.1 0-.2-.8-1-.7 .2 0 .5zM127.9 45.2l.5-1 0-.2-.4 .1-1.1-.8-.1 1.5 1 .5z"/><path fill="#ff0303" d="M127.2 46.3l.6-1-1-.5-.1 0-.5 1.3zM164.6 59.6l.5 .9 1.4-.9-.4-.4zM144.4 51.2l.3 0 1.2-1.6 .3-1.8-.5-.7-1.8 3.1 .2 .7zM97.2 77.1l.3-1.3-.9 .7 .4 .7z"/><path fill="#ff0000" d="M159.4 51.9l.6 .9 .9 .6 0 0 .3-1.6-.3-.4-1.5 .4zM140 49.1l-.6-.1-.4 .4 .2 1.5 .8 .5 .1 .1 .2-.9 0-1zM159.7 56.4l-.4 .2 .7 1.4 .1 0 .9 .3 .6-.8-.2-.9zM127.5 55.3l-.9 .1-.7 .8-.4 1.1 1.5 1.3 .5-.5 .9-1-.9-1.8zM129.7 59.4l-.6 .1-.7 .2 .1 1.8 .9-.1 .5-1.7-.2-.2zM156.2 55.9l2.1-.7 .2-.5-2.2-1.6-.5 .4-.3 .7 .2 1.4zM77.1 111.4l.2-1.1-.4-.9-1.1 1.4 .3 .9 .9 .1zM159.3 54.4l.3-.7-.3-.5-.6-.5-.3 1.5 .1 .5zM59.6 119.9l1.7 .4-1.4-1.4-.3 .8zM154.5 71l.8 1.4 1.8-.6-.2-2.3-1-.3-1.5 .4-.1 .1zM158.6 52.6l.8-.7 0-.1-.5-1-.2 .1-.8 1.5zM89.2 116l.1-1.3 0-.1-1.5-.1-.3 .5 1.3 1.3-.7 1.1 .2 0zM76.9 109.3l.8-1-2.6-.8 .2 1.7zM135.1 48.8l-1.7-1.1-.2 .1 .8 2.2 0 0 .6-.4 .5-.8zM164 58.5l1.8-.9-.3-.5-1.2-1.1-.7 2zM152.9 74.5l-.2 0-1.5 2.5-.2 1 0 0 .7 0 2.8-1.7 .3-1-.4-.7zM155.7 55.6l-.2-1.4-1.3-.4-1.8 .1 0 2.4 2.5-.2 .5-.3zM122.9 46.2l-.5 .2-.3 .7 1.1 .5 .6 .1 .9-.8 .3-.8-.1-.3zM148.5 69.7l-.4-.3-1 .1-.1 .6 .8 .5 0 .1zM76.9 109.3l-1.6-.1-.2 .5 .7 1.1 1.1-1.4zM162.4 52.3l.3 1.6 1-1.7zM124.8 45.5l-1.2-.5-.7 1.2 2-.4zM131.4 47.3l-.9 .3-1.1 .7 1.4 .1 1.6-.4-.5-.7zM120.6 43.1l-2.4 2.1 .6 .6 2.7-1.3 0-.4zM161.1 54.9l0-.1-1.7-.4 .4 1 .2 .1zM96.6 76.5l-.7 .1 0 .5 .7 1.1 .2 0 .1-.4 .1-.6zM81 103l-.6-.1-.8 .2-.7 1.5 2.8 .5zM56.8 132.2l-.5-.7-.2-.3-1.7 .4 .3 2.7 1.8-.5zM116.6 83.2l.7 1.6 1.3 0zM165.8 55.9l-.2-.5-1.3 .3 0 .3 1.2 1.1zM58.2 131.6l.6-.3-.4-.4-1.8-.4-.5 .7 .2 .3zM115.3 83.6l1.2-.6 1-1.3-.9-1.7-1.1 0-.4 3.3zM139.1 63.7l0-.1-1.6-.5-.4 .3 0 1.4 .3 0 1.7-.9zM105.5 85.8l-.1 .7 1.9 1 0-1.9zM67.2 112.9l-.2 1.3 2.5-1-2-.4zM90.1 98l1.4-.4-.1-.6-.6-.4-.4 .7zM141.9 67.3l.3-1.6-.6-.5-.9 .1-1.4 1.9zM158.9 50.8l0-.2-.9-.2-.3 .7 0 .4 1-.6zM158.6 52.6l.1 .1 .6 .5 .7-.4-.6-.9zM115.1 83.3l.4-3.3-.2 0-.5 2.9zM146.5 52.1l-1.8-.9-.3 0-.1 .2 1.3 2zM159.2 50.1l1.6-.4-.2-1.1-1.5-.5-1.1 .2zM56.8 132.2l1 .6 .3-.3 .1-.9-1.9-.1zM141.6 64.8l0 .4 .6 .5 .9-.2 0-2.3-.8-.1-.1 .1-.3 .5-.3 1zM137.7 48.2l.6-.8-.2-1.5-.4-.6-1.1 .1-.9 .7 0 .1 1.8 2.2zM164.3 53.8l1.6 .1-1.5-1.5zM75.8 110.8l-.7-1.1-.6 .2-.7 1.9 1.2-.2 1.1 .1zM144.1 50.9l-.2-.7-.8-.8-.8 1.3zM123 44.5l-.7 .4 .1 1.5 .5-.2 .7-1.2zM74.5 109.9l-.5-.2-.7 1.1 .5 1 0 0zM136 49.1l1.2-.1 .3-.6-1.8-2.2-.6 2.6 0 0zM164.5 52.3l-.6-.2-.2 .1-1 1.7 0 .2 .8 .5 .8-.8 .1-1.4zM153.8 51.4l-.4 .4 .8 2 1.3 .4 .3-.7-1.6-1.9zM124.3 43.5l-.9 .1-.4 .9 .6 .5 1.2 .5 .4-.6-.3-.9zM84.4 113.2l-.5-2.2-1.4-.6-.8 .7-.2 1.2 1 .2 1.9 .7zM104 88.4l.3 .6 2.1 .4 .5-.5 .8-.8-.4-.6-1.9-1-1 .3zM149.6 70.9l-1.7 0-.1 .8 2-.5zM169.5 54.1l-2 .7 .6 1.7 1.2 .4 1.5-1.6-1-1.2zM158.1 72l1.1-1-.5-.5-1.6-1.1-.2 .1 .2 2.3zM153.5 50.5l-2.9 .7 .6 1.5 .3 0 1.9-.9 .4-.4-.1-.6zM94.8 77.3l-1.6 .4-.6 .6 0 .2 .3 .4 .1 0 1.9 0 .2-.2 0-.8zM140 49.1l.3 .5 .8-.4 .4-.5 0-.5-.4-.3-.7-.1zM156.2 50.4l-.4-.1-1 1.1 1.5 .2zM113.4 81.2l-1.6 1.1 2.4 2.1 .7-.1 .4-.7-.2-.3-.3-.4zM151.5 52.7l.9 1.2 1.8-.1-.8-2zM124.4 43.1l.9-1-.3-.2-2.1-.9zM164.5 52.3l0-.1 .7-1.6-1.1-.3-.5 .1-.2 .8 .5 .9zM130.8 45.1l-1.4 1.2-.1 2 .1 0 1.1-.7 .7-1.1 .2-1.4zM156.3 51.6l-1.5-.2-.6 .2 1.6 1.9 .5-.4 .3-.4 .1-.1zM148.1 48.6l-1.9-.8-.3 1.8 1.3 1.4 1.3-.8zM56.6 130.5l.5-1.6-.1-.1-2.7-1-.3 .2-.4 3.1 .8 .5 1.7-.4zM165.9 56l.7 1.6 1.4-1.1zM132.5 48.8l1.5 1.2-.8-2.2-.6 .3zM94.6 95.1l1.9 .6-.3-1.2-.2-.2-.3-.3-.4 .2zM91.7 115.8l-2.5 .2-.9 1.4 .5 .8 2.5-1zM139.1 63.9l-1.7 .9 1.2 2.3 .5-3.2zM74 109.7l-1.2-.7 0 0-.4 1 .9 .8zM154.5 76.3l-2.8 1.7 2.7 0zM158.8 59l-.3 .1-.8 1.2 1.4 .2 .9-.5-.8-.7zM58.6 121l-.4 .4-.1 .4 0 .1 2.1 1.2 .3-.6 .3-.6zM144.7 68.9l-.7 0-.4 .2 1 .9 .6-.5zM169.4 51.8l1.5-.6 .1-1.1-.1-.5-.5 .1-.5 .4-.7 1.6zM151.4 71.4l-.5 .3-.2 .2-.2 1.2 2.2 1.4 .2 0 0-2.7-1-.5zM145.2 69.6l0-.1-.6 .5 0 .7 .4-.1zM165.9 53.9l.9 0 .2-1.2-2.5-.5 0 .1-.1 .1zM139.2 50.9l-.2-1.5 0 0-.6 1.1zM78.4 108l0-.4-1.8-1.7-1.7 1.4 .2 .2 2.6 .8 .6-.2zM107.8 48.1l.5-.2 .7-.7-1.3-.2zM140.3 50.6l1.4-.8-.6-.6-.8 .4zM161.1 54.9l-1.1 .6-.3 .9 1.7 .2 0-.1zM155.3 47.6l.4 .6 1.5 .1-1.3-1.7-.7-.7-.2 .1-.1 0-.1 .5zM158.4 54.2l-1.8-1.5-.3 .4 2.2 1.6 0 0zM146.1 70.3l0-.1-.2-.5-.7-.1-.2 1zM158 50.4l-.9-1-.6 .7 1.2 1zM146.2 71.9l1.3 .6 0 0 .3-.8 .1-.8-.1-.2 0-.1-1.6 .4 0 .1zM72.1 110.3l-1.6-.5-.3 .3 .2 .9 .6 1.6 .7-.3zM77.1 111.4l1.3-1.2-.2-.3-.9 .4zM84.8 102.3l1.1-1.8-1.9-.4-1.2 2 0 0 1.9 .2zM114.4 70.8l-2.6 .4 1.7 1.7 .4 .4 1.6-1.2 0-.3zM158.4 68.1l-1.3 1.3 1.6 1.1-.3-2.4zM99 90.6l-.5 .4-.6 1.2 2.2-1-.2-1zM170.2 52.8l-.8-1-.2-.1-1.2 .1 1.5 2.3 .3 0zM115 79.9l-1.1-1.6-2.2 .2-.1 .2 1.8 2.5zM58 123.5l-.5 .7 0 .4 1.8 .2 .7-1.3zM56.6 126.6l-2 .3-.3 .9 2.7 1 .7-1.3zM141.1 49.2l.6 .6 .3 0 .3-.5-.8-.6z"/></g>
<path d="M77.5 95.2L84 89.6L90 84.6L96.2 79.6" stroke="#fff" stroke-width="1.8" stroke-opacity="0.55" fill="none" stroke-linecap="round"/>
</g>
<rect x="38.40" y="195.60" width="226.20" height="143.80" fill="none" stroke="#7a7a7a" stroke-width="0.8"/>
<line x1="51.00" y1="339.40" x2="51.00" y2="341.40" stroke="#555" stroke-width="0.6"/>
<text x="51.00" y="348.40" font-size="8.6" text-anchor="middle" fill="#000">6.0°E</text>
<line x1="96.27" y1="339.40" x2="96.27" y2="341.40" stroke="#555" stroke-width="0.6"/>
<text x="96.27" y="348.40" font-size="8.6" text-anchor="middle" fill="#000">7.0°E</text>
<line x1="141.54" y1="339.40" x2="141.54" y2="341.40" stroke="#555" stroke-width="0.6"/>
<text x="141.54" y="348.40" font-size="8.6" text-anchor="middle" fill="#000">8.0°E</text>
<line x1="186.81" y1="339.40" x2="186.81" y2="341.40" stroke="#555" stroke-width="0.6"/>
<text x="186.81" y="348.40" font-size="8.6" text-anchor="middle" fill="#000">9.0°E</text>
<line x1="232.08" y1="339.40" x2="232.08" y2="341.40" stroke="#555" stroke-width="0.6"/>
<text x="232.08" y="348.40" font-size="8.6" text-anchor="middle" fill="#000">10.0°E</text>
<line x1="36.40" y1="320.80" x2="38.40" y2="320.80" stroke="#555" stroke-width="0.6"/>
<text x="36.10" y="323.80" font-size="8.6" text-anchor="end" fill="#000">46.0°N</text>
<line x1="36.40" y1="287.90" x2="38.40" y2="287.90" stroke="#555" stroke-width="0.6"/>
<text x="36.10" y="290.90" font-size="8.6" text-anchor="end" fill="#000">46.5°N</text>
<line x1="36.40" y1="255.00" x2="38.40" y2="255.00" stroke="#555" stroke-width="0.6"/>
<text x="36.10" y="258.00" font-size="8.6" text-anchor="end" fill="#000">47.0°N</text>
<line x1="36.40" y1="222.10" x2="38.40" y2="222.10" stroke="#555" stroke-width="0.6"/>
<text x="36.10" y="225.10" font-size="8.6" text-anchor="end" fill="#000">47.5°N</text>
<text x="151.50" y="357.40" font-size="8.6" text-anchor="middle" fill="#000">Longitude(degree)</text>
<text x="6.60" y="268.30" font-size="8.6" text-anchor="middle" transform="rotate(-90 6.60 268.30)" fill="#000">Latitude(degree)</text>
<text x="2.20" y="189.90" font-size="14" fill="#000">(b)</text>
<defs><linearGradient id="ga" x1="0" y1="1" x2="0" y2="0"><stop offset="0" stop-color="#fff"/><stop offset="1" stop-color="#f00"/></linearGradient></defs>
<rect x="274.10" y="12.80" width="8.20" height="156.60" fill="url(#ga)" stroke="#999" stroke-width="0.6"/>
<line x1="282.30" y1="169.40" x2="284.30" y2="169.40" stroke="#333" stroke-width="0.6"/>
<text x="284.80" y="172.40" font-size="8.6" fill="#000">0</text>
<line x1="282.30" y1="130.25" x2="284.30" y2="130.25" stroke="#333" stroke-width="0.6"/>
<text x="284.80" y="133.25" font-size="8.6" fill="#000">1000</text>
<line x1="282.30" y1="91.10" x2="284.30" y2="91.10" stroke="#333" stroke-width="0.6"/>
<text x="284.80" y="94.10" font-size="8.6" fill="#000">2000</text>
<line x1="282.30" y1="51.95" x2="284.30" y2="51.95" stroke="#333" stroke-width="0.6"/>
<text x="284.80" y="54.95" font-size="8.6" fill="#000">3000</text>
<line x1="282.30" y1="12.80" x2="284.30" y2="12.80" stroke="#333" stroke-width="0.6"/>
<text x="284.80" y="15.80" font-size="8.6" fill="#000">4000</text>
<text x="311.50" y="91.10" font-size="8.6" text-anchor="middle" transform="rotate(-90 311.50 91.10)" fill="#000">Accumulated Hours</text>
<defs><linearGradient id="gb" x1="0" y1="1" x2="0" y2="0"><stop offset="0" stop-color="#fff"/><stop offset="1" stop-color="#f00"/></linearGradient></defs>
<rect x="278.50" y="187.00" width="8.10" height="161.20" fill="url(#gb)" stroke="#999" stroke-width="0.6"/>
<line x1="286.60" y1="348.20" x2="288.60" y2="348.20" stroke="#333" stroke-width="0.6"/>
<text x="289.10" y="351.20" font-size="8.6" fill="#000">0</text>
<line x1="286.60" y1="304.16" x2="288.60" y2="304.16" stroke="#333" stroke-width="0.6"/>
<text x="289.10" y="307.16" font-size="8.6" fill="#000">100</text>
<line x1="286.60" y1="260.11" x2="288.60" y2="260.11" stroke="#333" stroke-width="0.6"/>
<text x="289.10" y="263.11" font-size="8.6" fill="#000">200</text>
<line x1="286.60" y1="216.07" x2="288.60" y2="216.07" stroke="#333" stroke-width="0.6"/>
<text x="289.10" y="219.07" font-size="8.6" fill="#000">300</text>
<text x="311.50" y="267.60" font-size="8.6" text-anchor="middle" transform="rotate(-90 311.50 267.60)" fill="#000">Accumulated Days</text>
<rect x="363.50" y="59.50" width="30.40" height="7.40" fill="#ff0000" stroke="#c8c8c8" stroke-width="0.55"/>
<rect x="365.60" y="66.90" width="28.30" height="7.20" fill="#ff0000" stroke="#c8c8c8" stroke-width="0.55"/>
<rect x="366.20" y="74.30" width="27.70" height="6.90" fill="#ff0000" stroke="#c8c8c8" stroke-width="0.55"/>
<rect x="367.00" y="81.20" width="26.90" height="7.10" fill="#ff0000" stroke="#c8c8c8" stroke-width="0.55"/>
<rect x="369.30" y="88.80" width="24.60" height="7.50" fill="#ff0000" stroke="#c8c8c8" stroke-width="0.55"/>
<rect x="370.10" y="96.20" width="23.80" height="7.00" fill="#ff0000" stroke="#c8c8c8" stroke-width="0.55"/>
<rect x="369.60" y="103.40" width="24.30" height="7.20" fill="#ff0000" stroke="#c8c8c8" stroke-width="0.55"/>
<rect x="370.10" y="110.70" width="23.80" height="7.60" fill="#ff0000" stroke="#c8c8c8" stroke-width="0.55"/>
<rect x="370.70" y="118.50" width="23.20" height="6.90" fill="#ff0000" stroke="#c8c8c8" stroke-width="0.55"/>
<rect x="371.70" y="125.60" width="22.20" height="7.20" fill="#ff0000" stroke="#c8c8c8" stroke-width="0.55"/>
<rect x="372.80" y="133.30" width="21.10" height="6.70" fill="#ff0000" stroke="#c8c8c8" stroke-width="0.55"/>
<rect x="372.30" y="140.70" width="21.60" height="7.20" fill="#ff0000" stroke="#c8c8c8" stroke-width="0.55"/>
<rect x="374.70" y="148.30" width="19.20" height="6.70" fill="#ff0000" stroke="#c8c8c8" stroke-width="0.55"/>
<rect x="377.40" y="155.60" width="16.50" height="6.10" fill="#ff0000" stroke="#c8c8c8" stroke-width="0.55"/>
<rect x="378.00" y="162.60" width="15.90" height="7.10" fill="#ff0000" stroke="#c8c8c8" stroke-width="0.55"/>
<rect x="377.10" y="170.00" width="16.80" height="7.00" fill="#ff0000" stroke="#c8c8c8" stroke-width="0.55"/>
<rect x="376.80" y="177.60" width="17.10" height="6.40" fill="#ff0000" stroke="#c8c8c8" stroke-width="0.55"/>
<rect x="380.80" y="185.00" width="13.10" height="6.70" fill="#ff0000" stroke="#c8c8c8" stroke-width="0.55"/>
<rect x="382.30" y="192.30" width="11.60" height="6.70" fill="#ff0000" stroke="#c8c8c8" stroke-width="0.55"/>
<rect x="379.60" y="199.90" width="14.30" height="7.10" fill="#ff0000" stroke="#c8c8c8" stroke-width="0.55"/>
<rect x="379.00" y="207.00" width="14.90" height="7.30" fill="#ff0000" stroke="#c8c8c8" stroke-width="0.55"/>
<rect x="375.30" y="221.70" width="18.60" height="7.30" fill="#ff0000" stroke="#c8c8c8" stroke-width="0.55"/>
<rect x="377.10" y="236.30" width="16.80" height="7.40" fill="#ff0000" stroke="#c8c8c8" stroke-width="0.55"/>
<line x1="393.70" y1="30.40" x2="393.70" y2="244.10" stroke="#9a9a9a" stroke-width="0.9"/>
<path d="M393.70 30.40H349.40V243.30H393.70" fill="none" stroke="#3a3a3a" stroke-width="0.8"/>
<line x1="346.80" y1="243.30" x2="349.40" y2="243.30" stroke="#3a3a3a" stroke-width="0.7"/>
<line x1="347.90" y1="221.94" x2="349.40" y2="221.94" stroke="#3a3a3a" stroke-width="0.5"/>
<line x1="347.90" y1="209.44" x2="349.40" y2="209.44" stroke="#3a3a3a" stroke-width="0.5"/>
<line x1="347.90" y1="200.57" x2="349.40" y2="200.57" stroke="#3a3a3a" stroke-width="0.5"/>
<line x1="347.90" y1="193.70" x2="349.40" y2="193.70" stroke="#3a3a3a" stroke-width="0.5"/>
<line x1="347.90" y1="188.08" x2="349.40" y2="188.08" stroke="#3a3a3a" stroke-width="0.5"/>
<line x1="347.90" y1="183.33" x2="349.40" y2="183.33" stroke="#3a3a3a" stroke-width="0.5"/>
<line x1="347.90" y1="179.21" x2="349.40" y2="179.21" stroke="#3a3a3a" stroke-width="0.5"/>
<line x1="347.90" y1="175.58" x2="349.40" y2="175.58" stroke="#3a3a3a" stroke-width="0.5"/>
<line x1="346.80" y1="172.33" x2="349.40" y2="172.33" stroke="#3a3a3a" stroke-width="0.7"/>
<line x1="347.90" y1="150.97" x2="349.40" y2="150.97" stroke="#3a3a3a" stroke-width="0.5"/>
<line x1="347.90" y1="138.47" x2="349.40" y2="138.47" stroke="#3a3a3a" stroke-width="0.5"/>
<line x1="347.90" y1="129.61" x2="349.40" y2="129.61" stroke="#3a3a3a" stroke-width="0.5"/>
<line x1="347.90" y1="122.73" x2="349.40" y2="122.73" stroke="#3a3a3a" stroke-width="0.5"/>
<line x1="347.90" y1="117.11" x2="349.40" y2="117.11" stroke="#3a3a3a" stroke-width="0.5"/>
<line x1="347.90" y1="112.36" x2="349.40" y2="112.36" stroke="#3a3a3a" stroke-width="0.5"/>
<line x1="347.90" y1="108.24" x2="349.40" y2="108.24" stroke="#3a3a3a" stroke-width="0.5"/>
<line x1="347.90" y1="104.61" x2="349.40" y2="104.61" stroke="#3a3a3a" stroke-width="0.5"/>
<line x1="346.80" y1="101.37" x2="349.40" y2="101.37" stroke="#3a3a3a" stroke-width="0.7"/>
<line x1="347.90" y1="80.00" x2="349.40" y2="80.00" stroke="#3a3a3a" stroke-width="0.5"/>
<line x1="347.90" y1="67.51" x2="349.40" y2="67.51" stroke="#3a3a3a" stroke-width="0.5"/>
<line x1="347.90" y1="58.64" x2="349.40" y2="58.64" stroke="#3a3a3a" stroke-width="0.5"/>
<line x1="347.90" y1="51.76" x2="349.40" y2="51.76" stroke="#3a3a3a" stroke-width="0.5"/>
<line x1="347.90" y1="46.14" x2="349.40" y2="46.14" stroke="#3a3a3a" stroke-width="0.5"/>
<line x1="347.90" y1="41.39" x2="349.40" y2="41.39" stroke="#3a3a3a" stroke-width="0.5"/>
<line x1="347.90" y1="37.28" x2="349.40" y2="37.28" stroke="#3a3a3a" stroke-width="0.5"/>
<line x1="347.90" y1="33.65" x2="349.40" y2="33.65" stroke="#3a3a3a" stroke-width="0.5"/>
<line x1="346.80" y1="30.40" x2="349.40" y2="30.40" stroke="#3a3a3a" stroke-width="0.7"/>
<g transform="translate(343.6 250.30) rotate(-90)"><text x="0" y="0" font-size="9.8">10</text><text x="10.6" y="-6.6" font-size="7.6">0</text></g>
<g transform="translate(343.6 179.33) rotate(-90)"><text x="0" y="0" font-size="9.8">10</text><text x="10.6" y="-6.6" font-size="7.6">1</text></g>
<g transform="translate(343.6 108.37) rotate(-90)"><text x="0" y="0" font-size="9.8">10</text><text x="10.6" y="-6.6" font-size="7.6">2</text></g>
<g transform="translate(343.6 37.40) rotate(-90)"><text x="0" y="0" font-size="9.8">10</text><text x="10.6" y="-6.6" font-size="7.6">3</text></g>
<line x1="393.70" y1="243.30" x2="393.70" y2="245.90" stroke="#3a3a3a" stroke-width="0.7"/>
<g transform="translate(397.10 263.30) rotate(-90)"><text x="0" y="0" font-size="9.8">10</text><text x="10.6" y="-6.6" font-size="7.6">4</text></g>
<line x1="364.40" y1="243.30" x2="364.40" y2="245.90" stroke="#3a3a3a" stroke-width="0.7"/>
<g transform="translate(367.80 263.30) rotate(-90)"><text x="0" y="0" font-size="9.8">10</text><text x="10.6" y="-6.6" font-size="7.6">6</text></g>
<text x="330.80" y="136.60" font-size="10" text-anchor="middle" transform="rotate(-90 330.80 136.60)" textLength="74.90" lengthAdjust="spacingAndGlyphs" fill="#000">Cumulative Days</text>
<clipPath id="mc"><rect x="420.6" y="30.3" width="216.79999999999995" height="214.2"/></clipPath>
<g clip-path="url(#mc)">
<circle cx="560.8" cy="95.1" r="0.9" fill="#121016" stroke="#111" stroke-width="0.35" fill-opacity="0.92"/>
<circle cx="545.1" cy="106.6" r="0.9" fill="#121016" stroke="#111" stroke-width="0.35" fill-opacity="0.92"/>
<circle cx="580.7" cy="93.0" r="0.9" fill="#121016" stroke="#111" stroke-width="0.35" fill-opacity="0.92"/>
<circle cx="526.8" cy="114.9" r="0.9" fill="#121016" stroke="#111" stroke-width="0.35" fill-opacity="0.92"/>
<circle cx="504.5" cy="121.3" r="0.9" fill="#121016" stroke="#111" stroke-width="0.35" fill-opacity="0.92"/>
<circle cx="580.4" cy="85.2" r="0.9" fill="#121016" stroke="#111" stroke-width="0.35" fill-opacity="0.92"/>
<circle cx="561.9" cy="101.1" r="0.9" fill="#121016" stroke="#111" stroke-width="0.35" fill-opacity="0.92"/>
<circle cx="526.7" cy="110.9" r="0.9" fill="#121016" stroke="#111" stroke-width="0.35" fill-opacity="0.92"/>
<circle cx="512.9" cy="122.9" r="0.9" fill="#121016" stroke="#111" stroke-width="0.35" fill-opacity="0.92"/>
<circle cx="480.8" cy="167.5" r="0.9" fill="#121016" stroke="#111" stroke-width="0.35" fill-opacity="0.92"/>
<circle cx="570.8" cy="93.3" r="1.0" fill="#121016" stroke="#111" stroke-width="0.35" fill-opacity="0.92"/>
<circle cx="569.7" cy="89.9" r="1.1" fill="#121016" stroke="#111" stroke-width="0.35" fill-opacity="0.92"/>
<circle cx="548.7" cy="101.9" r="1.1" fill="#121016" stroke="#111" stroke-width="0.35" fill-opacity="0.92"/>
<circle cx="549.1" cy="97.9" r="1.1" fill="#121016" stroke="#111" stroke-width="0.35" fill-opacity="0.92"/>
<circle cx="549.4" cy="101.8" r="1.1" fill="#121016" stroke="#111" stroke-width="0.35" fill-opacity="0.92"/>
<circle cx="519.0" cy="115.3" r="1.1" fill="#121016" stroke="#111" stroke-width="0.35" fill-opacity="0.92"/>
<circle cx="572.2" cy="95.7" r="1.1" fill="#121016" stroke="#111" stroke-width="0.35" fill-opacity="0.92"/>
<circle cx="520.6" cy="111.9" r="1.1" fill="#121016" stroke="#111" stroke-width="0.35" fill-opacity="0.92"/>
<circle cx="542.5" cy="109.8" r="1.1" fill="#121016" stroke="#111" stroke-width="0.35" fill-opacity="0.92"/>
<circle cx="420.6" cy="109.2" r="1.1" fill="#121016" stroke="#111" stroke-width="0.35" fill-opacity="0.92"/>
<circle cx="420.6" cy="115.0" r="1.1" fill="#121016" stroke="#111" stroke-width="0.35" fill-opacity="0.92"/>
<circle cx="420.6" cy="135.0" r="1.1" fill="#121016" stroke="#111" stroke-width="0.35" fill-opacity="0.92"/>
<circle cx="420.6" cy="138.3" r="1.1" fill="#121016" stroke="#111" stroke-width="0.35" fill-opacity="0.92"/>
<circle cx="420.6" cy="140.8" r="1.1" fill="#121016" stroke="#111" stroke-width="0.35" fill-opacity="0.92"/>
<circle cx="420.6" cy="146.7" r="1.1" fill="#121016" stroke="#111" stroke-width="0.35" fill-opacity="0.92"/>
<circle cx="420.6" cy="151.7" r="1.1" fill="#121016" stroke="#111" stroke-width="0.35" fill-opacity="0.92"/>
<circle cx="420.6" cy="156.7" r="1.1" fill="#121016" stroke="#111" stroke-width="0.35" fill-opacity="0.92"/>
<circle cx="420.6" cy="160.0" r="1.1" fill="#121016" stroke="#111" stroke-width="0.35" fill-opacity="0.92"/>
<circle cx="420.6" cy="163.3" r="1.1" fill="#121016" stroke="#111" stroke-width="0.35" fill-opacity="0.92"/>
<circle cx="420.6" cy="166.7" r="1.1" fill="#121016" stroke="#111" stroke-width="0.35" fill-opacity="0.92"/>
<circle cx="420.6" cy="171.7" r="1.1" fill="#121016" stroke="#111" stroke-width="0.35" fill-opacity="0.92"/>
<circle cx="420.6" cy="176.7" r="1.1" fill="#121016" stroke="#111" stroke-width="0.35" fill-opacity="0.92"/>
<circle cx="420.6" cy="180.0" r="1.1" fill="#121016" stroke="#111" stroke-width="0.35" fill-opacity="0.92"/>
<circle cx="420.6" cy="188.3" r="1.1" fill="#121016" stroke="#111" stroke-width="0.35" fill-opacity="0.92"/>
<circle cx="420.6" cy="200.0" r="1.1" fill="#121016" stroke="#111" stroke-width="0.35" fill-opacity="0.92"/>
<circle cx="420.6" cy="205.0" r="1.1" fill="#121016" stroke="#111" stroke-width="0.35" fill-opacity="0.92"/>
<circle cx="420.6" cy="210.3" r="1.1" fill="#121016" stroke="#111" stroke-width="0.35" fill-opacity="0.92"/>
<circle cx="469.5" cy="167.5" r="1.1" fill="#121016" stroke="#111" stroke-width="0.35" fill-opacity="0.92"/>
<circle cx="479.2" cy="167.5" r="1.1" fill="#121016" stroke="#111" stroke-width="0.35" fill-opacity="0.92"/>
<circle cx="470.0" cy="166.7" r="1.1" fill="#121016" stroke="#111" stroke-width="0.35" fill-opacity="0.92"/>
<circle cx="458.7" cy="184.2" r="1.1" fill="#121016" stroke="#111" stroke-width="0.35" fill-opacity="0.92"/>
<circle cx="463.3" cy="184.2" r="1.1" fill="#121016" stroke="#111" stroke-width="0.35" fill-opacity="0.92"/>
<circle cx="520.0" cy="127.5" r="1.1" fill="#121016" stroke="#111" stroke-width="0.35" fill-opacity="0.92"/>
<circle cx="420.6" cy="201.3" r="1.2" fill="#121016" stroke="#111" stroke-width="0.35" fill-opacity="0.92"/>
<circle cx="436.9" cy="156.3" r="1.2" fill="#121016" stroke="#111" stroke-width="0.35" fill-opacity="0.92"/>
<circle cx="453.2" cy="201.3" r="1.2" fill="#121016" stroke="#111" stroke-width="0.35" fill-opacity="0.92"/>
<circle cx="458.5" cy="184.2" r="1.2" fill="#121016" stroke="#111" stroke-width="0.35" fill-opacity="0.92"/>
<circle cx="458.5" cy="210.3" r="1.2" fill="#121016" stroke="#111" stroke-width="0.35" fill-opacity="0.92"/>
<circle cx="458.5" cy="222.5" r="1.2" fill="#121016" stroke="#111" stroke-width="0.35" fill-opacity="0.92"/>
<circle cx="462.8" cy="184.2" r="1.2" fill="#121016" stroke="#111" stroke-width="0.35" fill-opacity="0.92"/>
<circle cx="515.8" cy="120.0" r="1.2" fill="#121016" stroke="#111" stroke-width="0.35" fill-opacity="0.92"/>
<circle cx="541.7" cy="113.3" r="1.2" fill="#121016" stroke="#111" stroke-width="0.35" fill-opacity="0.92"/>
<circle cx="541.7" cy="114.2" r="1.2" fill="#121016" stroke="#111" stroke-width="0.35" fill-opacity="0.92"/>
<circle cx="546.1" cy="106.2" r="1.3" fill="#121016" stroke="#111" stroke-width="0.35" fill-opacity="0.92"/>
<circle cx="526.1" cy="116.9" r="1.3" fill="#121016" stroke="#111" stroke-width="0.35" fill-opacity="0.92"/>
<circle cx="535.3" cy="107.5" r="1.3" fill="#121016" stroke="#111" stroke-width="0.35" fill-opacity="0.92"/>
<circle cx="547.1" cy="106.7" r="1.3" fill="#121016" stroke="#111" stroke-width="0.35" fill-opacity="0.92"/>
<circle cx="500.9" cy="122.6" r="1.3" fill="#121016" stroke="#111" stroke-width="0.35" fill-opacity="0.92"/>
<circle cx="568.2" cy="93.9" r="1.3" fill="#121016" stroke="#111" stroke-width="0.35" fill-opacity="0.92"/>
<circle cx="520.6" cy="118.1" r="1.3" fill="#121016" stroke="#111" stroke-width="0.35" fill-opacity="0.92"/>
<circle cx="515.8" cy="119.1" r="1.3" fill="#121016" stroke="#111" stroke-width="0.35" fill-opacity="0.92"/>
<circle cx="570.9" cy="89.8" r="1.3" fill="#121016" stroke="#111" stroke-width="0.35" fill-opacity="0.92"/>
<circle cx="488.6" cy="126.4" r="1.3" fill="#121016" stroke="#111" stroke-width="0.35" fill-opacity="0.92"/>
<circle cx="514.1" cy="123.9" r="1.3" fill="#121016" stroke="#111" stroke-width="0.35" fill-opacity="0.92"/>
<circle cx="420.6" cy="173.3" r="1.3" fill="#121016" stroke="#111" stroke-width="0.35" fill-opacity="0.92"/>
<circle cx="436.9" cy="150.5" r="1.3" fill="#121016" stroke="#111" stroke-width="0.35" fill-opacity="0.92"/>
<circle cx="436.9" cy="160.8" r="1.3" fill="#121016" stroke="#111" stroke-width="0.35" fill-opacity="0.92"/>
<circle cx="436.9" cy="169.2" r="1.3" fill="#121016" stroke="#111" stroke-width="0.35" fill-opacity="0.92"/>
<circle cx="436.9" cy="201.5" r="1.3" fill="#121016" stroke="#111" stroke-width="0.35" fill-opacity="0.92"/>
<circle cx="453.2" cy="141.0" r="1.3" fill="#121016" stroke="#111" stroke-width="0.35" fill-opacity="0.92"/>
<circle cx="453.2" cy="145.8" r="1.3" fill="#121016" stroke="#111" stroke-width="0.35" fill-opacity="0.92"/>
<circle cx="453.2" cy="152.5" r="1.3" fill="#121016" stroke="#111" stroke-width="0.35" fill-opacity="0.92"/>
<circle cx="538.3" cy="93.5" r="1.4" fill="#121016" stroke="#111" stroke-width="0.35" fill-opacity="0.92"/>
<circle cx="504.9" cy="115.7" r="1.4" fill="#121016" stroke="#111" stroke-width="0.35" fill-opacity="0.92"/>
<circle cx="522.2" cy="96.0" r="1.4" fill="#121016" stroke="#111" stroke-width="0.35" fill-opacity="0.92"/>
<circle cx="612.9" cy="64.6" r="1.4" fill="#121016" stroke="#111" stroke-width="0.35" fill-opacity="0.92"/>
<circle cx="614.7" cy="60.8" r="1.4" fill="#121016" stroke="#111" stroke-width="0.35" fill-opacity="0.92"/>
<circle cx="476.3" cy="120.4" r="1.4" fill="#121016" stroke="#111" stroke-width="0.35" fill-opacity="0.92"/>
<circle cx="477.2" cy="115.4" r="1.4" fill="#121016" stroke="#111" stroke-width="0.35" fill-opacity="0.92"/>
<circle cx="546.7" cy="86.5" r="1.4" fill="#121016" stroke="#111" stroke-width="0.35" fill-opacity="0.92"/>
<circle cx="511.0" cy="109.7" r="1.4" fill="#121016" stroke="#111" stroke-width="0.35" fill-opacity="0.92"/>
<circle cx="611.2" cy="62.7" r="1.4" fill="#121016" stroke="#111" stroke-width="0.35" fill-opacity="0.92"/>
<circle cx="595.9" cy="71.6" r="1.4" fill="#121016" stroke="#111" stroke-width="0.35" fill-opacity="0.92"/>
<circle cx="487.7" cy="104.6" r="1.4" fill="#121016" stroke="#111" stroke-width="0.35" fill-opacity="0.92"/>
<circle cx="503.4" cy="99.8" r="1.4" fill="#121016" stroke="#111" stroke-width="0.35" fill-opacity="0.92"/>
<circle cx="538.1" cy="89.8" r="1.4" fill="#121016" stroke="#111" stroke-width="0.35" fill-opacity="0.92"/>
<circle cx="575.3" cy="82.6" r="1.4" fill="#121016" stroke="#111" stroke-width="0.35" fill-opacity="0.92"/>
<circle cx="609.2" cy="66.0" r="1.4" fill="#121016" stroke="#111" stroke-width="0.35" fill-opacity="0.92"/>
<circle cx="487.2" cy="124.6" r="1.4" fill="#121016" stroke="#111" stroke-width="0.35" fill-opacity="0.92"/>
<circle cx="486.6" cy="112.4" r="1.4" fill="#121016" stroke="#111" stroke-width="0.35" fill-opacity="0.92"/>
<circle cx="549.6" cy="90.8" r="1.4" fill="#121016" stroke="#111" stroke-width="0.35" fill-opacity="0.92"/>
<circle cx="607.9" cy="64.2" r="1.4" fill="#121016" stroke="#111" stroke-width="0.35" fill-opacity="0.92"/>
<circle cx="571.7" cy="76.5" r="1.4" fill="#121016" stroke="#111" stroke-width="0.35" fill-opacity="0.92"/>
<circle cx="509.5" cy="103.6" r="1.4" fill="#121016" stroke="#111" stroke-width="0.35" fill-opacity="0.92"/>
<circle cx="520.1" cy="97.5" r="1.4" fill="#121016" stroke="#111" stroke-width="0.35" fill-opacity="0.92"/>
<circle cx="598.0" cy="67.7" r="1.4" fill="#121016" stroke="#111" stroke-width="0.35" fill-opacity="0.92"/>
<circle cx="614.8" cy="64.0" r="1.4" fill="#121016" stroke="#111" stroke-width="0.35" fill-opacity="0.92"/>
<circle cx="529.7" cy="94.9" r="1.4" fill="#121016" stroke="#111" stroke-width="0.35" fill-opacity="0.92"/>
<circle cx="600.0" cy="71.4" r="1.4" fill="#121016" stroke="#111" stroke-width="0.35" fill-opacity="0.92"/>
<circle cx="572.3" cy="82.9" r="1.4" fill="#121016" stroke="#111" stroke-width="0.35" fill-opacity="0.92"/>
<circle cx="537.1" cy="93.2" r="1.4" fill="#121016" stroke="#111" stroke-width="0.35" fill-opacity="0.92"/>
<circle cx="551.9" cy="89.6" r="1.4" fill="#121016" stroke="#111" stroke-width="0.35" fill-opacity="0.92"/>
<circle cx="563.6" cy="82.3" r="1.4" fill="#121016" stroke="#111" stroke-width="0.35" fill-opacity="0.92"/>
<circle cx="586.7" cy="73.3" r="1.4" fill="#121016" stroke="#111" stroke-width="0.35" fill-opacity="0.92"/>
<circle cx="525.9" cy="91.4" r="1.4" fill="#121016" stroke="#111" stroke-width="0.35" fill-opacity="0.92"/>
<circle cx="446.4" cy="133.3" r="1.4" fill="#121016" stroke="#111" stroke-width="0.35" fill-opacity="0.92"/>
<circle cx="446.4" cy="140.3" r="1.4" fill="#121016" stroke="#111" stroke-width="0.35" fill-opacity="0.92"/>
<circle cx="446.4" cy="143.5" r="1.4" fill="#121016" stroke="#111" stroke-width="0.35" fill-opacity="0.92"/>
<circle cx="446.4" cy="148.3" r="1.4" fill="#121016" stroke="#111" stroke-width="0.35" fill-opacity="0.92"/>
<circle cx="446.4" cy="152.5" r="1.4" fill="#121016" stroke="#111" stroke-width="0.35" fill-opacity="0.92"/>
<circle cx="446.4" cy="156.7" r="1.4" fill="#121016" stroke="#111" stroke-width="0.35" fill-opacity="0.92"/>
<circle cx="453.2" cy="135.8" r="1.4" fill="#121016" stroke="#111" stroke-width="0.35" fill-opacity="0.92"/>
<circle cx="436.9" cy="130.0" r="1.5" fill="#121016" stroke="#111" stroke-width="0.35" fill-opacity="0.92"/>
<circle cx="436.9" cy="180.0" r="1.5" fill="#121016" stroke="#111" stroke-width="0.35" fill-opacity="0.92"/>
<circle cx="436.9" cy="189.2" r="1.5" fill="#121016" stroke="#111" stroke-width="0.35" fill-opacity="0.92"/>
<circle cx="453.2" cy="131.7" r="1.5" fill="#121016" stroke="#111" stroke-width="0.35" fill-opacity="0.92"/>
<circle cx="458.5" cy="133.3" r="1.5" fill="#121016" stroke="#111" stroke-width="0.35" fill-opacity="0.92"/>
<circle cx="466.4" cy="119.0" r="1.5" fill="#121016" stroke="#111" stroke-width="0.35" fill-opacity="0.92"/>
<circle cx="469.5" cy="158.3" r="1.5" fill="#121016" stroke="#111" stroke-width="0.35" fill-opacity="0.92"/>
<circle cx="502.0" cy="127.8" r="1.5" fill="#121016" stroke="#111" stroke-width="0.35" fill-opacity="0.92"/>
<circle cx="506.0" cy="124.3" r="1.5" fill="#121016" stroke="#111" stroke-width="0.35" fill-opacity="0.92"/>
<circle cx="505.8" cy="124.2" r="1.5" fill="#121016" stroke="#111" stroke-width="0.35" fill-opacity="0.92"/>
<circle cx="525.0" cy="122.5" r="1.5" fill="#121016" stroke="#111" stroke-width="0.35" fill-opacity="0.92"/>
<circle cx="543.3" cy="109.2" r="1.5" fill="#121016" stroke="#111" stroke-width="0.35" fill-opacity="0.92"/>
<circle cx="550.0" cy="106.7" r="1.5" fill="#121016" stroke="#111" stroke-width="0.35" fill-opacity="0.92"/>
<circle cx="538.3" cy="115.0" r="1.5" fill="#121016" stroke="#111" stroke-width="0.35" fill-opacity="0.92"/>
<circle cx="526.7" cy="120.0" r="1.5" fill="#121016" stroke="#111" stroke-width="0.35" fill-opacity="0.92"/>
<circle cx="523.3" cy="116.7" r="1.5" fill="#121016" stroke="#111" stroke-width="0.35" fill-opacity="0.92"/>
<circle cx="552.5" cy="101.7" r="1.5" fill="#121016" stroke="#111" stroke-width="0.35" fill-opacity="0.92"/>
<circle cx="555.0" cy="102.5" r="1.5" fill="#121016" stroke="#111" stroke-width="0.35" fill-opacity="0.92"/>
<circle cx="570.8" cy="93.3" r="1.5" fill="#121016" stroke="#111" stroke-width="0.35" fill-opacity="0.92"/>
<circle cx="575.0" cy="89.2" r="1.5" fill="#121016" stroke="#111" stroke-width="0.35" fill-opacity="0.92"/>
<circle cx="542.5" cy="108.3" r="1.5" fill="#121016" stroke="#111" stroke-width="0.35" fill-opacity="0.92"/>
<circle cx="540.0" cy="103.3" r="1.5" fill="#121016" stroke="#111" stroke-width="0.35" fill-opacity="0.92"/>
<circle cx="576.7" cy="88.3" r="1.5" fill="#121016" stroke="#111" stroke-width="0.35" fill-opacity="0.92"/>
<circle cx="531.9" cy="95.8" r="1.6" fill="#281a40" stroke="#111" stroke-width="0.35" fill-opacity="0.92"/>
<circle cx="593.5" cy="71.5" r="1.6" fill="#281a40" stroke="#111" stroke-width="0.35" fill-opacity="0.92"/>
<circle cx="486.0" cy="102.6" r="1.6" fill="#281a40" stroke="#111" stroke-width="0.35" fill-opacity="0.92"/>
<circle cx="556.8" cy="81.3" r="1.6" fill="#281a40" stroke="#111" stroke-width="0.35" fill-opacity="0.92"/>
<circle cx="577.3" cy="77.4" r="1.6" fill="#281a40" stroke="#111" stroke-width="0.35" fill-opacity="0.92"/>
<circle cx="538.4" cy="90.9" r="1.6" fill="#281a40" stroke="#111" stroke-width="0.35" fill-opacity="0.92"/>
<circle cx="528.1" cy="86.0" r="1.6" fill="#281a40" stroke="#111" stroke-width="0.35" fill-opacity="0.92"/>
<circle cx="494.1" cy="110.0" r="1.6" fill="#281a40" stroke="#111" stroke-width="0.35" fill-opacity="0.92"/>
<circle cx="518.3" cy="105.9" r="1.6" fill="#281a40" stroke="#111" stroke-width="0.35" fill-opacity="0.92"/>
<circle cx="504.9" cy="114.7" r="1.6" fill="#281a40" stroke="#111" stroke-width="0.35" fill-opacity="0.92"/>
<circle cx="582.6" cy="76.4" r="1.6" fill="#281a40" stroke="#111" stroke-width="0.35" fill-opacity="0.92"/>
<circle cx="588.3" cy="71.4" r="1.6" fill="#281a40" stroke="#111" stroke-width="0.35" fill-opacity="0.92"/>
<circle cx="604.5" cy="65.9" r="1.6" fill="#281a40" stroke="#111" stroke-width="0.35" fill-opacity="0.92"/>
<circle cx="489.7" cy="116.8" r="1.6" fill="#5c2c83" stroke="#111" stroke-width="0.35" fill-opacity="0.92"/>
<circle cx="584.0" cy="74.1" r="1.6" fill="#281a40" stroke="#111" stroke-width="0.35" fill-opacity="0.92"/>
<circle cx="599.5" cy="68.1" r="1.6" fill="#281a40" stroke="#111" stroke-width="0.35" fill-opacity="0.92"/>
<circle cx="604.8" cy="65.6" r="1.6" fill="#281a40" stroke="#111" stroke-width="0.35" fill-opacity="0.92"/>
<circle cx="608.2" cy="65.5" r="1.6" fill="#281a40" stroke="#111" stroke-width="0.35" fill-opacity="0.92"/>
<circle cx="498.1" cy="108.4" r="1.6" fill="#281a40" stroke="#111" stroke-width="0.35" fill-opacity="0.92"/>
<circle cx="587.7" cy="73.1" r="1.6" fill="#281a40" stroke="#111" stroke-width="0.35" fill-opacity="0.92"/>
<circle cx="510.1" cy="108.3" r="1.6" fill="#5c2c83" stroke="#111" stroke-width="0.35" fill-opacity="0.92"/>
<circle cx="482.1" cy="114.1" r="1.6" fill="#281a40" stroke="#111" stroke-width="0.35" fill-opacity="0.92"/>
<circle cx="420.6" cy="153.5" r="1.6" fill="#281a40" stroke="#111" stroke-width="0.35" fill-opacity="0.92"/>
<circle cx="420.6" cy="167.8" r="1.6" fill="#281a40" stroke="#111" stroke-width="0.35" fill-opacity="0.92"/>
<circle cx="453.2" cy="128.3" r="1.6" fill="#121016" stroke="#111" stroke-width="0.35" fill-opacity="0.92"/>
<circle cx="458.5" cy="124.2" r="1.6" fill="#121016" stroke="#111" stroke-width="0.35" fill-opacity="0.92"/>
<circle cx="469.5" cy="115.0" r="1.6" fill="#121016" stroke="#111" stroke-width="0.35" fill-opacity="0.92"/>
<circle cx="546.1" cy="90.8" r="2.0" fill="#5c2c83" stroke="#111" stroke-width="0.65" fill-opacity="0.92"/>
<circle cx="541.6" cy="92.9" r="2.0" fill="#281a40" stroke="#111" stroke-width="0.65" fill-opacity="0.92"/>
<circle cx="483.3" cy="108.7" r="2.0" fill="#5c2c83" stroke="#111" stroke-width="0.65" fill-opacity="0.92"/>
<circle cx="581.1" cy="74.4" r="2.0" fill="#281a40" stroke="#111" stroke-width="0.65" fill-opacity="0.92"/>
<circle cx="491.3" cy="110.0" r="2.0" fill="#281a40" stroke="#111" stroke-width="0.65" fill-opacity="0.92"/>
<circle cx="596.3" cy="69.5" r="2.0" fill="#281a40" stroke="#111" stroke-width="0.65" fill-opacity="0.92"/>
<circle cx="602.2" cy="70.4" r="2.0" fill="#281a40" stroke="#111" stroke-width="0.65" fill-opacity="0.92"/>
<circle cx="561.0" cy="81.8" r="2.0" fill="#281a40" stroke="#111" stroke-width="0.65" fill-opacity="0.92"/>
<circle cx="484.7" cy="112.8" r="2.0" fill="#281a40" stroke="#111" stroke-width="0.65" fill-opacity="0.92"/>
<circle cx="600.5" cy="68.7" r="2.0" fill="#5c2c83" stroke="#111" stroke-width="0.65" fill-opacity="0.92"/>
<circle cx="502.8" cy="105.1" r="2.0" fill="#281a40" stroke="#111" stroke-width="0.65" fill-opacity="0.92"/>
<circle cx="608.0" cy="64.9" r="2.0" fill="#281a40" stroke="#111" stroke-width="0.65" fill-opacity="0.92"/>
<circle cx="539.9" cy="94.2" r="2.0" fill="#281a40" stroke="#111" stroke-width="0.65" fill-opacity="0.92"/>
<circle cx="595.9" cy="71.4" r="2.0" fill="#5c2c83" stroke="#111" stroke-width="0.65" fill-opacity="0.92"/>
<circle cx="519.2" cy="97.1" r="2.0" fill="#281a40" stroke="#111" stroke-width="0.65" fill-opacity="0.92"/>
<circle cx="547.1" cy="90.2" r="2.0" fill="#281a40" stroke="#111" stroke-width="0.65" fill-opacity="0.92"/>
<circle cx="500.8" cy="101.6" r="2.0" fill="#281a40" stroke="#111" stroke-width="0.65" fill-opacity="0.92"/>
<circle cx="578.5" cy="77.5" r="2.0" fill="#5c2c83" stroke="#111" stroke-width="0.65" fill-opacity="0.92"/>
<circle cx="491.1" cy="103.0" r="2.0" fill="#281a40" stroke="#111" stroke-width="0.65" fill-opacity="0.92"/>
<circle cx="595.6" cy="70.6" r="2.0" fill="#281a40" stroke="#111" stroke-width="0.65" fill-opacity="0.92"/>
<circle cx="453.2" cy="112.0" r="2.0" fill="#281a40" stroke="#111" stroke-width="0.65" fill-opacity="0.92"/>
<circle cx="458.5" cy="118.6" r="2.0" fill="#281a40" stroke="#111" stroke-width="0.65" fill-opacity="0.92"/>
<circle cx="462.8" cy="123.3" r="2.0" fill="#281a40" stroke="#111" stroke-width="0.65" fill-opacity="0.92"/>
<circle cx="462.8" cy="128.3" r="2.0" fill="#281a40" stroke="#111" stroke-width="0.65" fill-opacity="0.92"/>
<circle cx="466.4" cy="114.2" r="2.0" fill="#281a40" stroke="#111" stroke-width="0.65" fill-opacity="0.92"/>
<circle cx="466.4" cy="144.2" r="2.0" fill="#281a40" stroke="#111" stroke-width="0.65" fill-opacity="0.92"/>
<circle cx="469.5" cy="127.5" r="2.0" fill="#281a40" stroke="#111" stroke-width="0.65" fill-opacity="0.92"/>
<circle cx="472.3" cy="123.3" r="2.0" fill="#281a40" stroke="#111" stroke-width="0.65" fill-opacity="0.92"/>
<circle cx="472.3" cy="110.8" r="2.0" fill="#281a40" stroke="#111" stroke-width="0.65" fill-opacity="0.92"/>
<circle cx="472.3" cy="127.5" r="2.0" fill="#281a40" stroke="#111" stroke-width="0.65" fill-opacity="0.92"/>
<circle cx="470.0" cy="157.5" r="2.0" fill="#281a40" stroke="#111" stroke-width="0.65" fill-opacity="0.92"/>
<circle cx="476.7" cy="105.1" r="2.0" fill="#281a40" stroke="#111" stroke-width="0.65" fill-opacity="0.92"/>
<circle cx="488.8" cy="100.3" r="2.0" fill="#281a40" stroke="#111" stroke-width="0.65" fill-opacity="0.92"/>
<circle cx="498.5" cy="97.5" r="2.0" fill="#281a40" stroke="#111" stroke-width="0.65" fill-opacity="0.92"/>
<circle cx="501.2" cy="101.7" r="2.0" fill="#281a40" stroke="#111" stroke-width="0.65" fill-opacity="0.92"/>
<circle cx="512.4" cy="94.0" r="2.0" fill="#281a40" stroke="#111" stroke-width="0.65" fill-opacity="0.92"/>
<circle cx="516.5" cy="101.7" r="2.0" fill="#281a40" stroke="#111" stroke-width="0.65" fill-opacity="0.92"/>
<circle cx="503.3" cy="106.5" r="2.0" fill="#281a40" stroke="#111" stroke-width="0.65" fill-opacity="0.92"/>
<circle cx="499.9" cy="108.0" r="2.0" fill="#281a40" stroke="#111" stroke-width="0.65" fill-opacity="0.92"/>
<circle cx="517.9" cy="105.8" r="2.0" fill="#281a40" stroke="#111" stroke-width="0.65" fill-opacity="0.92"/>
<circle cx="495.0" cy="122.9" r="2.0" fill="#281a40" stroke="#111" stroke-width="0.65" fill-opacity="0.92"/>
<circle cx="503.3" cy="122.9" r="2.0" fill="#281a40" stroke="#111" stroke-width="0.65" fill-opacity="0.92"/>
<circle cx="506.0" cy="101.4" r="2.0" fill="#281a40" stroke="#111" stroke-width="0.65" fill-opacity="0.92"/>
<circle cx="511.7" cy="102.8" r="2.0" fill="#281a40" stroke="#111" stroke-width="0.65" fill-opacity="0.92"/>
<circle cx="486.0" cy="131.2" r="2.0" fill="#281a40" stroke="#111" stroke-width="0.65" fill-opacity="0.92"/>
<circle cx="488.0" cy="126.4" r="2.0" fill="#281a40" stroke="#111" stroke-width="0.65" fill-opacity="0.92"/>
<circle cx="494.3" cy="129.2" r="2.0" fill="#281a40" stroke="#111" stroke-width="0.65" fill-opacity="0.92"/>
<circle cx="492.2" cy="141.0" r="2.0" fill="#281a40" stroke="#111" stroke-width="0.65" fill-opacity="0.92"/>
<circle cx="474.2" cy="136.8" r="2.0" fill="#281a40" stroke="#111" stroke-width="0.65" fill-opacity="0.92"/>
<circle cx="471.4" cy="133.3" r="2.0" fill="#281a40" stroke="#111" stroke-width="0.65" fill-opacity="0.92"/>
<circle cx="487.5" cy="137.5" r="2.0" fill="#281a40" stroke="#111" stroke-width="0.65" fill-opacity="0.92"/>
<circle cx="495.0" cy="128.3" r="2.0" fill="#281a40" stroke="#111" stroke-width="0.65" fill-opacity="0.92"/>
<circle cx="500.8" cy="123.3" r="2.0" fill="#281a40" stroke="#111" stroke-width="0.65" fill-opacity="0.92"/>
<circle cx="453.3" cy="112.0" r="2.0" fill="#281a40" stroke="#111" stroke-width="0.65" fill-opacity="0.92"/>
<circle cx="453.3" cy="124.2" r="2.0" fill="#281a40" stroke="#111" stroke-width="0.65" fill-opacity="0.92"/>
<circle cx="466.7" cy="114.2" r="2.0" fill="#281a40" stroke="#111" stroke-width="0.65" fill-opacity="0.92"/>
<circle cx="475.0" cy="110.8" r="2.0" fill="#281a40" stroke="#111" stroke-width="0.65" fill-opacity="0.92"/>
<circle cx="479.2" cy="109.2" r="2.0" fill="#281a40" stroke="#111" stroke-width="0.65" fill-opacity="0.92"/>
<circle cx="489.2" cy="100.0" r="2.0" fill="#281a40" stroke="#111" stroke-width="0.65" fill-opacity="0.92"/>
<circle cx="498.3" cy="103.3" r="2.0" fill="#281a40" stroke="#111" stroke-width="0.65" fill-opacity="0.92"/>
<circle cx="488.3" cy="121.7" r="2.0" fill="#281a40" stroke="#111" stroke-width="0.65" fill-opacity="0.92"/>
<circle cx="461.7" cy="123.3" r="2.0" fill="#281a40" stroke="#111" stroke-width="0.65" fill-opacity="0.92"/>
<circle cx="458.3" cy="119.2" r="2.0" fill="#281a40" stroke="#111" stroke-width="0.65" fill-opacity="0.92"/>
<circle cx="458.3" cy="127.5" r="2.0" fill="#281a40" stroke="#111" stroke-width="0.65" fill-opacity="0.92"/>
<circle cx="471.7" cy="127.5" r="2.0" fill="#281a40" stroke="#111" stroke-width="0.65" fill-opacity="0.92"/>
<circle cx="465.0" cy="128.3" r="2.0" fill="#281a40" stroke="#111" stroke-width="0.65" fill-opacity="0.92"/>
<circle cx="473.3" cy="123.3" r="2.0" fill="#281a40" stroke="#111" stroke-width="0.65" fill-opacity="0.92"/>
<circle cx="468.3" cy="115.0" r="2.0" fill="#281a40" stroke="#111" stroke-width="0.65" fill-opacity="0.92"/>
<circle cx="511.7" cy="94.2" r="2.0" fill="#281a40" stroke="#111" stroke-width="0.65" fill-opacity="0.92"/>
<circle cx="553.3" cy="100.0" r="2.0" fill="#281a40" stroke="#111" stroke-width="0.65" fill-opacity="0.92"/>
<circle cx="557.5" cy="98.3" r="2.0" fill="#281a40" stroke="#111" stroke-width="0.65" fill-opacity="0.92"/>
<circle cx="526.7" cy="113.3" r="2.0" fill="#281a40" stroke="#111" stroke-width="0.65" fill-opacity="0.92"/>
<circle cx="535.0" cy="110.0" r="2.0" fill="#281a40" stroke="#111" stroke-width="0.65" fill-opacity="0.92"/>
<circle cx="501.7" cy="118.3" r="2.0" fill="#281a40" stroke="#111" stroke-width="0.65" fill-opacity="0.92"/>
<circle cx="531.0" cy="102.0" r="2.0" fill="#281a40" stroke="#111" stroke-width="0.65" fill-opacity="0.92"/>
<circle cx="510.0" cy="110.0" r="2.0" fill="#281a40" stroke="#111" stroke-width="0.65" fill-opacity="0.92"/>
<circle cx="548.3" cy="100.0" r="2.0" fill="#281a40" stroke="#111" stroke-width="0.65" fill-opacity="0.92"/>
<circle cx="546.7" cy="104.2" r="2.0" fill="#281a40" stroke="#111" stroke-width="0.65" fill-opacity="0.92"/>
<circle cx="543.3" cy="102.5" r="2.0" fill="#281a40" stroke="#111" stroke-width="0.65" fill-opacity="0.92"/>
<circle cx="578.3" cy="85.0" r="2.0" fill="#281a40" stroke="#111" stroke-width="0.65" fill-opacity="0.92"/>
<circle cx="582.5" cy="82.5" r="2.0" fill="#281a40" stroke="#111" stroke-width="0.65" fill-opacity="0.92"/>
<circle cx="581.7" cy="81.7" r="2.0" fill="#281a40" stroke="#111" stroke-width="0.65" fill-opacity="0.92"/>
<circle cx="588.3" cy="79.2" r="2.0" fill="#281a40" stroke="#111" stroke-width="0.65" fill-opacity="0.92"/>
<circle cx="600.0" cy="71.7" r="2.0" fill="#281a40" stroke="#111" stroke-width="0.65" fill-opacity="0.92"/>
<circle cx="604.2" cy="70.8" r="2.0" fill="#281a40" stroke="#111" stroke-width="0.65" fill-opacity="0.92"/>
<circle cx="610.0" cy="68.3" r="2.0" fill="#281a40" stroke="#111" stroke-width="0.65" fill-opacity="0.92"/>
<circle cx="558.3" cy="90.0" r="2.0" fill="#281a40" stroke="#111" stroke-width="0.65" fill-opacity="0.92"/>
<circle cx="556.7" cy="95.0" r="2.0" fill="#281a40" stroke="#111" stroke-width="0.65" fill-opacity="0.92"/>
<circle cx="560.0" cy="86.7" r="2.0" fill="#281a40" stroke="#111" stroke-width="0.65" fill-opacity="0.92"/>
<circle cx="617.0" cy="66.0" r="2.0" fill="#281a40" stroke="#111" stroke-width="0.65" fill-opacity="0.92"/>
<circle cx="595.0" cy="73.0" r="2.0" fill="#281a40" stroke="#111" stroke-width="0.65" fill-opacity="0.92"/>
<circle cx="436.9" cy="125.0" r="2.1" fill="#281a40" stroke="#111" stroke-width="0.65" fill-opacity="0.92"/>
<circle cx="446.4" cy="129.2" r="2.1" fill="#281a40" stroke="#111" stroke-width="0.65" fill-opacity="0.92"/>
<circle cx="446.4" cy="180.0" r="2.1" fill="#281a40" stroke="#111" stroke-width="0.65" fill-opacity="0.92"/>
<circle cx="472.3" cy="157.1" r="2.1" fill="#281a40" stroke="#111" stroke-width="0.65" fill-opacity="0.92"/>
<circle cx="519.1" cy="95.6" r="2.2" fill="#281a40" stroke="#111" stroke-width="0.65" fill-opacity="0.92"/>
<circle cx="541.5" cy="89.7" r="2.2" fill="#281a40" stroke="#111" stroke-width="0.65" fill-opacity="0.92"/>
<circle cx="586.1" cy="78.8" r="2.2" fill="#281a40" stroke="#111" stroke-width="0.65" fill-opacity="0.92"/>
<circle cx="547.6" cy="89.3" r="2.2" fill="#5c2c83" stroke="#111" stroke-width="0.65" fill-opacity="0.92"/>
<circle cx="528.8" cy="97.5" r="2.2" fill="#281a40" stroke="#111" stroke-width="0.65" fill-opacity="0.92"/>
<circle cx="519.8" cy="106.1" r="2.2" fill="#5c2c83" stroke="#111" stroke-width="0.65" fill-opacity="0.92"/>
<circle cx="531.7" cy="90.5" r="2.2" fill="#281a40" stroke="#111" stroke-width="0.65" fill-opacity="0.92"/>
<circle cx="575.0" cy="77.2" r="2.2" fill="#281a40" stroke="#111" stroke-width="0.65" fill-opacity="0.92"/>
<circle cx="550.2" cy="92.2" r="2.2" fill="#281a40" stroke="#111" stroke-width="0.65" fill-opacity="0.92"/>
<circle cx="602.4" cy="70.6" r="2.2" fill="#5c2c83" stroke="#111" stroke-width="0.65" fill-opacity="0.92"/>
<circle cx="507.6" cy="109.0" r="2.2" fill="#281a40" stroke="#111" stroke-width="0.65" fill-opacity="0.92"/>
<circle cx="488.4" cy="113.9" r="2.2" fill="#281a40" stroke="#111" stroke-width="0.65" fill-opacity="0.92"/>
<circle cx="491.2" cy="111.5" r="2.2" fill="#5c2c83" stroke="#111" stroke-width="0.65" fill-opacity="0.92"/>
<circle cx="589.0" cy="73.4" r="2.2" fill="#5c2c83" stroke="#111" stroke-width="0.65" fill-opacity="0.92"/>
<circle cx="504.0" cy="100.0" r="2.2" fill="#281a40" stroke="#111" stroke-width="0.65" fill-opacity="0.92"/>
<circle cx="540.6" cy="82.4" r="2.2" fill="#5c2c83" stroke="#111" stroke-width="0.65" fill-opacity="0.92"/>
<circle cx="476.5" cy="113.3" r="2.2" fill="#281a40" stroke="#111" stroke-width="0.65" fill-opacity="0.92"/>
<circle cx="535.1" cy="93.8" r="2.2" fill="#5c2c83" stroke="#111" stroke-width="0.65" fill-opacity="0.92"/>
<circle cx="542.7" cy="88.1" r="2.2" fill="#281a40" stroke="#111" stroke-width="0.65" fill-opacity="0.92"/>
<circle cx="556.4" cy="88.5" r="2.2" fill="#281a40" stroke="#111" stroke-width="0.65" fill-opacity="0.92"/>
<circle cx="420.6" cy="183.6" r="2.2" fill="#281a40" stroke="#111" stroke-width="0.65" fill-opacity="0.92"/>
<circle cx="453.2" cy="124.6" r="2.2" fill="#281a40" stroke="#111" stroke-width="0.65" fill-opacity="0.92"/>
<circle cx="472.5" cy="156.3" r="2.2" fill="#281a40" stroke="#111" stroke-width="0.65" fill-opacity="0.92"/>
<circle cx="536.0" cy="86.0" r="2.2" fill="#281a40" stroke="#111" stroke-width="0.65" fill-opacity="0.92"/>
<circle cx="537.5" cy="87.6" r="2.5" fill="#281a40" stroke="#111" stroke-width="0.65" fill-opacity="0.92"/>
<circle cx="558.4" cy="83.9" r="2.5" fill="#5c2c83" stroke="#111" stroke-width="0.65" fill-opacity="0.92"/>
<circle cx="566.0" cy="83.6" r="2.5" fill="#281a40" stroke="#111" stroke-width="0.65" fill-opacity="0.92"/>
<circle cx="479.2" cy="116.2" r="2.5" fill="#5c2c83" stroke="#111" stroke-width="0.65" fill-opacity="0.92"/>
<circle cx="545.0" cy="92.3" r="2.5" fill="#281a40" stroke="#111" stroke-width="0.65" fill-opacity="0.92"/>
<circle cx="484.8" cy="120.0" r="2.5" fill="#281a40" stroke="#111" stroke-width="0.65" fill-opacity="0.92"/>
<circle cx="527.6" cy="100.2" r="2.5" fill="#281a40" stroke="#111" stroke-width="0.65" fill-opacity="0.92"/>
<circle cx="476.5" cy="117.4" r="2.5" fill="#281a40" stroke="#111" stroke-width="0.65" fill-opacity="0.92"/>
<circle cx="570.5" cy="78.4" r="2.5" fill="#281a40" stroke="#111" stroke-width="0.65" fill-opacity="0.92"/>
<circle cx="512.8" cy="114.6" r="2.5" fill="#281a40" stroke="#111" stroke-width="0.65" fill-opacity="0.92"/>
<circle cx="614.4" cy="63.0" r="2.5" fill="#281a40" stroke="#111" stroke-width="0.65" fill-opacity="0.92"/>
<circle cx="480.9" cy="108.5" r="2.5" fill="#281a40" stroke="#111" stroke-width="0.65" fill-opacity="0.92"/>
<circle cx="485.3" cy="104.7" r="2.5" fill="#281a40" stroke="#111" stroke-width="0.65" fill-opacity="0.92"/>
<circle cx="492.8" cy="112.2" r="2.5" fill="#281a40" stroke="#111" stroke-width="0.65" fill-opacity="0.92"/>
<circle cx="497.2" cy="111.0" r="2.5" fill="#281a40" stroke="#111" stroke-width="0.65" fill-opacity="0.92"/>
<circle cx="571.2" cy="79.9" r="2.5" fill="#5c2c83" stroke="#111" stroke-width="0.65" fill-opacity="0.92"/>
<circle cx="481.5" cy="111.6" r="2.5" fill="#5c2c83" stroke="#111" stroke-width="0.65" fill-opacity="0.92"/>
<circle cx="478.0" cy="120.2" r="2.5" fill="#281a40" stroke="#111" stroke-width="0.65" fill-opacity="0.92"/>
<circle cx="570.9" cy="85.4" r="2.5" fill="#281a40" stroke="#111" stroke-width="0.65" fill-opacity="0.92"/>
<circle cx="539.1" cy="91.9" r="2.5" fill="#281a40" stroke="#111" stroke-width="0.65" fill-opacity="0.92"/>
<circle cx="544.6" cy="91.8" r="2.5" fill="#281a40" stroke="#111" stroke-width="0.65" fill-opacity="0.92"/>
<circle cx="544.8" cy="86.9" r="2.5" fill="#281a40" stroke="#111" stroke-width="0.65" fill-opacity="0.92"/>
<circle cx="480.8" cy="120.5" r="2.5" fill="#281a40" stroke="#111" stroke-width="0.65" fill-opacity="0.92"/>
<circle cx="510.8" cy="107.1" r="2.5" fill="#5c2c83" stroke="#111" stroke-width="0.65" fill-opacity="0.92"/>
<circle cx="550.6" cy="95.8" r="2.5" fill="#5c2c83" stroke="#111" stroke-width="0.65" fill-opacity="0.92"/>
<circle cx="527.8" cy="97.7" r="2.5" fill="#281a40" stroke="#111" stroke-width="0.65" fill-opacity="0.92"/>
<circle cx="592.6" cy="73.7" r="2.5" fill="#5c2c83" stroke="#111" stroke-width="0.65" fill-opacity="0.92"/>
<circle cx="564.4" cy="83.1" r="2.5" fill="#281a40" stroke="#111" stroke-width="0.65" fill-opacity="0.92"/>
<circle cx="518.6" cy="98.4" r="2.5" fill="#281a40" stroke="#111" stroke-width="0.65" fill-opacity="0.92"/>
<circle cx="517.6" cy="94.1" r="2.5" fill="#5c2c83" stroke="#111" stroke-width="0.65" fill-opacity="0.92"/>
<circle cx="513.2" cy="102.2" r="2.5" fill="#5c2c83" stroke="#111" stroke-width="0.65" fill-opacity="0.92"/>
<circle cx="491.0" cy="97.3" r="2.5" fill="#281a40" stroke="#111" stroke-width="0.65" fill-opacity="0.92"/>
<circle cx="550.4" cy="81.2" r="2.5" fill="#5c2c83" stroke="#111" stroke-width="0.65" fill-opacity="0.92"/>
<circle cx="587.1" cy="75.1" r="2.5" fill="#281a40" stroke="#111" stroke-width="0.65" fill-opacity="0.92"/>
<circle cx="532.9" cy="104.5" r="2.5" fill="#281a40" stroke="#111" stroke-width="0.65" fill-opacity="0.92"/>
<circle cx="601.1" cy="72.1" r="2.5" fill="#5c2c83" stroke="#111" stroke-width="0.65" fill-opacity="0.92"/>
<circle cx="519.4" cy="94.7" r="2.5" fill="#281a40" stroke="#111" stroke-width="0.65" fill-opacity="0.92"/>
<circle cx="590.5" cy="74.1" r="2.5" fill="#281a40" stroke="#111" stroke-width="0.65" fill-opacity="0.92"/>
<circle cx="505.3" cy="106.0" r="2.5" fill="#281a40" stroke="#111" stroke-width="0.65" fill-opacity="0.92"/>
<circle cx="529.3" cy="95.2" r="2.5" fill="#5c2c83" stroke="#111" stroke-width="0.65" fill-opacity="0.92"/>
<circle cx="585.6" cy="72.9" r="2.5" fill="#281a40" stroke="#111" stroke-width="0.65" fill-opacity="0.92"/>
<circle cx="489.9" cy="100.5" r="2.5" fill="#5c2c83" stroke="#111" stroke-width="0.65" fill-opacity="0.92"/>
<circle cx="593.2" cy="70.6" r="2.5" fill="#281a40" stroke="#111" stroke-width="0.65" fill-opacity="0.92"/>
<circle cx="554.8" cy="82.8" r="2.5" fill="#281a40" stroke="#111" stroke-width="0.65" fill-opacity="0.92"/>
<circle cx="522.3" cy="101.5" r="2.5" fill="#281a40" stroke="#111" stroke-width="0.65" fill-opacity="0.92"/>
<circle cx="549.6" cy="87.1" r="2.5" fill="#281a40" stroke="#111" stroke-width="0.65" fill-opacity="0.92"/>
<circle cx="573.2" cy="82.5" r="2.5" fill="#281a40" stroke="#111" stroke-width="0.65" fill-opacity="0.92"/>
<circle cx="552.0" cy="87.5" r="2.5" fill="#5c2c83" stroke="#111" stroke-width="0.65" fill-opacity="0.92"/>
<circle cx="593.5" cy="70.0" r="2.5" fill="#281a40" stroke="#111" stroke-width="0.65" fill-opacity="0.92"/>
<circle cx="605.2" cy="65.7" r="2.5" fill="#281a40" stroke="#111" stroke-width="0.65" fill-opacity="0.92"/>
<circle cx="594.8" cy="71.9" r="2.5" fill="#281a40" stroke="#111" stroke-width="0.65" fill-opacity="0.92"/>
<circle cx="530.8" cy="92.9" r="2.5" fill="#281a40" stroke="#111" stroke-width="0.65" fill-opacity="0.92"/>
<circle cx="478.8" cy="123.1" r="2.5" fill="#281a40" stroke="#111" stroke-width="0.65" fill-opacity="0.92"/>
<circle cx="482.4" cy="112.0" r="2.5" fill="#281a40" stroke="#111" stroke-width="0.65" fill-opacity="0.92"/>
<circle cx="488.8" cy="119.3" r="2.5" fill="#281a40" stroke="#111" stroke-width="0.65" fill-opacity="0.92"/>
<circle cx="612.0" cy="65.3" r="2.5" fill="#281a40" stroke="#111" stroke-width="0.65" fill-opacity="0.92"/>
<circle cx="436.9" cy="110.0" r="2.5" fill="#281a40" stroke="#111" stroke-width="0.65" fill-opacity="0.92"/>
<circle cx="436.9" cy="115.0" r="2.5" fill="#281a40" stroke="#111" stroke-width="0.65" fill-opacity="0.92"/>
<circle cx="446.4" cy="125.8" r="2.5" fill="#281a40" stroke="#111" stroke-width="0.65" fill-opacity="0.92"/>
<circle cx="453.2" cy="120.8" r="2.5" fill="#281a40" stroke="#111" stroke-width="0.65" fill-opacity="0.92"/>
<circle cx="458.5" cy="111.5" r="2.5" fill="#281a40" stroke="#111" stroke-width="0.65" fill-opacity="0.92"/>
<circle cx="458.5" cy="128.3" r="2.5" fill="#281a40" stroke="#111" stroke-width="0.65" fill-opacity="0.92"/>
<circle cx="462.8" cy="105.8" r="2.5" fill="#281a40" stroke="#111" stroke-width="0.65" fill-opacity="0.92"/>
<circle cx="472.3" cy="118.3" r="2.5" fill="#281a40" stroke="#111" stroke-width="0.65" fill-opacity="0.92"/>
<circle cx="476.7" cy="156.7" r="2.5" fill="#281a40" stroke="#111" stroke-width="0.65" fill-opacity="0.92"/>
<circle cx="492.2" cy="104.7" r="2.5" fill="#281a40" stroke="#111" stroke-width="0.65" fill-opacity="0.92"/>
<circle cx="497.0" cy="102.4" r="2.5" fill="#281a40" stroke="#111" stroke-width="0.65" fill-opacity="0.92"/>
<circle cx="508.2" cy="93.3" r="2.5" fill="#281a40" stroke="#111" stroke-width="0.65" fill-opacity="0.92"/>
<circle cx="514.4" cy="87.1" r="2.5" fill="#281a40" stroke="#111" stroke-width="0.65" fill-opacity="0.92"/>
<circle cx="512.4" cy="103.0" r="2.5" fill="#281a40" stroke="#111" stroke-width="0.65" fill-opacity="0.92"/>
<circle cx="495.0" cy="108.0" r="2.5" fill="#5c2c83" stroke="#111" stroke-width="0.65" fill-opacity="0.92"/>
<circle cx="475.6" cy="105.6" r="2.5" fill="#281a40" stroke="#111" stroke-width="0.65" fill-opacity="0.92"/>
<circle cx="486.7" cy="116.7" r="2.5" fill="#281a40" stroke="#111" stroke-width="0.65" fill-opacity="0.92"/>
<circle cx="497.8" cy="119.4" r="2.5" fill="#281a40" stroke="#111" stroke-width="0.65" fill-opacity="0.92"/>
<circle cx="485.3" cy="122.9" r="2.5" fill="#281a40" stroke="#111" stroke-width="0.65" fill-opacity="0.92"/>
<circle cx="482.5" cy="119.4" r="2.5" fill="#281a40" stroke="#111" stroke-width="0.65" fill-opacity="0.92"/>
<circle cx="513.0" cy="112.5" r="2.5" fill="#281a40" stroke="#111" stroke-width="0.65" fill-opacity="0.92"/>
<circle cx="515.8" cy="108.3" r="2.5" fill="#281a40" stroke="#111" stroke-width="0.65" fill-opacity="0.92"/>
<circle cx="486.7" cy="134.7" r="2.5" fill="#5c2c83" stroke="#111" stroke-width="0.65" fill-opacity="0.92"/>
<circle cx="473.3" cy="118.3" r="2.5" fill="#281a40" stroke="#111" stroke-width="0.65" fill-opacity="0.92"/>
<circle cx="476.7" cy="115.0" r="2.5" fill="#281a40" stroke="#111" stroke-width="0.65" fill-opacity="0.92"/>
<circle cx="495.0" cy="97.5" r="2.5" fill="#281a40" stroke="#111" stroke-width="0.65" fill-opacity="0.92"/>
<circle cx="491.7" cy="105.0" r="2.5" fill="#281a40" stroke="#111" stroke-width="0.65" fill-opacity="0.92"/>
<circle cx="490.0" cy="112.5" r="2.5" fill="#281a40" stroke="#111" stroke-width="0.65" fill-opacity="0.92"/>
<circle cx="495.0" cy="116.7" r="2.5" fill="#281a40" stroke="#111" stroke-width="0.65" fill-opacity="0.92"/>
<circle cx="485.0" cy="115.8" r="2.5" fill="#281a40" stroke="#111" stroke-width="0.65" fill-opacity="0.92"/>
<circle cx="481.7" cy="123.3" r="2.5" fill="#281a40" stroke="#111" stroke-width="0.65" fill-opacity="0.92"/>
<circle cx="486.7" cy="134.4" r="2.5" fill="#5c2c83" stroke="#111" stroke-width="0.65" fill-opacity="0.92"/>
<circle cx="458.2" cy="141.6" r="2.5" fill="#281a40" stroke="#111" stroke-width="0.65" fill-opacity="0.92"/>
<circle cx="515.0" cy="86.7" r="2.5" fill="#281a40" stroke="#111" stroke-width="0.65" fill-opacity="0.92"/>
<circle cx="528.3" cy="83.3" r="2.5" fill="#281a40" stroke="#111" stroke-width="0.65" fill-opacity="0.92"/>
<circle cx="550.0" cy="82.5" r="2.5" fill="#281a40" stroke="#111" stroke-width="0.65" fill-opacity="0.92"/>
<circle cx="554.2" cy="80.8" r="2.5" fill="#281a40" stroke="#111" stroke-width="0.65" fill-opacity="0.92"/>
<circle cx="557.5" cy="77.5" r="2.5" fill="#281a40" stroke="#111" stroke-width="0.65" fill-opacity="0.92"/>
<circle cx="505.0" cy="95.0" r="2.5" fill="#281a40" stroke="#111" stroke-width="0.65" fill-opacity="0.92"/>
<circle cx="513.3" cy="103.3" r="2.5" fill="#281a40" stroke="#111" stroke-width="0.65" fill-opacity="0.92"/>
<circle cx="521.7" cy="100.0" r="2.5" fill="#281a40" stroke="#111" stroke-width="0.65" fill-opacity="0.92"/>
<circle cx="525.0" cy="103.3" r="2.5" fill="#281a40" stroke="#111" stroke-width="0.65" fill-opacity="0.92"/>
<circle cx="520.0" cy="108.3" r="2.5" fill="#281a40" stroke="#111" stroke-width="0.65" fill-opacity="0.92"/>
<circle cx="529.2" cy="108.3" r="2.5" fill="#281a40" stroke="#111" stroke-width="0.65" fill-opacity="0.92"/>
<circle cx="538.3" cy="104.2" r="2.5" fill="#281a40" stroke="#111" stroke-width="0.65" fill-opacity="0.92"/>
<circle cx="540.0" cy="100.0" r="2.5" fill="#5c2c83" stroke="#111" stroke-width="0.65" fill-opacity="0.92"/>
<circle cx="545.0" cy="100.0" r="2.5" fill="#281a40" stroke="#111" stroke-width="0.65" fill-opacity="0.92"/>
<circle cx="548.3" cy="103.3" r="2.5" fill="#281a40" stroke="#111" stroke-width="0.65" fill-opacity="0.92"/>
<circle cx="522.0" cy="91.0" r="2.5" fill="#281a40" stroke="#111" stroke-width="0.65" fill-opacity="0.92"/>
<circle cx="545.0" cy="96.7" r="2.5" fill="#281a40" stroke="#111" stroke-width="0.65" fill-opacity="0.92"/>
<circle cx="556.7" cy="96.7" r="2.5" fill="#281a40" stroke="#111" stroke-width="0.65" fill-opacity="0.92"/>
<circle cx="569.2" cy="85.8" r="2.5" fill="#281a40" stroke="#111" stroke-width="0.65" fill-opacity="0.92"/>
<circle cx="571.7" cy="83.3" r="2.5" fill="#281a40" stroke="#111" stroke-width="0.65" fill-opacity="0.92"/>
<circle cx="571.0" cy="72.0" r="2.5" fill="#8a3580" stroke="#111" stroke-width="0.65" fill-opacity="0.92"/>
<circle cx="420.6" cy="222.5" r="2.6" fill="#281a40" stroke="#111" stroke-width="0.65" fill-opacity="0.92"/>
<circle cx="462.8" cy="151.1" r="2.6" fill="#281a40" stroke="#111" stroke-width="0.65" fill-opacity="0.92"/>
<circle cx="592.9" cy="72.5" r="2.8" fill="#281a40" stroke="#111" stroke-width="0.65" fill-opacity="0.92"/>
<circle cx="554.3" cy="83.1" r="2.8" fill="#281a40" stroke="#111" stroke-width="0.65" fill-opacity="0.92"/>
<circle cx="516.1" cy="95.5" r="2.8" fill="#281a40" stroke="#111" stroke-width="0.65" fill-opacity="0.92"/>
<circle cx="492.7" cy="110.3" r="2.8" fill="#5c2c83" stroke="#111" stroke-width="0.65" fill-opacity="0.92"/>
<circle cx="612.3" cy="64.3" r="2.8" fill="#5c2c83" stroke="#111" stroke-width="0.65" fill-opacity="0.92"/>
<circle cx="576.9" cy="78.0" r="2.8" fill="#5c2c83" stroke="#111" stroke-width="0.65" fill-opacity="0.92"/>
<circle cx="487.3" cy="100.5" r="2.8" fill="#281a40" stroke="#111" stroke-width="0.65" fill-opacity="0.92"/>
<circle cx="528.6" cy="96.7" r="2.8" fill="#281a40" stroke="#111" stroke-width="0.65" fill-opacity="0.92"/>
<circle cx="584.1" cy="78.2" r="2.8" fill="#281a40" stroke="#111" stroke-width="0.65" fill-opacity="0.92"/>
<circle cx="537.5" cy="94.8" r="2.8" fill="#281a40" stroke="#111" stroke-width="0.65" fill-opacity="0.92"/>
<circle cx="614.6" cy="61.4" r="2.8" fill="#281a40" stroke="#111" stroke-width="0.65" fill-opacity="0.92"/>
<circle cx="493.2" cy="109.7" r="2.8" fill="#281a40" stroke="#111" stroke-width="0.65" fill-opacity="0.92"/>
<circle cx="576.1" cy="82.0" r="2.8" fill="#281a40" stroke="#111" stroke-width="0.65" fill-opacity="0.92"/>
<circle cx="495.8" cy="109.5" r="2.8" fill="#5c2c83" stroke="#111" stroke-width="0.65" fill-opacity="0.92"/>
<circle cx="548.7" cy="86.2" r="2.8" fill="#5c2c83" stroke="#111" stroke-width="0.65" fill-opacity="0.92"/>
<circle cx="502.2" cy="101.6" r="2.8" fill="#281a40" stroke="#111" stroke-width="0.65" fill-opacity="0.92"/>
<circle cx="562.3" cy="86.1" r="2.8" fill="#5c2c83" stroke="#111" stroke-width="0.65" fill-opacity="0.92"/>
<circle cx="504.4" cy="103.6" r="2.8" fill="#281a40" stroke="#111" stroke-width="0.65" fill-opacity="0.92"/>
<circle cx="481.9" cy="111.3" r="2.8" fill="#281a40" stroke="#111" stroke-width="0.65" fill-opacity="0.92"/>
<circle cx="420.6" cy="194.3" r="2.8" fill="#281a40" stroke="#111" stroke-width="0.65" fill-opacity="0.92"/>
<circle cx="458.5" cy="151.8" r="2.8" fill="#281a40" stroke="#111" stroke-width="0.65" fill-opacity="0.92"/>
<circle cx="436.9" cy="120.8" r="3.0" fill="#5c2c83" stroke="#111" stroke-width="0.65" fill-opacity="0.92"/>
<circle cx="436.9" cy="146.7" r="3.0" fill="#5c2c83" stroke="#111" stroke-width="0.65" fill-opacity="0.92"/>
<circle cx="446.4" cy="194.4" r="3.0" fill="#281a40" stroke="#111" stroke-width="0.65" fill-opacity="0.92"/>
<circle cx="462.8" cy="117.6" r="3.0" fill="#281a40" stroke="#111" stroke-width="0.65" fill-opacity="0.92"/>
<circle cx="462.8" cy="149.5" r="3.0" fill="#5c2c83" stroke="#111" stroke-width="0.65" fill-opacity="0.92"/>
<circle cx="505.4" cy="96.1" r="3.0" fill="#5c2c83" stroke="#111" stroke-width="0.65" fill-opacity="0.92"/>
<circle cx="506.8" cy="101.0" r="3.0" fill="#5c2c83" stroke="#111" stroke-width="0.65" fill-opacity="0.92"/>
<circle cx="478.3" cy="119.4" r="3.0" fill="#5c2c83" stroke="#111" stroke-width="0.65" fill-opacity="0.92"/>
<circle cx="471.4" cy="124.3" r="3.0" fill="#5c2c83" stroke="#111" stroke-width="0.65" fill-opacity="0.92"/>
<circle cx="493.6" cy="109.7" r="3.0" fill="#5c2c83" stroke="#111" stroke-width="0.65" fill-opacity="0.92"/>
<circle cx="489.4" cy="112.5" r="3.0" fill="#281a40" stroke="#111" stroke-width="0.65" fill-opacity="0.92"/>
<circle cx="497.8" cy="113.2" r="3.0" fill="#281a40" stroke="#111" stroke-width="0.65" fill-opacity="0.92"/>
<circle cx="502.0" cy="116.7" r="3.0" fill="#5c2c83" stroke="#111" stroke-width="0.65" fill-opacity="0.92"/>
<circle cx="515.8" cy="116.7" r="3.0" fill="#5c2c83" stroke="#111" stroke-width="0.65" fill-opacity="0.92"/>
<circle cx="507.5" cy="106.2" r="3.0" fill="#5c2c83" stroke="#111" stroke-width="0.65" fill-opacity="0.92"/>
<circle cx="479.2" cy="120.0" r="3.0" fill="#5c2c83" stroke="#111" stroke-width="0.65" fill-opacity="0.92"/>
<circle cx="495.0" cy="109.2" r="3.0" fill="#5c2c83" stroke="#111" stroke-width="0.65" fill-opacity="0.92"/>
<circle cx="527.5" cy="86.7" r="3.0" fill="#5c2c83" stroke="#111" stroke-width="0.65" fill-opacity="0.92"/>
<circle cx="533.3" cy="91.7" r="3.0" fill="#5c2c83" stroke="#111" stroke-width="0.65" fill-opacity="0.92"/>
<circle cx="506.7" cy="100.0" r="3.0" fill="#5c2c83" stroke="#111" stroke-width="0.65" fill-opacity="0.92"/>
<circle cx="533.3" cy="105.0" r="3.0" fill="#5c2c83" stroke="#111" stroke-width="0.65" fill-opacity="0.92"/>
<circle cx="516.7" cy="115.0" r="3.0" fill="#5c2c83" stroke="#111" stroke-width="0.65" fill-opacity="0.92"/>
<circle cx="564.2" cy="90.0" r="3.0" fill="#5c2c83" stroke="#111" stroke-width="0.65" fill-opacity="0.92"/>
<circle cx="559.2" cy="90.8" r="3.0" fill="#5c2c83" stroke="#111" stroke-width="0.65" fill-opacity="0.92"/>
<circle cx="575.8" cy="74.2" r="3.0" fill="#5c2c83" stroke="#111" stroke-width="0.65" fill-opacity="0.92"/>
<circle cx="575.0" cy="80.0" r="3.0" fill="#281a40" stroke="#111" stroke-width="0.65" fill-opacity="0.92"/>
<circle cx="556.7" cy="78.3" r="3.0" fill="#5c2c83" stroke="#111" stroke-width="0.65" fill-opacity="0.92"/>
<circle cx="591.9" cy="63.5" r="3.0" fill="#cc5a86" stroke="#111" stroke-width="0.65" fill-opacity="0.92"/>
<circle cx="565.0" cy="76.0" r="3.0" fill="#8a3580" stroke="#111" stroke-width="0.65" fill-opacity="0.92"/>
<circle cx="479.0" cy="98.3" r="3.1" fill="#5c2c83" stroke="#111" stroke-width="0.65" fill-opacity="0.92"/>
<circle cx="420.6" cy="121.7" r="3.2" fill="#5c2c83" stroke="#111" stroke-width="0.65" fill-opacity="0.92"/>
<circle cx="420.6" cy="129.2" r="3.2" fill="#5c2c83" stroke="#111" stroke-width="0.65" fill-opacity="0.92"/>
<circle cx="507.5" cy="114.6" r="3.2" fill="#8a3580" stroke="#111" stroke-width="0.65" fill-opacity="0.92"/>
<circle cx="458.5" cy="141.6" r="3.3" fill="#281a40" stroke="#111" stroke-width="0.65" fill-opacity="0.92"/>
<circle cx="457.5" cy="112.5" r="3.3" fill="#5c2c83" stroke="#111" stroke-width="0.65" fill-opacity="0.92"/>
<circle cx="530.8" cy="97.5" r="3.3" fill="#8a3580" stroke="#111" stroke-width="0.65" fill-opacity="0.92"/>
<circle cx="551.7" cy="94.2" r="3.3" fill="#8a3580" stroke="#111" stroke-width="0.65" fill-opacity="0.92"/>
<circle cx="436.9" cy="164.8" r="3.5" fill="#281a40" stroke="#111" stroke-width="0.65" fill-opacity="0.92"/>
<circle cx="462.8" cy="110.0" r="3.5" fill="#5c2c83" stroke="#111" stroke-width="0.65" fill-opacity="0.92"/>
<circle cx="469.5" cy="124.3" r="3.5" fill="#5c2c83" stroke="#111" stroke-width="0.65" fill-opacity="0.92"/>
<circle cx="517.2" cy="94.7" r="3.5" fill="#8a3580" stroke="#111" stroke-width="0.65" fill-opacity="0.92"/>
<circle cx="462.5" cy="110.0" r="3.5" fill="#5c2c83" stroke="#111" stroke-width="0.65" fill-opacity="0.92"/>
<circle cx="518.3" cy="95.0" r="3.5" fill="#8a3580" stroke="#111" stroke-width="0.65" fill-opacity="0.92"/>
<circle cx="541.7" cy="95.8" r="3.5" fill="#8a3580" stroke="#111" stroke-width="0.65" fill-opacity="0.92"/>
<circle cx="591.7" cy="63.8" r="3.6" fill="#dc5a45" stroke="#111" stroke-width="0.65" fill-opacity="0.92"/>
<circle cx="546.7" cy="85.8" r="3.9" fill="#cc5a86" stroke="#111" stroke-width="0.65" fill-opacity="0.92"/>
<circle cx="436.9" cy="141.4" r="4.0" fill="#8a3580" stroke="#111" stroke-width="0.65" fill-opacity="0.92"/>
<circle cx="436.9" cy="175.8" r="4.0" fill="#8a3580" stroke="#111" stroke-width="0.65" fill-opacity="0.92"/>
<circle cx="446.4" cy="120.8" r="4.0" fill="#5c2c83" stroke="#111" stroke-width="0.65" fill-opacity="0.92"/>
<circle cx="601.0" cy="64.5" r="4.0" fill="#dc5a45" stroke="#111" stroke-width="0.65" fill-opacity="0.92"/>
<circle cx="479.0" cy="130.3" r="4.2" fill="#c24f68" stroke="#111" stroke-width="0.65" fill-opacity="0.92"/>
<circle cx="540.0" cy="89.2" r="4.2" fill="#c24f68" stroke="#111" stroke-width="0.65" fill-opacity="0.92"/>
<circle cx="436.9" cy="135.0" r="4.3" fill="#8a3580" stroke="#111" stroke-width="0.65" fill-opacity="0.92"/>
<circle cx="569.2" cy="77.5" r="4.5" fill="#dc5a45" stroke="#111" stroke-width="0.65" fill-opacity="0.92"/>
<circle cx="606.4" cy="64.5" r="4.5" fill="#ee7434" stroke="#111" stroke-width="0.65" fill-opacity="0.92"/>
<circle cx="615.0" cy="60.0" r="4.5" fill="#ee7434" stroke="#111" stroke-width="0.65" fill-opacity="0.92"/>
<circle cx="596.7" cy="66.9" r="4.6" fill="#ee7434" stroke="#111" stroke-width="0.65" fill-opacity="0.92"/>
<circle cx="605.0" cy="63.3" r="4.6" fill="#ee7434" stroke="#111" stroke-width="0.65" fill-opacity="0.92"/>
<circle cx="611.7" cy="62.2" r="5.0" fill="#ee7434" stroke="#111" stroke-width="0.65" fill-opacity="0.92"/>
<circle cx="623.5" cy="62.5" r="5.0" fill="#ee7434" stroke="#111" stroke-width="0.65" fill-opacity="0.92"/>
<circle cx="580.8" cy="71.7" r="5.5" fill="#f3bf4a" stroke="#111" stroke-width="0.65" fill-opacity="0.92"/>
<circle cx="620.1" cy="61.0" r="5.5" fill="#ee7434" stroke="#111" stroke-width="0.65" fill-opacity="0.92"/>
<circle cx="484.5" cy="104.9" r="5.9" fill="#eeeaa0" stroke="#111" stroke-width="0.65" fill-opacity="0.92"/>
<circle cx="562.0" cy="82.0" r="6.0" fill="#eeeaa0" stroke="#111" stroke-width="0.65" fill-opacity="0.92"/>
<circle cx="587.5" cy="69.5" r="6.0" fill="#eeeaa0" stroke="#111" stroke-width="0.65" fill-opacity="0.92"/>
<circle cx="585.5" cy="72.3" r="6.6" fill="#eeeaa0" stroke="#111" stroke-width="0.65" fill-opacity="0.92"/>
</g>
<line x1="420.60" y1="150.70" x2="633.10" y2="53.30" stroke="#000" stroke-width="1.2"/>
<rect x="420.60" y="30.30" width="216.80" height="214.20" fill="none" stroke="#3a3a3a" stroke-width="0.8"/>
<line x1="420.60" y1="244.50" x2="420.60" y2="247.30" stroke="#3a3a3a" stroke-width="0.7"/>
<line x1="436.92" y1="244.50" x2="436.92" y2="246.10" stroke="#3a3a3a" stroke-width="0.5"/>
<line x1="446.46" y1="244.50" x2="446.46" y2="246.10" stroke="#3a3a3a" stroke-width="0.5"/>
<line x1="453.23" y1="244.50" x2="453.23" y2="246.10" stroke="#3a3a3a" stroke-width="0.5"/>
<line x1="458.48" y1="244.50" x2="458.48" y2="246.10" stroke="#3a3a3a" stroke-width="0.5"/>
<line x1="462.78" y1="244.50" x2="462.78" y2="246.10" stroke="#3a3a3a" stroke-width="0.5"/>
<line x1="466.40" y1="244.50" x2="466.40" y2="246.10" stroke="#3a3a3a" stroke-width="0.5"/>
<line x1="469.55" y1="244.50" x2="469.55" y2="246.10" stroke="#3a3a3a" stroke-width="0.5"/>
<line x1="472.32" y1="244.50" x2="472.32" y2="246.10" stroke="#3a3a3a" stroke-width="0.5"/>
<text x="412.00" y="260.0" font-size="10.2">10</text><text x="423.80" y="252.4" font-size="7.2">0</text>
<line x1="474.80" y1="244.50" x2="474.80" y2="247.30" stroke="#3a3a3a" stroke-width="0.7"/>
<line x1="491.12" y1="244.50" x2="491.12" y2="246.10" stroke="#3a3a3a" stroke-width="0.5"/>
<line x1="500.66" y1="244.50" x2="500.66" y2="246.10" stroke="#3a3a3a" stroke-width="0.5"/>
<line x1="507.43" y1="244.50" x2="507.43" y2="246.10" stroke="#3a3a3a" stroke-width="0.5"/>
<line x1="512.68" y1="244.50" x2="512.68" y2="246.10" stroke="#3a3a3a" stroke-width="0.5"/>
<line x1="516.98" y1="244.50" x2="516.98" y2="246.10" stroke="#3a3a3a" stroke-width="0.5"/>
<line x1="520.60" y1="244.50" x2="520.60" y2="246.10" stroke="#3a3a3a" stroke-width="0.5"/>
<line x1="523.75" y1="244.50" x2="523.75" y2="246.10" stroke="#3a3a3a" stroke-width="0.5"/>
<line x1="526.52" y1="244.50" x2="526.52" y2="246.10" stroke="#3a3a3a" stroke-width="0.5"/>
<text x="466.20" y="260.0" font-size="10.2">10</text><text x="478.00" y="252.4" font-size="7.2">1</text>
<line x1="529.00" y1="244.50" x2="529.00" y2="247.30" stroke="#3a3a3a" stroke-width="0.7"/>
<line x1="545.32" y1="244.50" x2="545.32" y2="246.10" stroke="#3a3a3a" stroke-width="0.5"/>
<line x1="554.86" y1="244.50" x2="554.86" y2="246.10" stroke="#3a3a3a" stroke-width="0.5"/>
<line x1="561.63" y1="244.50" x2="561.63" y2="246.10" stroke="#3a3a3a" stroke-width="0.5"/>
<line x1="566.88" y1="244.50" x2="566.88" y2="246.10" stroke="#3a3a3a" stroke-width="0.5"/>
<line x1="571.18" y1="244.50" x2="571.18" y2="246.10" stroke="#3a3a3a" stroke-width="0.5"/>
<line x1="574.80" y1="244.50" x2="574.80" y2="246.10" stroke="#3a3a3a" stroke-width="0.5"/>
<line x1="577.95" y1="244.50" x2="577.95" y2="246.10" stroke="#3a3a3a" stroke-width="0.5"/>
<line x1="580.72" y1="244.50" x2="580.72" y2="246.10" stroke="#3a3a3a" stroke-width="0.5"/>
<text x="520.40" y="260.0" font-size="10.2">10</text><text x="532.20" y="252.4" font-size="7.2">2</text>
<line x1="583.20" y1="244.50" x2="583.20" y2="247.30" stroke="#3a3a3a" stroke-width="0.7"/>
<line x1="599.52" y1="244.50" x2="599.52" y2="246.10" stroke="#3a3a3a" stroke-width="0.5"/>
<line x1="609.06" y1="244.50" x2="609.06" y2="246.10" stroke="#3a3a3a" stroke-width="0.5"/>
<line x1="615.83" y1="244.50" x2="615.83" y2="246.10" stroke="#3a3a3a" stroke-width="0.5"/>
<line x1="621.08" y1="244.50" x2="621.08" y2="246.10" stroke="#3a3a3a" stroke-width="0.5"/>
<line x1="625.38" y1="244.50" x2="625.38" y2="246.10" stroke="#3a3a3a" stroke-width="0.5"/>
<line x1="629.00" y1="244.50" x2="629.00" y2="246.10" stroke="#3a3a3a" stroke-width="0.5"/>
<line x1="632.15" y1="244.50" x2="632.15" y2="246.10" stroke="#3a3a3a" stroke-width="0.5"/>
<line x1="634.92" y1="244.50" x2="634.92" y2="246.10" stroke="#3a3a3a" stroke-width="0.5"/>
<text x="574.60" y="260.0" font-size="10.2">10</text><text x="586.40" y="252.4" font-size="7.2">3</text>
<line x1="637.40" y1="244.50" x2="637.40" y2="247.30" stroke="#3a3a3a" stroke-width="0.7"/>
<text x="628.80" y="260.0" font-size="10.2">10</text><text x="640.60" y="252.4" font-size="7.2">4</text>
<line x1="417.80" y1="244.50" x2="420.60" y2="244.50" stroke="#3a3a3a" stroke-width="0.7"/>
<line x1="419.00" y1="223.01" x2="420.60" y2="223.01" stroke="#3a3a3a" stroke-width="0.5"/>
<line x1="419.00" y1="210.43" x2="420.60" y2="210.43" stroke="#3a3a3a" stroke-width="0.5"/>
<line x1="419.00" y1="201.51" x2="420.60" y2="201.51" stroke="#3a3a3a" stroke-width="0.5"/>
<line x1="419.00" y1="194.59" x2="420.60" y2="194.59" stroke="#3a3a3a" stroke-width="0.5"/>
<line x1="419.00" y1="188.94" x2="420.60" y2="188.94" stroke="#3a3a3a" stroke-width="0.5"/>
<line x1="419.00" y1="184.16" x2="420.60" y2="184.16" stroke="#3a3a3a" stroke-width="0.5"/>
<line x1="419.00" y1="180.02" x2="420.60" y2="180.02" stroke="#3a3a3a" stroke-width="0.5"/>
<line x1="419.00" y1="176.37" x2="420.60" y2="176.37" stroke="#3a3a3a" stroke-width="0.5"/>
<text x="399.3" y="249.90" font-size="10.2">10</text><text x="411.0" y="242.60" font-size="7.2">0</text>
<line x1="417.80" y1="173.10" x2="420.60" y2="173.10" stroke="#3a3a3a" stroke-width="0.7"/>
<line x1="419.00" y1="151.61" x2="420.60" y2="151.61" stroke="#3a3a3a" stroke-width="0.5"/>
<line x1="419.00" y1="139.03" x2="420.60" y2="139.03" stroke="#3a3a3a" stroke-width="0.5"/>
<line x1="419.00" y1="130.11" x2="420.60" y2="130.11" stroke="#3a3a3a" stroke-width="0.5"/>
<line x1="419.00" y1="123.19" x2="420.60" y2="123.19" stroke="#3a3a3a" stroke-width="0.5"/>
<line x1="419.00" y1="117.54" x2="420.60" y2="117.54" stroke="#3a3a3a" stroke-width="0.5"/>
<line x1="419.00" y1="112.76" x2="420.60" y2="112.76" stroke="#3a3a3a" stroke-width="0.5"/>
<line x1="419.00" y1="108.62" x2="420.60" y2="108.62" stroke="#3a3a3a" stroke-width="0.5"/>
<line x1="419.00" y1="104.97" x2="420.60" y2="104.97" stroke="#3a3a3a" stroke-width="0.5"/>
<text x="399.3" y="178.50" font-size="10.2">10</text><text x="411.0" y="171.20" font-size="7.2">1</text>
<line x1="417.80" y1="101.70" x2="420.60" y2="101.70" stroke="#3a3a3a" stroke-width="0.7"/>
<line x1="419.00" y1="80.21" x2="420.60" y2="80.21" stroke="#3a3a3a" stroke-width="0.5"/>
<line x1="419.00" y1="67.63" x2="420.60" y2="67.63" stroke="#3a3a3a" stroke-width="0.5"/>
<line x1="419.00" y1="58.71" x2="420.60" y2="58.71" stroke="#3a3a3a" stroke-width="0.5"/>
<line x1="419.00" y1="51.79" x2="420.60" y2="51.79" stroke="#3a3a3a" stroke-width="0.5"/>
<line x1="419.00" y1="46.14" x2="420.60" y2="46.14" stroke="#3a3a3a" stroke-width="0.5"/>
<line x1="419.00" y1="41.36" x2="420.60" y2="41.36" stroke="#3a3a3a" stroke-width="0.5"/>
<line x1="419.00" y1="37.22" x2="420.60" y2="37.22" stroke="#3a3a3a" stroke-width="0.5"/>
<line x1="419.00" y1="33.57" x2="420.60" y2="33.57" stroke="#3a3a3a" stroke-width="0.5"/>
<text x="399.3" y="107.10" font-size="10.2">10</text><text x="411.0" y="99.80" font-size="7.2">2</text>
<line x1="417.80" y1="30.30" x2="420.60" y2="30.30" stroke="#3a3a3a" stroke-width="0.7"/>
<text x="399.3" y="35.70" font-size="10.2">10</text><text x="411.0" y="28.40" font-size="7.2">3</text>
<circle cx="442.3" cy="46.0" r="4.6" fill="#333" stroke="#111" stroke-width="0.5"/>
<line x1="430.20" y1="61.00" x2="454.00" y2="61.00" stroke="#000" stroke-width="1.2"/>
<text x="463.10" y="49.30" font-size="11.2" textLength="134.20" lengthAdjust="spacingAndGlyphs" fill="#000">Durations of high exposure</text>
<text x="463.10" y="64.70" font-size="11.2" textLength="47.70" lengthAdjust="spacingAndGlyphs" fill="#000">Fitted line</text>
<text x="458.4" y="206.3" font-size="12.2">lg(<tspan font-style="italic">T</tspan><tspan font-size="8.6" dy="2.6" font-style="italic">Days</tspan><tspan dy="-2.6">) = 0.35·lg(</tspan><tspan font-style="italic">T</tspan><tspan font-size="8.6" dy="2.6" font-style="italic">Hours</tspan><tspan dy="-2.6">) + 1.30</tspan></text>
<rect x="421.80" y="283.10" width="6.90" height="32.20" fill="#ff0000" stroke="#d8d8d8" stroke-width="0.5"/>
<rect x="436.90" y="286.80" width="6.90" height="28.50" fill="#ff0000" stroke="#d8d8d8" stroke-width="0.5"/>
<rect x="444.60" y="293.20" width="6.50" height="22.10" fill="#ff0000" stroke="#d8d8d8" stroke-width="0.5"/>
<rect x="451.60" y="303.10" width="6.80" height="12.20" fill="#ff0000" stroke="#d8d8d8" stroke-width="0.5"/>
<rect x="459.20" y="289.00" width="7.00" height="26.30" fill="#ff0000" stroke="#d8d8d8" stroke-width="0.5"/>
<rect x="466.70" y="290.70" width="6.90" height="24.60" fill="#ff0000" stroke="#d8d8d8" stroke-width="0.5"/>
<rect x="474.10" y="287.00" width="7.00" height="28.30" fill="#ff0000" stroke="#d8d8d8" stroke-width="0.5"/>
<rect x="481.50" y="286.00" width="7.20" height="29.30" fill="#ff0000" stroke="#d8d8d8" stroke-width="0.5"/>
<rect x="489.10" y="291.00" width="7.10" height="24.30" fill="#ff0000" stroke="#d8d8d8" stroke-width="0.5"/>
<rect x="496.60" y="291.50" width="7.00" height="23.80" fill="#ff0000" stroke="#d8d8d8" stroke-width="0.5"/>
<rect x="503.80" y="286.80" width="7.20" height="28.50" fill="#ff0000" stroke="#d8d8d8" stroke-width="0.5"/>
<rect x="511.60" y="288.20" width="6.80" height="27.10" fill="#ff0000" stroke="#d8d8d8" stroke-width="0.5"/>
<rect x="518.80" y="291.90" width="7.30" height="23.40" fill="#ff0000" stroke="#d8d8d8" stroke-width="0.5"/>
<rect x="526.40" y="286.00" width="7.00" height="29.30" fill="#ff0000" stroke="#d8d8d8" stroke-width="0.5"/>
<rect x="533.70" y="285.50" width="7.30" height="29.80" fill="#ff0000" stroke="#d8d8d8" stroke-width="0.5"/>
<rect x="541.60" y="289.20" width="6.70" height="26.10" fill="#ff0000" stroke="#d8d8d8" stroke-width="0.5"/>
<rect x="548.60" y="285.10" width="7.30" height="30.20" fill="#ff0000" stroke="#d8d8d8" stroke-width="0.5"/>
<rect x="556.10" y="281.80" width="7.10" height="33.50" fill="#ff0000" stroke="#d8d8d8" stroke-width="0.5"/>
<rect x="563.80" y="279.00" width="7.30" height="36.30" fill="#ff0000" stroke="#d8d8d8" stroke-width="0.5"/>
<rect x="571.60" y="280.20" width="6.90" height="35.10" fill="#ff0000" stroke="#d8d8d8" stroke-width="0.5"/>
<rect x="578.90" y="278.10" width="7.10" height="37.20" fill="#ff0000" stroke="#d8d8d8" stroke-width="0.5"/>
<rect x="586.40" y="277.40" width="7.00" height="37.90" fill="#ff0000" stroke="#d8d8d8" stroke-width="0.5"/>
<rect x="593.80" y="279.90" width="7.30" height="35.40" fill="#ff0000" stroke="#d8d8d8" stroke-width="0.5"/>
<rect x="601.30" y="285.10" width="7.10" height="30.20" fill="#ff0000" stroke="#d8d8d8" stroke-width="0.5"/>
<rect x="608.70" y="277.80" width="7.30" height="37.50" fill="#ff0000" stroke="#d8d8d8" stroke-width="0.5"/>
<rect x="616.60" y="288.10" width="6.70" height="27.20" fill="#ff0000" stroke="#d8d8d8" stroke-width="0.5"/>
<rect x="421.20" y="270.30" width="216.80" height="45.00" fill="none" stroke="#3a3a3a" stroke-width="0.8"/>
<line x1="421.20" y1="315.30" x2="421.20" y2="317.90" stroke="#3a3a3a" stroke-width="0.7"/>
<line x1="437.52" y1="315.30" x2="437.52" y2="316.80" stroke="#3a3a3a" stroke-width="0.5"/>
<line x1="447.06" y1="315.30" x2="447.06" y2="316.80" stroke="#3a3a3a" stroke-width="0.5"/>
<line x1="453.83" y1="315.30" x2="453.83" y2="316.80" stroke="#3a3a3a" stroke-width="0.5"/>
<line x1="459.08" y1="315.30" x2="459.08" y2="316.80" stroke="#3a3a3a" stroke-width="0.5"/>
<line x1="463.38" y1="315.30" x2="463.38" y2="316.80" stroke="#3a3a3a" stroke-width="0.5"/>
<line x1="467.00" y1="315.30" x2="467.00" y2="316.80" stroke="#3a3a3a" stroke-width="0.5"/>
<line x1="470.15" y1="315.30" x2="470.15" y2="316.80" stroke="#3a3a3a" stroke-width="0.5"/>
<line x1="472.92" y1="315.30" x2="472.92" y2="316.80" stroke="#3a3a3a" stroke-width="0.5"/>
<text x="414.40" y="329.4" font-size="9.0">10</text><text x="424.80" y="322.6" font-size="6.4">0</text>
<line x1="475.40" y1="315.30" x2="475.40" y2="317.90" stroke="#3a3a3a" stroke-width="0.7"/>
<line x1="491.72" y1="315.30" x2="491.72" y2="316.80" stroke="#3a3a3a" stroke-width="0.5"/>
<line x1="501.26" y1="315.30" x2="501.26" y2="316.80" stroke="#3a3a3a" stroke-width="0.5"/>
<line x1="508.03" y1="315.30" x2="508.03" y2="316.80" stroke="#3a3a3a" stroke-width="0.5"/>
<line x1="513.28" y1="315.30" x2="513.28" y2="316.80" stroke="#3a3a3a" stroke-width="0.5"/>
<line x1="517.58" y1="315.30" x2="517.58" y2="316.80" stroke="#3a3a3a" stroke-width="0.5"/>
<line x1="521.20" y1="315.30" x2="521.20" y2="316.80" stroke="#3a3a3a" stroke-width="0.5"/>
<line x1="524.35" y1="315.30" x2="524.35" y2="316.80" stroke="#3a3a3a" stroke-width="0.5"/>
<line x1="527.12" y1="315.30" x2="527.12" y2="316.80" stroke="#3a3a3a" stroke-width="0.5"/>
<text x="468.60" y="329.4" font-size="9.0">10</text><text x="479.00" y="322.6" font-size="6.4">1</text>
<line x1="529.60" y1="315.30" x2="529.60" y2="317.90" stroke="#3a3a3a" stroke-width="0.7"/>
<line x1="545.92" y1="315.30" x2="545.92" y2="316.80" stroke="#3a3a3a" stroke-width="0.5"/>
<line x1="555.46" y1="315.30" x2="555.46" y2="316.80" stroke="#3a3a3a" stroke-width="0.5"/>
<line x1="562.23" y1="315.30" x2="562.23" y2="316.80" stroke="#3a3a3a" stroke-width="0.5"/>
<line x1="567.48" y1="315.30" x2="567.48" y2="316.80" stroke="#3a3a3a" stroke-width="0.5"/>
<line x1="571.78" y1="315.30" x2="571.78" y2="316.80" stroke="#3a3a3a" stroke-width="0.5"/>
<line x1="575.40" y1="315.30" x2="575.40" y2="316.80" stroke="#3a3a3a" stroke-width="0.5"/>
<line x1="578.55" y1="315.30" x2="578.55" y2="316.80" stroke="#3a3a3a" stroke-width="0.5"/>
<line x1="581.32" y1="315.30" x2="581.32" y2="316.80" stroke="#3a3a3a" stroke-width="0.5"/>
<text x="522.80" y="329.4" font-size="9.0">10</text><text x="533.20" y="322.6" font-size="6.4">2</text>
<line x1="583.80" y1="315.30" x2="583.80" y2="317.90" stroke="#3a3a3a" stroke-width="0.7"/>
<line x1="600.12" y1="315.30" x2="600.12" y2="316.80" stroke="#3a3a3a" stroke-width="0.5"/>
<line x1="609.66" y1="315.30" x2="609.66" y2="316.80" stroke="#3a3a3a" stroke-width="0.5"/>
<line x1="616.43" y1="315.30" x2="616.43" y2="316.80" stroke="#3a3a3a" stroke-width="0.5"/>
<line x1="621.68" y1="315.30" x2="621.68" y2="316.80" stroke="#3a3a3a" stroke-width="0.5"/>
<line x1="625.98" y1="315.30" x2="625.98" y2="316.80" stroke="#3a3a3a" stroke-width="0.5"/>
<line x1="629.60" y1="315.30" x2="629.60" y2="316.80" stroke="#3a3a3a" stroke-width="0.5"/>
<line x1="632.75" y1="315.30" x2="632.75" y2="316.80" stroke="#3a3a3a" stroke-width="0.5"/>
<line x1="635.52" y1="315.30" x2="635.52" y2="316.80" stroke="#3a3a3a" stroke-width="0.5"/>
<text x="577.00" y="329.4" font-size="9.0">10</text><text x="587.40" y="322.6" font-size="6.4">3</text>
<line x1="638.00" y1="315.30" x2="638.00" y2="317.90" stroke="#3a3a3a" stroke-width="0.7"/>
<text x="631.20" y="329.4" font-size="9.0">10</text><text x="641.60" y="322.6" font-size="6.4">4</text>
<line x1="418.60" y1="315.30" x2="421.20" y2="315.30" stroke="#3a3a3a" stroke-width="0.7"/>
<line x1="419.70" y1="308.53" x2="421.20" y2="308.53" stroke="#3a3a3a" stroke-width="0.5"/>
<line x1="419.70" y1="304.56" x2="421.20" y2="304.56" stroke="#3a3a3a" stroke-width="0.5"/>
<line x1="419.70" y1="301.75" x2="421.20" y2="301.75" stroke="#3a3a3a" stroke-width="0.5"/>
<line x1="419.70" y1="299.57" x2="421.20" y2="299.57" stroke="#3a3a3a" stroke-width="0.5"/>
<line x1="419.70" y1="297.79" x2="421.20" y2="297.79" stroke="#3a3a3a" stroke-width="0.5"/>
<line x1="419.70" y1="296.29" x2="421.20" y2="296.29" stroke="#3a3a3a" stroke-width="0.5"/>
<line x1="419.70" y1="294.98" x2="421.20" y2="294.98" stroke="#3a3a3a" stroke-width="0.5"/>
<line x1="419.70" y1="293.83" x2="421.20" y2="293.83" stroke="#3a3a3a" stroke-width="0.5"/>
<text x="402.2" y="320.50" font-size="9.6">10</text><text x="412.6" y="315.10" font-size="6.8">4</text>
<line x1="418.60" y1="292.80" x2="421.20" y2="292.80" stroke="#3a3a3a" stroke-width="0.7"/>
<line x1="419.70" y1="286.03" x2="421.20" y2="286.03" stroke="#3a3a3a" stroke-width="0.5"/>
<line x1="419.70" y1="282.06" x2="421.20" y2="282.06" stroke="#3a3a3a" stroke-width="0.5"/>
<line x1="419.70" y1="279.25" x2="421.20" y2="279.25" stroke="#3a3a3a" stroke-width="0.5"/>
<line x1="419.70" y1="277.07" x2="421.20" y2="277.07" stroke="#3a3a3a" stroke-width="0.5"/>
<line x1="419.70" y1="275.29" x2="421.20" y2="275.29" stroke="#3a3a3a" stroke-width="0.5"/>
<line x1="419.70" y1="273.79" x2="421.20" y2="273.79" stroke="#3a3a3a" stroke-width="0.5"/>
<line x1="419.70" y1="272.48" x2="421.20" y2="272.48" stroke="#3a3a3a" stroke-width="0.5"/>
<line x1="419.70" y1="271.33" x2="421.20" y2="271.33" stroke="#3a3a3a" stroke-width="0.5"/>
<text x="402.2" y="298.00" font-size="9.6">10</text><text x="412.6" y="292.60" font-size="6.8">5</text>
<line x1="418.60" y1="270.30" x2="421.20" y2="270.30" stroke="#3a3a3a" stroke-width="0.7"/>
<text x="402.2" y="275.50" font-size="9.6">10</text><text x="412.6" y="270.10" font-size="6.8">6</text>
<text x="344.70" y="290.80" font-size="10" textLength="46.60" lengthAdjust="spacingAndGlyphs" fill="#000">Population</text>
<text x="529.60" y="341.60" font-size="10" text-anchor="middle" textLength="79.70" lengthAdjust="spacingAndGlyphs" fill="#000">Cumulative Hours</text>
<defs><linearGradient id="gc" x1="0" y1="1" x2="0" y2="0"><stop offset="0.00" stop-color="#262629"/><stop offset="0.05" stop-color="#2b2a3d"/><stop offset="0.10" stop-color="#392f56"/><stop offset="0.15" stop-color="#4b2f70"/><stop offset="0.20" stop-color="#5e2e7e"/><stop offset="0.25" stop-color="#703383"/><stop offset="0.30" stop-color="#803984"/><stop offset="0.35" stop-color="#924082"/><stop offset="0.40" stop-color="#a3467d"/><stop offset="0.45" stop-color="#b44d77"/><stop offset="0.50" stop-color="#c5556d"/><stop offset="0.55" stop-color="#d45e63"/><stop offset="0.60" stop-color="#e16a57"/><stop offset="0.65" stop-color="#ec7a49"/><stop offset="0.70" stop-color="#f58b3b"/><stop offset="0.75" stop-color="#fa9f2d"/><stop offset="0.80" stop-color="#fcb22e"/><stop offset="0.85" stop-color="#fbc744"/><stop offset="0.90" stop-color="#f7dd61"/><stop offset="0.95" stop-color="#f3f189"/><stop offset="1.00" stop-color="#fcfeb2"/></linearGradient></defs>
<rect x="650.20" y="30.20" width="11.60" height="214.30" fill="url(#gc)" stroke="#555" stroke-width="0.6"/>
<line x1="661.80" y1="210.30" x2="664.20" y2="210.30" stroke="#333" stroke-width="0.7"/>
<text x="665.40" y="213.90" font-size="10.2" fill="#000">1</text>
<line x1="661.80" y1="172.31" x2="664.20" y2="172.31" stroke="#333" stroke-width="0.7"/>
<text x="665.40" y="175.91" font-size="10.2" fill="#000">2</text>
<line x1="661.80" y1="134.31" x2="664.20" y2="134.31" stroke="#333" stroke-width="0.7"/>
<text x="665.40" y="137.91" font-size="10.2" fill="#000">3</text>
<line x1="661.80" y1="96.31" x2="664.20" y2="96.31" stroke="#333" stroke-width="0.7"/>
<text x="665.40" y="99.91" font-size="10.2" fill="#000">4</text>
<line x1="661.80" y1="58.32" x2="664.20" y2="58.32" stroke="#333" stroke-width="0.7"/>
<text x="665.40" y="61.92" font-size="10.2" fill="#000">5</text>
<text x="635.0" y="28.0" font-size="11.8">×</text><text x="644.8" y="28.6" font-size="10.2">10</text><text x="656.6" y="21.4" font-size="7.2">4</text>
<text x="681.60" y="136.40" font-size="10.8" text-anchor="middle" transform="rotate(-90 681.60 136.40)" textLength="52.00" lengthAdjust="spacingAndGlyphs" fill="#000">Population</text>
<text x="325.40" y="10.30" font-size="14" fill="#000">(c)</text>
</svg></body></html>
